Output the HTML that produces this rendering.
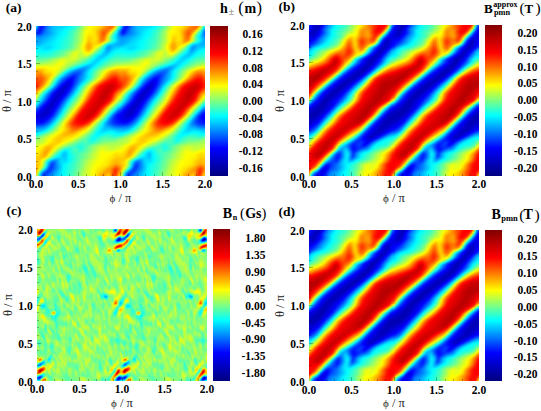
<!DOCTYPE html>
<html><head><meta charset="utf-8"><style>
html,body{margin:0;padding:0;background:#fff;}
body{width:541px;height:411px;position:relative;overflow:hidden;font-family:'Liberation Serif',serif;}
.t{position:absolute;white-space:nowrap;line-height:1;color:#000;}
.b{font-weight:bold;}
.tk{font-size:11.5px;font-weight:bold;}
.hm{position:absolute;display:flex;flex-direction:column;overflow:hidden;}
.hm i{display:block;height:1px;flex:none;background-size:50% 100%!important;background-repeat:repeat-x!important;}
.tm{position:absolute;background:rgba(0,0,0,0.28);}
.cb{position:absolute;background:linear-gradient(to top,#000080 0%,#0000ff 18.5%,#00ffff 40%,#ffff00 60%,#ff0000 81.5%,#800000 100%);}
.ax{position:absolute;font-size:12.5px;color:#222;white-space:nowrap;line-height:1;}
.a0{background:linear-gradient(90deg,#07fff8,#0077ff,#0026ff,#0009ff,#0028ff,#0056ff,#007dff,#0098ff,#00aeff,#00c0ff,#00caff,#00ceff,#00d2ff,#00d6ff,#00dbff,#00e1ff,#00eaff,#00f4ff,#01fffe,#12ffed,#26ffd9,#3bffc4,#54ffab,#75ff8a,#99ff66,#bbff44,#d8ff27,#f1ff0e,#fffc00,#fff400,#ffed00,#ffe500,#ffdb00,#ffca00,#ffb300,#ff9c00,#ff8700,#ff7500,#ff6600,#ff6900,#ffad00,#d9ff26,#4cffb3,#07fff8)}
.a1{background:linear-gradient(90deg,#00e6ff,#0062ff,#001dff,#000eff,#0031ff,#005dff,#0082ff,#009bff,#00b1ff,#00c2ff,#00cbff,#00cfff,#00d4ff,#00d9ff,#00dfff,#00e7ff,#00f0ff,#00fbff,#09fff6,#1affe5,#2effd1,#43ffbc,#5effa1,#7fff80,#a2ff5d,#c3ff3c,#e0ff1f,#f7ff08,#fffa00,#fff200,#ffea00,#ffe100,#ffd400,#ffc100,#ffa900,#ff9300,#ff8000,#ff7200,#ff6900,#ff7d00,#ffcc00,#b7ff48,#2effd1,#00e6ff)}
.a2{background:linear-gradient(90deg,#00c1ff,#0049ff,#0015ff,#0016ff,#003dff,#0067ff,#0088ff,#009fff,#00b3ff,#00c3ff,#00ccff,#00d2ff,#00d8ff,#00deff,#00e6ff,#00efff,#00f9ff,#06fff9,#14ffeb,#25ffda,#39ffc6,#4fffb0,#6bff94,#8bff74,#adff52,#cfff30,#eaff15,#fdff02,#fff600,#ffef00,#ffe700,#ffdb00,#ffc900,#ffb400,#ff9b00,#ff8600,#ff7800,#ff7000,#ff7400,#ff9d00,#fff900,#8dff72,#0bfff4,#00c1ff)}
.a3{background:linear-gradient(90deg,#009eff,#0032ff,#000fff,#0020ff,#0049ff,#0070ff,#008cff,#00a1ff,#00b4ff,#00c3ff,#00ccff,#00d5ff,#00ddff,#00e5ff,#00eeff,#00f9ff,#05fffa,#12ffed,#21ffde,#32ffcd,#45ffba,#5cffa3,#78ff87,#98ff67,#b9ff46,#daff25,#f4ff0b,#fffc00,#fff300,#ffec00,#ffe300,#ffd300,#ffbd00,#ffa400,#ff8a00,#ff7700,#ff7100,#ff7500,#ff8c00,#ffcb00,#d1ff2e,#60ff9f,#00e7ff,#009eff)}
.a4{background:linear-gradient(90deg,#0082ff,#001fff,#000eff,#002cff,#0055ff,#0078ff,#008fff,#00a1ff,#00b4ff,#00c2ff,#00cdff,#00d8ff,#00e2ff,#00ecff,#00f6ff,#02fffd,#0efff1,#1dffe2,#2dffd2,#3dffc2,#50ffaf,#68ff97,#83ff7c,#a1ff5e,#c3ff3c,#e5ff1a,#fbff04,#fff900,#fff200,#ffeb00,#ffe000,#ffcb00,#ffb100,#ff9600,#ff7900,#ff6900,#ff6e00,#ff8100,#ffae00,#fffe00,#9cff63,#39ffc6,#00c9ff,#0082ff)}
.a5{background:linear-gradient(90deg,#006dff,#0013ff,#0012ff,#0037ff,#005eff,#007cff,#008fff,#00a0ff,#00b2ff,#00c1ff,#00ceff,#00dcff,#00e8ff,#00f2ff,#00fcff,#08fff7,#14ffeb,#24ffdb,#34ffcb,#45ffba,#59ffa6,#70ff8f,#8bff74,#a8ff57,#caff35,#edff12,#fffe00,#fff700,#fff100,#ffeb00,#ffdf00,#ffc600,#ffa900,#ff8a00,#ff6b00,#ff5e00,#ff7000,#ff9600,#ffd600,#ceff31,#6eff91,#18ffe7,#00b2ff,#006dff)}
.a6{background:linear-gradient(90deg,#0060ff,#0011ff,#001cff,#0043ff,#0067ff,#007fff,#0090ff,#009fff,#00b0ff,#00c0ff,#00d0ff,#00dfff,#00ecff,#00f5ff,#00ffff,#09fff6,#16ffe9,#27ffd8,#38ffc7,#4affb5,#5effa1,#75ff8a,#8fff70,#abff54,#ceff31,#f2ff0d,#fffc00,#fff500,#fff000,#ffec00,#ffe000,#ffc400,#ffa400,#ff8300,#ff6100,#ff5a00,#ff7900,#ffaf00,#fffe00,#a0ff5f,#48ffb7,#00feff,#00a3ff,#0060ff)}
.a7{background:linear-gradient(90deg,#005dff,#001cff,#002eff,#0053ff,#0071ff,#0084ff,#0093ff,#00a2ff,#00b2ff,#00c2ff,#00d2ff,#00e2ff,#00efff,#00f7ff,#00ffff,#09fff6,#16ffe9,#27ffd8,#39ffc6,#4cffb3,#61ff9e,#78ff87,#91ff6e,#aeff51,#d2ff2d,#f4ff0b,#fffa00,#fff200,#ffee00,#ffec00,#ffe200,#ffc600,#ffa400,#ff8000,#ff5c00,#ff5a00,#ff8600,#ffcc00,#daff25,#79ff86,#2affd5,#00ebff,#009bff,#005dff)}
.a8{background:linear-gradient(90deg,#0064ff,#0034ff,#0048ff,#0067ff,#007eff,#008dff,#009aff,#00a8ff,#00b7ff,#00c7ff,#00d6ff,#00e5ff,#00f0ff,#00f9ff,#02fffd,#0bfff4,#18ffe7,#29ffd6,#3bffc4,#4effb1,#64ff9b,#7bff84,#93ff6c,#b1ff4e,#d5ff2a,#f6ff09,#fff600,#ffec00,#ffe900,#ffea00,#ffe300,#ffc900,#ffa500,#ff7f00,#ff5c00,#ff6000,#ff9900,#ffeb00,#b5ff4a,#5affa5,#14ffeb,#00deff,#0099ff,#0064ff)}
.a9{background:linear-gradient(90deg,#0073ff,#0054ff,#0065ff,#007bff,#008bff,#0098ff,#00a4ff,#00b1ff,#00bfff,#00cdff,#00dbff,#00e8ff,#00f2ff,#00fbff,#05fffa,#0ffff0,#1cffe3,#2cffd3,#3dffc2,#51ffae,#67ff98,#7eff81,#97ff68,#b4ff4b,#d7ff28,#f7ff08,#fff200,#ffe400,#ffe300,#ffe700,#ffe400,#ffcc00,#ffa600,#ff7f00,#ff5f00,#ff6a00,#ffae00,#f5ff0a,#95ff6a,#41ffbe,#05fffa,#00d6ff,#009cff,#0073ff)}
.a10{background:linear-gradient(90deg,#0085ff,#0072ff,#007eff,#008cff,#0098ff,#00a3ff,#00afff,#00bbff,#00c7ff,#00d3ff,#00dfff,#00ebff,#00f5ff,#00feff,#09fff6,#14ffeb,#21ffde,#30ffcf,#40ffbf,#54ffab,#6aff95,#81ff7e,#9aff65,#b8ff47,#d9ff26,#f8ff07,#ffee00,#ffdc00,#ffdc00,#ffe500,#ffe500,#ffcf00,#ffa800,#ff7f00,#ff6300,#ff7500,#ffc200,#ddff22,#7fff80,#33ffcc,#00fcff,#00d3ff,#00a2ff,#0085ff)}
.a11{background:linear-gradient(90deg,#0095ff,#0088ff,#008fff,#0098ff,#00a2ff,#00adff,#00b8ff,#00c3ff,#00ceff,#00d9ff,#00e4ff,#00efff,#00f8ff,#03fffc,#0efff1,#19ffe6,#26ffd9,#33ffcc,#42ffbd,#56ffa9,#6cff93,#83ff7c,#9cff63,#b9ff46,#daff25,#f9ff06,#ffe900,#ffd500,#ffd800,#ffe300,#ffe600,#ffd100,#ffaa00,#ff8000,#ff6800,#ff7f00,#ffd100,#cfff30,#74ff8b,#2fffd0,#00fcff,#00d5ff,#00aaff,#0095ff)}
.a12{background:linear-gradient(90deg,#009fff,#0096ff,#009aff,#00a1ff,#00abff,#00b5ff,#00c0ff,#00caff,#00d4ff,#00deff,#00e9ff,#00f3ff,#00fcff,#07fff8,#12ffed,#1dffe2,#29ffd6,#35ffca,#43ffbc,#57ffa8,#6dff92,#84ff7b,#9cff63,#b9ff46,#daff25,#faff05,#ffe600,#ffcf00,#ffd500,#ffe300,#ffe600,#ffd300,#ffac00,#ff8100,#ff6f00,#ff8a00,#ffd800,#ccff33,#75ff8a,#33ffcc,#02fffd,#00daff,#00b1ff,#009fff)}
.a13{background:linear-gradient(90deg,#00a5ff,#009cff,#00a0ff,#00a8ff,#00b2ff,#00bcff,#00c6ff,#00d0ff,#00daff,#00e4ff,#00edff,#00f7ff,#02fffd,#0cfff3,#16ffe9,#21ffde,#2cffd3,#37ffc8,#44ffbb,#58ffa7,#6eff91,#85ff7a,#9cff63,#b9ff46,#daff25,#fbff04,#ffe200,#ffcb00,#ffd300,#ffe200,#ffe400,#ffd400,#ffad00,#ff8300,#ff7900,#ff9700,#ffe000,#cbff34,#78ff87,#38ffc7,#07fff8,#00deff,#00b6ff,#00a5ff)}
.a14{background:linear-gradient(90deg,#00a7ff,#00a0ff,#00a5ff,#00aeff,#00b8ff,#00c3ff,#00cdff,#00d6ff,#00dfff,#00e9ff,#00f2ff,#00fbff,#06fff9,#0ffff0,#19ffe6,#24ffdb,#2effd1,#38ffc7,#46ffb9,#5affa5,#70ff8f,#86ff79,#9eff61,#baff45,#dbff24,#feff01,#ffde00,#ffc600,#ffd000,#ffe000,#ffe100,#ffd200,#ffae00,#ff8a00,#ff8a00,#ffae00,#fff200,#bdff42,#6eff91,#32ffcd,#04fffb,#00dcff,#00b7ff,#00a7ff)}
.a15{background:linear-gradient(90deg,#00a8ff,#00a4ff,#00aaff,#00b3ff,#00beff,#00c9ff,#00d3ff,#00dcff,#00e4ff,#00edff,#00f6ff,#00ffff,#09fff6,#12ffed,#1cffe3,#26ffd9,#2fffd0,#3affc5,#48ffb7,#5dffa2,#73ff8c,#8aff75,#a1ff5e,#beff41,#dfff20,#fffc00,#ffd700,#ffbf00,#ffcb00,#ffdc00,#ffdd00,#ffcf00,#ffb000,#ff9900,#ffa500,#ffd300,#e5ff1a,#98ff67,#51ffae,#1dffe2,#00f6ff,#00d4ff,#00b4ff,#00a8ff)}
.a16{background:linear-gradient(90deg,#00a9ff,#00a8ff,#00afff,#00baff,#00c6ff,#00d0ff,#00d9ff,#00e1ff,#00e9ff,#00f1ff,#00f9ff,#02fffd,#0bfff4,#15ffea,#1effe1,#27ffd8,#31ffce,#3cffc3,#4cffb3,#61ff9e,#78ff87,#8fff70,#a7ff58,#c4ff3b,#e5ff1a,#fff500,#ffce00,#ffb600,#ffc400,#ffd600,#ffd900,#ffce00,#ffb800,#ffb100,#ffce00,#f5ff0a,#a9ff56,#5effa1,#22ffdd,#00fcff,#00e1ff,#00c8ff,#00b1ff,#00a9ff)}
.a17{background:linear-gradient(90deg,#00abff,#00adff,#00b6ff,#00c2ff,#00ceff,#00d7ff,#00deff,#00e4ff,#00ecff,#00f3ff,#00fbff,#04fffb,#0dfff2,#16ffe9,#20ffdf,#29ffd6,#32ffcd,#3fffc0,#51ffae,#66ff99,#7dff82,#95ff6a,#aeff51,#ccff33,#ecff13,#ffed00,#ffc300,#ffad00,#ffbe00,#ffd100,#ffd900,#ffd300,#ffc700,#ffd300,#fbff04,#b1ff4e,#60ff9f,#1bffe4,#00f0ff,#00deff,#00ceff,#00bdff,#00afff,#00abff)}
.a18{background:linear-gradient(90deg,#00b0ff,#00b6ff,#00c0ff,#00ccff,#00d6ff,#00dcff,#00e0ff,#00e6ff,#00edff,#00f4ff,#00fbff,#05fffa,#0efff1,#17ffe8,#21ffde,#2affd5,#34ffcb,#41ffbe,#55ffaa,#6aff95,#81ff7e,#9aff65,#b4ff4b,#d3ff2c,#f3ff0c,#ffe500,#ffba00,#ffa600,#ffb800,#ffcf00,#ffdd00,#ffdd00,#ffde00,#fffd00,#c1ff3e,#6dff92,#1cffe3,#00e0ff,#00caff,#00c8ff,#00c2ff,#00b7ff,#00b1ff,#00b0ff)}
.a19{background:linear-gradient(90deg,#00bbff,#00c3ff,#00ceff,#00d7ff,#00dcff,#00deff,#00dfff,#00e4ff,#00ecff,#00f3ff,#00fbff,#04fffb,#0efff1,#18ffe7,#22ffdd,#2cffd3,#36ffc9,#44ffbb,#57ffa8,#6cff93,#84ff7b,#9dff62,#b8ff47,#d8ff27,#faff05,#ffde00,#ffb400,#ffa100,#ffb400,#ffcf00,#ffe400,#ffec00,#fffb00,#d3ff2c,#89ff76,#35ffca,#00e8ff,#00b9ff,#00b4ff,#00bdff,#00bdff,#00b9ff,#00b9ff,#00bbff)}
.a20{background:linear-gradient(90deg,#00caff,#00d3ff,#00dbff,#00e0ff,#00e0ff,#00deff,#00dcff,#00e1ff,#00e9ff,#00f2ff,#00faff,#04fffb,#0efff1,#18ffe7,#23ffdc,#2effd1,#39ffc6,#47ffb8,#59ffa6,#6dff92,#85ff7a,#9fff60,#baff45,#dcff23,#ffff00,#ffd900,#ffb100,#ffa000,#ffb300,#ffd200,#ffed00,#ffff00,#e0ff1f,#a6ff59,#5bffa4,#0efff1,#00c7ff,#00a3ff,#00aaff,#00baff,#00bfff,#00c1ff,#00c6ff,#00caff)}
.a21{background:linear-gradient(90deg,#00dbff,#00e3ff,#00e7ff,#00e6ff,#00e2ff,#00ddff,#00dbff,#00e0ff,#00e9ff,#00f2ff,#00fbff,#06fff9,#11ffee,#1bffe4,#27ffd8,#32ffcd,#3effc1,#4dffb2,#5dffa2,#71ff8e,#89ff76,#a3ff5c,#bdff42,#deff21,#fffc00,#ffd700,#ffb200,#ffa100,#ffb600,#ffd900,#fffa00,#e6ff19,#bbff44,#7dff82,#39ffc6,#00f4ff,#00b4ff,#0099ff,#00a8ff,#00bcff,#00c7ff,#00ceff,#00d6ff,#00dbff)}
.a22{background:linear-gradient(90deg,#00ebff,#00efff,#00efff,#00ebff,#00e4ff,#00deff,#00deff,#00e4ff,#00eeff,#00f7ff,#02fffd,#0dfff2,#17ffe8,#23ffdc,#2fffd0,#3bffc4,#48ffb7,#56ffa9,#67ff98,#7aff85,#93ff6c,#abff54,#c1ff3e,#dfff20,#fffc00,#ffd900,#ffb600,#ffa600,#ffbd00,#ffe500,#f1ff0e,#c9ff36,#96ff69,#5bffa4,#21ffde,#00e4ff,#00aaff,#0097ff,#00adff,#00c4ff,#00d3ff,#00ddff,#00e6ff,#00ebff)}
.a23{background:linear-gradient(90deg,#00f7ff,#00f9ff,#00f5ff,#00efff,#00e9ff,#00e5ff,#00e7ff,#00efff,#00f8ff,#03fffc,#0efff1,#18ffe7,#23ffdc,#2fffd0,#3bffc4,#48ffb7,#56ffa9,#66ff99,#77ff88,#8cff73,#a4ff5b,#baff45,#c8ff37,#dcff23,#fcff03,#ffdf00,#ffbd00,#ffb000,#ffcb00,#fff800,#d9ff26,#aaff55,#75ff8a,#41ffbe,#10ffef,#00d9ff,#00a6ff,#009dff,#00b7ff,#00d0ff,#00e0ff,#00ebff,#00f3ff,#00f7ff)}
.a24{background:linear-gradient(90deg,#01fffe,#01fffe,#00fbff,#00f6ff,#00f2ff,#00f1ff,#00f5ff,#00fdff,#08fff7,#12ffed,#1dffe2,#28ffd7,#33ffcc,#3effc1,#4bffb4,#59ffa6,#68ff97,#79ff86,#8bff74,#a2ff5d,#baff45,#cbff34,#cdff32,#d7ff28,#f4ff0b,#ffe800,#ffc800,#ffbf00,#ffdf00,#efff10,#beff41,#8cff73,#59ffa6,#2dffd2,#02fffd,#00d1ff,#00a7ff,#00a8ff,#00c5ff,#00deff,#00edff,#00f6ff,#00fdff,#01fffe)}
.a25{background:linear-gradient(90deg,#09fff6,#07fff8,#03fffc,#00feff,#00fdff,#00ffff,#05fffa,#0dfff2,#16ffe9,#20ffdf,#2bffd4,#36ffc9,#42ffbd,#4dffb2,#5affa5,#69ff96,#7aff85,#8cff73,#a0ff5f,#b8ff47,#cfff30,#d8ff27,#ceff31,#cfff30,#eaff15,#fff200,#ffd500,#ffd300,#fff900,#d3ff2c,#a0ff5f,#6eff91,#40ffbf,#1bffe4,#00f4ff,#00caff,#00acff,#00b6ff,#00d4ff,#00ebff,#00f8ff,#01fffe,#07fff8,#09fff6)}
.a26{background:linear-gradient(90deg,#10ffef,#0efff1,#0bfff4,#09fff6,#0afff5,#0dfff2,#12ffed,#19ffe6,#21ffde,#2bffd4,#36ffc9,#41ffbe,#4dffb2,#58ffa7,#65ff9a,#76ff89,#89ff76,#9cff63,#b1ff4e,#c9ff36,#deff21,#deff21,#ccff33,#c8ff37,#e1ff1e,#fffd00,#ffe600,#ffed00,#e8ff17,#b4ff4b,#81ff7e,#52ffad,#29ffd6,#09fff6,#00e6ff,#00c4ff,#00b4ff,#00c6ff,#00e2ff,#00f6ff,#02fffd,#0afff5,#0ffff0,#10ffef)}
.a27{background:linear-gradient(90deg,#18ffe7,#16ffe9,#14ffeb,#13ffec,#14ffeb,#17ffe8,#1bffe4,#20ffdf,#28ffd7,#32ffcd,#3dffc2,#48ffb7,#54ffab,#5fffa0,#6cff93,#7eff81,#93ff6c,#a7ff58,#bcff43,#d4ff2b,#e6ff19,#deff21,#c8ff37,#c2ff3d,#d9ff26,#f4ff0b,#fffb00,#f3ff0c,#c7ff38,#94ff6b,#62ff9d,#36ffc9,#13ffec,#00f5ff,#00d8ff,#00c1ff,#00bfff,#00d5ff,#00eeff,#00ffff,#0afff5,#12ffed,#17ffe8,#18ffe7)}
.a28{background:linear-gradient(90deg,#20ffdf,#1effe1,#1cffe3,#1cffe3,#1dffe2,#1fffe0,#22ffdd,#26ffd9,#2dffd2,#37ffc8,#43ffbc,#4effb1,#59ffa6,#65ff9a,#73ff8c,#86ff79,#9bff64,#afff50,#c4ff3b,#daff25,#e6ff19,#daff25,#c3ff3c,#bdff42,#d0ff2f,#e5ff1a,#eaff15,#d1ff2e,#a4ff5b,#73ff8c,#43ffbc,#1cffe3,#00fcff,#00e3ff,#00ccff,#00c3ff,#00ccff,#00e3ff,#00f8ff,#08fff7,#13ffec,#1cffe3,#20ffdf,#20ffdf)}
.a29{background:linear-gradient(90deg,#29ffd6,#28ffd7,#26ffd9,#25ffda,#26ffd9,#28ffd7,#2affd5,#2effd1,#35ffca,#40ffbf,#4cffb3,#57ffa8,#63ff9c,#70ff8f,#7eff81,#91ff6e,#a4ff5b,#b7ff48,#caff35,#dcff23,#e2ff1d,#d4ff2b,#c0ff3f,#baff45,#c6ff39,#d3ff2c,#ceff31,#afff50,#83ff7c,#54ffab,#28ffd7,#05fffa,#00eaff,#00d5ff,#00c8ff,#00caff,#00daff,#00efff,#04fffb,#12ffed,#1effe1,#26ffd9,#29ffd6,#29ffd6)}
.a30{background:linear-gradient(90deg,#33ffcc,#32ffcd,#31ffce,#30ffcf,#31ffce,#33ffcc,#36ffc9,#3bffc4,#43ffbc,#4fffb0,#5cffa3,#68ff97,#75ff8a,#83ff7c,#92ff6d,#a2ff5d,#b1ff4e,#bfff40,#ceff31,#dbff24,#ddff22,#cfff30,#bdff42,#b6ff49,#baff45,#bcff43,#aeff51,#8dff72,#64ff9b,#39ffc6,#12ffed,#00f3ff,#00dcff,#00ceff,#00cbff,#00d6ff,#00e8ff,#00fcff,#0ffff0,#1effe1,#29ffd6,#31ffce,#33ffcc,#33ffcc)}
.a31{background:linear-gradient(90deg,#3effc1,#3dffc2,#3dffc2,#3effc1,#3fffc0,#42ffbd,#47ffb8,#4effb1,#59ffa6,#66ff99,#74ff8b,#81ff7e,#8fff70,#9dff62,#acff53,#b7ff48,#bfff40,#c7ff38,#d1ff2e,#daff25,#d8ff27,#caff35,#b9ff46,#aeff51,#aaff55,#a2ff5d,#8eff71,#6eff91,#49ffb6,#23ffdc,#01fffe,#00e6ff,#00d4ff,#00cfff,#00d5ff,#00e5ff,#00f7ff,#0cfff3,#1dffe2,#2bffd4,#35ffca,#3bffc4,#3effc1,#3effc1)}
.a32{background:linear-gradient(90deg,#4affb5,#4affb5,#4bffb4,#4dffb2,#50ffaf,#54ffab,#5bffa4,#66ff99,#73ff8c,#81ff7e,#8fff70,#9dff62,#acff53,#bbff44,#c6ff39,#c9ff36,#c8ff37,#cbff34,#d3ff2c,#d8ff27,#d3ff2c,#c4ff3b,#b1ff4e,#a1ff5e,#96ff69,#87ff78,#71ff8e,#54ffab,#33ffcc,#11ffee,#00f3ff,#00ddff,#00d3ff,#00d6ff,#00e2ff,#00f4ff,#08fff7,#1bffe4,#2cffd3,#38ffc7,#41ffbe,#47ffb8,#4affb5,#4affb5)}
.a33{background:linear-gradient(90deg,#57ffa8,#58ffa7,#5bffa4,#5effa1,#62ff9d,#68ff97,#71ff8e,#7dff82,#8bff74,#99ff66,#a8ff57,#b7ff48,#c6ff39,#d5ff2a,#daff25,#d4ff2b,#cdff32,#cdff32,#d2ff2d,#d4ff2b,#ccff33,#b9ff46,#a3ff5c,#90ff6f,#80ff7f,#6eff91,#58ffa7,#3effc1,#21ffde,#03fffc,#00e7ff,#00d8ff,#00d6ff,#00e0ff,#00f0ff,#04fffb,#17ffe8,#2affd5,#3affc5,#45ffba,#4dffb2,#53ffac,#56ffa9,#57ffa8)}
.a34{background:linear-gradient(90deg,#65ff9a,#67ff98,#6bff94,#6eff91,#73ff8c,#7bff84,#85ff7a,#91ff6e,#9fff60,#acff53,#baff45,#caff35,#daff25,#e7ff18,#e7ff18,#daff25,#ceff31,#ccff33,#ceff31,#cbff34,#beff41,#a9ff56,#93ff6c,#7fff80,#6dff92,#5affa5,#45ffba,#2cffd3,#11ffee,#00f4ff,#00deff,#00d7ff,#00deff,#00ecff,#00feff,#12ffed,#26ffd9,#38ffc7,#46ffb9,#51ffae,#5affa5,#60ff9f,#64ff9b,#65ff9a)}
.a35{background:linear-gradient(90deg,#74ff8b,#78ff87,#7bff84,#7fff80,#84ff7b,#8cff73,#96ff69,#a1ff5e,#adff52,#b9ff46,#c6ff39,#d6ff29,#e5ff1a,#f1ff0e,#ecff13,#dbff24,#cdff32,#c8ff37,#c5ff3a,#bdff42,#adff52,#98ff67,#83ff7c,#6fff90,#5dffa2,#49ffb6,#34ffcb,#1bffe4,#01fffe,#00e7ff,#00d9ff,#00daff,#00e7ff,#00f8ff,#0cfff3,#20ffdf,#34ffcb,#45ffba,#52ffad,#5effa1,#67ff98,#6eff91,#72ff8d,#74ff8b)}
.a36{background:linear-gradient(90deg,#85ff7a,#89ff76,#8dff72,#90ff6f,#95ff6a,#9cff63,#a5ff5a,#afff50,#b8ff47,#c2ff3d,#cfff30,#deff21,#ecff13,#f5ff0a,#edff12,#d8ff27,#c8ff37,#c0ff3f,#b8ff47,#acff53,#9aff65,#87ff78,#73ff8c,#5fffa0,#4bffb4,#37ffc8,#21ffde,#08fff7,#00efff,#00ddff,#00d7ff,#00e1ff,#00f2ff,#05fffa,#19ffe6,#2effd1,#41ffbe,#52ffad,#60ff9f,#6cff93,#76ff89,#7dff82,#83ff7c,#85ff7a)}
.a37{background:linear-gradient(90deg,#99ff66,#9eff61,#a1ff5e,#a4ff5b,#a8ff57,#aeff51,#b6ff49,#bdff42,#c4ff3b,#ccff33,#d7ff28,#e5ff1a,#f1ff0e,#f5ff0a,#e9ff16,#d4ff2b,#c2ff3d,#b6ff49,#aaff55,#9aff65,#87ff78,#73ff8c,#5fffa0,#4affb5,#35ffca,#20ffdf,#09fff6,#00f1ff,#00dfff,#00d5ff,#00daff,#00eaff,#00fdff,#13ffec,#27ffd8,#3cffc3,#4fffb0,#60ff9f,#6fff90,#7cff83,#87ff78,#8fff70,#96ff69,#99ff66)}
.a38{background:linear-gradient(90deg,#b0ff4f,#b5ff4a,#b8ff47,#baff45,#beff41,#c3ff3c,#c9ff36,#cdff32,#d1ff2e,#d7ff28,#e1ff1e,#edff12,#f4ff0b,#f1ff0e,#e2ff1d,#cdff32,#baff45,#abff54,#9aff65,#86ff79,#71ff8e,#5bffa4,#45ffba,#2fffd0,#19ffe6,#03fffc,#00ecff,#00daff,#00d0ff,#00d3ff,#00e1ff,#00f5ff,#0bfff4,#21ffde,#36ffc9,#4bffb4,#5fffa0,#70ff8f,#81ff7e,#8fff70,#9bff64,#a5ff5a,#adff52,#b0ff4f)}
.a39{background:linear-gradient(90deg,#cbff34,#cfff30,#d1ff2e,#d3ff2c,#d7ff28,#dbff24,#deff21,#deff21,#deff21,#e3ff1c,#ebff14,#f3ff0c,#f5ff0a,#ebff14,#d9ff26,#c4ff3b,#b1ff4e,#9dff62,#87ff78,#6eff91,#54ffab,#3cffc3,#24ffdb,#0efff1,#00f6ff,#00e1ff,#00cfff,#00c6ff,#00c9ff,#00d7ff,#00ecff,#03fffc,#1affe5,#31ffce,#47ffb8,#5dffa2,#71ff8e,#84ff7b,#96ff69,#a5ff5a,#b3ff4c,#beff41,#c7ff38,#cbff34)}
.a40{background:linear-gradient(90deg,#e7ff18,#eaff15,#ecff13,#edff12,#f0ff0f,#f2ff0d,#f0ff0f,#ecff13,#eaff15,#eeff11,#f4ff0b,#f7ff08,#f1ff0e,#e3ff1c,#cfff30,#bbff44,#a4ff5b,#8aff75,#6dff92,#4fffb0,#32ffcd,#18ffe7,#00ffff,#00e8ff,#00d3ff,#00c1ff,#00b8ff,#00bbff,#00caff,#00e1ff,#00f9ff,#13ffec,#2bffd4,#43ffbc,#5affa5,#71ff8e,#86ff79,#9bff64,#aeff51,#bfff40,#ceff31,#dbff24,#e4ff1b,#e7ff18)}
.a41{background:linear-gradient(90deg,#fffa00,#fff900,#fff900,#fff700,#fff700,#fffa00,#fdff02,#f7ff08,#f4ff0b,#f6ff09,#f9ff06,#f7ff08,#ecff13,#daff25,#c5ff3a,#adff52,#90ff6f,#6eff91,#4bffb4,#2affd5,#0cfff3,#00f1ff,#00d9ff,#00c4ff,#00b2ff,#00a8ff,#00abff,#00bbff,#00d4ff,#00efff,#0afff5,#24ffdb,#3effc1,#57ffa8,#6fff90,#88ff77,#9fff60,#b6ff49,#caff35,#ddff22,#eeff11,#fbff04,#fffc00,#fffa00)}
.a42{background:linear-gradient(90deg,#ffe000,#ffe100,#ffe000,#ffe000,#ffe500,#ffef00,#fff900,#feff01,#fcff03,#fcff03,#fcff03,#f4ff0b,#e4ff1b,#cfff30,#b6ff49,#98ff67,#72ff8d,#49ffb6,#23ffdc,#01fffe,#00e4ff,#00cbff,#00b5ff,#00a2ff,#0097ff,#0099ff,#00aaff,#00c5ff,#00e3ff,#01fffe,#1cffe3,#37ffc8,#52ffad,#6dff92,#87ff78,#a2ff5d,#bbff44,#d3ff2c,#eaff15,#ffff00,#ffee00,#ffe400,#ffe000,#ffe000)}
.a43{background:linear-gradient(90deg,#ffca00,#ffca00,#ffc800,#ffcd00,#ffd900,#ffe900,#fff400,#fffa00,#fffc00,#fffe00,#fcff03,#efff10,#dbff24,#c2ff3d,#a2ff5d,#79ff86,#4bffb4,#1fffe0,#00f8ff,#00d8ff,#00bdff,#00a7ff,#0093ff,#0086ff,#0086ff,#0097ff,#00b3ff,#00d4ff,#00f4ff,#12ffed,#2effd1,#4bffb4,#67ff98,#84ff7b,#a1ff5e,#bdff42,#d9ff26,#f3ff0c,#fff100,#ffdc00,#ffcd00,#ffc600,#ffc700,#ffca00)}
.a44{background:linear-gradient(90deg,#ffb700,#ffb600,#ffb300,#ffbe00,#ffd200,#ffe400,#ffef00,#fff300,#fff700,#fffb00,#faff05,#e9ff16,#d0ff2f,#b0ff4f,#85ff7a,#52ffad,#20ffdf,#00f4ff,#00d0ff,#00b2ff,#0099ff,#0087ff,#0078ff,#0073ff,#0081ff,#009dff,#00bfff,#00e3ff,#03fffc,#21ffde,#3fffc0,#5dffa2,#7cff83,#9aff65,#b9ff46,#d7ff28,#f5ff0a,#ffeb00,#ffd000,#ffbb00,#ffaf00,#ffab00,#ffb300,#ffb700)}
.a45{background:linear-gradient(90deg,#ffa800,#ffa500,#ffa100,#ffb100,#ffca00,#ffdf00,#ffe700,#ffeb00,#fff000,#fff800,#f8ff07,#e1ff1e,#c1ff3e,#98ff67,#62ff9d,#29ffd6,#00f7ff,#00ceff,#00adff,#0090ff,#007bff,#006dff,#0065ff,#006bff,#0083ff,#00a6ff,#00cbff,#00eeff,#0efff1,#2dffd2,#4cffb3,#6dff92,#8dff72,#adff52,#ceff31,#eeff11,#ffef00,#ffcf00,#ffb200,#ff9f00,#ff9500,#ff9400,#ffa100,#ffa800)}
.a46{background:linear-gradient(90deg,#ff9b00,#ff9700,#ff9300,#ffa500,#ffc000,#ffd500,#ffdd00,#ffe200,#ffe900,#fff500,#f4ff0b,#d5ff2a,#acff53,#78ff87,#3bffc4,#03fffc,#00d3ff,#00aeff,#008eff,#0073ff,#0061ff,#005aff,#005aff,#006aff,#008aff,#00aeff,#00d3ff,#00f5ff,#15ffea,#35ffca,#56ffa9,#79ff86,#9aff65,#bcff43,#deff21,#fffd00,#ffda00,#ffb800,#ff9b00,#ff8700,#ff7e00,#ff8000,#ff9100,#ff9b00)}
.a47{background:linear-gradient(90deg,#ff8e00,#ff8d00,#ff8700,#ff9800,#ffb300,#ffc900,#ffd200,#ffd900,#ffe300,#fff600,#ebff14,#c3ff3c,#90ff6f,#53ffac,#15ffea,#00dfff,#00b4ff,#0091ff,#0073ff,#005aff,#004cff,#004dff,#0056ff,#006fff,#0091ff,#00b4ff,#00d8ff,#00f8ff,#19ffe6,#3bffc4,#5effa1,#82ff7d,#a5ff5a,#c8ff37,#ebff14,#ffee00,#ffc800,#ffa400,#ff8700,#ff7300,#ff6b00,#ff6d00,#ff8200,#ff8e00)}
.a48{background:linear-gradient(90deg,#ff8200,#ff8400,#ff7c00,#ff8a00,#ffa500,#ffbc00,#ffc700,#ffd100,#ffe100,#fffc00,#dbff24,#a9ff56,#6cff93,#2bffd4,#00efff,#00bfff,#0097ff,#0076ff,#0059ff,#0042ff,#003cff,#0045ff,#0058ff,#0076ff,#0097ff,#00b9ff,#00dbff,#00faff,#1cffe3,#40ffbf,#65ff9a,#8aff75,#aeff51,#d3ff2c,#f8ff07,#ffde00,#ffb600,#ff9100,#ff7500,#ff6000,#ff5800,#ff5b00,#ff7200,#ff8200)}
.a49{background:linear-gradient(90deg,#ff7700,#ff7b00,#ff7200,#ff7c00,#ff9600,#ffaf00,#ffbe00,#ffcd00,#ffe500,#f5ff0a,#c4ff3b,#87ff78,#45ffba,#04fffb,#00ccff,#00a0ff,#007bff,#005cff,#0040ff,#002dff,#0031ff,#0043ff,#005dff,#007dff,#009dff,#00bcff,#00ddff,#00fbff,#1fffe0,#45ffba,#6dff92,#93ff6c,#b8ff47,#deff21,#fff900,#ffce00,#ffa300,#ff7f00,#ff6200,#ff4d00,#ff4600,#ff4900,#ff6300,#ff7700)}
.a50{background:linear-gradient(90deg,#ff6b00,#ff7200,#ff6900,#ff6f00,#ff8800,#ffa300,#ffb700,#ffcd00,#ffee00,#e1ff1e,#a5ff5a,#61ff9e,#1cffe3,#00deff,#00acff,#0083ff,#0061ff,#0042ff,#0027ff,#001dff,#002bff,#0045ff,#0064ff,#0084ff,#00a2ff,#00c0ff,#00dfff,#00feff,#23ffdc,#4cffb3,#75ff8a,#9dff62,#c3ff3c,#eaff15,#ffe900,#ffbb00,#ff9000,#ff6c00,#ff4e00,#ff3900,#ff3400,#ff3700,#ff5400,#ff6b00)}
.a51{background:linear-gradient(90deg,#ff5f00,#ff6900,#ff6100,#ff6400,#ff7d00,#ff9a00,#ffb400,#ffd200,#fffd00,#c6ff39,#81ff7e,#39ffc6,#00f5ff,#00bcff,#008eff,#0068ff,#0047ff,#0029ff,#0012ff,#0013ff,#002aff,#0049ff,#006aff,#008aff,#00a7ff,#00c4ff,#00e2ff,#04fffb,#2bffd4,#56ffa9,#81ff7e,#a9ff56,#d1ff2e,#fbff04,#ffd500,#ffa500,#ff7a00,#ff5800,#ff3a00,#ff2700,#ff2400,#ff2700,#ff4600,#ff5f00)}
.a52{background:linear-gradient(90deg,#ff5400,#ff5f00,#ff5900,#ff5c00,#ff7600,#ff9500,#ffb500,#ffdc00,#edff12,#a9ff56,#5effa1,#15ffea,#00d4ff,#009eff,#0073ff,#004fff,#002fff,#0012ff,#0002ff,#000fff,#002dff,#004fff,#0071ff,#008fff,#00acff,#00caff,#00eaff,#0efff1,#38ffc7,#65ff9a,#90ff6f,#baff45,#e4ff1b,#ffed00,#ffbc00,#ff8c00,#ff6400,#ff4300,#ff2700,#ff1700,#ff1500,#ff1900,#ff3a00,#ff5400)}
.a53{background:linear-gradient(90deg,#ff4800,#ff5400,#ff5200,#ff5900,#ff7400,#ff9600,#ffbb00,#ffe900,#d7ff28,#8cff73,#3effc1,#00f5ff,#00b8ff,#0084ff,#005bff,#0039ff,#001aff,#0000fe,#0000f8,#0010ff,#0031ff,#0055ff,#0077ff,#0096ff,#00b4ff,#00d4ff,#00f6ff,#1fffe0,#4cffb3,#79ff86,#a6ff59,#d1ff2e,#feff01,#ffd000,#ff9e00,#ff7000,#ff4b00,#ff2e00,#ff1600,#ff0a00,#ff0900,#ff0e00,#ff3000,#ff4800)}
.a54{background:linear-gradient(90deg,#ff3d00,#ff4b00,#ff4d00,#ff5a00,#ff7800,#ff9c00,#ffc500,#fffa00,#bfff40,#70ff8f,#22ffdd,#00dbff,#009fff,#006dff,#0045ff,#0024ff,#0007ff,#0000f1,#0000f6,#0013ff,#0036ff,#005bff,#007eff,#009fff,#00c0ff,#00e2ff,#0afff5,#36ffc9,#64ff9b,#93ff6c,#c0ff3f,#eeff11,#ffe000,#ffae00,#ff7d00,#ff5200,#ff3300,#ff1b00,#ff0800,#fe0000,#ff0000,#ff0700,#ff2700,#ff3d00)}
.a55{background:linear-gradient(90deg,#ff3200,#ff4200,#ff4a00,#ff5d00,#ff7e00,#ffa500,#ffd300,#f0ff0f,#a6ff59,#56ffa9,#09fff6,#00c3ff,#0088ff,#0058ff,#0031ff,#0011ff,#0000f5,#0000e8,#0000f7,#0017ff,#003bff,#0062ff,#0087ff,#00abff,#00cfff,#00f6ff,#22ffdd,#51ffae,#81ff7e,#b0ff4f,#dfff20,#ffef00,#ffbd00,#ff8a00,#ff5b00,#ff3700,#ff1e00,#ff0a00,#fb0000,#f50000,#f70000,#ff0100,#ff1f00,#ff3200)}
.a56{background:linear-gradient(90deg,#ff2800,#ff3c00,#ff4a00,#ff6300,#ff8600,#ffb100,#ffe300,#daff25,#8dff72,#3dffc2,#00efff,#00abff,#0072ff,#0043ff,#001dff,#0000fe,#0000e7,#0000e4,#0000fa,#001bff,#0042ff,#006cff,#0093ff,#00baff,#00e2ff,#0ffff0,#3effc1,#6fff90,#a0ff5f,#d0ff2f,#fffd00,#ffcb00,#ff9700,#ff6600,#ff3c00,#ff1e00,#ff0b00,#fb0000,#f00000,#ec0000,#ef0000,#fa0000,#ff1800,#ff2800)}
.a57{background:linear-gradient(90deg,#ff2000,#ff3800,#ff4c00,#ff6a00,#ff9100,#ffbf00,#fff600,#c2ff3d,#73ff8c,#23ffdc,#00d6ff,#0093ff,#005bff,#002dff,#000aff,#0000ee,#0000dd,#0000e4,#0000fd,#0020ff,#004aff,#0077ff,#00a3ff,#00cdff,#00faff,#2affd5,#5cffa3,#8eff71,#c0ff3f,#f2ff0d,#ffda00,#ffa500,#ff7200,#ff4400,#ff2100,#ff0b00,#fb0000,#ef0000,#e70000,#e30000,#e90000,#f50000,#ff1100,#ff2000)}
.a58{background:linear-gradient(90deg,#ff1a00,#ff3700,#ff5200,#ff7400,#ff9e00,#ffd100,#f1ff0e,#a7ff58,#57ffa8,#07fff8,#00bbff,#007aff,#0044ff,#0019ff,#0000f8,#0000e0,#0000d7,#0000e6,#0002ff,#0026ff,#0055ff,#0086ff,#00b4ff,#00e3ff,#14ffeb,#46ffb9,#7aff85,#adff52,#e0ff1f,#ffea00,#ffb600,#ff8100,#ff4e00,#ff2600,#ff0c00,#fa0000,#ef0000,#e50000,#de0000,#dc0000,#e40000,#f10000,#ff0b00,#ff1a00)}
.a59{background:linear-gradient(90deg,#ff1800,#ff3b00,#ff5b00,#ff8100,#ffb000,#ffe800,#d4ff2b,#87ff78,#37ffc8,#00e8ff,#009fff,#0060ff,#002dff,#0005ff,#0000e8,#0000d5,#0000d5,#0000ea,#0008ff,#0030ff,#0062ff,#0096ff,#00c7ff,#00f9ff,#2dffd2,#61ff9e,#96ff69,#cbff34,#ffff00,#ffca00,#ff9500,#ff6000,#ff3000,#ff0f00,#fc0000,#ef0000,#e50000,#dc0000,#d60000,#d70000,#e10000,#ef0000,#ff0800,#ff1800)}
.a60{background:linear-gradient(90deg,#ff1e00,#ff4500,#ff6a00,#ff9400,#ffc900,#f7ff08,#b0ff4f,#62ff9d,#14ffeb,#00c7ff,#0081ff,#0047ff,#0018ff,#0000f4,#0000dc,#0000d0,#0000d8,#0000ef,#000fff,#003cff,#0071ff,#00a7ff,#00dbff,#10ffef,#44ffbb,#7aff85,#afff50,#e5ff1a,#ffe400,#ffaf00,#ff7900,#ff4400,#ff1800,#ff0000,#f20000,#e70000,#de0000,#d50000,#d10000,#d50000,#e10000,#f00000,#ff0c00,#ff1e00)}
.a61{background:linear-gradient(90deg,#ff2a00,#ff5400,#ff7e00,#ffae00,#ffe900,#d1ff2e,#86ff79,#38ffc7,#00ecff,#00a4ff,#0063ff,#002eff,#0004ff,#0000e6,#0000d3,#0000cf,#0000de,#0000f7,#001aff,#004bff,#0082ff,#00b8ff,#00edff,#24ffdb,#59ffa6,#8fff70,#c5ff3a,#fbff04,#ffce00,#ff9800,#ff6200,#ff2e00,#ff0900,#f60000,#eb0000,#e10000,#d80000,#d00000,#ce0000,#d60000,#e30000,#f60000,#ff1600,#ff2a00)}
.a62{background:linear-gradient(90deg,#ff3d00,#ff6a00,#ff9800,#ffce00,#eeff11,#a5ff5a,#58ffa7,#0dfff2,#00c4ff,#0082ff,#0047ff,#0017ff,#0000f3,#0000da,#0000ce,#0000d2,#0000e5,#0000ff,#0028ff,#005cff,#0093ff,#00c9ff,#00ffff,#36ffc9,#6cff93,#a2ff5d,#d8ff27,#fff000,#ffba00,#ff8400,#ff4e00,#ff1d00,#fe0000,#f00000,#e60000,#dd0000,#d30000,#cd0000,#ce0000,#d90000,#e90000,#ff0100,#ff2700,#ff3d00)}
.a63{background:linear-gradient(90deg,#ff5400,#ff8300,#ffb600,#fff400,#c2ff3d,#75ff8a,#2affd5,#00e2ff,#009fff,#0062ff,#002cff,#0003ff,#0000e5,#0000d2,#0000cd,#0000d8,#0000ed,#000bff,#0037ff,#006dff,#00a4ff,#00daff,#11ffee,#47ffb8,#7dff82,#b3ff4c,#e9ff16,#ffde00,#ffa800,#ff7200,#ff3d00,#ff1000,#f80000,#ec0000,#e20000,#d80000,#cf0000,#cb0000,#d10000,#de0000,#f10000,#ff1000,#ff3d00,#ff5400)}
.a64{background:linear-gradient(90deg,#ff6e00,#ff9f00,#ffd900,#dfff20,#92ff6d,#46ffb9,#00fdff,#00bbff,#007dff,#0044ff,#0015ff,#0000f2,#0000da,#0000cd,#0000d0,#0000df,#0000f5,#0018ff,#0048ff,#007fff,#00b5ff,#00ebff,#22ffdd,#58ffa7,#8eff71,#c4ff3b,#fbff04,#ffcd00,#ff9700,#ff6100,#ff2d00,#ff0600,#f30000,#e80000,#de0000,#d40000,#cb0000,#cb0000,#d40000,#e50000,#fd0000,#ff2500,#ff5600,#ff6e00)}
.a65{background:linear-gradient(90deg,#ff8800,#ffbe00,#fdff02,#b1ff4e,#63ff9c,#19ffe6,#00d6ff,#0098ff,#005eff,#002aff,#0002ff,#0000e5,#0000d1,#0000cb,#0000d5,#0000e7,#0000ff,#0026ff,#005aff,#0090ff,#00c6ff,#00fcff,#33ffcc,#69ff96,#9fff60,#d5ff2a,#fff300,#ffbc00,#ff8600,#ff5000,#ff1f00,#fe0000,#ef0000,#e40000,#da0000,#cf0000,#c90000,#cc0000,#da0000,#ed0000,#ff0d00,#ff3d00,#ff7000,#ff8800)}
.a66{background:linear-gradient(90deg,#ffa300,#ffe000,#d3ff2c,#84ff7b,#37ffc8,#00f2ff,#00b4ff,#007aff,#0043ff,#0014ff,#0000f2,#0000da,#0000cc,#0000cd,#0000db,#0000ee,#000bff,#0037ff,#006cff,#00a2ff,#00d8ff,#0ffff0,#44ffbb,#7aff85,#b0ff4f,#e5ff1a,#ffe200,#ffab00,#ff7500,#ff4000,#ff1200,#f80000,#eb0000,#e00000,#d60000,#cb0000,#c70000,#d00000,#e00000,#f60000,#ff2000,#ff5700,#ff8a00,#ffa300)}
.a67{background:linear-gradient(90deg,#ffbc00,#fcff03,#acff53,#5bffa4,#12ffed,#00d2ff,#0098ff,#0061ff,#002cff,#0003ff,#0000e6,#0000d2,#0000ca,#0000d2,#0000e2,#0000f7,#0019ff,#0049ff,#007fff,#00b5ff,#00eaff,#20ffdf,#55ffaa,#8aff75,#bfff40,#f5ff0a,#ffd200,#ff9b00,#ff6400,#ff3000,#ff0800,#f30000,#e80000,#dd0000,#d20000,#c80000,#c80000,#d40000,#e60000,#ff0100,#ff3400,#ff6f00,#ffa100,#ffbc00)}
.a68{background:linear-gradient(90deg,#ffd600,#dcff23,#89ff76,#39ffc6,#00f3ff,#00b9ff,#0081ff,#004bff,#0019ff,#0000f5,#0000dd,#0000cc,#0000ca,#0000d8,#0000ea,#0003ff,#002aff,#005eff,#0094ff,#00c9ff,#00feff,#32ffcd,#66ff99,#9aff65,#ceff31,#fffb00,#ffc200,#ff8a00,#ff5300,#ff2100,#ff0000,#f00000,#e50000,#da0000,#cf0000,#c70000,#ca0000,#d90000,#ec0000,#ff0b00,#ff4700,#ff8300,#ffb700,#ffd600)}
.a69{background:linear-gradient(90deg,#ffef00,#c0ff3f,#6cff93,#1effe1,#00dcff,#00a4ff,#006eff,#0038ff,#000bff,#0000ec,#0000d6,#0000c9,#0000ce,#0000de,#0000f2,#0011ff,#003eff,#0073ff,#00a9ff,#00deff,#12ffed,#44ffbb,#76ff89,#a8ff57,#dbff24,#ffed00,#ffb200,#ff7900,#ff4300,#ff1400,#f90000,#ed0000,#e20000,#d70000,#cd0000,#c70000,#ce0000,#de0000,#f10000,#ff1700,#ff5800,#ff9400,#ffcc00,#ffef00)}
.a70{background:linear-gradient(90deg,#f7ff08,#a6ff59,#51ffae,#07fff8,#00c9ff,#0092ff,#005cff,#0028ff,#0000fe,#0000e4,#0000d0,#0000c9,#0000d3,#0000e5,#0000fc,#0022ff,#0054ff,#008aff,#00bfff,#00f3ff,#25ffda,#55ffaa,#86ff79,#b6ff49,#e8ff17,#ffdf00,#ffa100,#ff6800,#ff3300,#ff0a00,#f50000,#ea0000,#e00000,#d50000,#cb0000,#c80000,#d20000,#e30000,#f70000,#ff2400,#ff6800,#ffa500,#ffe300,#f7ff08)}
.a71{background:linear-gradient(90deg,#deff21,#8cff73,#38ffc7,#00f1ff,#00b7ff,#0081ff,#004bff,#0019ff,#0000f5,#0000dd,#0000cc,#0000cb,#0000d9,#0000ed,#000bff,#0036ff,#006aff,#00a0ff,#00d5ff,#08fff7,#37ffc8,#66ff99,#94ff6b,#c3ff3c,#f4ff0b,#ffcf00,#ff9000,#ff5700,#ff2400,#ff0200,#f20000,#e70000,#dd0000,#d30000,#cb0000,#ca0000,#d70000,#e80000,#fe0000,#ff3100,#ff7800,#ffb700,#fffa00,#deff21)}
.a72{background:linear-gradient(90deg,#c6ff39,#71ff8e,#20ffdf,#00deff,#00a6ff,#0070ff,#003aff,#000cff,#0000ec,#0000d7,#0000c9,#0000cf,#0000e0,#0000f7,#001bff,#004bff,#0081ff,#00b7ff,#00eaff,#1bffe4,#48ffb7,#75ff8a,#a2ff5d,#cfff30,#fffd00,#ffbe00,#ff7e00,#ff4600,#ff1700,#fb0000,#ef0000,#e50000,#db0000,#d20000,#ca0000,#ce0000,#dc0000,#ed0000,#ff0700,#ff4100,#ff8900,#ffcc00,#ecff13,#c6ff39)}
.a73{background:linear-gradient(90deg,#abff54,#56ffa9,#09fff6,#00caff,#0093ff,#005dff,#002aff,#0000ff,#0000e5,#0000d1,#0000c9,#0000d4,#0000e8,#0004ff,#002dff,#0061ff,#0097ff,#00ccff,#00feff,#2dffd2,#58ffa7,#84ff7b,#afff50,#dbff24,#ffee00,#ffab00,#ff6b00,#ff3500,#ff0c00,#f60000,#ec0000,#e30000,#d90000,#d00000,#cb0000,#d20000,#e10000,#f30000,#ff1400,#ff5400,#ff9e00,#ffe400,#d3ff2c,#abff54)}
.a74{background:linear-gradient(90deg,#8eff71,#3affc5,#00f1ff,#00b6ff,#007fff,#004aff,#0019ff,#0000f5,#0000de,#0000cd,#0000cb,#0000db,#0000f0,#0012ff,#0041ff,#0076ff,#00acff,#00e1ff,#12ffed,#3dffc2,#68ff97,#92ff6d,#bcff43,#e9ff16,#ffdc00,#ff9700,#ff5900,#ff2500,#ff0300,#f30000,#e90000,#e00000,#d70000,#cf0000,#cd0000,#d70000,#e70000,#fc0000,#ff2600,#ff6c00,#ffb800,#feff01,#b6ff49,#8eff71)}
.a75{background:linear-gradient(90deg,#6dff92,#1dffe2,#00d9ff,#009fff,#0069ff,#0035ff,#000aff,#0000eb,#0000d6,#0000ca,#0000cf,#0000e2,#0000fa,#0021ff,#0054ff,#008aff,#00bfff,#00f3ff,#23ffdc,#4effb1,#78ff87,#a1ff5e,#cbff34,#faff05,#ffc600,#ff8100,#ff4500,#ff1700,#fb0000,#f00000,#e60000,#de0000,#d50000,#cf0000,#d10000,#dd0000,#f00000,#ff0c00,#ff4000,#ff8c00,#ffd800,#dfff20,#96ff69,#6dff92)}
.a76{background:linear-gradient(90deg,#4affb5,#00ffff,#00bfff,#0086ff,#0050ff,#0020ff,#0000fb,#0000e2,#0000d0,#0000ca,#0000d5,#0000e9,#0006ff,#0031ff,#0066ff,#009cff,#00d2ff,#05fffa,#33ffcc,#5effa1,#88ff77,#b1ff4e,#dcff23,#ffef00,#ffad00,#ff6a00,#ff3200,#ff0b00,#f60000,#ec0000,#e30000,#db0000,#d30000,#d00000,#d60000,#e60000,#fd0000,#ff2400,#ff6300,#ffb100,#fffc00,#bcff43,#71ff8e,#4affb5)}
.a77{background:linear-gradient(90deg,#27ffd8,#00e1ff,#00a3ff,#006bff,#0037ff,#000dff,#0000ee,#0000d9,#0000cb,#0000cd,#0000dc,#0000f1,#0012ff,#0042ff,#0078ff,#00aeff,#00e3ff,#16ffe9,#44ffbb,#6fff90,#99ff66,#c2ff3d,#eeff11,#ffd700,#ff9400,#ff5400,#ff2000,#ff0100,#f20000,#e90000,#e00000,#d80000,#d20000,#d20000,#dd0000,#f20000,#ff1200,#ff4400,#ff8c00,#ffda00,#dcff23,#96ff69,#4cffb3,#27ffd8)}
.a78{background:linear-gradient(90deg,#07fff8,#00c4ff,#0087ff,#0050ff,#0020ff,#0000fc,#0000e4,#0000d2,#0000ca,#0000d1,#0000e3,#0000fa,#0020ff,#0053ff,#0089ff,#00bfff,#00f4ff,#26ffd9,#55ffaa,#80ff7f,#aaff55,#d3ff2c,#fffb00,#ffbe00,#ff7a00,#ff3e00,#ff1100,#f90000,#ef0000,#e60000,#dd0000,#d60000,#d10000,#d60000,#e60000,#ff0300,#ff2c00,#ff6a00,#ffb700,#fbff04,#b6ff49,#70ff8f,#29ffd6,#07fff8)}
.a79{background:linear-gradient(90deg,#00e6ff,#00a5ff,#006aff,#0036ff,#000cff,#0000ef,#0000da,#0000cc,#0000cb,#0000d7,#0000ea,#0004ff,#002fff,#0064ff,#009aff,#00d0ff,#05fffa,#37ffc8,#66ff99,#92ff6d,#bbff44,#e6ff19,#ffe400,#ffa400,#ff6200,#ff2a00,#ff0500,#f40000,#eb0000,#e30000,#da0000,#d30000,#d20000,#dc0000,#f40000,#ff1800,#ff4d00,#ff9500,#ffe300,#d3ff2c,#90ff6f,#4dffb2,#09fff6,#00e6ff)}
.a80{background:linear-gradient(90deg,#00c6ff,#0086ff,#004eff,#001eff,#0000fb,#0000e4,#0000d3,#0000c9,#0000ce,#0000de,#0000f1,#0010ff,#003fff,#0075ff,#00abff,#00e1ff,#16ffe9,#49ffb6,#78ff87,#a3ff5c,#ccff33,#faff05,#ffcc00,#ff8a00,#ff4a00,#ff1800,#fc0000,#f00000,#e80000,#e00000,#d80000,#d20000,#d50000,#e70000,#ff0700,#ff3300,#ff7300,#ffc100,#f1ff0e,#adff52,#6dff92,#2cffd3,#00e8ff,#00c6ff)}
.a81{background:linear-gradient(90deg,#00a6ff,#0068ff,#0034ff,#000bff,#0000ef,#0000dc,#0000cc,#0000c9,#0000d3,#0000e4,#0000f9,#001dff,#0050ff,#0086ff,#00bcff,#00f2ff,#28ffd7,#5bffa4,#8aff75,#b4ff4b,#deff21,#ffef00,#ffb200,#ff7100,#ff3400,#ff0a00,#f60000,#ed0000,#e50000,#dd0000,#d50000,#d10000,#db0000,#f60000,#ff1d00,#ff5200,#ff9c00,#ffeb00,#cbff34,#8aff75,#4cffb3,#0cfff3,#00c7ff,#00a6ff)}
.a82{background:linear-gradient(90deg,#0085ff,#004cff,#001dff,#0000fb,#0000e5,#0000d4,#0000c8,#0000cb,#0000d9,#0000ea,#0003ff,#002cff,#0061ff,#0097ff,#00cdff,#04fffb,#39ffc6,#6cff93,#9aff65,#c5ff3a,#f1ff0e,#ffd800,#ff9900,#ff5800,#ff2000,#ff0000,#f20000,#ea0000,#e10000,#d90000,#d30000,#d30000,#e40000,#ff0700,#ff3400,#ff7400,#ffc300,#edff12,#a8ff57,#6aff95,#2cffd3,#00eaff,#00a6ff,#0085ff)}
.a83{background:linear-gradient(90deg,#0065ff,#0032ff,#000bff,#0000f0,#0000de,#0000ce,#0000c7,#0000cf,#0000df,#0000f1,#000eff,#003cff,#0072ff,#00a8ff,#00deff,#15ffea,#4affb5,#7dff82,#abff54,#d6ff29,#fff900,#ffc000,#ff8000,#ff4000,#ff1000,#f80000,#ee0000,#e60000,#de0000,#d60000,#d20000,#d80000,#f10000,#ff1900,#ff4e00,#ff9600,#ffe700,#ccff33,#89ff76,#4bffb4,#0cfff3,#00c7ff,#0084ff,#0065ff)}
.a84{background:linear-gradient(90deg,#0048ff,#001cff,#0000fc,#0000e7,#0000d7,#0000ca,#0000c7,#0000d4,#0000e4,#0000f8,#001bff,#004dff,#0083ff,#00b9ff,#00efff,#26ffd9,#5bffa4,#8dff72,#bbff44,#e8ff17,#ffe300,#ffa800,#ff6700,#ff2a00,#ff0400,#f30000,#ea0000,#e20000,#da0000,#d40000,#d30000,#e00000,#ff0000,#ff2b00,#ff6900,#ffb700,#f7ff08,#aeff51,#6bff94,#2cffd3,#00e9ff,#00a3ff,#0063ff,#0048ff)}
.a85{background:linear-gradient(90deg,#002fff,#000bff,#0000f2,#0000e1,#0000d2,#0000c7,#0000ca,#0000d9,#0000ea,#0002ff,#002aff,#005eff,#0094ff,#00caff,#01fffe,#37ffc8,#6cff93,#9dff62,#ccff33,#fcff03,#ffcd00,#ff8f00,#ff4e00,#ff1700,#fb0000,#ef0000,#e70000,#de0000,#d60000,#d20000,#d70000,#eb0000,#ff0e00,#ff4000,#ff8600,#ffd700,#d9ff26,#91ff6e,#4effb1,#0bfff4,#00c4ff,#0080ff,#0046ff,#002fff)}
.a86{background:linear-gradient(90deg,#001aff,#0000fd,#0000ea,#0000db,#0000cd,#0000c6,#0000ce,#0000de,#0000f0,#000cff,#0039ff,#006fff,#00a5ff,#00dbff,#12ffed,#48ffb7,#7dff82,#aeff51,#deff21,#ffee00,#ffb600,#ff7600,#ff3600,#ff0900,#f50000,#eb0000,#e30000,#da0000,#d30000,#d30000,#de0000,#f70000,#ff1e00,#ff5800,#ffa500,#fff600,#bbff44,#73ff8c,#2dffd2,#00e6ff,#009fff,#005fff,#002dff,#001aff)}
.a87{background:linear-gradient(90deg,#000bff,#0000f4,#0000e4,#0000d5,#0000c9,#0000c7,#0000d3,#0000e4,#0000f7,#0019ff,#004aff,#0080ff,#00b6ff,#00ecff,#23ffdc,#59ffa6,#8eff71,#c0ff3f,#f2ff0d,#ffd800,#ff9e00,#ff5d00,#ff2100,#fe0000,#f00000,#e70000,#df0000,#d70000,#d20000,#d70000,#e80000,#ff0500,#ff3200,#ff7400,#ffc400,#e9ff16,#9dff62,#53ffac,#0bfff4,#00c1ff,#007bff,#0042ff,#0019ff,#000bff)}
.a88{background:linear-gradient(90deg,#0000ff,#0000ee,#0000df,#0000d2,#0000c8,#0000cb,#0000d9,#0000ea,#0002ff,#0028ff,#005cff,#0091ff,#00c8ff,#00feff,#35ffca,#6bff94,#9fff60,#d3ff2c,#fff800,#ffc200,#ff8600,#ff4400,#ff1000,#f70000,#ed0000,#e40000,#db0000,#d40000,#d30000,#de0000,#f30000,#ff1500,#ff4a00,#ff9400,#ffe500,#caff35,#7dff82,#32ffcd,#00e6ff,#009dff,#005bff,#002bff,#000cff,#0000ff)}
.a89{background:linear-gradient(90deg,#0000f9,#0000ea,#0000dc,#0000d0,#0000ca,#0000d1,#0000e0,#0000f3,#000eff,#003aff,#006eff,#00a4ff,#00daff,#11ffee,#47ffb8,#7dff82,#b2ff4d,#e7ff18,#ffe200,#ffac00,#ff6d00,#ff2d00,#ff0500,#f30000,#ea0000,#e10000,#d90000,#d40000,#d80000,#e80000,#ff0200,#ff2a00,#ff6900,#ffb700,#f7ff08,#a9ff56,#5cffa3,#10ffef,#00c4ff,#007dff,#0042ff,#001bff,#0003ff,#0000f9)}
.a90{background:linear-gradient(90deg,#0000f6,#0000e9,#0000dc,#0000d1,#0000cf,#0000d9,#0000e9,#0000fe,#001fff,#004dff,#0082ff,#00b8ff,#00eeff,#25ffda,#5bffa4,#91ff6e,#c7ff38,#fcff03,#ffcc00,#ff9500,#ff5600,#ff1c00,#fd0000,#f10000,#e80000,#e00000,#d80000,#d70000,#e10000,#f60000,#ff1500,#ff4700,#ff8f00,#ffdd00,#d4ff2b,#87ff78,#3bffc4,#00eeff,#00a5ff,#0064ff,#0030ff,#0012ff,#0000fe,#0000f6)}
.a91{background:linear-gradient(90deg,#0000f7,#0000ea,#0000de,#0000d6,#0000d8,#0000e3,#0000f4,#000eff,#0033ff,#0063ff,#0097ff,#00cdff,#04fffb,#3affc5,#70ff8f,#a6ff59,#dcff23,#ffec00,#ffb600,#ff7e00,#ff4000,#ff1000,#fb0000,#f10000,#e80000,#e00000,#da0000,#de0000,#ee0000,#ff0800,#ff2f00,#ff6d00,#ffb900,#f9ff06,#aeff51,#64ff9b,#1affe5,#00d0ff,#008bff,#0051ff,#0026ff,#000fff,#0000fe,#0000f7)}
.a92{background:linear-gradient(90deg,#0000f9,#0000ed,#0000e2,#0000de,#0000e2,#0000ee,#0003ff,#0020ff,#0048ff,#0079ff,#00adff,#00e3ff,#1affe5,#50ffaf,#86ff79,#bcff43,#f2ff0d,#ffd600,#ffa000,#ff6700,#ff2e00,#ff0a00,#fa0000,#f10000,#e80000,#e10000,#e00000,#ea0000,#fe0000,#ff1d00,#ff5000,#ff9900,#ffe500,#d0ff2f,#89ff76,#43ffbc,#00fbff,#00b5ff,#0077ff,#0045ff,#0022ff,#000fff,#0001ff,#0000f9)}
.a93{background:linear-gradient(90deg,#0000fd,#0000f1,#0000e8,#0000e7,#0000ed,#0000fa,#0013ff,#0034ff,#005eff,#008fff,#00c3ff,#00f9ff,#31ffce,#67ff98,#9dff62,#d3ff2c,#fff500,#ffbf00,#ff8a00,#ff5200,#ff2100,#ff0700,#fa0000,#f20000,#e90000,#e40000,#e90000,#f80000,#ff1200,#ff3a00,#ff7a00,#ffc700,#eeff11,#aaff55,#66ff99,#23ffdc,#00dfff,#009fff,#0068ff,#003eff,#0021ff,#0011ff,#0004ff,#0000fd)}
.a94{background:linear-gradient(90deg,#0002ff,#0000f7,#0000f0,#0000f0,#0000f7,#0009ff,#0025ff,#0048ff,#0073ff,#00a5ff,#00daff,#11ffee,#47ffb8,#7dff82,#b3ff4c,#e9ff16,#ffdf00,#ffa900,#ff7500,#ff4100,#ff1800,#ff0600,#fb0000,#f30000,#eb0000,#eb0000,#f50000,#ff0a00,#ff2900,#ff5d00,#ffa800,#fff400,#c6ff39,#86ff79,#46ffb9,#07fff8,#00c6ff,#008cff,#005eff,#003aff,#0022ff,#0013ff,#0008ff,#0002ff)}
.a95{background:linear-gradient(90deg,#0008ff,#0000fe,#0000f8,#0000fa,#0004ff,#0019ff,#0038ff,#005dff,#0088ff,#00bbff,#00f1ff,#28ffd7,#5effa1,#93ff6c,#c9ff36,#ffff00,#ffca00,#ff9500,#ff6300,#ff3300,#ff1400,#ff0700,#fd0000,#f50000,#f00000,#f50000,#ff0500,#ff1d00,#ff4600,#ff8800,#ffd600,#e1ff1e,#a2ff5d,#66ff99,#2affd5,#00edff,#00b2ff,#007fff,#0058ff,#003aff,#0025ff,#0018ff,#000dff,#0008ff)}
.a96{background:linear-gradient(90deg,#0010ff,#0009ff,#0005ff,#0008ff,#0014ff,#002dff,#004dff,#0072ff,#009fff,#00d2ff,#09fff6,#3effc1,#73ff8c,#a8ff57,#ddff22,#ffec00,#ffb800,#ff8500,#ff5600,#ff2c00,#ff1500,#ff0a00,#ff0100,#f90000,#f90000,#ff0400,#ff1800,#ff3600,#ff6a00,#ffb500,#fdff02,#bdff42,#83ff7c,#4affb5,#11ffee,#00d8ff,#00a3ff,#0078ff,#0058ff,#003dff,#002bff,#001fff,#0015ff,#0010ff)}
.a97{background:linear-gradient(90deg,#001dff,#0017ff,#0015ff,#001bff,#002aff,#0044ff,#0063ff,#0088ff,#00b6ff,#00eaff,#20ffdf,#54ffab,#88ff77,#bcff43,#eeff11,#ffde00,#ffac00,#ff7c00,#ff4f00,#ff2b00,#ff1a00,#ff1100,#ff0900,#ff0400,#ff0800,#ff1900,#ff3100,#ff5600,#ff9300,#ffe100,#d9ff26,#9fff60,#68ff97,#32ffcd,#00fdff,#00caff,#009cff,#0079ff,#005eff,#0046ff,#0035ff,#002aff,#0021ff,#001dff)}
.a98{background:linear-gradient(90deg,#0030ff,#002cff,#002dff,#0035ff,#0045ff,#005dff,#007cff,#00a1ff,#00cfff,#03fffc,#36ffc9,#69ff96,#9bff64,#ccff33,#fbff04,#ffd500,#ffa600,#ff7a00,#ff5000,#ff3000,#ff2300,#ff1b00,#ff1500,#ff1400,#ff1e00,#ff3400,#ff5100,#ff7c00,#ffbe00,#f8ff07,#bbff44,#85ff7a,#51ffae,#1fffe0,#00efff,#00c3ff,#009cff,#0082ff,#006bff,#0055ff,#0046ff,#003cff,#0033ff,#0030ff)}
.a99{background:linear-gradient(90deg,#0048ff,#0047ff,#004aff,#0053ff,#0062ff,#0078ff,#0096ff,#00bcff,#00e9ff,#1bffe4,#4dffb2,#7dff82,#adff52,#daff25,#fffa00,#ffd000,#ffa600,#ff7e00,#ff5700,#ff3b00,#ff3000,#ff2900,#ff2600,#ff2a00,#ff3b00,#ff5500,#ff7600,#ffa400,#ffe500,#d8ff27,#a1ff5e,#6fff90,#3dffc2,#10ffef,#00e6ff,#00c0ff,#00a2ff,#008fff,#007dff,#0069ff,#005bff,#0051ff,#004aff,#0048ff)}
.a100{background:linear-gradient(90deg,#0062ff,#0064ff,#0069ff,#0070ff,#007dff,#0092ff,#00b0ff,#00d6ff,#03fffc,#33ffcc,#62ff9d,#90ff6f,#bcff43,#e6ff19,#fff300,#ffcf00,#ffaa00,#ff8500,#ff6100,#ff4700,#ff3e00,#ff3900,#ff3a00,#ff4600,#ff5c00,#ff7a00,#ff9c00,#ffcb00,#f8ff07,#beff41,#8bff74,#5bffa4,#2cffd3,#04fffb,#00dfff,#00c0ff,#00acff,#009fff,#0092ff,#0080ff,#0073ff,#006aff,#0064ff,#0062ff)}
.a101{background:linear-gradient(90deg,#007eff,#0081ff,#0084ff,#008aff,#0096ff,#00abff,#00c9ff,#00efff,#1bffe4,#49ffb6,#76ff89,#a1ff5e,#cbff34,#efff10,#ffee00,#ffcf00,#ffae00,#ff8d00,#ff6c00,#ff5500,#ff4d00,#ff4b00,#ff5300,#ff6500,#ff8100,#ff9f00,#ffbf00,#ffed00,#dbff24,#a7ff58,#77ff88,#49ffb6,#1dffe2,#00f8ff,#00daff,#00c2ff,#00b6ff,#00b0ff,#00a7ff,#0098ff,#008cff,#0084ff,#007fff,#007eff)}
.a102{background:linear-gradient(90deg,#0099ff,#009aff,#009aff,#00a0ff,#00adff,#00c3ff,#00e2ff,#08fff7,#33ffcc,#5effa1,#88ff77,#b1ff4e,#d8ff27,#f8ff07,#ffea00,#ffcf00,#ffb300,#ff9500,#ff7700,#ff6400,#ff5e00,#ff6000,#ff6f00,#ff8800,#ffa500,#ffbf00,#ffde00,#f4ff0b,#c3ff3c,#92ff6d,#64ff9b,#38ffc7,#10ffef,#00f0ff,#00d7ff,#00c5ff,#00c1ff,#00c0ff,#00bbff,#00afff,#00a5ff,#009eff,#0099ff,#0099ff)}
.a103{background:linear-gradient(90deg,#00afff,#00adff,#00acff,#00b4ff,#00c3ff,#00dbff,#00faff,#21ffde,#4affb5,#73ff8c,#9bff64,#c1ff3e,#e4ff1b,#ffff00,#ffe700,#ffcf00,#ffb600,#ff9b00,#ff8200,#ff7300,#ff7000,#ff7800,#ff8e00,#ffaa00,#ffc300,#ffd900,#fff800,#dbff24,#acff53,#7eff81,#52ffad,#29ffd6,#05fffa,#00eaff,#00d5ff,#00caff,#00ccff,#00d0ff,#00cfff,#00c5ff,#00bdff,#00b6ff,#00b1ff,#00afff)}
.a104{background:linear-gradient(90deg,#00c1ff,#00bdff,#00beff,#00c9ff,#00daff,#00f4ff,#16ffe9,#3bffc4,#62ff9d,#89ff76,#aeff51,#d1ff2e,#f0ff0f,#fff700,#ffe200,#ffcc00,#ffb600,#ffa000,#ff8c00,#ff8200,#ff8500,#ff9400,#ffae00,#ffc800,#ffdb00,#ffef00,#eeff11,#c4ff3b,#96ff69,#6bff94,#41ffbe,#1bffe4,#00fbff,#00e6ff,#00d7ff,#00d2ff,#00d9ff,#00e0ff,#00e1ff,#00daff,#00d3ff,#00ccff,#00c5ff,#00c1ff)}
.a105{background:linear-gradient(90deg,#00d1ff,#00ceff,#00d3ff,#00e0ff,#00f6ff,#13ffec,#35ffca,#58ffa7,#7dff82,#a1ff5e,#c3ff3c,#e2ff1d,#fcff03,#ffee00,#ffdb00,#ffc700,#ffb400,#ffa200,#ff9600,#ff9300,#ff9c00,#ffaf00,#ffc900,#ffdd00,#ffee00,#f8ff07,#d5ff2a,#acff53,#81ff7e,#58ffa7,#31ffce,#0ffff0,#00f5ff,#00e5ff,#00ddff,#00deff,#00e8ff,#00f1ff,#00f1ff,#00ecff,#00e5ff,#00ddff,#00d5ff,#00d1ff)}
.a106{background:linear-gradient(90deg,#00e1ff,#00e2ff,#00ebff,#00fdff,#17ffe8,#35ffca,#56ffa9,#77ff88,#99ff66,#b9ff46,#d8ff27,#f2ff0d,#fff600,#ffe300,#ffd200,#ffc000,#ffb000,#ffa600,#ffa100,#ffa600,#ffb300,#ffc700,#ffdd00,#ffee00,#fdff02,#e0ff1f,#bcff43,#94ff6b,#6cff93,#46ffb9,#23ffdc,#05fffa,#00f1ff,#00e8ff,#00e7ff,#00eeff,#00f9ff,#02fffd,#02fffd,#00fcff,#00f4ff,#00ebff,#00e3ff,#00e1ff)}
.a107{background:linear-gradient(90deg,#00f3ff,#00f9ff,#08fff7,#1effe1,#3bffc4,#59ffa6,#78ff87,#96ff69,#b4ff4b,#d1ff2e,#ecff13,#fffc00,#ffea00,#ffd900,#ffc800,#ffba00,#ffb000,#ffad00,#ffb000,#ffb900,#ffc800,#ffda00,#ffec00,#ffff00,#e7ff18,#c7ff38,#a2ff5d,#7dff82,#59ffa6,#36ffc9,#16ffe9,#00fdff,#00f1ff,#00f0ff,#00f6ff,#01fffe,#0cfff3,#12ffed,#10ffef,#0bfff4,#01fffe,#00f8ff,#00f3ff,#00f3ff)}
.a108{background:linear-gradient(90deg,#0afff5,#15ffea,#27ffd8,#42ffbd,#5fffa0,#7bff84,#96ff69,#b2ff4d,#cdff32,#e7ff18,#fdff02,#ffef00,#ffde00,#ffcf00,#ffc100,#ffb900,#ffb600,#ffb900,#ffc000,#ffcb00,#ffd800,#ffe900,#fffc00,#ebff14,#ceff31,#adff52,#8bff74,#69ff96,#48ffb7,#28ffd7,#0dfff2,#00fbff,#00f7ff,#00fdff,#09fff6,#15ffea,#1effe1,#20ffdf,#1dffe2,#17ffe8,#0efff1,#07fff8,#08fff7,#0afff5)}
.a109{background:linear-gradient(90deg,#23ffdc,#33ffcc,#49ffb6,#64ff9b,#7fff80,#98ff67,#b1ff4e,#caff35,#e3ff1c,#f8ff07,#fff400,#ffe300,#ffd400,#ffc800,#ffc000,#ffbe00,#ffc100,#ffc700,#ffcf00,#ffd900,#ffe600,#fff800,#efff10,#d4ff2b,#b5ff4a,#95ff6a,#76ff89,#58ffa7,#39ffc6,#1cffe3,#07fff8,#00feff,#04fffb,#0ffff0,#1cffe3,#28ffd7,#2fffd0,#2effd1,#2affd5,#24ffdb,#1cffe3,#19ffe6,#1effe1,#23ffdc)}
.a110{background:linear-gradient(90deg,#3fffc0,#53ffac,#6bff94,#83ff7c,#99ff66,#afff50,#c7ff38,#dfff20,#f4ff0b,#fff800,#ffe800,#ffda00,#ffcd00,#ffc600,#ffc500,#ffc900,#ffcf00,#ffd500,#ffdb00,#ffe500,#fff400,#f4ff0b,#d9ff26,#bcff43,#9eff61,#81ff7e,#65ff9a,#4affb5,#2dffd2,#13ffec,#06fff9,#08fff7,#14ffeb,#22ffdd,#2fffd0,#3affc5,#3effc1,#3cffc3,#37ffc8,#31ffce,#2cffd3,#2dffd2,#37ffc8,#3fffc0)}
.a111{background:linear-gradient(90deg,#5cffa3,#73ff8c,#88ff77,#9aff65,#adff52,#c2ff3d,#d9ff26,#efff10,#fffd00,#ffee00,#ffe000,#ffd200,#ffc900,#ffc900,#ffce00,#ffd500,#ffda00,#ffdf00,#ffe600,#fff200,#f7ff08,#ddff22,#c1ff3e,#a4ff5b,#89ff76,#70ff8f,#58ffa7,#3fffc0,#24ffdb,#0dfff2,#09fff6,#15ffea,#25ffda,#34ffcb,#41ffbe,#49ffb6,#4bffb4,#48ffb7,#44ffbb,#3fffc0,#3effc1,#43ffbc,#51ffae,#5cffa3)}
.a112{background:linear-gradient(90deg,#79ff86,#8dff72,#9cff63,#a9ff56,#baff45,#cfff30,#e6ff19,#f9ff06,#fff500,#ffe700,#ffd900,#ffcd00,#ffc800,#ffce00,#ffd800,#ffdf00,#ffe300,#ffe900,#fff300,#f9ff06,#e0ff1f,#c5ff3a,#a9ff56,#8eff71,#75ff8a,#62ff9d,#50ffaf,#39ffc6,#1dffe2,#0afff5,#10ffef,#22ffdd,#33ffcc,#42ffbd,#4effb1,#55ffaa,#56ffa9,#54ffab,#52ffad,#50ffaf,#51ffae,#58ffa7,#6cff93,#79ff86)}
.a113{background:linear-gradient(90deg,#8fff70,#9eff61,#a8ff57,#b1ff4e,#c2ff3d,#d7ff28,#edff12,#ffff00,#fff000,#ffe300,#ffd600,#ffca00,#ffc900,#ffd300,#ffde00,#ffe600,#ffec00,#fff600,#f8ff07,#e1ff1e,#c7ff38,#acff53,#92ff6d,#78ff87,#64ff9b,#58ffa7,#4bffb4,#35ffca,#19ffe6,#0cfff3,#18ffe7,#2dffd2,#3effc1,#4dffb2,#59ffa6,#5fffa0,#60ff9f,#60ff9f,#60ff9f,#61ff9e,#65ff9a,#6eff91,#83ff7c,#8fff70)}
.a114{background:linear-gradient(90deg,#9dff62,#a7ff58,#aeff51,#b6ff49,#c7ff38,#dcff23,#f1ff0e,#fffb00,#ffed00,#ffe000,#ffd300,#ffc900,#ffcb00,#ffd700,#ffe300,#ffee00,#fff900,#f5ff0a,#e0ff1f,#c7ff38,#aeff51,#95ff6a,#7bff84,#64ff9b,#56ffa9,#51ffae,#49ffb6,#34ffcb,#19ffe6,#11ffee,#21ffde,#36ffc9,#47ffb8,#56ffa9,#62ff9d,#68ff97,#6bff94,#6dff92,#6fff90,#73ff8c,#78ff87,#82ff7d,#95ff6a,#9dff62)}
.a115{background:linear-gradient(90deg,#a6ff59,#adff52,#b3ff4c,#bcff43,#cdff32,#e2ff1d,#f6ff09,#fff600,#ffe800,#ffdc00,#ffd200,#ffca00,#ffce00,#ffdd00,#ffec00,#fffb00,#f2ff0d,#ddff22,#c6ff39,#aeff51,#96ff69,#7eff81,#65ff9a,#52ffad,#4cffb3,#4cffb3,#48ffb7,#33ffcc,#1dffe2,#1bffe4,#2dffd2,#41ffbe,#52ffad,#61ff9e,#6dff92,#75ff8a,#79ff86,#7dff82,#80ff7f,#84ff7b,#8aff75,#93ff6c,#a0ff5f,#a6ff59)}
.a116{background:linear-gradient(90deg,#acff53,#b3ff4c,#baff45,#c6ff39,#d7ff28,#ebff14,#ffff00,#ffee00,#ffe100,#ffd700,#ffd100,#ffce00,#ffd600,#ffe800,#fffa00,#f0ff0f,#daff25,#c3ff3c,#adff52,#96ff69,#7fff80,#67ff98,#51ffae,#43ffbc,#43ffbc,#48ffb7,#44ffbb,#34ffcb,#27ffd8,#2dffd2,#3fffc0,#52ffad,#62ff9d,#70ff8f,#7cff83,#84ff7b,#8aff75,#8dff72,#90ff6f,#94ff6b,#98ff67,#a0ff5f,#a9ff56,#acff53)}
.a117{background:linear-gradient(90deg,#b4ff4b,#bcff43,#c6ff39,#d4ff2b,#e6ff19,#f9ff06,#fff100,#ffe200,#ffd800,#ffd300,#ffd200,#ffd700,#ffe400,#fff900,#efff10,#d8ff27,#c1ff3e,#aaff55,#95ff6a,#7fff80,#69ff96,#52ffad,#3fffc0,#37ffc8,#3cffc3,#42ffbd,#41ffbe,#3affc5,#39ffc6,#45ffba,#57ffa8,#68ff97,#78ff87,#85ff7a,#8fff70,#97ff68,#9bff64,#9dff62,#9fff60,#a1ff5e,#a4ff5b,#a9ff56,#b0ff4f,#b4ff4b)}
.a118{background:linear-gradient(90deg,#bdff42,#c9ff36,#d6ff29,#e5ff1a,#f7ff08,#fff300,#ffe100,#ffd400,#ffcf00,#ffd100,#ffd800,#ffe400,#fff700,#f0ff0f,#d7ff28,#beff41,#a7ff58,#91ff6e,#7dff82,#69ff96,#54ffab,#40ffbf,#30ffcf,#2dffd2,#35ffca,#3effc1,#42ffbd,#46ffb9,#4fffb0,#5fffa0,#71ff8e,#81ff7e,#90ff6f,#9bff64,#a4ff5b,#a9ff56,#aaff55,#abff54,#aaff55,#abff54,#adff52,#b1ff4e,#b8ff47,#bdff42)}
.a119{background:linear-gradient(90deg,#c8ff37,#d7ff28,#e6ff19,#f6ff09,#fff600,#ffe200,#ffd000,#ffc700,#ffca00,#ffd400,#ffe100,#fff400,#f2ff0d,#d7ff28,#bcff43,#a3ff5c,#8bff74,#76ff89,#65ff9a,#54ffab,#44ffbb,#34ffcb,#25ffda,#24ffdb,#31ffce,#3effc1,#49ffb6,#55ffaa,#65ff9a,#77ff88,#87ff78,#98ff67,#a5ff5a,#afff50,#b6ff49,#b9ff46,#b8ff47,#b5ff4a,#b3ff4c,#b2ff4d,#b4ff4b,#b9ff46,#c1ff3e,#c8ff37)}
.a120{background:linear-gradient(90deg,#d2ff2d,#e4ff1b,#f4ff0b,#fffb00,#ffe700,#ffd300,#ffc100,#ffbe00,#ffc900,#ffd900,#ffed00,#f9ff06,#dbff24,#bcff43,#9fff60,#83ff7c,#6cff93,#5affa5,#4dffb2,#44ffbb,#3bffc4,#30ffcf,#20ffdf,#1fffe0,#2fffd0,#40ffbf,#50ffaf,#62ff9d,#75ff8a,#86ff79,#97ff68,#a7ff58,#b5ff4a,#beff41,#c5ff3a,#c6ff39,#c2ff3d,#beff41,#baff45,#b8ff47,#bbff44,#c1ff3e,#cbff34,#d2ff2d)}
.a121{background:linear-gradient(90deg,#dcff23,#f0ff0f,#feff01,#fff000,#ffdc00,#ffc600,#ffb600,#ffb900,#ffcb00,#ffe000,#fffa00,#e5ff1a,#c2ff3d,#9eff61,#7dff82,#5fffa0,#49ffb6,#3fffc0,#3bffc4,#3affc5,#3bffc4,#33ffcc,#20ffdf,#1dffe2,#2effd1,#42ffbd,#55ffaa,#69ff96,#7dff82,#8eff71,#a0ff5f,#b0ff4f,#bfff40,#caff35,#d2ff2d,#d0ff2f,#caff35,#c4ff3b,#c0ff3f,#bfff40,#c3ff3c,#c9ff36,#d4ff2b,#dcff23)}
.a122{background:linear-gradient(90deg,#e6ff19,#f9ff06,#fff800,#ffe800,#ffd200,#ffbb00,#ffad00,#ffb800,#ffcf00,#ffea00,#f4ff0b,#cdff32,#a4ff5b,#7cff83,#56ffa9,#38ffc7,#2affd5,#2affd5,#30ffcf,#39ffc6,#40ffbf,#3affc5,#24ffdb,#1fffe0,#30ffcf,#45ffba,#59ffa6,#6dff92,#80ff7f,#92ff6d,#a4ff5b,#b6ff49,#c5ff3a,#d3ff2c,#dcff23,#d9ff26,#d1ff2e,#cbff34,#c6ff39,#c7ff38,#cbff34,#d2ff2d,#deff21,#e6ff19)}
.a123{background:linear-gradient(90deg,#f1ff0e,#fffd00,#fff100,#ffe000,#ffc900,#ffb100,#ffa900,#ffbb00,#ffd800,#fff800,#deff21,#b1ff4e,#83ff7c,#57ffa8,#2fffd0,#13ffec,#11ffee,#1dffe2,#2cffd3,#3bffc4,#47ffb8,#3fffc0,#29ffd6,#25ffda,#36ffc9,#4affb5,#5dffa2,#70ff8f,#83ff7c,#96ff69,#a8ff57,#baff45,#ccff33,#dcff23,#e4ff1b,#e0ff1f,#d8ff27,#d2ff2d,#cfff30,#d1ff2e,#d6ff29,#deff21,#ebff14,#f1ff0e)}
.a124{background:linear-gradient(90deg,#feff01,#fff600,#ffeb00,#ffd900,#ffc000,#ffaa00,#ffa900,#ffc200,#ffe400,#f2ff0d,#c3ff3c,#91ff6e,#60ff9f,#33ffcc,#0cfff3,#00f5ff,#00ffff,#15ffea,#29ffd6,#3bffc4,#49ffb6,#41ffbe,#2fffd0,#30ffcf,#40ffbf,#52ffad,#64ff9b,#76ff89,#88ff77,#9bff64,#aeff51,#c1ff3e,#d3ff2c,#e4ff1b,#ebff14,#e7ff18,#e0ff1f,#dbff24,#daff25,#deff21,#e4ff1b,#edff12,#f9ff06,#feff01)}
.a125{background:linear-gradient(90deg,#fff500,#fff000,#ffe500,#ffd200,#ffb800,#ffa500,#ffae00,#ffce00,#fff600,#d9ff26,#a5ff5a,#70ff8f,#3fffc0,#14ffeb,#00eeff,#00e0ff,#00f4ff,#10ffef,#25ffda,#38ffc7,#46ffb9,#40ffbf,#37ffc8,#3dffc2,#4dffb2,#5dffa2,#6cff93,#7eff81,#90ff6f,#a4ff5b,#b6ff49,#c9ff36,#dbff24,#ecff13,#f1ff0e,#edff12,#e8ff17,#e6ff19,#e7ff18,#edff12,#f6ff09,#ffff00,#fff700,#fff500)}
.a126{background:linear-gradient(90deg,#ffee00,#ffea00,#ffe000,#ffcc00,#ffb100,#ffa300,#ffb600,#ffdc00,#f2ff0d,#bdff42,#86ff79,#51ffae,#23ffdc,#00faff,#00d9ff,#00d2ff,#00edff,#0bfff4,#20ffdf,#33ffcc,#41ffbe,#41ffbe,#40ffbf,#4bffb4,#59ffa6,#67ff98,#75ff8a,#86ff79,#99ff66,#acff53,#bfff40,#d1ff2e,#e2ff1d,#f2ff0d,#f7ff08,#f5ff0a,#f2ff0d,#f1ff0e,#f4ff0b,#fdff02,#fff600,#ffef00,#ffed00,#ffee00)}
.a127{background:linear-gradient(90deg,#ffe800,#ffe600,#ffdb00,#ffc600,#ffac00,#ffa600,#ffc100,#ffed00,#daff25,#a0ff5f,#68ff97,#36ffc9,#0dfff2,#00eaff,#00ccff,#00c9ff,#00e9ff,#07fff8,#1bffe4,#2dffd2,#3cffc3,#42ffbd,#49ffb6,#54ffab,#61ff9e,#6eff91,#7cff83,#8dff72,#a1ff5e,#b4ff4b,#c5ff3a,#d6ff29,#e7ff18,#f6ff09,#fbff04,#fbff04,#faff05,#fbff04,#ffff00,#fff500,#ffe800,#ffe400,#ffe600,#ffe800)}
.a128{background:linear-gradient(90deg,#ffe300,#ffe000,#ffd500,#ffc100,#ffac00,#ffae00,#ffcf00,#ffff00,#c1ff3e,#84ff7b,#4dffb2,#1fffe0,#00fdff,#00e2ff,#00c6ff,#00c6ff,#00e7ff,#04fffb,#17ffe8,#28ffd7,#38ffc7,#43ffbc,#4effb1,#5affa5,#66ff99,#72ff8d,#80ff7f,#92ff6d,#a5ff5a,#b8ff47,#c9ff36,#d9ff26,#eaff15,#f8ff07,#feff01,#ffff00,#fffe00,#fffd00,#fff800,#ffed00,#ffe100,#ffdd00,#ffe100,#ffe300)}
.a129{background:linear-gradient(90deg,#ffde00,#ffdb00,#ffd000,#ffbf00,#ffb000,#ffba00,#ffdf00,#e8ff17,#a4ff5b,#67ff98,#33ffcc,#0cfff3,#00f4ff,#00dfff,#00c5ff,#00c7ff,#00e6ff,#03fffc,#14ffeb,#25ffda,#35ffca,#43ffbc,#4fffb0,#5cffa3,#68ff97,#75ff8a,#83ff7c,#95ff6a,#a8ff57,#bbff44,#cbff34,#dbff24,#eaff15,#f8ff07,#ffff00,#fffd00,#fffb00,#fff900,#fff400,#ffeb00,#ffde00,#ffd800,#ffdc00,#ffde00)}
.a130{background:linear-gradient(90deg,#ffd800,#ffd500,#ffcc00,#ffc000,#ffb900,#ffcc00,#fff700,#c8ff37,#82ff7d,#46ffb9,#17ffe8,#00f9ff,#00ebff,#00dcff,#00c7ff,#00caff,#00e7ff,#01fffe,#13ffec,#23ffdc,#33ffcc,#42ffbd,#50ffaf,#5dffa2,#6aff95,#77ff88,#86ff79,#98ff67,#acff53,#beff41,#cdff32,#dcff23,#ebff14,#f8ff07,#fffe00,#fffb00,#fff900,#fff700,#fff200,#ffe900,#ffdc00,#ffd500,#ffd600,#ffd800)}
.a131{background:linear-gradient(90deg,#ffd200,#ffcf00,#ffc900,#ffc400,#ffca00,#ffe800,#e1ff1e,#9bff64,#56ffa9,#1fffe0,#00f6ff,#00e4ff,#00dfff,#00d8ff,#00cbff,#00ceff,#00e7ff,#00ffff,#12ffed,#22ffdd,#33ffcc,#42ffbd,#51ffae,#5fffa0,#6dff92,#7bff84,#8bff74,#9eff61,#b1ff4e,#c2ff3d,#d1ff2e,#dfff20,#edff12,#faff05,#fffd00,#fffa00,#fff800,#fff400,#ffef00,#ffe600,#ffd800,#ffd000,#ffd000,#ffd200)}
.a132{background:linear-gradient(90deg,#ffcc00,#ffcb00,#ffc900,#ffcf00,#ffe300,#edff12,#acff53,#63ff9c,#21ffde,#00efff,#00d3ff,#00cdff,#00d3ff,#00d6ff,#00d1ff,#00d3ff,#00e7ff,#00feff,#11ffee,#22ffdd,#33ffcc,#44ffbb,#53ffac,#62ff9d,#72ff8d,#81ff7e,#93ff6c,#a6ff59,#b8ff47,#c8ff37,#d7ff28,#e5ff1a,#f2ff0d,#fcff03,#fffc00,#fff900,#fff600,#fff200,#ffea00,#ffdf00,#ffd200,#ffcb00,#ffcb00,#ffcc00)}
.a133{background:linear-gradient(90deg,#ffc800,#ffca00,#ffcd00,#ffdf00,#faff05,#bbff44,#6dff92,#25ffda,#00e9ff,#00bfff,#00b0ff,#00b9ff,#00caff,#00d8ff,#00d8ff,#00d7ff,#00e8ff,#00fdff,#11ffee,#23ffdc,#35ffca,#47ffb8,#57ffa8,#68ff97,#78ff87,#89ff76,#9cff63,#afff50,#c0ff3f,#cfff30,#ddff22,#ebff14,#f7ff08,#ffff00,#fffa00,#fff700,#fff400,#ffee00,#ffe400,#ffd700,#ffca00,#ffc400,#ffc600,#ffc800)}
.a134{background:linear-gradient(90deg,#ffc600,#ffcb00,#ffd300,#fff000,#d9ff26,#88ff77,#33ffcc,#00ecff,#00b4ff,#0093ff,#0095ff,#00acff,#00c9ff,#00ddff,#00ddff,#00dbff,#00eaff,#00ffff,#14ffeb,#26ffd9,#38ffc7,#4affb5,#5cffa3,#6dff92,#7fff80,#92ff6d,#a5ff5a,#b7ff48,#c7ff38,#d6ff29,#e4ff1b,#f2ff0d,#fcff03,#fffc00,#fff900,#fff500,#fff200,#ffe900,#ffdd00,#ffcf00,#ffc200,#ffbe00,#ffc200,#ffc600)}
.a135{background:linear-gradient(90deg,#ffc600,#ffce00,#ffd800,#fffe00,#bfff40,#61ff9e,#07fff8,#00c0ff,#0089ff,#0073ff,#0084ff,#00a6ff,#00caff,#00e0ff,#00e1ff,#00e1ff,#00f0ff,#05fffa,#18ffe7,#2affd5,#3cffc3,#4effb1,#60ff9f,#72ff8d,#84ff7b,#98ff67,#adff52,#bfff40,#ceff31,#dcff23,#eaff15,#f7ff08,#ffff00,#fffb00,#fff700,#fff400,#fff000,#ffe600,#ffd700,#ffc800,#ffbc00,#ffb900,#ffbf00,#ffc600)}
.a136{background:linear-gradient(90deg,#ffc500,#ffcf00,#ffd900,#f9ff06,#afff50,#49ffb6,#00eaff,#00a0ff,#0069ff,#005fff,#007cff,#00a3ff,#00c9ff,#00e1ff,#00e5ff,#00eaff,#00faff,#0dfff2,#1effe1,#2fffd0,#40ffbf,#51ffae,#63ff9c,#75ff8a,#88ff77,#9dff62,#b3ff4c,#c4ff3b,#d2ff2d,#e0ff1f,#eeff11,#faff05,#fffd00,#fff900,#fff600,#fff300,#ffee00,#ffe300,#ffd300,#ffc400,#ffb700,#ffb300,#ffbb00,#ffc500)}
.a137{background:linear-gradient(90deg,#ffc200,#ffcf00,#ffd900,#f6ff09,#a7ff58,#3bffc4,#00d9ff,#0088ff,#0052ff,#0055ff,#0079ff,#00a0ff,#00c5ff,#00dfff,#00eaff,#00f4ff,#04fffb,#15ffea,#24ffdb,#33ffcc,#43ffbc,#54ffab,#65ff9a,#77ff88,#8aff75,#a1ff5e,#b7ff48,#c8ff37,#d6ff29,#e4ff1b,#f2ff0d,#fdff02,#fffc00,#fff800,#fff500,#fff100,#ffec00,#ffdf00,#ffcf00,#ffbf00,#ffb200,#ffab00,#ffb400,#ffc200)}
.a138{background:linear-gradient(90deg,#ffbb00,#ffcd00,#ffd900,#f3ff0c,#9eff61,#31ffce,#00cbff,#0074ff,#0042ff,#0051ff,#0078ff,#009dff,#00c0ff,#00dcff,#00f0ff,#00feff,#0dfff2,#1bffe4,#29ffd6,#36ffc9,#45ffba,#56ffa9,#67ff98,#78ff87,#8dff72,#a5ff5a,#bbff44,#cbff34,#d9ff26,#e7ff18,#f5ff0a,#ffff00,#fffa00,#fff600,#fff200,#ffee00,#ffe700,#ffd900,#ffc900,#ffb700,#ffa800,#ff9d00,#ffa900,#ffbb00)}
.a139{background:linear-gradient(90deg,#ffb000,#ffcb00,#ffdd00,#e9ff16,#91ff6e,#22ffdd,#00bbff,#0062ff,#003aff,#0051ff,#0077ff,#009bff,#00bdff,#00dbff,#00f4ff,#05fffa,#12ffed,#1fffe0,#2bffd4,#38ffc7,#47ffb8,#58ffa7,#69ff96,#7bff84,#91ff6e,#a9ff56,#bfff40,#ceff31,#dcff23,#eaff15,#f8ff07,#fffd00,#fff800,#fff300,#ffee00,#ffe900,#ffe000,#ffd000,#ffbe00,#ffab00,#ff9700,#ff8900,#ff9900,#ffb000)}
.a140{background:linear-gradient(90deg,#ffa200,#ffc900,#ffe700,#d8ff27,#7bff84,#0dfff2,#00a7ff,#0052ff,#0037ff,#0054ff,#0078ff,#009aff,#00bbff,#00dbff,#00f6ff,#08fff7,#14ffeb,#20ffdf,#2cffd3,#39ffc6,#48ffb7,#59ffa6,#6bff94,#7eff81,#95ff6a,#aeff51,#c2ff3d,#d1ff2e,#dfff20,#edff12,#faff05,#fffb00,#fff400,#ffee00,#ffe800,#ffe000,#ffd500,#ffc400,#ffb100,#ff9a00,#ff8100,#ff7100,#ff8800,#ffa200)}
.a141{background:linear-gradient(90deg,#ff9700,#ffca00,#fff700,#beff41,#5dffa2,#00f0ff,#0090ff,#0046ff,#0039ff,#0058ff,#007bff,#009cff,#00bcff,#00dcff,#00f8ff,#0afff5,#16ffe9,#21ffde,#2dffd2,#39ffc6,#49ffb6,#5cffa3,#6eff91,#82ff7d,#9aff65,#b2ff4d,#c5ff3a,#d4ff2b,#e2ff1d,#f0ff0f,#fdff02,#fff700,#fff000,#ffe800,#ffe000,#ffd600,#ffc800,#ffb600,#ffa300,#ff8800,#ff6700,#ff5800,#ff7900,#ff9700)}
.a142{background:linear-gradient(90deg,#ff9000,#ffcf00,#efff10,#99ff66,#33ffcc,#00cbff,#0075ff,#003dff,#003fff,#005fff,#0080ff,#00a0ff,#00bfff,#00deff,#00f9ff,#0bfff4,#17ffe8,#23ffdc,#2effd1,#3bffc4,#4cffb3,#5fffa0,#72ff8d,#87ff78,#9fff60,#b6ff49,#c8ff37,#d7ff28,#e5ff1a,#f4ff0b,#fffe00,#fff400,#ffeb00,#ffe200,#ffd800,#ffcc00,#ffba00,#ffa900,#ff9800,#ff7700,#ff5000,#ff4500,#ff6f00,#ff9000)}
.a143{background:linear-gradient(90deg,#ff9000,#ffdd00,#cbff34,#65ff9a,#00fdff,#00a0ff,#005aff,#003aff,#0048ff,#0068ff,#0088ff,#00a6ff,#00c4ff,#00e2ff,#00fbff,#0cfff3,#19ffe6,#25ffda,#31ffce,#3fffc0,#51ffae,#64ff9b,#77ff88,#8cff73,#a4ff5b,#baff45,#cbff34,#daff25,#e9ff16,#f7ff08,#fffa00,#fff000,#ffe600,#ffdc00,#ffd100,#ffc100,#ffae00,#ffa000,#ff9200,#ff6b00,#ff3e00,#ff3900,#ff6b00,#ff9000)}
.a144{background:linear-gradient(90deg,#ff9700,#fff300,#9cff63,#29ffd6,#00c3ff,#0076ff,#0047ff,#003dff,#0053ff,#0073ff,#0091ff,#00aeff,#00caff,#00e6ff,#00feff,#0efff1,#1bffe4,#28ffd7,#36ffc9,#45ffba,#56ffa9,#69ff96,#7dff82,#92ff6d,#a8ff57,#bdff42,#ceff31,#ddff22,#ecff13,#faff05,#fff700,#ffec00,#ffe100,#ffd600,#ffc900,#ffb600,#ffa400,#ff9e00,#ff9100,#ff6200,#ff3300,#ff3400,#ff6e00,#ff9700)}
.a145{background:linear-gradient(90deg,#ffa500,#eeff11,#65ff9a,#00eaff,#008eff,#0056ff,#003eff,#0046ff,#0061ff,#007fff,#009bff,#00b6ff,#00d0ff,#00eaff,#00ffff,#0ffff0,#1dffe2,#2bffd4,#3affc5,#4affb5,#5bffa4,#6eff91,#81ff7e,#97ff68,#acff53,#c0ff3f,#d0ff2f,#dfff20,#eeff11,#fcff03,#fff500,#ffe900,#ffdc00,#ffcf00,#ffbf00,#ffac00,#ff9f00,#ffa200,#ff9300,#ff5c00,#ff2c00,#ff3400,#ff7700,#ffa500)}
.a146{background:linear-gradient(90deg,#ffb700,#cfff30,#32ffcd,#00b5ff,#0065ff,#0044ff,#0041ff,#0054ff,#006fff,#008bff,#00a4ff,#00bdff,#00d5ff,#00edff,#01fffe,#10ffef,#1fffe0,#2dffd2,#3cffc3,#4dffb2,#5fffa0,#72ff8d,#85ff7a,#9aff65,#afff50,#c2ff3d,#d1ff2e,#e0ff1f,#eeff11,#fcff03,#fff500,#ffe600,#ffd600,#ffc600,#ffb400,#ffa400,#ffa200,#ffac00,#ff9600,#ff5900,#ff2a00,#ff3a00,#ff8400,#ffb700)}
.a147{background:linear-gradient(90deg,#ffc900,#b5ff4a,#0bfff4,#008dff,#0049ff,#003fff,#004bff,#0063ff,#007dff,#0096ff,#00acff,#00c3ff,#00d9ff,#00eeff,#00ffff,#10ffef,#1fffe0,#2effd1,#3effc1,#4effb1,#60ff9f,#73ff8c,#88ff77,#9dff62,#b2ff4d,#c3ff3c,#d2ff2d,#dfff20,#edff12,#fbff04,#fff500,#ffe300,#ffcf00,#ffbb00,#ffa700,#ff9e00,#ffab00,#ffba00,#ff9900,#ff5800,#ff2b00,#ff4400,#ff9400,#ffc900)}
.a148{background:linear-gradient(90deg,#ffd800,#a0ff5f,#00efff,#0072ff,#003aff,#0041ff,#0057ff,#0071ff,#0089ff,#009eff,#00b3ff,#00c7ff,#00dbff,#00eeff,#00feff,#0ffff0,#1effe1,#2effd1,#3dffc2,#4effb1,#60ff9f,#74ff8b,#89ff76,#9eff61,#b3ff4c,#c4ff3b,#d1ff2e,#deff21,#ebff14,#f9ff06,#fff600,#ffe000,#ffc800,#ffb100,#ff9b00,#ff9d00,#ffb800,#ffc700,#ff9b00,#ff5800,#ff2e00,#ff5000,#ffa400,#ffd800)}
.a149{background:linear-gradient(90deg,#ffe200,#92ff6d,#00dfff,#0061ff,#0033ff,#0045ff,#0060ff,#007aff,#0090ff,#00a4ff,#00b7ff,#00caff,#00ddff,#00eeff,#00feff,#0efff1,#1effe1,#2dffd2,#3dffc2,#4dffb2,#5fffa0,#74ff8b,#8aff75,#9fff60,#b4ff4b,#c4ff3b,#d1ff2e,#deff21,#eaff15,#f7ff08,#fff500,#ffdd00,#ffc300,#ffa900,#ff9400,#ff9d00,#ffc200,#ffce00,#ff9b00,#ff5800,#ff3100,#ff5900,#ffaf00,#ffe200)}
.b0{background:linear-gradient(90deg,#003dff,#0000f7,#0000e2,#0000d0,#0000bf,#0000b7,#0000d0,#0000ff,#0032ff,#0062ff,#008cff,#00aeff,#00ceff,#00edff,#05fffa,#12ffed,#1fffe0,#2bffd4,#38ffc7,#49ffb6,#62ff9d,#7eff81,#9aff65,#b6ff49,#d1ff2e,#edff12,#fff500,#ffd800,#ffbb00,#ff9f00,#ff8400,#ff6900,#ff4f00,#ff3500,#ff1c00,#ff0700,#ff0000,#ff0000,#ff0200,#ff1800,#ff9700,#7fff80,#0091ff,#003dff)}
.b1{background:linear-gradient(90deg,#002dff,#0000f2,#0000de,#0000cc,#0000bd,#0000bc,#0000db,#000cff,#003dff,#006dff,#0094ff,#00b6ff,#00d6ff,#00f3ff,#08fff7,#15ffea,#22ffdd,#2effd1,#3bffc4,#4dffb2,#68ff97,#83ff7c,#9fff60,#bbff44,#d7ff28,#f3ff0c,#ffed00,#ffcf00,#ffb500,#ff9b00,#ff8200,#ff6800,#ff4d00,#ff3200,#ff1700,#ff0500,#ff0000,#ff0000,#ff0600,#ff2f00,#ffc300,#51ffae,#0074ff,#002dff)}
.b2{background:linear-gradient(90deg,#001cff,#0000ec,#0000d9,#0000c8,#0000bd,#0000c5,#0000e9,#001aff,#004cff,#007aff,#009fff,#00c0ff,#00e0ff,#00fbff,#0dfff2,#19ffe6,#26ffd9,#32ffcd,#40ffbf,#54ffab,#6eff91,#8aff75,#a6ff59,#c2ff3d,#deff21,#fcff03,#ffe100,#ffc200,#ffab00,#ff9700,#ff8300,#ff6900,#ff4b00,#ff2d00,#ff1200,#ff0300,#ff0000,#ff0200,#ff1200,#ff5600,#feff01,#19ffe6,#0056ff,#001cff)}
.b3{background:linear-gradient(90deg,#000dff,#0000e5,#0000d2,#0000c3,#0000bf,#0000d1,#0000f7,#0029ff,#005bff,#0087ff,#00aaff,#00ccff,#00ebff,#03fffc,#12ffed,#1effe1,#2bffd4,#38ffc7,#47ffb8,#5dffa2,#77ff88,#91ff6e,#adff52,#c9ff36,#e6ff19,#fff700,#ffd100,#ffb200,#ffa100,#ff9500,#ff8700,#ff6d00,#ff4b00,#ff2900,#ff0d00,#ff0100,#ff0000,#ff0500,#ff2800,#ff8c00,#b7ff48,#00dfff,#003bff,#000dff)}
.b4{background:linear-gradient(90deg,#0001ff,#0000df,#0000cd,#0000bf,#0000c4,#0000dc,#0003ff,#0033ff,#0065ff,#008fff,#00b3ff,#00d5ff,#00f4ff,#09fff6,#17ffe8,#24ffdb,#32ffcd,#3fffc0,#51ffae,#67ff98,#80ff7f,#99ff66,#b4ff4b,#d0ff2f,#edff12,#ffec00,#ffc000,#ffa100,#ff9800,#ff9500,#ff8d00,#ff7100,#ff4b00,#ff2500,#ff0900,#ff0100,#ff0100,#ff0f00,#ff4d00,#ffd000,#6cff93,#00abff,#0026ff,#0001ff)}
.b5{background:linear-gradient(90deg,#0000f6,#0000d9,#0000c8,#0000be,#0000ca,#0000e5,#0009ff,#0036ff,#0068ff,#0092ff,#00b7ff,#00dbff,#00faff,#0efff1,#1dffe2,#2bffd4,#3affc5,#49ffb6,#5cffa3,#73ff8c,#8bff74,#a4ff5b,#bdff42,#d8ff27,#f4ff0b,#ffe200,#ffb100,#ff9400,#ff9400,#ff9700,#ff9400,#ff7500,#ff4900,#ff2000,#ff0700,#ff0100,#ff0400,#ff2100,#ff7f00,#e3ff1c,#22ffdd,#007bff,#0014ff,#0000f6)}
.b6{background:linear-gradient(90deg,#0000ee,#0000d6,#0000c4,#0000be,#0000cf,#0000ea,#000bff,#0035ff,#0066ff,#0091ff,#00b8ff,#00dfff,#00feff,#12ffed,#22ffdd,#32ffcd,#42ffbd,#53ffac,#69ff96,#81ff7e,#99ff66,#b1ff4e,#c9ff36,#e0ff1f,#f9ff06,#ffda00,#ffa600,#ff8d00,#ff9200,#ff9b00,#ff9900,#ff7600,#ff4700,#ff1c00,#ff0700,#ff0300,#ff0e00,#ff4300,#ffc000,#92ff6d,#00d8ff,#004fff,#0005ff,#0000ee)}
.b7{background:linear-gradient(90deg,#0000e8,#0000d3,#0000c2,#0000c0,#0000d4,#0000ee,#000eff,#0036ff,#0066ff,#0091ff,#00b9ff,#00e0ff,#01fffe,#15ffea,#26ffd9,#37ffc8,#48ffb7,#5cffa3,#74ff8b,#8fff70,#a9ff56,#c2ff3d,#d7ff28,#e9ff16,#ffff00,#ffd300,#ff9e00,#ff8900,#ff9200,#ff9e00,#ff9c00,#ff7700,#ff4700,#ff1d00,#ff0a00,#ff0a00,#ff2500,#ff7900,#f0ff0f,#40ffbf,#0098ff,#002cff,#0000f8,#0000e8)}
.b8{background:linear-gradient(90deg,#0000e5,#0000d1,#0000c1,#0000c4,#0000da,#0000f4,#0014ff,#003dff,#006cff,#0096ff,#00bdff,#00e2ff,#02fffd,#16ffe9,#27ffd8,#39ffc6,#4affb5,#61ff9e,#7fff80,#9eff61,#bcff43,#d6ff29,#e8ff17,#f2ff0d,#fffa00,#ffcd00,#ff9a00,#ff8700,#ff9100,#ff9f00,#ff9c00,#ff7a00,#ff4a00,#ff2200,#ff1000,#ff1a00,#ff4e00,#ffc200,#98ff67,#00f0ff,#0064ff,#0014ff,#0000f0,#0000e5)}
.b9{background:linear-gradient(90deg,#0000e2,#0000cf,#0000c2,#0000ca,#0000e1,#0000fd,#0021ff,#004dff,#0079ff,#009fff,#00c3ff,#00e6ff,#03fffc,#16ffe9,#27ffd8,#38ffc7,#4affb5,#64ff9b,#8aff75,#afff50,#d1ff2e,#edff12,#f9ff06,#fcff03,#fff300,#ffc700,#ff9600,#ff8400,#ff8e00,#ff9c00,#ff9c00,#ff7f00,#ff5000,#ff2900,#ff1a00,#ff3600,#ff8a00,#e4ff1b,#40ffbf,#00adff,#003dff,#0004ff,#0000eb,#0000e2)}
.b10{background:linear-gradient(90deg,#0000e0,#0000cf,#0000c6,#0000d3,#0000eb,#000bff,#0033ff,#0060ff,#0088ff,#00aaff,#00cbff,#00eaff,#05fffa,#16ffe9,#27ffd8,#37ffc8,#4bffb4,#6bff94,#97ff68,#c2ff3d,#e8ff17,#fffa00,#fff500,#fff900,#ffeb00,#ffbf00,#ff9100,#ff7e00,#ff8900,#ff9800,#ff9b00,#ff8300,#ff5500,#ff2d00,#ff2800,#ff5e00,#ffd300,#89ff76,#00f0ff,#0076ff,#0021ff,#0000f7,#0000e7,#0000e0)}
.b11{background:linear-gradient(90deg,#0000de,#0000d1,#0000cf,#0000df,#0000f8,#001bff,#0047ff,#0073ff,#0096ff,#00b5ff,#00d3ff,#00f0ff,#08fff7,#19ffe6,#29ffd6,#3affc5,#50ffaf,#77ff88,#a9ff56,#d8ff27,#fffd00,#ffe300,#ffe500,#fff000,#ffe000,#ffb400,#ff8800,#ff7500,#ff8000,#ff9000,#ff9700,#ff8100,#ff5300,#ff2e00,#ff3c00,#ff8f00,#dfff20,#35ffca,#00acff,#004aff,#0009ff,#0000ed,#0000e3,#0000de)}
.b12{background:linear-gradient(90deg,#0000de,#0000d8,#0000dc,#0000ed,#0009ff,#002eff,#005aff,#0082ff,#00a2ff,#00c0ff,#00dcff,#00f7ff,#0dfff2,#1fffe0,#2fffd0,#41ffbe,#5dffa2,#8aff75,#beff41,#efff10,#ffe400,#ffcc00,#ffd700,#ffe700,#ffd400,#ffa700,#ff7a00,#ff6900,#ff7500,#ff8600,#ff8f00,#ff7900,#ff4d00,#ff3000,#ff5700,#ffc300,#95ff6a,#00ebff,#0072ff,#0023ff,#0000f2,#0000e3,#0000e0,#0000de)}
.b13{background:linear-gradient(90deg,#0000e2,#0000e4,#0000eb,#0000fc,#001bff,#0041ff,#006bff,#008fff,#00adff,#00caff,#00e6ff,#00ffff,#15ffea,#26ffd9,#38ffc7,#4dffb2,#6fff90,#9fff60,#d4ff2b,#fff800,#ffca00,#ffb600,#ffca00,#ffdf00,#ffc700,#ff9700,#ff6a00,#ff5a00,#ff6900,#ff7b00,#ff8400,#ff6e00,#ff4700,#ff3800,#ff7700,#fff900,#50ffaf,#00abff,#0040ff,#0001ff,#0000df,#0000dc,#0000e1,#0000e2)}
.b14{background:linear-gradient(90deg,#0000e9,#0000f1,#0000f9,#000dff,#002cff,#0052ff,#0079ff,#009aff,#00b8ff,#00d5ff,#00f0ff,#09fff6,#1dffe2,#2fffd0,#42ffbd,#5affa5,#82ff7d,#b5ff4a,#e9ff16,#ffe200,#ffb200,#ffa300,#ffc100,#ffd800,#ffbc00,#ff8a00,#ff5b00,#ff4c00,#ff5d00,#ff7100,#ff7a00,#ff6600,#ff4500,#ff4800,#ff9b00,#cdff32,#10ffef,#0074ff,#0018ff,#0000e6,#0000d1,#0000d8,#0000e4,#0000e9)}
.b15{background:linear-gradient(90deg,#0000f1,#0000fd,#0007ff,#001cff,#003dff,#0062ff,#0085ff,#00a5ff,#00c3ff,#00e0ff,#00faff,#11ffee,#24ffdb,#37ffc8,#4affb5,#67ff98,#93ff6c,#c7ff38,#fbff04,#ffcd00,#ff9c00,#ff9300,#ffb900,#ffd400,#ffb700,#ff8100,#ff4f00,#ff4000,#ff5400,#ff6b00,#ff7600,#ff6600,#ff4e00,#ff6000,#ffc300,#92ff6d,#00d4ff,#0047ff,#0000fb,#0000d4,#0000c9,#0000d7,#0000ea,#0000f1)}
.b16{background:linear-gradient(90deg,#0000f8,#0008ff,#0013ff,#002aff,#004cff,#006fff,#0091ff,#00b0ff,#00ceff,#00ebff,#04fffb,#18ffe7,#2bffd4,#3dffc2,#51ffae,#72ff8d,#a2ff5d,#d6ff29,#fff300,#ffbc00,#ff8900,#ff8700,#ffb200,#ffd100,#ffb800,#ff7f00,#ff4900,#ff3900,#ff5000,#ff6a00,#ff7900,#ff7000,#ff6000,#ff8100,#fff300,#54ffab,#00a0ff,#0025ff,#0000e9,#0000ca,#0000c5,#0000d9,#0000ef,#0000f8)}
.b17{background:linear-gradient(90deg,#0000fd,#0011ff,#001fff,#003aff,#005cff,#007fff,#009fff,#00beff,#00dbff,#00f6ff,#0cfff3,#1fffe0,#31ffce,#44ffbb,#59ffa6,#7dff82,#afff50,#e3ff1c,#ffe400,#ffac00,#ff7a00,#ff7e00,#ffac00,#ffd000,#ffbc00,#ff8100,#ff4800,#ff3700,#ff5000,#ff6d00,#ff8100,#ff8200,#ff7f00,#ffb000,#cdff32,#13ffec,#0072ff,#000dff,#0000de,#0000c5,#0000c5,#0000db,#0000f2,#0000fd)}
.b18{background:linear-gradient(90deg,#0003ff,#001aff,#002fff,#004eff,#0071ff,#0092ff,#00b1ff,#00ceff,#00e9ff,#01fffe,#14ffeb,#27ffd8,#3affc5,#4dffb2,#64ff9b,#8bff74,#bcff43,#f1ff0e,#ffd600,#ff9d00,#ff6e00,#ff7500,#ffa500,#ffce00,#ffc000,#ff8400,#ff4b00,#ff3c00,#ff5500,#ff7400,#ff8f00,#ff9d00,#ffae00,#fff500,#7dff82,#00cdff,#0049ff,#0000fa,#0000d6,#0000c3,#0000c8,#0000de,#0000f6,#0003ff)}
.b19{background:linear-gradient(90deg,#0008ff,#0027ff,#0045ff,#0069ff,#008bff,#00abff,#00c7ff,#00e1ff,#00f7ff,#0cfff3,#1dffe2,#31ffce,#45ffba,#5affa5,#75ff8a,#9cff63,#cdff32,#fffd00,#ffc600,#ff8f00,#ff6300,#ff6d00,#ff9e00,#ffcb00,#ffc300,#ff8800,#ff5300,#ff4700,#ff5d00,#ff7f00,#ffa500,#ffc700,#fff700,#a9ff56,#1dffe2,#008aff,#0026ff,#0000ec,#0000cf,#0000c2,#0000cc,#0000e1,#0000fa,#0008ff)}
.b20{background:linear-gradient(90deg,#0012ff,#003dff,#0064ff,#008aff,#00abff,#00c7ff,#00dfff,#00f4ff,#06fff9,#17ffe8,#29ffd6,#3fffc0,#56ffa9,#6eff91,#8aff75,#b1ff4e,#e0ff1f,#ffea00,#ffb500,#ff8200,#ff5900,#ff6500,#ff9700,#ffc700,#ffc400,#ff8c00,#ff5c00,#ff5200,#ff6900,#ff9200,#ffca00,#f5ff0a,#a7ff58,#3bffc4,#00bdff,#0050ff,#0009ff,#0000df,#0000c9,#0000c4,#0000d0,#0000e6,#0001ff,#0012ff)}
.b21{background:linear-gradient(90deg,#0024ff,#005dff,#0089ff,#00adff,#00cbff,#00e3ff,#00f6ff,#07fff8,#15ffea,#25ffda,#3affc5,#53ffac,#6dff92,#86ff79,#a4ff5b,#c9ff36,#f6ff09,#ffd600,#ffa400,#ff7500,#ff4f00,#ff5c00,#ff8f00,#ffc100,#ffc500,#ff9200,#ff6500,#ff5c00,#ff7900,#ffaf00,#fdff02,#9fff60,#3effc1,#00d4ff,#0071ff,#0024ff,#0000f2,#0000d3,#0000c4,#0000c6,#0000d5,#0000ec,#000eff,#0024ff)}
.b22{background:linear-gradient(90deg,#0043ff,#0082ff,#00adff,#00ceff,#00e8ff,#00fcff,#0dfff2,#1affe5,#27ffd8,#39ffc6,#52ffad,#6eff91,#89ff76,#a3ff5c,#c1ff3e,#e4ff1b,#ffef00,#ffc100,#ff9400,#ff6900,#ff4600,#ff5300,#ff8600,#ffbb00,#ffc600,#ff9b00,#ff6f00,#ff6700,#ff8f00,#ffd600,#bbff44,#49ffb6,#00e3ff,#0089ff,#003dff,#0007ff,#0000e2,#0000ca,#0000c3,#0000cb,#0000dd,#0000f8,#0028ff,#0043ff)}
.b23{background:linear-gradient(90deg,#006bff,#00a5ff,#00ccff,#00e9ff,#02fffd,#14ffeb,#22ffdd,#30ffcf,#40ffbf,#56ffa9,#71ff8e,#8eff71,#aaff55,#c4ff3b,#e2ff1d,#fffb00,#ffd400,#ffac00,#ff8500,#ff5e00,#ff3d00,#ff4900,#ff7c00,#ffb200,#ffc900,#ffa800,#ff7e00,#ff7a00,#ffac00,#fcff03,#7eff81,#06fff9,#00a6ff,#005aff,#001eff,#0000f3,#0000d6,#0000c4,#0000c5,#0000d3,#0000e9,#000fff,#004cff,#006bff)}
.b24{background:linear-gradient(90deg,#0092ff,#00c2ff,#00e4ff,#00ffff,#17ffe8,#2affd5,#3bffc4,#4bffb4,#5fffa0,#78ff87,#95ff6a,#b1ff4e,#cdff32,#e8ff17,#fff900,#ffda00,#ffb900,#ff9800,#ff7700,#ff5300,#ff3400,#ff4000,#ff7100,#ffa900,#ffcc00,#ffb800,#ff9300,#ff9400,#ffce00,#d0ff2f,#4effb1,#00d8ff,#0080ff,#003dff,#0009ff,#0000e6,#0000cd,#0000c2,#0000cb,#0000de,#0000fc,#002fff,#0074ff,#0092ff)}
.b25{background:linear-gradient(90deg,#00b1ff,#00d7ff,#00f6ff,#13ffec,#2cffd3,#41ffbe,#54ffab,#68ff97,#80ff7f,#9bff64,#b8ff47,#d4ff2b,#f0ff0f,#fff300,#ffd600,#ffb900,#ff9f00,#ff8700,#ff6b00,#ff4a00,#ff2d00,#ff3a00,#ff6800,#ffa100,#ffcf00,#ffc700,#ffab00,#ffb400,#fff500,#a5ff5a,#27ffd8,#00b9ff,#0066ff,#0028ff,#0000f9,#0000db,#0000c6,#0000c4,#0000d4,#0000ee,#0017ff,#0053ff,#0097ff,#00b1ff)}
.b26{background:linear-gradient(90deg,#00c7ff,#00e5ff,#04fffb,#22ffdd,#3effc1,#56ffa9,#6cff93,#82ff7d,#9cff63,#b8ff47,#d7ff28,#f5ff0a,#ffec00,#ffcf00,#ffb300,#ff9a00,#ff8700,#ff7800,#ff6200,#ff4200,#ff2800,#ff3800,#ff6500,#ff9e00,#ffd100,#ffd300,#ffc300,#ffd900,#deff21,#76ff89,#00ffff,#0099ff,#004cff,#0014ff,#0000eb,#0000d0,#0000c2,#0000ca,#0000e0,#0001ff,#0034ff,#0075ff,#00b1ff,#00c7ff)}
.b27{background:linear-gradient(90deg,#00d6ff,#00eeff,#0dfff2,#2dffd2,#4cffb3,#66ff99,#7eff81,#97ff68,#b2ff4d,#d1ff2e,#f2ff0d,#ffeb00,#ffcb00,#ffac00,#ff9000,#ff7b00,#ff7200,#ff6c00,#ff5b00,#ff3d00,#ff2700,#ff3c00,#ff6800,#ffa200,#ffd300,#ffdd00,#ffdd00,#fcff03,#abff54,#3fffc0,#00d1ff,#0075ff,#0031ff,#0000ff,#0000dd,#0000c7,#0000c2,#0000d2,#0000ed,#0016ff,#0051ff,#008fff,#00c4ff,#00d6ff)}
.b28{background:linear-gradient(90deg,#00dfff,#00f3ff,#14ffeb,#37ffc8,#57ffa8,#72ff8d,#8cff73,#a6ff59,#c4ff3b,#e6ff19,#fff300,#ffcd00,#ffaa00,#ff8800,#ff6c00,#ff5e00,#ff6000,#ff6200,#ff5600,#ff3a00,#ff2b00,#ff4500,#ff7200,#ffaa00,#ffda00,#ffec00,#fffe00,#caff35,#6dff92,#01fffe,#009eff,#004fff,#0014ff,#0000ec,#0000d0,#0000c0,#0000c6,#0000dc,#0000fb,#002cff,#006aff,#00a4ff,#00d2ff,#00dfff)}
.b29{background:linear-gradient(90deg,#00e8ff,#00fcff,#1effe1,#41ffbe,#61ff9e,#7eff81,#98ff67,#b4ff4b,#d4ff2b,#fbff04,#ffd800,#ffaf00,#ff8700,#ff6200,#ff4900,#ff4600,#ff5200,#ff5a00,#ff4f00,#ff3800,#ff3500,#ff5300,#ff8100,#ffb900,#ffea00,#f5ff0a,#d1ff2e,#8aff75,#26ffd9,#00c0ff,#006bff,#0029ff,#0000fa,#0000db,#0000c6,#0000bf,#0000cd,#0000e7,#000eff,#0045ff,#0081ff,#00b6ff,#00ddff,#00e8ff)}
.b30{background:linear-gradient(90deg,#00f3ff,#0bfff4,#2dffd2,#4fffb0,#6fff90,#8bff74,#a6ff59,#c3ff3c,#e7ff18,#ffec00,#ffbd00,#ff9000,#ff6500,#ff3f00,#ff2b00,#ff3200,#ff4500,#ff5000,#ff4800,#ff3c00,#ff4300,#ff6500,#ff9500,#ffd200,#f3ff0c,#c5ff3a,#8eff71,#3cffc3,#00d9ff,#0081ff,#003cff,#0008ff,#0000e4,#0000cc,#0000bf,#0000c3,#0000d7,#0000f5,#0023ff,#005eff,#0098ff,#00c8ff,#00eaff,#00f3ff)}
.b31{background:linear-gradient(90deg,#06fff9,#21ffde,#42ffbd,#61ff9e,#7fff80,#9bff64,#b6ff49,#d5ff2a,#fbff04,#ffd300,#ffa200,#ff7300,#ff4500,#ff2000,#ff1200,#ff2100,#ff3900,#ff4600,#ff4400,#ff4500,#ff5600,#ff7b00,#ffb300,#fffb00,#bdff42,#7fff80,#3bffc4,#00e5ff,#008fff,#0049ff,#0014ff,#0000ec,#0000d2,#0000c2,#0000bf,#0000cb,#0000e3,#0007ff,#003bff,#0078ff,#00b0ff,#00dbff,#00faff,#06fff9)}
.b32{background:linear-gradient(90deg,#1dffe2,#3affc5,#59ffa6,#77ff88,#92ff6d,#adff52,#c9ff36,#e9ff16,#ffec00,#ffbb00,#ff8900,#ff5800,#ff2a00,#ff0700,#fb0000,#ff1100,#ff2d00,#ff3d00,#ff4600,#ff5400,#ff6a00,#ff9600,#ffdc00,#c9ff36,#76ff89,#2effd1,#00e4ff,#0096ff,#0051ff,#001cff,#0000f4,#0000d8,#0000c3,#0000bd,#0000c4,#0000d6,#0000f0,#001aff,#0055ff,#0092ff,#00c8ff,#00f1ff,#10ffef,#1dffe2)}
.b33{background:linear-gradient(90deg,#35ffca,#54ffab,#73ff8c,#8fff70,#a9ff56,#c4ff3b,#e0ff1f,#fffe00,#ffd300,#ffa200,#ff7000,#ff3f00,#ff1300,#f10000,#ea0000,#ff0400,#ff2300,#ff3900,#ff4f00,#ff6500,#ff8000,#ffb800,#efff10,#86ff79,#2effd1,#00e2ff,#009cff,#005aff,#0024ff,#0000fc,#0000e0,#0000c8,#0000ba,#0000bd,#0000cd,#0000e2,#0000fd,#002fff,#006dff,#00aaff,#00dfff,#07fff8,#27ffd8,#35ffca)}
.b34{background:linear-gradient(90deg,#4effb1,#70ff8f,#8fff70,#abff54,#c3ff3c,#ddff22,#f9ff06,#ffe300,#ffb900,#ff8a00,#ff5a00,#ff2b00,#ff0100,#e20000,#de0000,#f90000,#ff1b00,#ff3a00,#ff5a00,#ff7700,#ff9b00,#ffe000,#baff45,#4affb5,#00f2ff,#00abff,#006cff,#0032ff,#0008ff,#0000ea,#0000d3,#0000bf,#0000b6,#0000c2,#0000d6,#0000ed,#000dff,#0042ff,#0082ff,#00beff,#00f3ff,#1bffe4,#3dffc2,#4effb1)}
.b35{background:linear-gradient(90deg,#67ff98,#90ff6f,#b0ff4f,#c9ff36,#e1ff1e,#faff05,#ffe800,#ffc600,#ff9f00,#ff7400,#ff4600,#ff1a00,#f20000,#d60000,#d60000,#f30000,#ff1700,#ff3c00,#ff6700,#ff8b00,#ffbc00,#f3ff0c,#8aff75,#1effe1,#00cbff,#0088ff,#004fff,#001cff,#0000f8,#0000e0,#0000cc,#0000b9,#0000b6,#0000c8,#0000df,#0000f8,#001cff,#0054ff,#0093ff,#00cfff,#05fffa,#2effd1,#54ffab,#67ff98)}
.b36{background:linear-gradient(90deg,#86ff79,#b3ff4c,#d1ff2e,#e9ff16,#fffe00,#ffe500,#ffc900,#ffa900,#ff8500,#ff5d00,#ff3400,#ff0b00,#e80000,#ce0000,#d30000,#f10000,#ff1500,#ff4100,#ff7500,#ffa500,#ffe300,#c7ff38,#62ff9d,#00fdff,#00b1ff,#0072ff,#003dff,#000fff,#0000f0,#0000da,#0000c7,#0000b6,#0000b9,#0000cf,#0000e8,#0005ff,#002cff,#0065ff,#00a3ff,#00e0ff,#16ffe9,#43ffbc,#70ff8f,#86ff79)}
.b37{background:linear-gradient(90deg,#abff54,#d7ff28,#f2ff0d,#fff500,#ffde00,#ffc500,#ffa900,#ff8b00,#ff6a00,#ff4700,#ff2100,#fd0000,#de0000,#ca0000,#d40000,#f30000,#ff1800,#ff4b00,#ff8800,#ffc400,#f2ff0d,#9cff63,#3bffc4,#00e0ff,#0099ff,#005eff,#002dff,#0004ff,#0000e9,#0000d5,#0000c2,#0000b6,#0000bf,#0000d7,#0000f3,#0013ff,#003fff,#0079ff,#00b7ff,#00f4ff,#2cffd3,#5effa1,#93ff6c,#abff54)}
.b38{background:linear-gradient(90deg,#d2ff2d,#f9ff06,#ffeb00,#ffd500,#ffbd00,#ffa300,#ff8800,#ff6c00,#ff4e00,#ff2e00,#ff0d00,#ee0000,#d60000,#ca0000,#da0000,#f90000,#ff2200,#ff5b00,#ffa000,#ffe700,#c7ff38,#6dff92,#11ffee,#00bfff,#007dff,#0047ff,#001bff,#0000f8,#0000e1,#0000ce,#0000bd,#0000b8,#0000c7,#0000e1,#0000ff,#0025ff,#0056ff,#0092ff,#00d1ff,#10ffef,#4affb5,#82ff7d,#bbff44,#d2ff2d)}
.b39{background:linear-gradient(90deg,#f8ff07,#ffe400,#ffcb00,#ffb300,#ff9b00,#ff8100,#ff6600,#ff4c00,#ff3100,#ff1500,#f80000,#e10000,#d00000,#cf0000,#e30000,#ff0400,#ff3200,#ff7200,#ffbd00,#f0ff0f,#96ff69,#3affc5,#00e2ff,#0099ff,#005dff,#002dff,#0008ff,#0000ec,#0000d7,#0000c5,#0000ba,#0000bd,#0000d2,#0000ed,#000fff,#003bff,#0072ff,#00b1ff,#00f2ff,#33ffcc,#71ff8e,#acff53,#e3ff1c,#f8ff07)}
.b40{background:linear-gradient(90deg,#ffe100,#ffc300,#ffaa00,#ff9100,#ff7800,#ff5e00,#ff4500,#ff2d00,#ff1500,#fc0000,#e70000,#d70000,#cf0000,#d70000,#ee0000,#ff1100,#ff4700,#ff8d00,#ffe000,#c2ff3d,#60ff9f,#03fffc,#00b3ff,#0071ff,#003dff,#0014ff,#0000f6,#0000df,#0000cd,#0000be,#0000b9,#0000c5,#0000dd,#0000fb,#0023ff,#0057ff,#0095ff,#00d8ff,#1cffe3,#60ff9f,#a0ff5f,#d9ff26,#fff400,#ffe100)}
.b41{background:linear-gradient(90deg,#ffbd00,#ffa100,#ff8800,#ff6f00,#ff5500,#ff3c00,#ff2500,#ff1000,#fb0000,#e80000,#d90000,#d10000,#d20000,#e10000,#fa0000,#ff2200,#ff6000,#ffae00,#f3ff0c,#8bff74,#25ffda,#00ccff,#0085ff,#004cff,#001fff,#0000fe,#0000e7,#0000d4,#0000c4,#0000b9,#0000bd,#0000d0,#0000ea,#000dff,#003cff,#0079ff,#00beff,#06fff9,#4dffb2,#92ff6d,#d1ff2e,#fff800,#ffce00,#ffbd00)}
.b42{background:linear-gradient(90deg,#ff9900,#ff7e00,#ff6600,#ff4c00,#ff3300,#ff1d00,#ff0a00,#f70000,#e60000,#d80000,#d10000,#d10000,#d90000,#eb0000,#ff0700,#ff3700,#ff7e00,#ffd700,#bcff43,#4cffb3,#00e9ff,#009aff,#005cff,#002bff,#0007ff,#0000ee,#0000da,#0000ca,#0000bc,#0000b8,#0000c5,#0000db,#0000f8,#0023ff,#005cff,#00a2ff,#00edff,#3affc5,#83ff7c,#c7ff38,#fffc00,#ffcc00,#ffa800,#ff9900)}
.b43{background:linear-gradient(90deg,#ff7600,#ff5d00,#ff4400,#ff2b00,#ff1600,#ff0300,#f20000,#e30000,#d60000,#cf0000,#d00000,#d50000,#e20000,#f50000,#ff1700,#ff5100,#ffa300,#f3ff0c,#7cff83,#0cfff3,#00b2ff,#006dff,#0038ff,#0010ff,#0000f4,#0000e0,#0000d0,#0000c1,#0000b8,#0000bc,#0000ce,#0000e8,#000bff,#0040ff,#0084ff,#00d1ff,#24ffdb,#72ff8d,#bbff44,#fbff04,#ffcc00,#ffa200,#ff8300,#ff7600)}
.b44{background:linear-gradient(90deg,#ff5500,#ff3c00,#ff2400,#ff0f00,#fd0000,#ee0000,#e00000,#d40000,#cc0000,#cc0000,#d20000,#dd0000,#ec0000,#ff0300,#ff2d00,#ff7300,#ffd300,#b3ff4c,#36ffc9,#00ceff,#0081ff,#0046ff,#001aff,#0000fb,#0000e6,#0000d5,#0000c6,#0000bb,#0000b8,#0000c4,#0000da,#0000f7,#0025ff,#0065ff,#00b2ff,#07fff8,#5effa1,#acff53,#f2ff0d,#ffcf00,#ff9e00,#ff7c00,#ff6100,#ff5500)}
.b45{background:linear-gradient(90deg,#ff3600,#ff1e00,#ff0800,#f80000,#eb0000,#df0000,#d30000,#ca0000,#c80000,#ce0000,#d80000,#e50000,#f80000,#ff1700,#ff4d00,#ffa100,#edff12,#6aff95,#00f2ff,#0099ff,#0057ff,#0026ff,#0003ff,#0000ec,#0000db,#0000cc,#0000bf,#0000b8,#0000bd,#0000cf,#0000e9,#000fff,#0047ff,#0091ff,#00e6ff,#42ffbd,#99ff66,#e5ff1a,#ffd700,#ff9f00,#ff7500,#ff5900,#ff4200,#ff3600)}
.b46{background:linear-gradient(90deg,#ff1900,#ff0400,#f30000,#e80000,#de0000,#d30000,#c90000,#c40000,#c80000,#d30000,#e00000,#f10000,#ff0a00,#ff3500,#ff7900,#ffdc00,#a3ff5c,#20ffdf,#00b6ff,#006cff,#0034ff,#000dff,#0000f2,#0000e0,#0000d1,#0000c3,#0000b9,#0000ba,#0000c7,#0000dd,#0000fc,#002eff,#0072ff,#00c5ff,#22ffdd,#7fff80,#d4ff2b,#ffe200,#ffa400,#ff7300,#ff5200,#ff3b00,#ff2500,#ff1900)}
.b47{background:linear-gradient(90deg,#ff0000,#ef0000,#e50000,#dd0000,#d40000,#ca0000,#c20000,#c30000,#cc0000,#da0000,#ea0000,#ff0100,#ff2400,#ff5c00,#ffb100,#d8ff27,#53ffac,#00dbff,#0084ff,#0045ff,#0018ff,#0000f9,#0000e5,#0000d6,#0000c8,#0000bc,#0000b8,#0000c1,#0000d3,#0000ee,#0018ff,#0056ff,#00a4ff,#00ffff,#61ff9e,#bdff42,#fff000,#ffac00,#ff7500,#ff4e00,#ff3300,#ff1e00,#ff0a00,#ff0000)}
.b48{background:linear-gradient(90deg,#ec0000,#e20000,#dc0000,#d40000,#cb0000,#c20000,#bf0000,#c50000,#d20000,#e30000,#f80000,#ff1700,#ff4600,#ff8e00,#fff500,#87ff78,#07fff8,#00a2ff,#005aff,#0026ff,#0002ff,#0000eb,#0000db,#0000cc,#0000c0,#0000b8,#0000bc,#0000cc,#0000e3,#0007ff,#003cff,#0085ff,#00ddff,#41ffbe,#a4ff5b,#fdff02,#ffb600,#ff7800,#ff4c00,#ff2e00,#ff1800,#ff0500,#f30000,#ec0000)}
.b49{background:linear-gradient(90deg,#df0000,#d90000,#d40000,#cd0000,#c40000,#bd0000,#bf0000,#ca0000,#db0000,#f00000,#ff0c00,#ff3500,#ff7200,#ffcb00,#bbff44,#35ffca,#00c4ff,#0071ff,#0036ff,#000dff,#0000f2,#0000e0,#0000d1,#0000c4,#0000ba,#0000b9,#0000c5,#0000d9,#0000f7,#0025ff,#0067ff,#00bbff,#1fffe0,#88ff77,#e9ff16,#ffc200,#ff7e00,#ff4b00,#ff2900,#ff1300,#ff0000,#ef0000,#e30000,#df0000)}
.b50{background:linear-gradient(90deg,#d70000,#d30000,#cd0000,#c50000,#bd0000,#bb0000,#c30000,#d30000,#e70000,#ff0200,#ff2600,#ff5b00,#ffa600,#ecff13,#67ff98,#00eaff,#008dff,#0049ff,#0019ff,#0000f9,#0000e5,#0000d6,#0000c9,#0000bd,#0000b8,#0000bf,#0000d1,#0000ea,#0011ff,#004cff,#0099ff,#00f9ff,#67ff98,#d1ff2e,#ffd200,#ff8600,#ff4c00,#ff2600,#ff0d00,#fa0000,#eb0000,#df0000,#d90000,#d70000)}
.b51{background:linear-gradient(90deg,#d10000,#ce0000,#c70000,#be0000,#b90000,#bc0000,#ca0000,#de0000,#f60000,#ff1900,#ff4700,#ff8800,#ffe500,#9bff64,#18ffe7,#00acff,#005fff,#0028ff,#0003ff,#0000eb,#0000db,#0000cd,#0000c1,#0000b8,#0000bb,#0000c9,#0000e0,#0001ff,#0033ff,#0078ff,#00d1ff,#3effc1,#b1ff4e,#ffe700,#ff9300,#ff5000,#ff2400,#ff0900,#f60000,#e70000,#dc0000,#d50000,#d20000,#d10000)}
.b52{background:linear-gradient(90deg,#cd0000,#c80000,#c00000,#b90000,#b80000,#c20000,#d50000,#ec0000,#ff0c00,#ff3600,#ff6f00,#ffbf00,#ceff31,#48ffb7,#00d1ff,#0079ff,#0039ff,#000eff,#0000f2,#0000e0,#0000d2,#0000c5,#0000bb,#0000b9,#0000c3,#0000d7,#0000f2,#001dff,#005aff,#00a9ff,#0efff1,#85ff7a,#f6ff09,#ffaa00,#ff5d00,#ff2600,#ff0700,#f30000,#e50000,#d90000,#d20000,#cf0000,#ce0000,#cd0000)}
.b53{background:linear-gradient(90deg,#c80000,#c20000,#bb0000,#b70000,#bc0000,#cc0000,#e20000,#fe0000,#ff2500,#ff5900,#ff9f00,#fcff03,#7bff84,#00faff,#0097ff,#004fff,#001bff,#0000f9,#0000e5,#0000d6,#0000c9,#0000be,#0000b9,#0000be,#0000cf,#0000e7,#000cff,#0040ff,#0086ff,#00dcff,#4cffb3,#c7ff38,#ffce00,#ff7800,#ff3300,#ff0a00,#f40000,#e50000,#d90000,#d00000,#cc0000,#cb0000,#ca0000,#c80000)}
.b54{background:linear-gradient(90deg,#c30000,#bd0000,#b80000,#b90000,#c50000,#d80000,#f20000,#ff1600,#ff4500,#ff8300,#ffd900,#adff52,#29ffd6,#00b9ff,#0067ff,#002cff,#0004ff,#0000eb,#0000db,#0000cd,#0000c1,#0000bb,#0000bc,#0000c8,#0000dd,#0000fc,#002bff,#0068ff,#00b4ff,#13ffec,#8aff75,#ffff00,#ffa000,#ff5000,#ff1600,#f80000,#e80000,#dc0000,#d10000,#cb0000,#c90000,#c80000,#c50000,#c30000)}
.b55{background:linear-gradient(90deg,#be0000,#ba0000,#b90000,#c00000,#d00000,#e70000,#ff0700,#ff3100,#ff6a00,#ffb500,#ddff22,#5affa5,#00dfff,#0083ff,#0040ff,#0010ff,#0000f2,#0000e0,#0000d1,#0000c4,#0000bc,#0000bb,#0000c4,#0000d5,#0000ef,#0018ff,#004fff,#0092ff,#00e3ff,#4bffb4,#c3ff3c,#ffd000,#ff7900,#ff3100,#ff0400,#ee0000,#e10000,#d50000,#cc0000,#c80000,#c60000,#c40000,#c10000,#be0000)}
.b56{background:linear-gradient(90deg,#bb0000,#b90000,#bd0000,#ca0000,#de0000,#f90000,#ff2000,#ff5300,#ff9600,#fff400,#8cff73,#0bfff4,#00a2ff,#0057ff,#0020ff,#0000fb,#0000e6,#0000d6,#0000c8,#0000bd,#0000ba,#0000c0,#0000cf,#0000e4,#0007ff,#0039ff,#0077ff,#00bdff,#15ffea,#83ff7c,#f5ff0a,#ffa900,#ff5800,#ff1900,#f70000,#e80000,#dc0000,#d00000,#c80000,#c40000,#c20000,#c00000,#bd0000,#bb0000)}
.b57{background:linear-gradient(90deg,#ba0000,#bb0000,#c50000,#d60000,#ee0000,#ff1000,#ff3e00,#ff7a00,#ffcd00,#beff41,#39ffc6,#00c5ff,#0070ff,#0032ff,#0007ff,#0000ec,#0000db,#0000cc,#0000c0,#0000ba,#0000bd,#0000c9,#0000dc,#0000f8,#0025ff,#005fff,#009fff,#00e9ff,#49ffb6,#b8ff47,#ffdd00,#ff8600,#ff3b00,#ff0800,#f00000,#e20000,#d60000,#cb0000,#c40000,#c00000,#be0000,#bd0000,#ba0000,#ba0000)}
.b58{background:linear-gradient(90deg,#bb0000,#c10000,#cf0000,#e40000,#ff0200,#ff2b00,#ff6100,#ffaa00,#edff12,#6bff94,#00edff,#008dff,#0047ff,#0015ff,#0000f4,#0000e0,#0000d1,#0000c3,#0000ba,#0000bb,#0000c5,#0000d5,#0000ec,#0011ff,#0047ff,#0085ff,#00c7ff,#18ffe7,#7dff82,#e9ff16,#ffb600,#ff6500,#ff2200,#fb0000,#ea0000,#dd0000,#d10000,#c70000,#c00000,#bd0000,#bb0000,#ba0000,#ba0000,#bb0000)}
.b59{background:linear-gradient(90deg,#be0000,#c90000,#db0000,#f30000,#ff1800,#ff4900,#ff8a00,#ffe400,#9eff61,#1bffe4,#00aeff,#005fff,#0026ff,#0000fe,#0000e7,#0000d6,#0000c7,#0000bc,#0000b9,#0000c0,#0000cf,#0000e2,#0000ff,#002fff,#006dff,#00abff,#00f0ff,#49ffb6,#b1ff4e,#ffe900,#ff9200,#ff4600,#ff0e00,#f30000,#e50000,#d90000,#cd0000,#c20000,#bc0000,#ba0000,#b90000,#ba0000,#bb0000,#be0000)}
.b60{background:linear-gradient(90deg,#c40000,#d20000,#e70000,#ff0500,#ff3200,#ff6c00,#ffbb00,#d4ff2b,#4dffb2,#00d4ff,#007aff,#0039ff,#000cff,#0000ee,#0000dc,#0000cc,#0000bf,#0000b8,#0000bc,#0000c9,#0000da,#0000f1,#0018ff,#0052ff,#0091ff,#00d1ff,#1dffe2,#7cff83,#e2ff1d,#ffc000,#ff6f00,#ff2b00,#ff0100,#ed0000,#e00000,#d40000,#c90000,#be0000,#b90000,#b80000,#b90000,#bb0000,#bf0000,#c40000)}
.b61{background:linear-gradient(90deg,#cb0000,#dc0000,#f30000,#ff1900,#ff4f00,#ff9500,#fff800,#85ff7a,#02fffd,#009bff,#0050ff,#001bff,#0000f7,#0000e2,#0000d2,#0000c3,#0000b9,#0000b9,#0000c3,#0000d3,#0000e6,#0004ff,#0035ff,#0075ff,#00b4ff,#00f7ff,#4dffb2,#b0ff4f,#ffee00,#ff9900,#ff4f00,#ff1500,#f60000,#e80000,#dc0000,#d10000,#c50000,#bc0000,#b80000,#b80000,#b90000,#bd0000,#c40000,#cb0000)}
.b62{background:linear-gradient(90deg,#d30000,#e60000,#ff0300,#ff3000,#ff7100,#ffc800,#bfff40,#36ffc9,#00c1ff,#006bff,#002dff,#0003ff,#0000e9,#0000d7,#0000c8,#0000bc,#0000b7,#0000be,#0000cc,#0000dd,#0000f4,#001bff,#0055ff,#0096ff,#00d6ff,#22ffdd,#80ff7f,#e2ff1d,#ffc200,#ff7400,#ff3200,#ff0600,#f00000,#e40000,#d90000,#cd0000,#c30000,#bb0000,#b80000,#b80000,#bb0000,#c00000,#cb0000,#d30000)}
.b63{background:linear-gradient(90deg,#db0000,#f00000,#ff1500,#ff4d00,#ff9c00,#f7ff08,#70ff8f,#00edff,#008bff,#0043ff,#0011ff,#0000f1,#0000de,#0000ce,#0000c0,#0000b8,#0000ba,#0000c5,#0000d6,#0000e9,#0006ff,#0037ff,#0077ff,#00b7ff,#00fbff,#51ffae,#b4ff4b,#ffec00,#ff9900,#ff5200,#ff1b00,#fa0000,#eb0000,#e00000,#d60000,#cb0000,#c10000,#ba0000,#b80000,#b90000,#bd0000,#c50000,#d20000,#db0000)}
.b64{background:linear-gradient(90deg,#e30000,#fd0000,#ff2d00,#ff7200,#ffd200,#acff53,#23ffdc,#00b1ff,#005eff,#0022ff,#0000fb,#0000e4,#0000d3,#0000c4,#0000ba,#0000b7,#0000c0,#0000ce,#0000e0,#0000f6,#001dff,#0057ff,#0097ff,#00d8ff,#26ffd9,#84ff7b,#e6ff19,#ffc000,#ff7500,#ff3600,#ff0a00,#f30000,#e80000,#dd0000,#d30000,#c90000,#c00000,#ba0000,#b80000,#bb0000,#c10000,#cb0000,#da0000,#e30000)}
.b65{background:linear-gradient(90deg,#eb0000,#ff0f00,#ff4b00,#ffa000,#e9ff16,#5dffa2,#00ddff,#007eff,#0038ff,#0009ff,#0000ec,#0000da,#0000ca,#0000bd,#0000b7,#0000bb,#0000c8,#0000d8,#0000ea,#0007ff,#0038ff,#0077ff,#00b7ff,#00fcff,#54ffab,#b6ff49,#ffe900,#ff9900,#ff5500,#ff1f00,#fe0000,#ef0000,#e40000,#db0000,#d10000,#c70000,#bf0000,#b90000,#b90000,#bd0000,#c60000,#d20000,#e10000,#eb0000)}
.b66{background:linear-gradient(90deg,#f50000,#ff2500,#ff7000,#ffd900,#9dff62,#12ffed,#00a4ff,#0053ff,#0019ff,#0000f5,#0000e0,#0000d0,#0000c1,#0000b8,#0000b8,#0000c2,#0000d1,#0000e2,#0000f6,#001cff,#0056ff,#0096ff,#00d6ff,#24ffdb,#83ff7c,#e6ff19,#ffc000,#ff7700,#ff3a00,#ff0e00,#f70000,#eb0000,#e20000,#d80000,#cf0000,#c50000,#bd0000,#b90000,#ba0000,#c10000,#cb0000,#d80000,#e80000,#f50000)}
.b67{background:linear-gradient(90deg,#ff0400,#ff4000,#ff9c00,#e4ff1b,#50ffaf,#00d2ff,#0076ff,#0030ff,#0003ff,#0000e8,#0000d6,#0000c7,#0000bb,#0000b6,#0000bd,#0000ca,#0000da,#0000ec,#0006ff,#0035ff,#0074ff,#00b2ff,#00f4ff,#4affb5,#aeff51,#fff100,#ff9f00,#ff5b00,#ff2500,#ff0200,#f20000,#e80000,#df0000,#d60000,#cc0000,#c30000,#bc0000,#b90000,#bd0000,#c60000,#d10000,#dd0000,#f00000,#ff0400)}
.b68{background:linear-gradient(90deg,#ff1400,#ff5e00,#ffce00,#9dff62,#0cfff3,#009fff,#0050ff,#0016ff,#0000f3,#0000de,#0000cd,#0000bf,#0000b7,#0000b9,#0000c4,#0000d3,#0000e4,#0000f7,#0018ff,#004fff,#008eff,#00cbff,#12ffed,#6dff92,#d0ff2f,#ffd200,#ff8500,#ff4600,#ff1500,#fa0000,#ef0000,#e50000,#dc0000,#d30000,#ca0000,#c10000,#ba0000,#b90000,#c10000,#cb0000,#d60000,#e30000,#fb0000,#ff1400)}
.b69{background:linear-gradient(90deg,#ff2700,#ff7f00,#f7ff08,#59ffa6,#00d2ff,#0076ff,#0032ff,#0004ff,#0000e8,#0000d5,#0000c5,#0000ba,#0000b7,#0000bf,#0000cc,#0000dc,#0000ee,#0006ff,#002cff,#0067ff,#00a5ff,#00e2ff,#2cffd3,#89ff76,#eaff15,#ffbd00,#ff7300,#ff3500,#ff0a00,#f60000,#ec0000,#e30000,#da0000,#d10000,#c70000,#bf0000,#b90000,#bb0000,#c50000,#d00000,#db0000,#e80000,#ff0900,#ff2700)}
.b70{background:linear-gradient(90deg,#ff3d00,#ffa700,#b9ff46,#1affe5,#00a3ff,#0055ff,#001cff,#0000f7,#0000df,#0000cc,#0000be,#0000b8,#0000bb,#0000c6,#0000d5,#0000e5,#0000f9,#0016ff,#0042ff,#007eff,#00baff,#00f6ff,#43ffbc,#a0ff5f,#feff01,#ffad00,#ff6400,#ff2800,#ff0200,#f30000,#e90000,#e00000,#d70000,#ce0000,#c50000,#bc0000,#b90000,#be0000,#c90000,#d40000,#df0000,#ef0000,#ff1900,#ff3d00)}
.b71{background:linear-gradient(90deg,#ff5800,#ffda00,#78ff87,#00e2ff,#007cff,#003aff,#000cff,#0000ed,#0000d6,#0000c4,#0000ba,#0000b9,#0000c1,#0000cf,#0000dd,#0000ee,#0006ff,#0028ff,#0058ff,#0092ff,#00cdff,#0cfff3,#59ffa6,#b3ff4c,#fff100,#ff9f00,#ff5700,#ff1c00,#fc0000,#f00000,#e60000,#dd0000,#d40000,#cb0000,#c20000,#ba0000,#ba0000,#c20000,#cd0000,#d80000,#e40000,#f80000,#ff2c00,#ff5800)}
.b72{background:linear-gradient(90deg,#ff7e00,#e6ff19,#39ffc6,#00b1ff,#005cff,#0026ff,#0000fe,#0000e3,#0000cd,#0000bd,#0000b8,#0000bd,#0000c9,#0000d7,#0000e6,#0000f9,#0015ff,#003bff,#006dff,#00a6ff,#00e0ff,#20ffdf,#6dff92,#c5ff3a,#ffe300,#ff9200,#ff4900,#ff1200,#f80000,#ed0000,#e40000,#da0000,#d10000,#c80000,#bf0000,#b90000,#bc0000,#c60000,#d10000,#dd0000,#e90000,#ff0300,#ff4500,#ff7e00)}
.b73{background:linear-gradient(90deg,#ffb400,#9eff61,#00fbff,#0086ff,#0041ff,#0015ff,#0000f4,#0000d9,#0000c3,#0000b9,#0000ba,#0000c4,#0000d1,#0000df,#0000ef,#0006ff,#0026ff,#004fff,#0082ff,#00baff,#00f3ff,#35ffca,#81ff7e,#d6ff29,#ffd400,#ff8400,#ff3b00,#ff0900,#f40000,#ea0000,#e10000,#d70000,#ce0000,#c40000,#bc0000,#b90000,#c00000,#cb0000,#d60000,#e20000,#f10000,#ff1300,#ff6c00,#ffb400)}
.b74{background:linear-gradient(90deg,#fffc00,#53ffac,#00c3ff,#0061ff,#002cff,#0008ff,#0000e9,#0000cf,#0000bc,#0000b7,#0000bf,#0000ca,#0000d8,#0000e7,#0000f8,#0013ff,#0038ff,#0064ff,#0098ff,#00cfff,#0bfff4,#4cffb3,#97ff68,#eaff15,#ffc200,#ff7300,#ff2c00,#ff0100,#f10000,#e70000,#de0000,#d40000,#cb0000,#c10000,#bb0000,#bb0000,#c40000,#cf0000,#db0000,#e90000,#fe0000,#ff3000,#ffa600,#fffc00)}
.b75{background:linear-gradient(90deg,#acff53,#0afff5,#0090ff,#0042ff,#0019ff,#0000f9,#0000de,#0000c5,#0000b7,#0000b9,#0000c3,#0000d1,#0000df,#0000ee,#0003ff,#0023ff,#004cff,#007bff,#00b0ff,#00e9ff,#26ffd9,#68ff97,#b2ff4d,#fffc00,#ffab00,#ff5d00,#ff1d00,#fa0000,#ed0000,#e40000,#da0000,#d00000,#c70000,#bf0000,#bb0000,#bf0000,#c90000,#d50000,#e30000,#f60000,#ff1900,#ff6300,#fff700,#acff53)}
.b76{background:linear-gradient(90deg,#50ffaf,#00c5ff,#0063ff,#0028ff,#0008ff,#0000ec,#0000d3,#0000bd,#0000b5,#0000bb,#0000c8,#0000d6,#0000e4,#0000f5,#000eff,#0033ff,#0061ff,#0094ff,#00ccff,#08fff7,#46ffb9,#88ff77,#d2ff2d,#ffdc00,#ff8d00,#ff4400,#ff0e00,#f50000,#ea0000,#e00000,#d60000,#cd0000,#c40000,#bd0000,#bc0000,#c40000,#d00000,#de0000,#f00000,#ff0f00,#ff4900,#ffb300,#a7ff58,#50ffaf)}
.b77{background:linear-gradient(90deg,#00faff,#0089ff,#003dff,#0012ff,#0000f7,#0000df,#0000c8,#0000b8,#0000b5,#0000bf,#0000cc,#0000da,#0000e9,#0000fc,#001bff,#0046ff,#007aff,#00b2ff,#00eeff,#2bffd4,#6bff94,#aeff51,#f8ff07,#ffb800,#ff6b00,#ff2a00,#ff0200,#f00000,#e50000,#dc0000,#d20000,#c90000,#c10000,#bd0000,#c00000,#ca0000,#d80000,#ea0000,#ff0700,#ff3900,#ff9300,#e6ff19,#44ffbb,#00faff)}
.b78{background:linear-gradient(90deg,#00b0ff,#0057ff,#0020ff,#0000ff,#0000e8,#0000d3,#0000c0,#0000b5,#0000b7,#0000c2,#0000d0,#0000df,#0000ef,#0007ff,#002bff,#005dff,#0097ff,#00d4ff,#13ffec,#52ffad,#91ff6e,#d5ff2a,#ffdf00,#ff9200,#ff4a00,#ff1500,#f80000,#eb0000,#e10000,#d70000,#ce0000,#c50000,#bf0000,#bf0000,#c60000,#d20000,#e40000,#ff0000,#ff2d00,#ff7900,#fff200,#7bff84,#00ebff,#00b0ff)}
.b79{background:linear-gradient(90deg,#0075ff,#0031ff,#0008ff,#0000ef,#0000dc,#0000ca,#0000bb,#0000b4,#0000b9,#0000c5,#0000d4,#0000e3,#0000f5,#0012ff,#003fff,#0079ff,#00b9ff,#00f9ff,#3affc5,#79ff86,#b8ff47,#fcff03,#ffb700,#ff6c00,#ff2d00,#ff0500,#f10000,#e60000,#dc0000,#d30000,#c90000,#c10000,#be0000,#c20000,#cd0000,#dd0000,#f70000,#ff2200,#ff6600,#ffcc00,#a6ff59,#1affe5,#00a4ff,#0075ff)}
.b80{background:linear-gradient(90deg,#0047ff,#0014ff,#0000f6,#0000e3,#0000d2,#0000c2,#0000b7,#0000b4,#0000bb,#0000c9,#0000d8,#0000e8,#0000fd,#0023ff,#005aff,#009bff,#00deff,#21ffde,#61ff9e,#9fff60,#deff21,#ffda00,#ff9000,#ff4a00,#ff1600,#f90000,#ec0000,#e20000,#d80000,#ce0000,#c50000,#bf0000,#bf0000,#c80000,#d60000,#ed0000,#ff1600,#ff5400,#ffb100,#d2ff2d,#45ffba,#00c9ff,#006bff,#0047ff)}
.b81{background:linear-gradient(90deg,#0023ff,#0000fd,#0000e8,#0000d9,#0000ca,#0000bd,#0000b4,#0000b4,#0000be,#0000cd,#0000dd,#0000ed,#0009ff,#0039ff,#0079ff,#00bfff,#06fff9,#49ffb6,#88ff77,#c4ff3b,#fffa00,#ffb200,#ff6a00,#ff2d00,#ff0500,#f20000,#e70000,#dd0000,#d30000,#ca0000,#c10000,#bd0000,#c30000,#d00000,#e30000,#ff0600,#ff4100,#ff9600,#f7ff08,#73ff8c,#00f2ff,#008bff,#003eff,#0023ff)}
.b82{background:linear-gradient(90deg,#0008ff,#0000ed,#0000dd,#0000d0,#0000c4,#0000b9,#0000b2,#0000b6,#0000c3,#0000d2,#0000e2,#0000f6,#001aff,#0055ff,#009dff,#00e6ff,#2dffd2,#70ff8f,#aeff51,#eaff15,#ffd100,#ff8a00,#ff4800,#ff1600,#f90000,#ec0000,#e20000,#d90000,#cf0000,#c50000,#be0000,#be0000,#c80000,#d90000,#f30000,#ff2700,#ff7700,#ffdf00,#9fff60,#1effe1,#00b0ff,#0059ff,#001cff,#0008ff)}
.b83{background:linear-gradient(90deg,#0000f4,#0000e1,#0000d4,#0000c9,#0000bf,#0000b6,#0000b2,#0000b9,#0000c8,#0000d8,#0000e9,#0004ff,#0033ff,#0077ff,#00c1ff,#0cfff3,#54ffab,#97ff68,#d5ff2a,#ffeb00,#ffa700,#ff6300,#ff2b00,#ff0500,#f20000,#e70000,#de0000,#d40000,#cb0000,#c20000,#bc0000,#c00000,#cf0000,#e40000,#ff0900,#ff5000,#ffb100,#d5ff2a,#4effb1,#00d8ff,#007bff,#0032ff,#0003ff,#0000f4)}
.b84{background:linear-gradient(90deg,#0000e5,#0000d7,#0000cc,#0000c3,#0000ba,#0000b3,#0000b4,#0000be,#0000ce,#0000df,#0000f3,#0017ff,#0052ff,#009bff,#00e5ff,#31ffce,#7aff85,#bfff40,#feff01,#ffc000,#ff7c00,#ff4000,#ff1300,#f90000,#ec0000,#e30000,#d90000,#d00000,#c70000,#be0000,#bb0000,#c50000,#d70000,#f00000,#ff2300,#ff7c00,#ffeb00,#8dff72,#09fff6,#00a1ff,#004fff,#0013ff,#0000f0,#0000e5)}
.b85{background:linear-gradient(90deg,#0000da,#0000cd,#0000c5,#0000bd,#0000b6,#0000b2,#0000b7,#0000c5,#0000d5,#0000e8,#0003ff,#0031ff,#0074ff,#00beff,#0afff5,#58ffa7,#a4ff5b,#e9ff16,#ffd400,#ff9300,#ff5400,#ff2200,#ff0300,#f10000,#e70000,#de0000,#d50000,#cc0000,#c30000,#bc0000,#bd0000,#cb0000,#e00000,#ff0100,#ff4500,#ffaa00,#d7ff28,#4affb5,#00cfff,#0073ff,#002cff,#0000fb,#0000e2,#0000da)}
.b86{background:linear-gradient(90deg,#0000cf,#0000c5,#0000be,#0000b8,#0000b3,#0000b3,#0000bc,#0000cc,#0000dd,#0000f3,#0017ff,#0051ff,#0097ff,#00e1ff,#30ffcf,#83ff7c,#d0ff2f,#ffe900,#ffa800,#ff6900,#ff3200,#ff0d00,#f70000,#eb0000,#e30000,#da0000,#d10000,#c90000,#c00000,#bb0000,#c00000,#d20000,#ea0000,#ff1700,#ff6b00,#ffdc00,#98ff67,#0bfff4,#009dff,#004bff,#000fff,#0000ea,#0000d6,#0000cf)}
.b87{background:linear-gradient(90deg,#0000c6,#0000bf,#0000ba,#0000b5,#0000b3,#0000b6,#0000c3,#0000d4,#0000e7,#0003ff,#0031ff,#0072ff,#00b9ff,#06fff9,#5bffa4,#b2ff4d,#feff01,#ffbc00,#ff7d00,#ff4400,#ff1800,#fd0000,#f00000,#e70000,#de0000,#d60000,#ce0000,#c50000,#bd0000,#bb0000,#c50000,#da0000,#f80000,#ff3400,#ff9700,#e9ff16,#55ffaa,#00d1ff,#0070ff,#0029ff,#0000f8,#0000dd,#0000cc,#0000c6)}
.b88{background:linear-gradient(90deg,#0000be,#0000ba,#0000b6,#0000b4,#0000b4,#0000bb,#0000ca,#0000dc,#0000f2,#0018ff,#0050ff,#0094ff,#00dbff,#2fffd0,#8cff73,#e4ff1b,#ffd200,#ff9100,#ff5600,#ff2500,#ff0600,#f40000,#eb0000,#e20000,#da0000,#d20000,#ca0000,#c20000,#bc0000,#bd0000,#cc0000,#e40000,#ff0d00,#ff5900,#ffc800,#a9ff56,#14ffeb,#009dff,#0049ff,#000dff,#0000e7,#0000d0,#0000c2,#0000be)}
.b89{background:linear-gradient(90deg,#0000b9,#0000b6,#0000b5,#0000b4,#0000b6,#0000c1,#0000d2,#0000e5,#0002ff,#0032ff,#0071ff,#00b4ff,#00ffff,#5dffa2,#bfff40,#ffeb00,#ffa700,#ff6a00,#ff3500,#ff1000,#fa0000,#ef0000,#e60000,#df0000,#d70000,#cf0000,#c70000,#c00000,#bb0000,#c10000,#d50000,#f30000,#ff2900,#ff8600,#fbff04,#63ff9c,#00d6ff,#006fff,#0027ff,#0000f6,#0000d9,#0000c6,#0000bb,#0000b9)}
.b90{background:linear-gradient(90deg,#0000b6,#0000b5,#0000b5,#0000b5,#0000bb,#0000c9,#0000db,#0000f0,#0016ff,#0050ff,#0092ff,#00d6ff,#29ffd6,#8eff71,#eeff11,#ffc300,#ff8200,#ff4900,#ff1c00,#ff0200,#f30000,#ea0000,#e30000,#db0000,#d40000,#cc0000,#c40000,#be0000,#bc0000,#c90000,#e20000,#ff0a00,#ff5000,#ffbd00,#b6ff49,#1dffe2,#009fff,#0047ff,#000bff,#0000e5,#0000cd,#0000bd,#0000b7,#0000b6)}
.b91{background:linear-gradient(90deg,#0000b5,#0000b5,#0000b6,#0000ba,#0000c3,#0000d2,#0000e4,#0000fe,#002eff,#006fff,#00b2ff,#00faff,#55ffaa,#bcff43,#ffe900,#ffa100,#ff6400,#ff2f00,#ff0b00,#f80000,#ef0000,#e70000,#e00000,#d80000,#d10000,#c90000,#c20000,#bd0000,#c10000,#d30000,#f30000,#ff2b00,#ff8400,#ffff00,#6aff95,#00d9ff,#006fff,#0025ff,#0000f6,#0000d9,#0000c4,#0000b8,#0000b5,#0000b5)}
.b92{background:linear-gradient(90deg,#0000b5,#0000b7,#0000ba,#0000c0,#0000cc,#0000db,#0000ef,#0010ff,#004aff,#008fff,#00d4ff,#23ffdc,#83ff7c,#e3ff1c,#ffca00,#ff8600,#ff4a00,#ff1b00,#ff0000,#f30000,#ec0000,#e40000,#dd0000,#d60000,#ce0000,#c70000,#c10000,#bf0000,#c90000,#e20000,#ff0f00,#ff5800,#ffc200,#b3ff4c,#1effe1,#009fff,#0045ff,#000bff,#0000e6,#0000cf,#0000be,#0000b6,#0000b5,#0000b5)}
.b93{background:linear-gradient(90deg,#0000b7,#0000ba,#0000bf,#0000c8,#0000d5,#0000e5,#0000fb,#0026ff,#0068ff,#00b0ff,#00f9ff,#4effb1,#adff52,#fffa00,#ffaf00,#ff6d00,#ff3500,#ff0c00,#f90000,#f00000,#e90000,#e20000,#da0000,#d30000,#cc0000,#c50000,#c00000,#c30000,#d40000,#f70000,#ff3400,#ff9000,#f4ff0b,#63ff9c,#00d7ff,#006dff,#0024ff,#0000f6,#0000db,#0000c7,#0000ba,#0000b5,#0000b6,#0000b7)}
.b94{background:linear-gradient(90deg,#0000ba,#0000be,#0000c6,#0000d1,#0000de,#0000ee,#000bff,#0041ff,#0088ff,#00d2ff,#22ffdd,#79ff86,#d1ff2e,#ffde00,#ff9600,#ff5600,#ff2200,#ff0300,#f50000,#ed0000,#e60000,#df0000,#d80000,#d10000,#ca0000,#c40000,#c10000,#ca0000,#e40000,#ff1600,#ff6400,#ffd100,#a6ff59,#16ffe9,#009bff,#0043ff,#000aff,#0000e8,#0000d2,#0000c1,#0000b8,#0000b6,#0000b8,#0000ba)}
.b95{background:linear-gradient(90deg,#0000bd,#0000c4,#0000ce,#0000da,#0000e7,#0000f9,#001fff,#005fff,#00aaff,#00f8ff,#4bffb4,#a1ff5e,#f0ff0f,#ffc400,#ff7e00,#ff4000,#ff1200,#fb0000,#f20000,#eb0000,#e40000,#dd0000,#d60000,#cf0000,#c90000,#c30000,#c50000,#d60000,#fc0000,#ff3e00,#ff9e00,#e5ff1a,#57ffa8,#00d0ff,#0069ff,#0022ff,#0000f7,#0000de,#0000cb,#0000bd,#0000b7,#0000b8,#0000bb,#0000bd)}
.b96{background:linear-gradient(90deg,#0000c2,#0000cc,#0000d6,#0000e2,#0000f0,#0007ff,#0038ff,#0080ff,#00ceff,#20ffdf,#75ff8a,#c4ff3b,#fff200,#ffaa00,#ff6500,#ff2b00,#ff0600,#f60000,#ef0000,#e80000,#e10000,#db0000,#d40000,#ce0000,#c80000,#c50000,#ce0000,#e90000,#ff1d00,#ff7000,#ffe000,#98ff67,#0dfff2,#0096ff,#0040ff,#0009ff,#0000ea,#0000d6,#0000c5,#0000ba,#0000b7,#0000ba,#0000bf,#0000c2)}
.b97{background:linear-gradient(90deg,#0000c9,#0000d4,#0000df,#0000eb,#0000fa,#001aff,#0056ff,#00a2ff,#00f4ff,#4affb5,#9cff63,#e4ff1b,#ffd500,#ff8d00,#ff4c00,#ff1900,#fd0000,#f30000,#ec0000,#e50000,#de0000,#d80000,#d20000,#cd0000,#ca0000,#cc0000,#dd0000,#ff0500,#ff4800,#ffaa00,#d7ff28,#4cffb3,#00caff,#0066ff,#0020ff,#0000f7,#0000e1,#0000cf,#0000c0,#0000b8,#0000b9,#0000bd,#0000c4,#0000c9)}
.b98{background:linear-gradient(90deg,#0000d0,#0000dc,#0000e8,#0000f4,#0009ff,#0032ff,#0076ff,#00c6ff,#1cffe3,#73ff8c,#c1ff3e,#fff900,#ffb500,#ff6f00,#ff3300,#ff0b00,#f80000,#ef0000,#e80000,#e20000,#db0000,#d60000,#d20000,#cf0000,#cf0000,#da0000,#f60000,#ff2900,#ff7a00,#ffea00,#8dff72,#05fffa,#0093ff,#003fff,#0009ff,#0000ec,#0000d9,#0000c9,#0000bd,#0000b8,#0000bb,#0000c2,#0000cb,#0000d0)}
.b99{background:linear-gradient(90deg,#0000d8,#0000e4,#0000f1,#0001ff,#001cff,#0050ff,#0098ff,#00ebff,#45ffba,#9cff63,#e6ff19,#ffd600,#ff9200,#ff5000,#ff1d00,#ff0000,#f30000,#eb0000,#e40000,#de0000,#d80000,#d40000,#d30000,#d40000,#dc0000,#f10000,#ff1800,#ff5600,#ffb200,#d0ff2f,#44ffbb,#00c5ff,#0064ff,#0020ff,#0000f8,#0000e3,#0000d3,#0000c4,#0000bb,#0000ba,#0000bf,#0000c7,#0000d2,#0000d8)}
.b100{background:linear-gradient(90deg,#0000e0,#0000ed,#0000fb,#0011ff,#0035ff,#006fff,#00bbff,#13ffec,#70ff8f,#c5ff3a,#fff300,#ffb000,#ff6e00,#ff3300,#ff0c00,#f80000,#ee0000,#e70000,#e00000,#d90000,#d50000,#d40000,#d70000,#df0000,#f10000,#ff1200,#ff4100,#ff8700,#ffee00,#89ff76,#00ffff,#0090ff,#003fff,#000aff,#0000ed,#0000dc,#0000cd,#0000c0,#0000ba,#0000bc,#0000c3,#0000ce,#0000da,#0000e0)}
.b101{background:linear-gradient(90deg,#0000e9,#0000f6,#0009ff,#0024ff,#0050ff,#008fff,#00dfff,#3dffc2,#9cff63,#edff12,#ffcc00,#ff8a00,#ff4c00,#ff1c00,#ff0000,#f20000,#ea0000,#e20000,#db0000,#d60000,#d40000,#d80000,#e00000,#f10000,#ff0f00,#ff3600,#ff6c00,#ffbb00,#cfff30,#42ffbd,#00c2ff,#0063ff,#0021ff,#0000fa,#0000e5,#0000d6,#0000c8,#0000bd,#0000ba,#0000c0,#0000c9,#0000d5,#0000e2,#0000e9)}
.b102{background:linear-gradient(90deg,#0000f2,#0003ff,#0019ff,#003aff,#006cff,#00b0ff,#07fff8,#6bff94,#c9ff36,#ffe900,#ffa600,#ff6700,#ff3000,#ff0a00,#f60000,#ed0000,#e50000,#dd0000,#d70000,#d40000,#d70000,#e00000,#f00000,#ff0c00,#ff3100,#ff5d00,#ff9800,#fff300,#89ff76,#00fdff,#008eff,#003fff,#000cff,#0000ef,#0000df,#0000d1,#0000c4,#0000bc,#0000bd,#0000c4,#0000d0,#0000dd,#0000eb,#0000f2)}
.b103{background:linear-gradient(90deg,#0000fd,#0012ff,#002dff,#0052ff,#0089ff,#00d4ff,#33ffcc,#9bff64,#f5ff0a,#ffc100,#ff8100,#ff4700,#ff1900,#fd0000,#f00000,#e70000,#df0000,#d80000,#d40000,#d50000,#de0000,#ee0000,#ff0800,#ff2d00,#ff5600,#ff8500,#ffc600,#cdff32,#41ffbe,#00c0ff,#0063ff,#0022ff,#0000fc,#0000e8,#0000d9,#0000cc,#0000c0,#0000bc,#0000c1,#0000cb,#0000d8,#0000e7,#0000f5,#0000fd)}
.b104{background:linear-gradient(90deg,#000eff,#0026ff,#0044ff,#006dff,#00a8ff,#00fcff,#64ff9b,#cbff34,#ffe000,#ff9d00,#ff6000,#ff2c00,#ff0800,#f50000,#eb0000,#e20000,#da0000,#d40000,#d40000,#db0000,#ea0000,#ff0300,#ff2700,#ff5200,#ff7c00,#ffad00,#fffb00,#88ff77,#00fbff,#008cff,#0040ff,#000dff,#0000f1,#0000e1,#0000d4,#0000c7,#0000be,#0000be,#0000c7,#0000d3,#0000e2,#0000f2,#0004ff,#000eff)}
.b105{background:linear-gradient(90deg,#0024ff,#0040ff,#005fff,#008bff,#00ceff,#2bffd4,#95ff6a,#f7ff08,#ffbb00,#ff7b00,#ff4300,#ff1600,#fc0000,#ee0000,#e50000,#dc0000,#d50000,#d20000,#d70000,#e50000,#fc0000,#ff1f00,#ff4a00,#ff7700,#ffa200,#ffdb00,#c4ff3b,#3effc1,#00beff,#0062ff,#0024ff,#0000fe,#0000e9,#0000db,#0000ce,#0000c3,#0000be,#0000c3,#0000cf,#0000de,#0000ef,#0003ff,#0018ff,#0024ff)}
.b106{background:linear-gradient(90deg,#0042ff,#005fff,#007eff,#00afff,#00faff,#5dffa2,#c5ff3a,#ffe100,#ff9a00,#ff5e00,#ff2a00,#ff0700,#f40000,#e90000,#df0000,#d70000,#d10000,#d40000,#df0000,#f30000,#ff1400,#ff3f00,#ff6f00,#ff9c00,#ffcd00,#eaff15,#7aff85,#00f6ff,#008bff,#0041ff,#0010ff,#0000f3,#0000e2,#0000d5,#0000c8,#0000c1,#0000c1,#0000cb,#0000da,#0000ec,#0002ff,#0019ff,#0034ff,#0042ff)}
.b107{background:linear-gradient(90deg,#0065ff,#0080ff,#00a1ff,#00d9ff,#2dffd2,#8fff70,#eeff11,#ffc000,#ff7d00,#ff4400,#ff1600,#fb0000,#ed0000,#e30000,#da0000,#d20000,#d10000,#d90000,#eb0000,#ff0800,#ff3100,#ff6200,#ff9300,#ffc400,#feff01,#a5ff5a,#2effd1,#00b9ff,#0062ff,#0026ff,#0000ff,#0000ea,#0000db,#0000ce,#0000c4,#0000c2,#0000c9,#0000d7,#0000e8,#0000fe,#001aff,#0038ff,#0057ff,#0065ff)}
.b108{background:linear-gradient(90deg,#008aff,#00a2ff,#00c8ff,#09fff6,#60ff9f,#bdff42,#ffec00,#ffa300,#ff6300,#ff2d00,#ff0700,#f30000,#e70000,#dd0000,#d40000,#cf0000,#d40000,#e20000,#fb0000,#ff2200,#ff5300,#ff8700,#ffba00,#fff200,#c1ff3e,#5bffa4,#00e8ff,#0088ff,#0041ff,#0011ff,#0000f3,#0000e1,#0000d3,#0000c8,#0000c3,#0000c7,#0000d4,#0000e5,#0000fc,#0019ff,#003aff,#005dff,#007dff,#008aff)}
.b109{background:linear-gradient(90deg,#00acff,#00c4ff,#00f0ff,#3affc5,#90ff6f,#e4ff1b,#ffcd00,#ff8700,#ff4900,#ff1900,#fb0000,#ec0000,#e10000,#d70000,#cf0000,#d00000,#db0000,#f00000,#ff1300,#ff4200,#ff7800,#ffae00,#ffe600,#d5ff2a,#7dff82,#15ffea,#00b0ff,#0061ff,#0027ff,#0000ff,#0000e8,#0000d8,#0000cb,#0000c4,#0000c6,#0000d1,#0000e2,#0000f9,#0017ff,#003aff,#0061ff,#0085ff,#00a1ff,#00acff)}
.b110{background:linear-gradient(90deg,#00cbff,#00e6ff,#1cffe3,#69ff96,#baff45,#fff900,#ffb000,#ff6c00,#ff3200,#ff0900,#f20000,#e50000,#da0000,#d10000,#ce0000,#d50000,#e70000,#ff0500,#ff3100,#ff6800,#ffa100,#ffda00,#e5ff1a,#98ff67,#3affc5,#00d8ff,#0084ff,#0042ff,#0012ff,#0000f2,#0000df,#0000d0,#0000c6,#0000c6,#0000cf,#0000e0,#0000f6,#0014ff,#0039ff,#0062ff,#008bff,#00acff,#00c1ff,#00cbff)}
.b111{background:linear-gradient(90deg,#00e6ff,#09fff6,#48ffb7,#94ff6b,#ddff22,#ffda00,#ff9200,#ff5100,#ff1c00,#fb0000,#ea0000,#de0000,#d30000,#cd0000,#d00000,#de0000,#f70000,#ff2000,#ff5600,#ff9100,#ffcd00,#f3ff0c,#acff53,#58ffa7,#00fbff,#00a7ff,#0060ff,#0029ff,#0002ff,#0000e9,#0000d7,#0000ca,#0000c6,#0000cd,#0000dd,#0000f4,#0012ff,#0037ff,#0062ff,#008eff,#00b4ff,#00ceff,#00ddff,#00e6ff)}
.b112{background:linear-gradient(90deg,#01fffe,#2effd1,#73ff8c,#baff45,#feff01,#ffb900,#ff7300,#ff3600,#ff0a00,#f10000,#e30000,#d70000,#ce0000,#cc0000,#d60000,#eb0000,#ff0f00,#ff4200,#ff8000,#ffbe00,#fffe00,#bbff44,#6eff91,#1affe5,#00c6ff,#007eff,#0043ff,#0017ff,#0000f9,#0000e4,#0000d3,#0000c9,#0000cc,#0000db,#0000f2,#0010ff,#0036ff,#0062ff,#008fff,#00b9ff,#00d7ff,#00e8ff,#00f5ff,#01fffe)}
.b113{background:linear-gradient(90deg,#1bffe4,#54ffab,#9bff64,#deff21,#ffdd00,#ff9600,#ff5300,#ff1e00,#fb0000,#e90000,#dc0000,#d10000,#cb0000,#d00000,#e00000,#fd0000,#ff2d00,#ff6c00,#ffae00,#fff000,#caff35,#7fff80,#30ffcf,#00e0ff,#0097ff,#005bff,#002eff,#000fff,#0000f8,#0000e4,#0000d4,#0000cf,#0000d9,#0000f0,#000fff,#0035ff,#0062ff,#0090ff,#00baff,#00dcff,#00f1ff,#00fcff,#0cfff3,#1bffe4)}
.b114{background:linear-gradient(90deg,#37ffc8,#7bff84,#c2ff3d,#fffb00,#ffb600,#ff7000,#ff3400,#ff0a00,#f00000,#e10000,#d40000,#cc0000,#cc0000,#d70000,#ee0000,#ff1600,#ff5300,#ff9a00,#ffe100,#d8ff27,#8fff70,#41ffbe,#00f3ff,#00aaff,#006cff,#0040ff,#0023ff,#0010ff,#0000fd,#0000e9,#0000da,#0000db,#0000ee,#000eff,#0035ff,#0062ff,#0091ff,#00bbff,#00ddff,#00f5ff,#03fffc,#0dfff2,#22ffdd,#37ffc8)}
.b115{background:linear-gradient(90deg,#55ffaa,#a2ff5d,#e7ff18,#ffd400,#ff8d00,#ff4b00,#ff1900,#f90000,#e70000,#d90000,#ce0000,#ca0000,#d10000,#e20000,#ff0100,#ff3600,#ff8000,#ffce00,#e5ff1a,#9cff63,#51ffae,#04fffb,#00baff,#007aff,#004aff,#002fff,#0023ff,#0019ff,#0006ff,#0000ee,#0000e3,#0000ed,#000bff,#0033ff,#0061ff,#0091ff,#00bcff,#00deff,#00f6ff,#06fff9,#10ffef,#1cffe3,#39ffc6,#55ffaa)}
.b116{background:linear-gradient(90deg,#75ff8a,#c7ff38,#fff100,#ffab00,#ff6500,#ff2b00,#ff0500,#ee0000,#df0000,#d20000,#ca0000,#cc0000,#d80000,#ee0000,#ff1700,#ff5d00,#ffb300,#f5ff0a,#a7ff58,#5effa1,#14ffeb,#00caff,#0088ff,#0053ff,#0033ff,#002aff,#002aff,#0022ff,#000bff,#0000f2,#0000ee,#0006ff,#002eff,#005dff,#008fff,#00bcff,#00dfff,#00f6ff,#06fff9,#10ffef,#1affe5,#2affd5,#52ffad,#75ff8a)}
.b117{background:linear-gradient(90deg,#95ff6a,#e9ff16,#ffcd00,#ff8500,#ff4200,#ff1200,#f50000,#e50000,#d80000,#cc0000,#c80000,#d00000,#e00000,#fb0000,#ff3300,#ff8a00,#ffed00,#b4ff4b,#65ff9a,#1fffe0,#00d9ff,#0098ff,#005fff,#0036ff,#0027ff,#002cff,#0032ff,#0027ff,#000bff,#0000f5,#0000fe,#0023ff,#0053ff,#0086ff,#00b7ff,#00deff,#00f6ff,#05fffa,#0efff1,#16ffe9,#22ffdd,#39ffc6,#6cff93,#95ff6a)}
.b118{background:linear-gradient(90deg,#b4ff4b,#fff400,#ffa900,#ff6100,#ff2500,#ff0100,#ec0000,#de0000,#d20000,#c80000,#c90000,#d60000,#e90000,#ff0d00,#ff5600,#ffbf00,#ceff31,#6eff91,#25ffda,#00e6ff,#00a9ff,#0070ff,#0040ff,#0024ff,#0024ff,#0032ff,#0037ff,#0024ff,#0007ff,#0000fc,#0015ff,#0043ff,#0078ff,#00abff,#00d7ff,#00f4ff,#04fffb,#0cfff3,#13ffec,#1bffe4,#2cffd3,#4affb5,#88ff77,#b4ff4b)}
.b119{background:linear-gradient(90deg,#d2ff2d,#ffd200,#ff8700,#ff4200,#ff1000,#f40000,#e50000,#d80000,#cd0000,#c60000,#cd0000,#dc0000,#f10000,#ff2300,#ff7f00,#fffd00,#84ff7b,#2bffd4,#00edff,#00bbff,#0086ff,#0053ff,#002aff,#001bff,#0025ff,#0036ff,#0035ff,#001fff,#0007ff,#000bff,#0030ff,#0063ff,#0099ff,#00cbff,#00eeff,#02fffd,#0cfff3,#13ffec,#19ffe6,#22ffdd,#38ffc7,#5effa1,#a4ff5b,#d2ff2d)}
.b120{background:linear-gradient(90deg,#f3ff0c,#ffae00,#ff6600,#ff2700,#ff0000,#ec0000,#e00000,#d40000,#c80000,#c60000,#d10000,#e20000,#fc0000,#ff3d00,#ffae00,#beff41,#3fffc0,#00f2ff,#00c7ff,#00a2ff,#0072ff,#0041ff,#001cff,#0016ff,#0025ff,#0036ff,#0032ff,#001dff,#000fff,#0022ff,#004eff,#0081ff,#00b6ff,#00e3ff,#00feff,#0cfff3,#14ffeb,#1cffe3,#24ffdb,#30ffcf,#4cffb3,#79ff86,#c3ff3c,#f3ff0c)}
.b121{background:linear-gradient(90deg,#ffe700,#ff8900,#ff4700,#ff1200,#f50000,#e70000,#db0000,#cf0000,#c60000,#c80000,#d60000,#e90000,#ff0b00,#ff5e00,#ffe100,#7cff83,#07fff8,#00cdff,#00b4ff,#009cff,#006eff,#003aff,#0016ff,#0013ff,#0023ff,#0033ff,#002fff,#0024ff,#0023ff,#003fff,#0069ff,#009bff,#00ceff,#00f6ff,#0bfff4,#17ffe8,#21ffde,#2bffd4,#36ffc9,#46ffb9,#68ff97,#99ff66,#e5ff1a,#ffe700)}
.b122{background:linear-gradient(90deg,#ffc200,#ff6300,#ff2b00,#ff0300,#ef0000,#e20000,#d70000,#cc0000,#c50000,#cb0000,#dd0000,#f20000,#ff2000,#ff8600,#e6ff19,#42ffbd,#00dfff,#00b7ff,#00b1ff,#00a5ff,#0075ff,#003bff,#0015ff,#000fff,#001eff,#002fff,#0033ff,#0036ff,#0041ff,#005eff,#0083ff,#00b2ff,#00e2ff,#05fffa,#17ffe8,#24ffdb,#32ffcd,#41ffbe,#50ffaf,#65ff9a,#8aff75,#bdff42,#fff500,#ffc200)}
.b123{background:linear-gradient(90deg,#ff9c00,#ff4100,#ff1500,#f80000,#e90000,#de0000,#d30000,#c90000,#c50000,#d10000,#e60000,#ff0200,#ff4100,#ffb800,#aaff55,#11ffee,#00c2ff,#00abff,#00b6ff,#00b5ff,#0082ff,#0043ff,#0019ff,#000dff,#001cff,#0031ff,#003fff,#0051ff,#0063ff,#007cff,#009cff,#00c8ff,#00f5ff,#13ffec,#26ffd9,#36ffc9,#48ffb7,#5bffa4,#70ff8f,#89ff76,#b0ff4f,#e3ff1c,#ffcf00,#ff9c00)}
.b124{background:linear-gradient(90deg,#ff7700,#ff2500,#ff0500,#f00000,#e40000,#d80000,#ce0000,#c80000,#c90000,#d90000,#f50000,#ff1d00,#ff7300,#fff800,#67ff98,#00e1ff,#00a7ff,#00a3ff,#00beff,#00c4ff,#0093ff,#0051ff,#0020ff,#000eff,#0020ff,#003cff,#0056ff,#0073ff,#0087ff,#009cff,#00b8ff,#00e1ff,#0afff5,#24ffdb,#39ffc6,#4cffb3,#62ff9d,#79ff86,#91ff6e,#aeff51,#d6ff29,#fff400,#ffaa00,#ff7700)}
.b125{background:linear-gradient(90deg,#ff5600,#ff1100,#f80000,#e90000,#dd0000,#d20000,#ca0000,#c90000,#d00000,#e70000,#ff0e00,#ff4900,#ffb700,#b7ff48,#1fffe0,#00b2ff,#008cff,#009bff,#00c2ff,#00d0ff,#00a5ff,#0063ff,#002bff,#0015ff,#0030ff,#0054ff,#0076ff,#0097ff,#00acff,#00beff,#00d7ff,#00fdff,#20ffdf,#3affc5,#50ffaf,#66ff99,#7eff81,#98ff67,#b2ff4d,#d1ff2e,#fbff04,#ffcf00,#ff8600,#ff5600)}
.b126{background:linear-gradient(90deg,#ff3a00,#ff0400,#f00000,#e30000,#d70000,#cb0000,#c60000,#cc0000,#db0000,#fb0000,#ff3100,#ff8400,#f4ff0b,#5fffa0,#00d6ff,#0084ff,#0072ff,#0093ff,#00c3ff,#00daff,#00b8ff,#0077ff,#0037ff,#0023ff,#0049ff,#0073ff,#0099ff,#00baff,#00ceff,#00e0ff,#00f9ff,#1bffe4,#39ffc6,#51ffae,#69ff96,#81ff7e,#9aff65,#b5ff4a,#d0ff2f,#f2ff0d,#ffe000,#ffab00,#ff6600,#ff3a00)}
.b127{background:linear-gradient(90deg,#ff2600,#fa0000,#ea0000,#dd0000,#d00000,#c50000,#c60000,#d30000,#eb0000,#ff1800,#ff6100,#ffce00,#9aff65,#0bfff4,#0097ff,#005bff,#005dff,#008cff,#00c3ff,#00e2ff,#00c9ff,#0088ff,#003fff,#0033ff,#0064ff,#0093ff,#00b9ff,#00d8ff,#00edff,#00ffff,#18ffe7,#34ffcb,#4fffb0,#68ff97,#81ff7e,#9aff65,#b4ff4b,#ceff31,#eaff15,#fff000,#ffc100,#ff8c00,#ff4b00,#ff2600)}
.b128{background:linear-gradient(90deg,#ff1700,#f30000,#e50000,#d80000,#cb0000,#c20000,#c90000,#de0000,#ff0200,#ff3d00,#ff9d00,#dfff20,#46ffb9,#00c4ff,#0067ff,#003dff,#0050ff,#0087ff,#00c2ff,#00e7ff,#00d5ff,#0092ff,#0044ff,#0041ff,#007aff,#00abff,#00d0ff,#00eeff,#05fffa,#18ffe7,#2fffd0,#47ffb8,#60ff9f,#7aff85,#94ff6b,#aeff51,#c7ff38,#e2ff1d,#feff01,#ffd900,#ffa800,#ff7400,#ff3700,#ff1700)}
.b129{background:linear-gradient(90deg,#ff0d00,#ef0000,#e10000,#d40000,#c80000,#c30000,#d00000,#ee0000,#ff2000,#ff6d00,#ffe300,#8dff72,#00fdff,#0091ff,#0047ff,#002aff,#004aff,#0083ff,#00c1ff,#00eaff,#00d9ff,#0093ff,#0044ff,#004cff,#0088ff,#00b9ff,#00deff,#00fcff,#13ffec,#27ffd8,#3cffc3,#52ffad,#6bff94,#86ff79,#a0ff5f,#baff45,#d4ff2b,#eeff11,#fff200,#ffc800,#ff9700,#ff6300,#ff2900,#ff0d00)}
.b130{background:linear-gradient(90deg,#ff0600,#eb0000,#de0000,#d20000,#c70000,#c80000,#dc0000,#ff0400,#ff4800,#ffa800,#ceff31,#40ffbf,#00c5ff,#006eff,#0034ff,#0022ff,#0049ff,#0081ff,#00c0ff,#00ebff,#00d8ff,#008eff,#0045ff,#0055ff,#0090ff,#00c0ff,#00e5ff,#04fffb,#1affe5,#2effd1,#43ffbc,#59ffa6,#71ff8e,#8cff73,#a8ff57,#c2ff3d,#dbff24,#f4ff0b,#ffe900,#ffbd00,#ff8c00,#ff5700,#ff1f00,#ff0600)}
.b131{background:linear-gradient(90deg,#ff0100,#ea0000,#de0000,#d30000,#ca0000,#d20000,#ed0000,#ff2100,#ff7800,#ffea00,#81ff7e,#00feff,#009bff,#0058ff,#0028ff,#0022ff,#004cff,#0083ff,#00c1ff,#00eaff,#00d3ff,#0088ff,#004aff,#0062ff,#009aff,#00c6ff,#00ebff,#0afff5,#1fffe0,#34ffcb,#48ffb7,#5effa1,#77ff88,#92ff6d,#aeff51,#c7ff38,#dfff20,#f9ff06,#ffe200,#ffb500,#ff8300,#ff4e00,#ff1700,#ff0100)}
.b132{background:linear-gradient(90deg,#fc0000,#eb0000,#e10000,#d80000,#d20000,#e20000,#ff0500,#ff4700,#ffb100,#ccff33,#3affc5,#00caff,#007eff,#0049ff,#0023ff,#0026ff,#0054ff,#008bff,#00c7ff,#00eaff,#00ceff,#0086ff,#0058ff,#0076ff,#00a9ff,#00d2ff,#00f4ff,#12ffed,#27ffd8,#3bffc4,#4fffb0,#65ff9a,#7eff81,#99ff66,#b5ff4a,#cdff32,#e3ff1c,#fcff03,#ffdc00,#ffad00,#ff7a00,#ff4400,#ff1000,#fc0000)}
.b133{background:linear-gradient(90deg,#fa0000,#ee0000,#e70000,#e00000,#df0000,#f70000,#ff2300,#ff7500,#fff200,#82ff7d,#00fdff,#00a3ff,#0069ff,#003fff,#0022ff,#002fff,#0061ff,#0098ff,#00cfff,#00eaff,#00caff,#008aff,#0070ff,#0093ff,#00c0ff,#00e3ff,#03fffc,#1dffe2,#31ffce,#45ffba,#5affa5,#70ff8f,#89ff76,#a3ff5c,#bdff42,#d3ff2c,#e8ff17,#fffd00,#ffd400,#ffa400,#ff7100,#ff3b00,#ff0a00,#fa0000)}
.b134{background:linear-gradient(90deg,#fa0000,#f30000,#ee0000,#ea0000,#ef0000,#ff1200,#ff4700,#ffad00,#c5ff3a,#3affc5,#00ccff,#0086ff,#005aff,#003aff,#0025ff,#003dff,#0071ff,#00a7ff,#00d8ff,#00ebff,#00c9ff,#0096ff,#0090ff,#00b4ff,#00dbff,#00f9ff,#15ffea,#2cffd3,#40ffbf,#53ffac,#68ff97,#7eff81,#96ff69,#aeff51,#c6ff39,#dbff24,#eeff11,#fff600,#ffcb00,#ff9800,#ff6400,#ff3000,#ff0600,#fa0000)}
.b135{background:linear-gradient(90deg,#fc0000,#f80000,#f60000,#f50000,#ff0300,#ff2f00,#ff7200,#ffec00,#7aff85,#00f7ff,#00a1ff,#006dff,#004fff,#0039ff,#002eff,#004dff,#0083ff,#00b6ff,#00deff,#00ebff,#00ccff,#00aaff,#00b3ff,#00d6ff,#00f6ff,#11ffee,#2affd5,#40ffbf,#53ffac,#67ff98,#7cff83,#91ff6e,#a5ff5a,#baff45,#cfff30,#e2ff1d,#f7ff08,#ffea00,#ffbc00,#ff8900,#ff5500,#ff2500,#ff0300,#fc0000)}
.b136{background:linear-gradient(90deg,#fd0000,#fc0000,#fc0000,#ff0000,#ff1600,#ff4f00,#ffa400,#ccff33,#2fffd0,#00bbff,#007aff,#0058ff,#0048ff,#003cff,#003cff,#0060ff,#0093ff,#00c1ff,#00e3ff,#00ecff,#00d4ff,#00c3ff,#00d5ff,#00f4ff,#11ffee,#29ffd6,#42ffbd,#58ffa7,#6cff93,#80ff7f,#95ff6a,#a6ff59,#b6ff49,#c6ff39,#d8ff27,#ecff13,#fffb00,#ffd800,#ffa800,#ff7500,#ff4300,#ff1900,#ff0100,#fd0000)}
.b137{background:linear-gradient(90deg,#fd0000,#ff0000,#ff0200,#ff0900,#ff2d00,#ff7400,#ffde00,#81ff7e,#00e7ff,#0084ff,#0055ff,#0046ff,#0044ff,#0042ff,#004cff,#0072ff,#009fff,#00c7ff,#00e4ff,#00eeff,#00e0ff,#00deff,#00f4ff,#0ffff0,#28ffd7,#41ffbe,#5bffa4,#74ff8b,#89ff76,#9dff62,#b1ff4e,#bdff42,#c6ff39,#d0ff2f,#e1ff1e,#f6ff09,#ffea00,#ffc200,#ff9000,#ff5e00,#ff3000,#ff0f00,#ff0000,#fd0000)}
.b138{background:linear-gradient(90deg,#fd0000,#ff0200,#ff0700,#ff1400,#ff4700,#ffa000,#ddff22,#34ffcb,#00a5ff,#0054ff,#0035ff,#0039ff,#0043ff,#004cff,#005dff,#0080ff,#00a7ff,#00c9ff,#00e5ff,#00f2ff,#00f0ff,#00f7ff,#0efff1,#24ffdb,#3bffc4,#57ffa8,#74ff8b,#8fff70,#a5ff5a,#bbff44,#cbff34,#d1ff2e,#d3ff2c,#d9ff26,#e9ff16,#fffc00,#ffd700,#ffa900,#ff7800,#ff4700,#ff1f00,#ff0700,#fd0000,#fd0000)}
.b139{background:linear-gradient(90deg,#fd0000,#ff0400,#ff0c00,#ff2400,#ff6800,#ffd500,#91ff6e,#00e7ff,#006bff,#002cff,#001fff,#0031ff,#0045ff,#0055ff,#006bff,#0089ff,#00abff,#00c9ff,#00e4ff,#00f5ff,#00fdff,#0cfff3,#1fffe0,#33ffcc,#4affb5,#68ff97,#87ff78,#a4ff5b,#bdff42,#d3ff2c,#e0ff1f,#dfff20,#dcff23,#e0ff1f,#f2ff0d,#fff000,#ffc600,#ff9500,#ff6400,#ff3600,#ff1200,#ff0200,#fc0000,#fd0000)}
.b140{background:linear-gradient(90deg,#fd0000,#ff0700,#ff1600,#ff3c00,#ff9100,#eaff15,#40ffbf,#009fff,#003bff,#000fff,#0014ff,#002fff,#0047ff,#005cff,#0072ff,#008dff,#00aaff,#00c7ff,#00e1ff,#00f7ff,#07fff8,#17ffe8,#2affd5,#3cffc3,#53ffac,#71ff8e,#92ff6d,#b0ff4f,#cbff34,#e3ff1c,#ecff13,#e5ff1a,#e0ff1f,#e6ff19,#faff05,#ffe600,#ffb800,#ff8700,#ff5800,#ff2c00,#ff0c00,#fe0000,#fb0000,#fd0000)}
.b141{background:linear-gradient(90deg,#fd0000,#ff0d00,#ff2700,#ff5f00,#ffc500,#9fff60,#00ebff,#0060ff,#0017ff,#0000fd,#0011ff,#0031ff,#004bff,#005fff,#0075ff,#008dff,#00a8ff,#00c4ff,#00deff,#00f7ff,#0bfff4,#1cffe3,#2effd1,#40ffbf,#57ffa8,#74ff8b,#95ff6a,#b5ff4a,#d2ff2d,#ecff13,#f0ff0f,#e6ff19,#e2ff1d,#ecff13,#fffd00,#ffdd00,#ffaf00,#ff7f00,#ff5200,#ff2800,#ff0a00,#fd0000,#fa0000,#fd0000)}
.b142{background:linear-gradient(90deg,#ff0000,#ff1a00,#ff4600,#ff9200,#f7ff08,#4bffb4,#009eff,#002dff,#0000fc,#0000f6,#0013ff,#0036ff,#004fff,#0063ff,#0077ff,#008dff,#00a7ff,#00c3ff,#00ddff,#00f6ff,#0cfff3,#1effe1,#30ffcf,#43ffbc,#59ffa6,#75ff8a,#96ff69,#b6ff49,#d6ff29,#f1ff0e,#f1ff0e,#e5ff1a,#e5ff1a,#f3ff0c,#fff400,#ffd300,#ffa700,#ff7a00,#ff4f00,#ff2600,#ff0900,#fc0000,#fa0000,#ff0000)}
.b143{background:linear-gradient(90deg,#ff0600,#ff3300,#ff7c00,#ffdc00,#a3ff5c,#00f5ff,#005cff,#0009ff,#0000ee,#0000f7,#001bff,#003fff,#0056ff,#0068ff,#007bff,#0090ff,#00abff,#00c6ff,#00e0ff,#00f8ff,#0efff1,#20ffdf,#32ffcd,#46ffb9,#5dffa2,#79ff86,#99ff66,#b9ff46,#daff25,#f4ff0b,#f1ff0e,#e7ff18,#ebff14,#feff01,#ffe800,#ffc700,#ff9e00,#ff7300,#ff4a00,#ff2300,#ff0800,#fc0000,#fc0000,#ff0600)}
.b144{background:linear-gradient(90deg,#ff1300,#ff6000,#ffcb00,#c2ff3d,#41ffbe,#00a5ff,#002bff,#0000f2,#0000e9,#0000fe,#0026ff,#004cff,#0061ff,#0072ff,#0082ff,#0098ff,#00b3ff,#00ceff,#00e7ff,#00feff,#12ffed,#24ffdb,#35ffca,#4bffb4,#64ff9b,#81ff7e,#a1ff5e,#c0ff3f,#e0ff1f,#f7ff08,#f4ff0b,#ecff13,#f5ff0a,#fff300,#ffd900,#ffb900,#ff9200,#ff6a00,#ff4200,#ff1e00,#ff0700,#fd0000,#ff0100,#ff1300)}
.b145{background:linear-gradient(90deg,#ff2800,#ffa000,#d0ff2f,#56ffa9,#00deff,#0062ff,#000aff,#0000e7,#0000ec,#0009ff,#0035ff,#005cff,#006fff,#007dff,#008dff,#00a4ff,#00beff,#00d9ff,#00f1ff,#06fff9,#18ffe7,#28ffd7,#3affc5,#51ffae,#6dff92,#8cff73,#acff53,#c9ff36,#e8ff17,#faff05,#f9ff06,#f6ff09,#fffc00,#ffe300,#ffc800,#ffa900,#ff8500,#ff5f00,#ff3900,#ff1900,#ff0700,#fe0000,#ff0800,#ff2800)}
.b146{background:linear-gradient(90deg,#ff4700,#ffee00,#67ff98,#00edff,#0089ff,#0030ff,#0000f6,#0000e4,#0000f3,#0016ff,#0046ff,#006cff,#007dff,#0089ff,#0099ff,#00b0ff,#00c9ff,#00e3ff,#00f9ff,#0cfff3,#1cffe3,#2cffd3,#3dffc2,#56ffa9,#76ff89,#97ff68,#b5ff4a,#d2ff2d,#eeff11,#feff01,#ffff00,#fffd00,#ffee00,#ffd500,#ffba00,#ff9b00,#ff7900,#ff5400,#ff3000,#ff1500,#ff0800,#ff0200,#ff1500,#ff4700)}
.b147{background:linear-gradient(90deg,#ff7100,#bcff43,#09fff6,#009aff,#004cff,#0011ff,#0000ed,#0000e5,#0000fc,#0024ff,#0056ff,#0079ff,#0088ff,#0094ff,#00a3ff,#00b9ff,#00d2ff,#00eaff,#00feff,#10ffef,#1fffe0,#2effd1,#3effc1,#58ffa7,#7aff85,#9dff62,#bbff44,#d7ff28,#f2ff0d,#fffd00,#fff800,#fff200,#ffe300,#ffcb00,#ffaf00,#ff9200,#ff7100,#ff4d00,#ff2b00,#ff1300,#ff0a00,#ff0400,#ff2600,#ff7100)}
.b148{background:linear-gradient(90deg,#ffa100,#6dff92,#00bfff,#0061ff,#0025ff,#0000ff,#0000eb,#0000e9,#0008ff,#0033ff,#0063ff,#0082ff,#008fff,#009bff,#00aaff,#00bfff,#00d6ff,#00edff,#01fffe,#10ffef,#1fffe0,#2dffd2,#3dffc2,#57ffa8,#7aff85,#9eff61,#bcff43,#d9ff26,#f4ff0b,#fffa00,#fff200,#ffea00,#ffdb00,#ffc500,#ffaa00,#ff8c00,#ff6c00,#ff4900,#ff2800,#ff1400,#ff0c00,#ff0600,#ff3a00,#ffa100)}
.b149{background:linear-gradient(90deg,#ffd100,#2cffd3,#008eff,#003fff,#0011ff,#0000f8,#0000eb,#0000ee,#0011ff,#003fff,#006dff,#0087ff,#0094ff,#00a1ff,#00afff,#00c2ff,#00d7ff,#00ecff,#00ffff,#0ffff0,#1dffe2,#2cffd3,#3bffc4,#53ffac,#77ff88,#9cff63,#bbff44,#d9ff26,#f5ff0a,#fff800,#ffee00,#ffe400,#ffd600,#ffc300,#ffa800,#ff8a00,#ff6900,#ff4800,#ff2800,#ff1500,#ff0d00,#ff0800,#ff4f00,#ffd100)}
.b150{background:linear-gradient(90deg,#fff700,#00ffff,#0072ff,#002eff,#0007ff,#0000f6,#0000ec,#0000f2,#0019ff,#0048ff,#0074ff,#008aff,#0097ff,#00a4ff,#00b2ff,#00c4ff,#00d8ff,#00ebff,#00feff,#0efff1,#1cffe3,#2affd5,#39ffc6,#50ffaf,#74ff8b,#99ff66,#baff45,#d8ff27,#f5ff0a,#fff700,#ffec00,#ffe000,#ffd400,#ffc200,#ffa700,#ff8900,#ff6800,#ff4700,#ff2700,#ff1500,#ff0e00,#ff0900,#ff6100,#fff700)}
.c0{background:linear-gradient(90deg,#ff8e00,#ffd400,#ffdf00,#ffa600,#ff2100,#e80000,#ff3600,#ffa700,#ecff13,#b1ff4e,#81ff7e,#77ff88,#8eff71,#8bff74,#83ff7c,#91ff6e,#93ff6c,#93ff6c,#98ff67,#95ff6a,#96ff69,#acff53,#b4ff4b,#baff45,#c4ff3b,#baff45,#a5ff5a,#99ff66,#97ff68,#82ff7d,#6bff94,#6bff94,#6eff91,#68ff97,#6bff94,#7aff85,#7cff83,#92ff6d,#8dff72,#70ff8f,#75ff8a,#88ff77,#93ff6c,#8eff71,#88ff77,#7eff81,#92ff6d,#aaff55,#beff41,#b7ff48,#9dff62,#9fff60,#95ff6a,#7bff84,#7dff82,#8dff72,#8aff75,#69ff96,#5cffa3,#55ffaa,#5cffa3,#81ff7e,#8cff73,#81ff7e,#72ff8d,#5effa1,#43ffbc,#3fffc0,#6fff90,#95ff6a,#94ff6b,#7dff82,#6fff90,#7eff81,#92ff6d,#7fff80,#50ffaf,#00e8ff,#0075ff,#0073ff,#00e7ff,#96ff69,#ffc000,#ff5600,#ff5200,#ff9200)}
.c1{background:linear-gradient(90deg,#ff8a00,#ffb600,#ff8100,#ff2c00,#c90000,#be0000,#ff4600,#ffe300,#9eff61,#6bff94,#67ff98,#7bff84,#a1ff5e,#aaff55,#9dff62,#9cff63,#9cff63,#9cff63,#9aff65,#91ff6e,#85ff7a,#98ff67,#a7ff58,#a9ff56,#b9ff46,#c4ff3b,#b1ff4e,#a1ff5e,#a8ff57,#97ff68,#74ff8b,#6fff90,#78ff87,#76ff89,#6dff92,#7eff81,#8fff70,#aaff55,#a4ff5b,#74ff8b,#71ff8e,#89ff76,#97ff68,#87ff78,#79ff86,#67ff98,#6dff92,#82ff7d,#9eff61,#a9ff56,#99ff66,#a0ff5f,#9bff64,#78ff87,#6bff94,#7aff85,#8dff72,#7fff80,#67ff98,#5affa5,#64ff9b,#8bff74,#95ff6a,#85ff7a,#7dff82,#71ff8e,#59ffa6,#50ffaf,#83ff7c,#baff45,#c0ff3f,#9bff64,#79ff86,#83ff7c,#96ff69,#75ff8a,#2cffd3,#00bdff,#003eff,#003fff,#00deff,#cfff30,#ff6100,#ff1100,#ff3900,#ff8900)}
.c2{background:linear-gradient(90deg,#ff9200,#ff8b00,#ff1c00,#bf0000,#a80000,#e90000,#ffa600,#a1ff5e,#3bffc4,#3affc5,#6bff94,#93ff6c,#b4ff4b,#bfff40,#adff52,#9fff60,#9aff65,#9fff60,#9cff63,#92ff6d,#7cff83,#86ff79,#98ff67,#95ff6a,#a0ff5f,#bfff40,#bcff43,#a6ff59,#b1ff4e,#acff53,#85ff7a,#77ff88,#7fff80,#85ff7a,#77ff88,#7eff81,#9bff64,#beff41,#bcff43,#80ff7f,#6bff94,#84ff7b,#9aff65,#88ff77,#70ff8f,#56ffa9,#4effb1,#61ff9e,#80ff7f,#98ff67,#93ff6c,#9aff65,#9bff64,#7cff83,#65ff9a,#68ff97,#83ff7c,#90ff6f,#7cff83,#67ff98,#73ff8c,#9eff61,#a7ff58,#8fff70,#8aff75,#88ff77,#77ff88,#6eff91,#a2ff5d,#ddff22,#e6ff19,#bfff40,#8cff73,#90ff6f,#a6ff59,#8cff73,#46ffb9,#00f3ff,#0093ff,#00a8ff,#6bff94,#ff9400,#e60000,#ec0000,#ff5000,#ff9300)}
.c3{background:linear-gradient(90deg,#ff9c00,#ff5c00,#d60000,#950000,#dc0000,#ff7400,#afff50,#01fffe,#00e6ff,#3affc5,#96ff69,#bfff40,#c4ff3b,#c1ff3e,#aeff51,#9bff64,#90ff6f,#99ff66,#9aff65,#91ff6e,#79ff86,#7aff85,#8cff73,#87ff78,#8bff74,#adff52,#c0ff3f,#a9ff56,#afff50,#bbff44,#9aff65,#85ff7a,#88ff77,#91ff6e,#84ff7b,#7dff82,#9bff64,#c7ff38,#ceff31,#8fff70,#6aff95,#7bff84,#99ff66,#8fff70,#71ff8e,#4effb1,#36ffc9,#46ffb9,#6aff95,#89ff76,#8dff72,#91ff6e,#93ff6c,#82ff7d,#70ff8f,#64ff9b,#76ff89,#93ff6c,#8eff71,#78ff87,#81ff7e,#afff50,#baff45,#9bff64,#96ff69,#a0ff5f,#9bff64,#9aff65,#c9ff36,#f9ff06,#faff05,#daff25,#a5ff5a,#a2ff5d,#bdff42,#b3ff4c,#83ff7c,#5fffa0,#39ffc6,#6dff92,#ffc500,#f00000,#9b0000,#fa0000,#ff8600,#ffa000)}
.c4{background:linear-gradient(90deg,#ffa800,#ff4400,#d70000,#cf0000,#ff6800,#b7ff48,#00e3ff,#007fff,#00cfff,#6eff91,#d6ff29,#edff12,#caff35,#afff50,#a3ff5c,#96ff69,#85ff7a,#8fff70,#96ff69,#8eff71,#77ff88,#71ff8e,#82ff7d,#81ff7e,#81ff7e,#9bff64,#bbff44,#aaff55,#a6ff59,#c2ff3d,#adff52,#94ff6b,#96ff69,#9bff64,#8eff71,#7eff81,#92ff6d,#c1ff3e,#d6ff29,#9dff62,#6bff94,#73ff8c,#92ff6d,#97ff68,#7fff80,#55ffaa,#28ffd7,#30ffcf,#5dffa2,#81ff7e,#88ff77,#88ff77,#86ff79,#81ff7e,#82ff7d,#74ff8b,#74ff8b,#8fff70,#94ff6b,#82ff7d,#86ff79,#b0ff4f,#bfff40,#a1ff5e,#9bff64,#b2ff4d,#c0ff3f,#ceff31,#f3ff0c,#fff700,#f9ff06,#e4ff1b,#b9ff46,#b6ff49,#d3ff2c,#d3ff2c,#b6ff49,#b8ff47,#ccff33,#ffe700,#ff3700,#b20000,#b90000,#ff3c00,#ffbd00,#ffaf00)}
.c5{background:linear-gradient(90deg,#ffcb00,#ff6100,#ff2c00,#ff6800,#ccff33,#00d4ff,#0049ff,#0064ff,#08fff7,#beff41,#ffef00,#fffc00,#bfff40,#91ff6e,#95ff6a,#9bff64,#84ff7b,#84ff7b,#91ff6e,#88ff77,#70ff8f,#61ff9e,#75ff8a,#7eff81,#80ff7f,#90ff6f,#adff52,#a5ff5a,#98ff67,#c0ff3f,#bbff44,#a1ff5e,#a4ff5b,#a4ff5b,#96ff69,#82ff7d,#89ff76,#aeff51,#ceff31,#a3ff5c,#6cff93,#6dff92,#89ff76,#99ff66,#91ff6e,#6bff94,#2cffd3,#22ffdd,#54ffab,#82ff7d,#87ff78,#81ff7e,#7dff82,#7bff84,#8dff72,#8bff74,#7fff80,#8eff71,#90ff6f,#82ff7d,#7fff80,#9bff64,#abff54,#96ff69,#94ff6b,#b9ff46,#dbff24,#fdff02,#ffe700,#fff700,#e9ff16,#dbff24,#c1ff3e,#c3ff3c,#e1ff1e,#e7ff18,#d3ff2c,#edff12,#ffd100,#ff8400,#ff1900,#f60000,#ff3c00,#ffa000,#ffee00,#ffcc00)}
.c6{background:linear-gradient(90deg,#e4ff1b,#ffc500,#ffc700,#c0ff3f,#00f4ff,#0037ff,#002aff,#00b9ff,#74ff8b,#fff400,#ffd700,#ebff14,#9dff62,#74ff8b,#8dff72,#aeff51,#94ff6b,#7fff80,#8cff73,#84ff7b,#67ff98,#4bffb4,#5fffa0,#79ff86,#84ff7b,#8cff73,#9dff62,#99ff66,#88ff77,#b5ff4a,#c2ff3d,#a9ff56,#afff50,#adff52,#9eff61,#8aff75,#89ff76,#9dff62,#baff45,#a1ff5e,#6bff94,#68ff97,#7eff81,#92ff6d,#9aff65,#89ff76,#47ffb8,#26ffd9,#52ffad,#89ff76,#8eff71,#7cff83,#79ff86,#76ff89,#8aff75,#9aff65,#8dff72,#91ff6e,#8dff72,#7dff82,#74ff8b,#79ff86,#7fff80,#77ff88,#80ff7f,#b1ff4e,#e9ff16,#ffe400,#ffd500,#fcff03,#d2ff2d,#c8ff37,#bbff44,#c4ff3b,#e3ff1c,#f1ff0e,#e5ff1a,#fff300,#ffa100,#ff6d00,#ff5d00,#ff9200,#fff300,#daff25,#cfff30,#f0ff0f)}
.c7{background:linear-gradient(90deg,#6aff95,#9fff60,#74ff8b,#00e5ff,#005fff,#002aff,#008fff,#50ffaf,#e5ff1a,#ffcf00,#ffed00,#b1ff4e,#6bff94,#5dffa2,#8dff72,#c4ff3b,#afff50,#82ff7d,#86ff79,#83ff7c,#65ff9a,#38ffc7,#43ffbc,#6fff90,#88ff77,#8dff72,#91ff6e,#8cff73,#78ff87,#a2ff5d,#beff41,#abff54,#b6ff49,#b5ff4a,#a5ff5a,#93ff6c,#92ff6d,#9aff65,#a8ff57,#9cff63,#6bff94,#62ff9d,#75ff8a,#85ff7a,#93ff6c,#9cff63,#6fff90,#40ffbf,#5affa5,#96ff69,#a0ff5f,#7eff81,#75ff8a,#79ff86,#83ff7c,#98ff67,#93ff6c,#94ff6b,#8eff71,#7bff84,#6eff91,#5dffa2,#4dffb2,#4cffb3,#63ff9c,#9eff61,#e8ff17,#ffde00,#ffdc00,#e8ff17,#bdff42,#b2ff4d,#aaff55,#b8ff47,#d8ff27,#eeff11,#f0ff0f,#ffea00,#ffa600,#ffa200,#ffe300,#aaff55,#41ffbe,#32ffcd,#61ff9e,#85ff7a)}
.c8{background:linear-gradient(90deg,#00e6ff,#00fdff,#00bcff,#0050ff,#004cff,#00acff,#41ffbe,#e2ff1d,#ffd300,#ffe700,#ceff31,#70ff8f,#41ffbe,#54ffab,#92ff6d,#d2ff2d,#c9ff36,#8cff73,#84ff7b,#85ff7a,#6dff92,#38ffc7,#2dffd2,#62ff9d,#8dff72,#94ff6b,#8fff70,#84ff7b,#6fff90,#8eff71,#afff50,#a3ff5c,#b8ff47,#bdff42,#a8ff57,#99ff66,#9cff63,#a5ff5a,#a3ff5c,#9bff64,#70ff8f,#60ff9f,#6fff90,#79ff86,#80ff7f,#9bff64,#92ff6d,#67ff98,#6cff93,#a4ff5b,#baff45,#8bff74,#72ff8d,#7cff83,#7eff81,#8bff74,#90ff6f,#91ff6e,#8fff70,#80ff7f,#72ff8d,#54ffab,#2dffd2,#26ffd9,#46ffb9,#89ff76,#dfff20,#ffea00,#fff900,#ccff33,#abff54,#9eff61,#93ff6c,#a2ff5d,#c3ff3c,#dfff20,#eeff11,#fffb00,#ffe500,#e6ff19,#6fff90,#00e2ff,#007bff,#007aff,#00d0ff,#07fff8)}
.c9{background:linear-gradient(90deg,#0088ff,#008aff,#0053ff,#003aff,#00baff,#79ff86,#f9ff06,#ffbf00,#ffd900,#c7ff38,#76ff89,#45ffba,#3affc5,#5dffa2,#97ff68,#cdff32,#cfff30,#97ff68,#88ff77,#89ff76,#79ff86,#4cffb3,#2dffd2,#58ffa7,#92ff6d,#a2ff5d,#98ff67,#86ff79,#6fff90,#81ff7e,#99ff66,#92ff6d,#afff50,#c4ff3b,#a8ff57,#96ff69,#a1ff5e,#b6ff49,#aeff51,#a1ff5e,#7aff85,#63ff9c,#6eff91,#74ff8b,#6dff92,#86ff79,#a1ff5e,#89ff76,#7fff80,#aeff51,#d2ff2d,#a4ff5b,#75ff8a,#7dff82,#7fff80,#7fff80,#89ff76,#8bff74,#8cff73,#88ff77,#7bff84,#5dffa2,#2bffd4,#16ffe9,#34ffcb,#75ff8a,#d0ff2f,#ffff00,#e0ff1f,#afff50,#9cff63,#8dff72,#7bff84,#87ff78,#a7ff58,#c2ff3d,#d7ff28,#d5ff2a,#b2ff4d,#4effb1,#00c3ff,#0038ff,#0000e1,#0000ef,#005aff,#00a3ff)}
.c10{background:linear-gradient(90deg,#006bff,#006bff,#005fff,#009fff,#6aff95,#ffc000,#ff7f00,#ffb300,#d7ff28,#62ff9d,#2fffd0,#3fffc0,#5effa1,#7cff83,#9aff65,#b4ff4b,#bbff44,#9aff65,#91ff6e,#91ff6e,#83ff7c,#68ff97,#42ffbd,#55ffaa,#94ff6b,#b3ff4c,#aaff55,#92ff6d,#74ff8b,#7cff83,#87ff78,#7eff81,#9cff63,#c4ff3b,#a9ff56,#89ff76,#99ff66,#bfff40,#beff41,#aaff55,#85ff7a,#6aff95,#74ff8b,#79ff86,#67ff98,#6fff90,#9aff65,#9aff65,#8bff74,#afff50,#deff21,#bfff40,#85ff7a,#7fff80,#83ff7c,#78ff87,#84ff7b,#8aff75,#87ff78,#8dff72,#84ff7b,#6bff94,#3fffc0,#20ffdf,#31ffce,#67ff98,#bcff43,#e7ff18,#c2ff3d,#97ff68,#91ff6e,#80ff7f,#65ff9a,#6cff93,#8aff75,#9eff61,#acff53,#94ff6b,#46ffb9,#00c7ff,#0048ff,#0000dc,#0000aa,#0000cf,#0038ff,#007dff)}
.c11{background:linear-gradient(90deg,#008eff,#00a1ff,#00d1ff,#48ffb7,#ffe800,#ff3e00,#ff5200,#fff100,#68ff97,#10ffef,#18ffe7,#5effa1,#9bff64,#a9ff56,#9dff62,#92ff6d,#99ff66,#91ff6e,#96ff69,#9aff65,#8bff74,#7fff80,#5fffa0,#5bffa4,#8fff70,#bdff42,#c0ff3f,#a7ff58,#7dff82,#79ff86,#7eff81,#71ff8e,#86ff79,#baff45,#acff53,#7eff81,#87ff78,#baff45,#c8ff37,#b0ff4f,#8cff73,#72ff8d,#82ff7d,#8aff75,#6fff90,#61ff9e,#89ff76,#9aff65,#8eff71,#a9ff56,#dcff23,#d2ff2d,#9cff63,#89ff76,#87ff78,#75ff8a,#81ff7e,#90ff6f,#86ff79,#8eff71,#8aff75,#74ff8b,#59ffa6,#39ffc6,#3bffc4,#5dffa2,#a0ff5f,#cbff34,#afff50,#8cff73,#89ff76,#79ff86,#59ffa6,#58ffa7,#6fff90,#7aff85,#7cff83,#57ffa8,#00fdff,#0087ff,#002aff,#0000f3,#0000ea,#001fff,#0071ff,#009cff)}
.c12{background:linear-gradient(90deg,#00e5ff,#15ffea,#73ff8c,#f0ff0f,#ff7200,#ff2100,#ff8700,#a9ff56,#0efff1,#00f1ff,#36ffc9,#94ff6b,#d6ff29,#d5ff2a,#a4ff5b,#7cff83,#7dff82,#80ff7f,#90ff6f,#9eff61,#8fff70,#8cff73,#7aff85,#66ff99,#85ff7a,#baff45,#ccff33,#bbff44,#88ff77,#76ff89,#7aff85,#6cff93,#75ff8a,#a9ff56,#b1ff4e,#7eff81,#76ff89,#a6ff59,#c7ff38,#b2ff4d,#8dff72,#77ff88,#8fff70,#a1ff5e,#81ff7e,#63ff9c,#7bff84,#91ff6e,#8bff74,#9fff60,#d0ff2f,#d7ff28,#afff50,#96ff69,#8dff72,#76ff89,#7eff81,#99ff66,#8eff71,#90ff6f,#8dff72,#76ff89,#69ff96,#50ffaf,#47ffb8,#57ffa8,#7fff80,#aaff55,#a4ff5b,#8eff71,#87ff78,#78ff87,#5bffa4,#53ffac,#60ff9f,#61ff9e,#5affa5,#37ffc8,#00f2ff,#00a2ff,#006dff,#0065ff,#007aff,#00a9ff,#00e0ff,#00f7ff)}
.c13{background:linear-gradient(90deg,#65ff9a,#a3ff5c,#ffef00,#ff9400,#ff5100,#ff6500,#fff800,#4effb1,#00ebff,#0bfff4,#75ff8a,#cbff34,#f5ff0a,#ebff14,#b2ff4d,#7cff83,#75ff8a,#76ff89,#84ff7b,#9cff63,#92ff6d,#93ff6c,#8eff71,#75ff8a,#7bff84,#a7ff58,#c8ff37,#c5ff3a,#94ff6b,#73ff8c,#7aff85,#6fff90,#6eff91,#9aff65,#b4ff4b,#89ff76,#70ff8f,#8eff71,#b8ff47,#b1ff4e,#8cff73,#77ff88,#96ff69,#b4ff4b,#95ff6a,#6eff91,#79ff86,#8aff75,#88ff77,#98ff67,#beff41,#cfff30,#b7ff48,#a1ff5e,#95ff6a,#7bff84,#7cff83,#9fff60,#9cff63,#96ff69,#91ff6e,#75ff8a,#6fff90,#5dffa2,#4cffb3,#51ffae,#60ff9f,#83ff7c,#99ff66,#97ff68,#8cff73,#7dff82,#68ff97,#60ff9f,#62ff9d,#5affa5,#53ffac,#3cffc3,#19ffe6,#00f8ff,#00e4ff,#00f2ff,#18ffe7,#41ffbe,#69ff96,#7eff81)}
.c14{background:linear-gradient(90deg,#f7ff08,#ffd800,#ff8300,#ff6c00,#ff8900,#ffdf00,#92ff6d,#1effe1,#07fff8,#4bffb4,#b5ff4a,#edff12,#eeff11,#e4ff1b,#c4ff3b,#91ff6e,#80ff7f,#7aff85,#7cff83,#96ff69,#93ff6c,#96ff69,#a0ff5f,#86ff79,#76ff89,#91ff6e,#b3ff4c,#c1ff3e,#a0ff5f,#79ff86,#7cff83,#77ff88,#6fff90,#8fff70,#b2ff4d,#97ff68,#79ff86,#7cff83,#9eff61,#aaff55,#8cff73,#77ff88,#95ff6a,#bbff44,#a1ff5e,#78ff87,#7eff81,#8cff73,#88ff77,#93ff6c,#adff52,#bdff42,#b5ff4a,#a5ff5a,#9bff64,#84ff7b,#7cff83,#9fff60,#a9ff56,#a0ff5f,#99ff66,#77ff88,#71ff8e,#64ff9b,#4affb5,#4cffb3,#4cffb3,#5effa1,#86ff79,#9eff61,#99ff66,#87ff78,#7aff85,#77ff88,#74ff8b,#65ff9a,#63ff9c,#5dffa2,#53ffac,#58ffa7,#64ff9b,#7bff84,#afff50,#e0ff1f,#fff800,#ffe900)}
.c15{background:linear-gradient(90deg,#ff9200,#ff8d00,#ff6900,#ff9900,#fff600,#aaff55,#4cffb3,#24ffdb,#4affb5,#94ff6b,#deff21,#edff12,#caff35,#c5ff3a,#cdff32,#adff52,#93ff6c,#8aff75,#82ff7d,#95ff6a,#96ff69,#99ff66,#adff52,#98ff67,#77ff88,#7fff80,#97ff68,#acff53,#a8ff57,#8cff73,#87ff78,#81ff7e,#75ff8a,#87ff78,#acff53,#9fff60,#86ff79,#77ff88,#82ff7d,#98ff67,#8aff75,#78ff87,#91ff6e,#b6ff49,#a2ff5d,#7aff85,#85ff7a,#97ff68,#90ff6f,#90ff6f,#9cff63,#a4ff5b,#aaff55,#a5ff5a,#9fff60,#8eff71,#80ff7f,#9aff65,#b1ff4e,#adff52,#a7ff58,#7fff80,#72ff8d,#6aff95,#49ffb6,#47ffb8,#49ffb6,#49ffb6,#70ff8f,#9eff61,#a7ff58,#96ff69,#8aff75,#8bff74,#8aff75,#78ff87,#7cff83,#89ff76,#92ff6d,#b2ff4d,#e4ff1b,#ffee00,#ffb200,#ff7b00,#ff6600,#ff7100)}
.c16{background:linear-gradient(90deg,#ff6900,#ff9300,#ff9e00,#fff800,#9cff63,#65ff9a,#43ffbc,#51ffae,#92ff6d,#cbff34,#e8ff17,#d7ff28,#a4ff5b,#9eff61,#c2ff3d,#c0ff3f,#a5ff5a,#9cff63,#94ff6b,#9bff64,#9dff62,#9cff63,#b4ff4b,#a7ff58,#7aff85,#73ff8c,#7fff80,#8eff71,#a4ff5b,#a4ff5b,#9eff61,#90ff6f,#7fff80,#84ff7b,#a4ff5b,#a0ff5f,#8dff72,#7cff83,#6dff92,#7bff84,#7dff82,#77ff88,#8fff70,#afff50,#9cff63,#76ff89,#87ff78,#a5ff5a,#a0ff5f,#8fff70,#89ff76,#89ff76,#99ff66,#a4ff5b,#a3ff5c,#96ff69,#85ff7a,#95ff6a,#b5ff4a,#bbff44,#b6ff49,#8cff73,#75ff8a,#73ff8c,#4effb1,#46ffb9,#54ffab,#4dffb2,#61ff9e,#96ff69,#afff50,#a6ff59,#98ff67,#96ff69,#98ff67,#87ff78,#92ff6d,#bbff44,#e0ff1f,#ffe400,#ff8e00,#ff5000,#ff2a00,#ff1000,#ff1e00,#ff4900)}
.c17{background:linear-gradient(90deg,#ff8e00,#ffd400,#fffc00,#a8ff57,#5affa5,#58ffa7,#68ff97,#88ff77,#c5ff3a,#e0ff1f,#dcff23,#c4ff3b,#90ff6f,#80ff7f,#a9ff56,#c0ff3f,#b1ff4e,#abff54,#a9ff56,#a4ff5b,#a4ff5b,#a0ff5f,#b1ff4e,#acff53,#7bff84,#69ff96,#70ff8f,#70ff8f,#90ff6f,#b4ff4b,#b9ff46,#a4ff5b,#8dff72,#87ff78,#9dff62,#9dff62,#8cff73,#80ff7f,#64ff9b,#5dffa2,#62ff9d,#6dff92,#90ff6f,#abff54,#97ff68,#72ff8d,#84ff7b,#aeff51,#b3ff4c,#93ff6c,#77ff88,#6fff90,#84ff7b,#9fff60,#a6ff59,#9aff65,#88ff77,#92ff6d,#b7ff48,#cbff34,#c6ff39,#99ff66,#76ff89,#7aff85,#5affa5,#49ffb6,#64ff9b,#65ff9a,#62ff9d,#8cff73,#adff52,#afff50,#a8ff57,#a0ff5f,#9dff62,#90ff6f,#a4ff5b,#f2ff0d,#ffbc00,#ff7200,#ff2000,#f20000,#ff0500,#ff1e00,#ff4100,#ff7500)}
.c18{background:linear-gradient(90deg,#ffde00,#d8ff27,#a9ff56,#68ff97,#46ffb9,#71ff8e,#9dff62,#b3ff4c,#d4ff2b,#d4ff2b,#c7ff38,#c2ff3d,#97ff68,#76ff89,#91ff6e,#b3ff4c,#b3ff4c,#b3ff4c,#baff45,#acff53,#a5ff5a,#a2ff5d,#a8ff57,#a5ff5a,#78ff87,#5fffa0,#69ff96,#5effa1,#72ff8d,#aeff51,#cbff34,#b8ff47,#9fff60,#8fff70,#9aff65,#9dff62,#8aff75,#80ff7f,#63ff9c,#4affb5,#45ffba,#5bffa4,#8cff73,#abff54,#96ff69,#71ff8e,#80ff7f,#aeff51,#c0ff3f,#9cff63,#6aff95,#5bffa4,#73ff8c,#94ff6b,#a1ff5e,#9bff64,#8cff73,#92ff6d,#b9ff46,#dcff23,#d9ff26,#a3ff5c,#74ff8b,#7aff85,#67ff98,#51ffae,#71ff8e,#84ff7b,#74ff8b,#86ff79,#a5ff5a,#b6ff49,#c4ff3b,#c1ff3e,#acff53,#9aff65,#b5ff4a,#ffde00,#ff6d00,#ff3100,#ff1b00,#ff2700,#ff6600,#ff9500,#ffa900,#ffcf00)}
.c19{background:linear-gradient(90deg,#c6ff39,#95ff6a,#6cff93,#4bffb4,#53ffac,#95ff6a,#c6ff39,#c6ff39,#c8ff37,#baff45,#afff50,#c9ff36,#afff50,#7fff80,#85ff7a,#a4ff5b,#adff52,#b2ff4d,#c0ff3f,#b0ff4f,#9dff62,#9cff63,#9cff63,#95ff6a,#71ff8e,#56ffa9,#64ff9b,#5cffa3,#57ffa8,#94ff6b,#caff35,#c4ff3b,#aeff51,#9bff64,#9aff65,#9dff62,#8aff75,#7cff83,#63ff9c,#41ffbe,#32ffcd,#46ffb9,#80ff7f,#a7ff58,#97ff68,#73ff8c,#7dff82,#a5ff5a,#c1ff3e,#a7ff58,#69ff96,#52ffad,#6bff94,#89ff76,#97ff68,#98ff67,#93ff6c,#97ff68,#bcff43,#e9ff16,#eeff11,#b0ff4f,#71ff8e,#73ff8c,#71ff8e,#5cffa3,#77ff88,#9bff64,#8cff73,#88ff77,#a2ff5d,#ccff33,#ffff00,#fffb00,#d0ff2f,#a9ff56,#bcff43,#ffdb00,#ff6b00,#ff5800,#ff9700,#ffe300,#daff25,#c4ff3b,#dbff24,#ceff31)}
.c20{background:linear-gradient(90deg,#7aff85,#6cff93,#54ffab,#4affb5,#6bff94,#b3ff4c,#d7ff28,#c2ff3d,#b3ff4c,#a6ff59,#9bff64,#c9ff36,#c9ff36,#93ff6c,#87ff78,#9aff65,#a3ff5c,#a6ff59,#b7ff48,#acff53,#90ff6f,#8fff70,#92ff6d,#88ff77,#6bff94,#51ffae,#61ff9e,#65ff9a,#4effb1,#74ff8b,#b5ff4a,#c1ff3e,#b4ff4b,#a3ff5c,#9aff65,#9aff65,#8aff75,#78ff87,#64ff9b,#41ffbe,#2dffd2,#39ffc6,#6fff90,#9bff64,#94ff6b,#76ff89,#7aff85,#99ff66,#b4ff4b,#acff53,#75ff8a,#56ffa9,#6cff93,#84ff7b,#8cff73,#93ff6c,#9bff64,#9eff61,#bcff43,#efff10,#fffc00,#c3ff3c,#74ff8b,#6cff93,#78ff87,#6aff95,#79ff86,#a5ff5a,#9fff60,#91ff6e,#aeff51,#fbff04,#ffb400,#ffb700,#faff05,#b9ff46,#b1ff4e,#efff10,#ffc200,#ffda00,#a2ff5d,#2bffd4,#0afff5,#2effd1,#77ff88,#85ff7a)}
.c21{background:linear-gradient(90deg,#53ffac,#5bffa4,#5bffa4,#5effa1,#84ff7b,#c4ff3b,#d3ff2c,#b4ff4b,#a5ff5a,#a2ff5d,#8eff71,#baff45,#d5ff2a,#a7ff58,#8eff71,#94ff6b,#98ff67,#94ff6b,#a0ff5f,#9fff60,#83ff7c,#7fff80,#8aff75,#86ff79,#6fff90,#54ffab,#5fffa0,#74ff8b,#58ffa7,#5dffa2,#99ff66,#b0ff4f,#adff52,#a2ff5d,#98ff67,#93ff6c,#86ff79,#75ff8a,#68ff97,#49ffb6,#31ffce,#37ffc8,#60ff9f,#8bff74,#8dff72,#77ff88,#78ff87,#8fff70,#a3ff5c,#a7ff58,#87ff78,#66ff99,#75ff8a,#85ff7a,#88ff77,#90ff6f,#a1ff5e,#a5ff5a,#baff45,#ebff14,#fff300,#dbff24,#83ff7c,#6aff95,#7cff83,#7aff85,#7bff84,#a2ff5d,#aaff55,#9dff62,#c4ff3b,#ffd500,#ff8f00,#ffa900,#fff000,#c5ff3a,#9bff64,#a6ff59,#c8ff37,#9fff60,#14ffeb,#00a1ff,#00b0ff,#01fffe,#56ffa9,#67ff98)}
.c22{background:linear-gradient(90deg,#4cffb3,#59ffa6,#70ff8f,#7eff81,#9bff64,#c8ff37,#c9ff36,#a8ff57,#a3ff5c,#a7ff58,#8cff73,#a5ff5a,#d0ff2f,#b3ff4c,#95ff6a,#8fff70,#8eff71,#81ff7e,#83ff7c,#8aff75,#7aff85,#74ff8b,#86ff79,#8fff70,#80ff7f,#5fffa0,#60ff9f,#80ff7f,#6cff93,#56ffa9,#7fff80,#9aff65,#99ff66,#93ff6c,#90ff6f,#89ff76,#7fff80,#73ff8c,#6eff91,#5affa5,#40ffbf,#3effc1,#5affa5,#81ff7e,#87ff78,#78ff87,#78ff87,#89ff76,#93ff6c,#99ff66,#94ff6b,#7bff84,#7eff81,#8bff74,#8dff72,#94ff6b,#a2ff5d,#a6ff59,#b2ff4d,#deff21,#fffa00,#edff12,#98ff67,#6cff93,#7cff83,#88ff77,#7fff80,#97ff68,#acff53,#a8ff57,#cfff30,#ffd600,#ffb600,#ffda00,#fff700,#d0ff2f,#8dff72,#77ff88,#86ff79,#71ff8e,#24ffdb,#00e3ff,#00feff,#3bffc4,#68ff97,#68ff97)}
.c23{background:linear-gradient(90deg,#4fffb0,#5bffa4,#82ff7d,#9cff63,#aeff51,#c8ff37,#c2ff3d,#a5ff5a,#a7ff58,#afff50,#8fff70,#93ff6c,#bdff42,#b4ff4b,#99ff66,#89ff76,#83ff7c,#75ff8a,#6dff92,#73ff8c,#73ff8c,#6fff90,#85ff7a,#9cff63,#99ff66,#72ff8d,#5fffa0,#82ff7d,#7eff81,#58ffa7,#6cff93,#87ff78,#82ff7d,#7cff83,#84ff7b,#83ff7c,#79ff86,#74ff8b,#76ff89,#72ff8d,#5affa5,#4effb1,#5dffa2,#81ff7e,#87ff78,#79ff86,#7bff84,#88ff77,#8bff74,#86ff79,#92ff6d,#8aff75,#86ff79,#92ff6d,#97ff68,#9eff61,#a2ff5d,#9fff60,#a5ff5a,#c8ff37,#edff12,#eeff11,#abff54,#70ff8f,#78ff87,#8fff70,#81ff7e,#86ff79,#a5ff5a,#acff53,#c1ff3e,#f5ff0a,#faff05,#dfff20,#f2ff0d,#dcff23,#91ff6e,#6eff91,#80ff7f,#8bff74,#83ff7c,#6bff94,#69ff96,#75ff8a,#7cff83,#70ff8f)}
.c24{background:linear-gradient(90deg,#55ffaa,#61ff9e,#8dff72,#adff52,#bdff42,#c9ff36,#c0ff3f,#a6ff59,#abff54,#b2ff4d,#90ff6f,#89ff76,#a8ff57,#aaff55,#97ff68,#81ff7e,#78ff87,#73ff8c,#68ff97,#66ff99,#6eff91,#6fff90,#83ff7c,#a6ff59,#afff50,#85ff7a,#58ffa7,#75ff8a,#82ff7d,#5affa5,#5dffa2,#7dff82,#75ff8a,#64ff9b,#75ff8a,#85ff7a,#79ff86,#78ff87,#7fff80,#8bff74,#7eff81,#68ff97,#68ff97,#86ff79,#90ff6f,#7dff82,#7eff81,#89ff76,#8bff74,#76ff89,#81ff7e,#8dff72,#8aff75,#99ff66,#a3ff5c,#aaff55,#a3ff5c,#92ff6d,#95ff6a,#afff50,#ccff33,#dfff20,#b6ff49,#74ff8b,#6eff91,#8eff71,#82ff7d,#73ff8c,#92ff6d,#a6ff59,#a8ff57,#bcff43,#bdff42,#abff54,#d4ff2b,#e1ff1e,#9dff62,#74ff8b,#89ff76,#9fff60,#b2ff4d,#b1ff4e,#99ff66,#8aff75,#87ff78,#77ff88)}
.c25{background:linear-gradient(90deg,#58ffa7,#66ff99,#90ff6f,#aeff51,#c2ff3d,#ccff33,#bcff43,#a2ff5d,#a8ff57,#aeff51,#89ff76,#80ff7f,#94ff6b,#96ff69,#8dff72,#75ff8a,#69ff96,#74ff8b,#73ff8c,#66ff99,#6dff92,#72ff8d,#7eff81,#a6ff59,#b9ff46,#95ff6a,#50ffaf,#5affa5,#78ff87,#58ffa7,#4fffb0,#7aff85,#78ff87,#59ffa6,#67ff98,#8aff75,#80ff7f,#7fff80,#8cff73,#9fff60,#a1ff5e,#85ff7a,#75ff8a,#89ff76,#99ff66,#83ff7c,#81ff7e,#8bff74,#8fff70,#6fff90,#6aff95,#82ff7d,#87ff78,#9fff60,#b0ff4f,#b5ff4a,#a8ff57,#88ff77,#87ff78,#9aff65,#a9ff56,#c3ff3c,#b8ff47,#7bff84,#66ff99,#8aff75,#85ff7a,#64ff9b,#77ff88,#95ff6a,#95ff6a,#9bff64,#9eff61,#8bff74,#afff50,#d8ff27,#a6ff59,#77ff88,#89ff76,#9dff62,#aeff51,#bdff42,#a8ff57,#90ff6f,#8dff72,#7cff83)}
.c26{background:linear-gradient(90deg,#59ffa6,#66ff99,#91ff6e,#a7ff58,#bfff40,#cfff30,#b6ff49,#95ff6a,#9bff64,#a2ff5d,#7cff83,#74ff8b,#82ff7d,#7eff81,#7bff84,#65ff9a,#55ffaa,#71ff8e,#86ff79,#74ff8b,#71ff8e,#75ff8a,#76ff89,#9cff63,#b7ff48,#9fff60,#4dffb2,#3dffc2,#65ff9a,#57ffa8,#45ffba,#78ff87,#86ff79,#5effa1,#5fffa0,#8dff72,#8cff73,#85ff7a,#98ff67,#adff52,#bbff44,#9fff60,#80ff7f,#87ff78,#9cff63,#89ff76,#82ff7d,#8bff74,#95ff6a,#75ff8a,#5affa5,#72ff8d,#81ff7e,#a0ff5f,#bdff42,#bdff42,#b0ff4f,#8aff75,#82ff7d,#90ff6f,#8cff73,#a2ff5d,#b2ff4d,#89ff76,#69ff96,#88ff77,#8eff71,#61ff9e,#5effa1,#7bff84,#88ff77,#90ff6f,#92ff6d,#78ff87,#89ff76,#c0ff3f,#a9ff56,#77ff88,#84ff7b,#97ff68,#9dff62,#afff50,#a8ff57,#93ff6c,#91ff6e,#80ff7f)}
.c27{background:linear-gradient(90deg,#57ffa8,#60ff9f,#8dff72,#a0ff5f,#b6ff49,#d1ff2e,#b5ff4a,#87ff78,#87ff78,#92ff6d,#6fff90,#68ff97,#73ff8c,#67ff98,#65ff9a,#53ffac,#41ffbe,#66ff99,#95ff6a,#85ff7a,#76ff89,#77ff88,#6eff91,#8dff72,#adff52,#a3ff5c,#56ffa9,#2dffd2,#56ffa9,#5bffa4,#45ffba,#73ff8c,#92ff6d,#6bff94,#60ff9f,#87ff78,#91ff6e,#86ff79,#9fff60,#b4ff4b,#c9ff36,#b0ff4f,#87ff78,#7fff80,#96ff69,#8aff75,#7fff80,#87ff78,#98ff67,#83ff7c,#5bffa4,#67ff98,#7dff82,#9dff62,#c4ff3b,#c3ff3c,#b7ff48,#99ff66,#88ff77,#94ff6b,#7fff80,#82ff7d,#a4ff5b,#98ff67,#77ff88,#8cff73,#9bff64,#6aff95,#4fffb0,#60ff9f,#78ff87,#8fff70,#8dff72,#6fff90,#6dff92,#a3ff5c,#a4ff5b,#79ff86,#81ff7e,#97ff68,#94ff6b,#9aff65,#9eff61,#92ff6d,#91ff6e,#80ff7f)}
.c28{background:linear-gradient(90deg,#54ffab,#52ffad,#83ff7c,#97ff68,#aaff55,#d0ff2f,#bdff42,#84ff7b,#75ff8a,#82ff7d,#6aff95,#63ff9c,#6cff93,#57ffa8,#52ffad,#44ffbb,#32ffcd,#59ffa6,#9cff63,#96ff69,#7bff84,#7bff84,#6bff94,#84ff7b,#a6ff59,#a7ff58,#68ff97,#32ffcd,#53ffac,#67ff98,#51ffae,#6eff91,#90ff6f,#72ff8d,#66ff99,#7eff81,#8bff74,#81ff7e,#9dff62,#b3ff4c,#c6ff39,#b9ff46,#8dff72,#77ff88,#8cff73,#87ff78,#77ff88,#7fff80,#94ff6b,#91ff6e,#6bff94,#66ff99,#7cff83,#9aff65,#c1ff3e,#c4ff3b,#baff45,#adff52,#98ff67,#a0ff5f,#81ff7e,#6cff93,#90ff6f,#a1ff5e,#89ff76,#91ff6e,#a3ff5c,#77ff88,#4bffb4,#4effb1,#64ff9b,#8bff74,#8cff73,#6eff91,#61ff9e,#89ff76,#9cff63,#7dff82,#86ff79,#9fff60,#98ff67,#8cff73,#8fff70,#8fff70,#8fff70,#7dff82)}
.c29{background:linear-gradient(90deg,#50ffaf,#43ffbc,#71ff8e,#8bff74,#9cff63,#ccff33,#ccff33,#92ff6d,#6fff90,#74ff8b,#6cff93,#69ff96,#71ff8e,#55ffaa,#43ffbc,#38ffc7,#2bffd4,#50ffaf,#9cff63,#a4ff5b,#82ff7d,#80ff7f,#71ff8e,#83ff7c,#a8ff57,#acff53,#7fff80,#47ffb8,#5affa5,#78ff87,#69ff96,#6eff91,#84ff7b,#6cff93,#69ff96,#77ff88,#7dff82,#75ff8a,#91ff6e,#abff54,#b7ff48,#b6ff49,#93ff6c,#76ff89,#84ff7b,#85ff7a,#6eff91,#73ff8c,#8aff75,#98ff67,#7fff80,#6dff92,#7dff82,#99ff66,#b7ff48,#bfff40,#b6ff49,#baff45,#a9ff56,#aaff55,#8fff70,#67ff98,#7eff81,#9fff60,#95ff6a,#93ff6c,#a2ff5d,#7fff80,#4dffb2,#48ffb7,#55ffaa,#80ff7f,#8dff72,#74ff8b,#65ff9a,#79ff86,#93ff6c,#83ff7c,#90ff6f,#aeff51,#a6ff59,#8cff73,#86ff79,#8cff73,#8eff71,#78ff87)}
.c30{background:linear-gradient(90deg,#4effb1,#35ffca,#59ffa6,#7bff84,#8dff72,#c1ff3e,#d7ff28,#aaff55,#76ff89,#69ff96,#6dff92,#75ff8a,#80ff7f,#63ff9c,#3fffc0,#2fffd0,#2cffd3,#50ffaf,#98ff67,#afff50,#8eff71,#87ff78,#7cff83,#8cff73,#b3ff4c,#b8ff47,#94ff6b,#5effa1,#61ff9e,#82ff7d,#83ff7c,#76ff89,#77ff88,#62ff9d,#67ff98,#76ff89,#71ff8e,#69ff96,#7fff80,#a0ff5f,#a5ff5a,#aaff55,#9aff65,#7dff82,#82ff7d,#88ff77,#6aff95,#68ff97,#81ff7e,#96ff69,#8cff73,#74ff8b,#79ff86,#99ff66,#afff50,#b4ff4b,#aeff51,#bcff43,#b5ff4a,#aeff51,#9fff60,#75ff8a,#79ff86,#97ff68,#96ff69,#8eff71,#97ff68,#7eff81,#4fffb0,#4bffb4,#52ffad,#71ff8e,#8aff75,#7fff80,#74ff8b,#74ff8b,#8cff73,#8dff72,#9bff64,#bbff44,#b6ff49,#97ff68,#89ff76,#8cff73,#8dff72,#75ff8a)}
.c31{background:linear-gradient(90deg,#4cffb3,#2fffd0,#44ffbb,#6cff93,#82ff7d,#b3ff4c,#d4ff2b,#bbff44,#85ff7a,#62ff9d,#68ff97,#7fff80,#92ff6d,#7dff82,#49ffb6,#2cffd3,#33ffcc,#57ffa8,#91ff6e,#b4ff4b,#a0ff5f,#91ff6e,#85ff7a,#96ff69,#c4ff3b,#c7ff38,#a4ff5b,#70ff8f,#62ff9d,#7bff84,#91ff6e,#83ff7c,#6eff91,#5affa5,#66ff99,#7dff82,#72ff8d,#64ff9b,#6eff91,#95ff6a,#9dff62,#9bff64,#9dff62,#8aff75,#86ff79,#91ff6e,#70ff8f,#60ff9f,#7cff83,#94ff6b,#8fff70,#76ff89,#6dff92,#91ff6e,#abff54,#abff54,#a7ff58,#b7ff48,#baff45,#adff52,#a9ff56,#8fff70,#86ff79,#93ff6c,#91ff6e,#87ff78,#8bff74,#77ff88,#4effb1,#50ffaf,#59ffa6,#66ff99,#7fff80,#89ff76,#8aff75,#79ff86,#87ff78,#9aff65,#aaff55,#c2ff3d,#bfff40,#a4ff5b,#93ff6c,#8fff70,#8eff71,#74ff8b)}
.c32{background:linear-gradient(90deg,#4bffb4,#31ffce,#39ffc6,#62ff9d,#81ff7e,#a9ff56,#c4ff3b,#b9ff46,#8fff70,#61ff9e,#60ff9f,#82ff7d,#9fff60,#97ff68,#5dffa2,#31ffce,#3dffc2,#63ff9c,#86ff79,#adff52,#b3ff4c,#9dff62,#87ff78,#99ff66,#d0ff2f,#d7ff28,#b0ff4f,#7dff82,#60ff9f,#66ff99,#88ff77,#8aff75,#6bff94,#56ffa9,#67ff98,#88ff77,#80ff7f,#6cff93,#66ff99,#8aff75,#a0ff5f,#94ff6b,#9cff63,#97ff68,#8bff74,#98ff67,#7bff84,#5cffa3,#7bff84,#97ff68,#8eff71,#74ff8b,#5dffa2,#7bff84,#a6ff59,#a8ff57,#a5ff5a,#b2ff4d,#bbff44,#acff53,#adff52,#a8ff57,#9fff60,#99ff66,#8dff72,#85ff7a,#84ff7b,#74ff8b,#4dffb2,#51ffae,#65ff9a,#64ff9b,#71ff8e,#8aff75,#9fff60,#86ff79,#85ff7a,#a7ff58,#bbff44,#c7ff38,#c1ff3e,#aeff51,#a0ff5f,#95ff6a,#8dff72,#72ff8d)}
.c33{background:linear-gradient(90deg,#4dffb2,#3bffc4,#3effc1,#5effa1,#88ff77,#a8ff57,#b2ff4d,#a6ff59,#8dff72,#67ff98,#5cffa3,#81ff7e,#a4ff5b,#a7ff58,#72ff8d,#3bffc4,#48ffb7,#72ff8d,#7cff83,#99ff66,#beff41,#aaff55,#82ff7d,#8dff72,#cdff32,#dfff20,#b6ff49,#85ff7a,#63ff9c,#54ffab,#6fff90,#85ff7a,#6aff95,#54ffab,#66ff99,#8fff70,#95ff6a,#7eff81,#69ff96,#81ff7e,#a8ff57,#9aff65,#9aff65,#9dff62,#8cff73,#96ff69,#82ff7d,#59ffa6,#76ff89,#9eff61,#90ff6f,#71ff8e,#53ffac,#5fffa0,#98ff67,#a9ff56,#a7ff58,#b1ff4e,#baff45,#afff50,#aeff51,#b5ff4a,#b3ff4c,#a6ff59,#91ff6e,#8aff75,#88ff77,#77ff88,#4fffb0,#4cffb3,#6dff92,#6bff94,#65ff9a,#7fff80,#aaff55,#97ff68,#86ff79,#aeff51,#cdff32,#cfff30,#c1ff3e,#b4ff4b,#abff54,#9cff63,#8eff71,#73ff8c)}
.c34{background:linear-gradient(90deg,#55ffaa,#4bffb4,#52ffad,#65ff9a,#91ff6e,#afff50,#a5ff5a,#8fff70,#80ff7f,#6fff90,#61ff9e,#80ff7f,#a3ff5c,#abff54,#82ff7d,#47ffb8,#54ffab,#82ff7d,#79ff86,#80ff7f,#bbff44,#b8ff47,#7fff80,#78ff87,#b8ff47,#d9ff26,#b6ff49,#8aff75,#6eff91,#54ffab,#59ffa6,#74ff8b,#69ff96,#51ffae,#5fffa0,#8bff74,#a3ff5c,#92ff6d,#75ff8a,#7dff82,#acff53,#a7ff58,#9aff65,#9eff61,#88ff77,#86ff79,#7eff81,#53ffac,#68ff97,#9cff63,#96ff69,#73ff8c,#54ffab,#49ffb6,#7cff83,#a1ff5e,#a7ff58,#b3ff4c,#b8ff47,#b2ff4d,#b1ff4e,#b8ff47,#bbff44,#b0ff4f,#9aff65,#95ff6a,#92ff6d,#7aff85,#53ffac,#45ffba,#6eff91,#78ff87,#63ff9c,#6eff91,#a5ff5a,#a4ff5b,#88ff77,#acff53,#d7ff28,#dbff24,#c5ff3a,#b9ff46,#b5ff4a,#a3ff5c,#91ff6e,#7bff84)}
.c35{background:linear-gradient(90deg,#67ff98,#5dffa2,#6cff93,#75ff8a,#9aff65,#baff45,#a1ff5e,#80ff7f,#74ff8b,#76ff89,#6eff91,#7eff81,#9eff61,#a8ff57,#8bff74,#52ffad,#5dffa2,#91ff6e,#80ff7f,#6dff92,#acff53,#c3ff3c,#88ff77,#69ff96,#99ff66,#c4ff3b,#b2ff4d,#8cff73,#7bff84,#68ff97,#59ffa6,#66ff99,#64ff9b,#4effb1,#52ffad,#7bff84,#a3ff5c,#9fff60,#7fff80,#7aff85,#a9ff56,#b0ff4f,#9aff65,#9aff65,#84ff7b,#71ff8e,#6cff93,#49ffb6,#52ffad,#8bff74,#98ff67,#7cff83,#60ff9f,#42ffbd,#5cffa3,#8aff75,#9cff63,#b0ff4f,#b3ff4c,#b0ff4f,#b4ff4b,#b8ff47,#baff45,#b4ff4b,#a2ff5d,#9fff60,#9cff63,#79ff86,#50ffaf,#40ffbf,#6cff93,#87ff78,#6aff95,#5fffa0,#91ff6e,#a3ff5c,#87ff78,#a3ff5c,#d6ff29,#e4ff1b,#ceff31,#bdff42,#bbff44,#a9ff56,#94ff6b,#88ff77)}
.c36{background:linear-gradient(90deg,#80ff7f,#6dff92,#81ff7e,#88ff77,#a2ff5d,#c3ff3c,#a7ff58,#7dff82,#70ff8f,#7aff85,#7cff83,#7dff82,#94ff6b,#a0ff5f,#92ff6d,#62ff9d,#66ff99,#9aff65,#8bff74,#66ff99,#98ff67,#c7ff38,#9bff64,#68ff97,#7fff80,#a7ff58,#acff53,#91ff6e,#85ff7a,#81ff7e,#71ff8e,#68ff97,#61ff9e,#4effb1,#47ffb8,#67ff98,#98ff67,#a1ff5e,#84ff7b,#75ff8a,#a0ff5f,#b1ff4e,#97ff68,#90ff6f,#83ff7c,#64ff9b,#54ffab,#3bffc4,#39ffc6,#69ff96,#8fff70,#8aff75,#72ff8d,#4affb5,#43ffbc,#6aff95,#87ff78,#a6ff59,#acff53,#a6ff59,#b0ff4f,#b7ff48,#b9ff46,#b6ff49,#a8ff57,#a2ff5d,#a1ff5e,#76ff89,#47ffb8,#3dffc2,#6aff95,#95ff6a,#79ff86,#58ffa7,#79ff86,#98ff67,#81ff7e,#95ff6a,#cbff34,#e4ff1b,#d4ff2b,#bcff43,#b9ff46,#abff54,#94ff6b,#96ff69)}
.c37{background:linear-gradient(90deg,#99ff66,#7dff82,#8aff75,#95ff6a,#a7ff58,#c6ff39,#b2ff4d,#85ff7a,#76ff89,#7eff81,#84ff7b,#7dff82,#87ff78,#92ff6d,#95ff6a,#77ff88,#74ff8b,#9eff61,#8eff71,#64ff9b,#85ff7a,#c1ff3e,#b1ff4e,#75ff8a,#70ff8f,#8cff73,#a4ff5b,#9bff64,#8dff72,#93ff6c,#92ff6d,#7dff82,#65ff9a,#53ffac,#44ffbb,#57ffa8,#8dff72,#9eff61,#84ff7b,#6cff93,#8fff70,#abff54,#8fff70,#80ff7f,#82ff7d,#66ff99,#46ffb9,#2dffd2,#25ffda,#42ffbd,#76ff89,#92ff6d,#86ff79,#5bffa4,#38ffc7,#4dffb2,#6fff90,#97ff68,#a3ff5c,#99ff66,#a6ff59,#b4ff4b,#bbff44,#bcff43,#aeff51,#a1ff5e,#a0ff5f,#75ff8a,#3dffc2,#3bffc4,#6eff91,#a1ff5e,#8dff72,#5affa5,#64ff9b,#8aff75,#7bff84,#85ff7a,#b9ff46,#d7ff28,#cfff30,#b3ff4c,#abff54,#a7ff58,#8fff70,#9aff65)}
.c38{background:linear-gradient(90deg,#a7ff58,#8eff71,#8cff73,#98ff67,#a4ff5b,#c0ff3f,#bbff44,#93ff6c,#82ff7d,#85ff7a,#85ff7a,#7eff81,#7fff80,#84ff7b,#92ff6d,#8dff72,#89ff76,#a0ff5f,#8aff75,#60ff9f,#75ff8a,#b2ff4d,#c1ff3e,#85ff7a,#6aff95,#77ff88,#99ff66,#a5ff5a,#96ff69,#9aff65,#a9ff56,#9dff62,#75ff8a,#60ff9f,#50ffaf,#50ffaf,#85ff7a,#a0ff5f,#86ff79,#66ff99,#7bff84,#9fff60,#85ff7a,#6dff92,#7cff83,#74ff8b,#4bffb4,#28ffd7,#1cffe3,#26ffd9,#53ffac,#8eff71,#95ff6a,#6cff93,#3affc5,#3dffc2,#5bffa4,#83ff7c,#9bff64,#91ff6e,#9aff65,#acff53,#bbff44,#c4ff3b,#b7ff48,#a0ff5f,#9bff64,#79ff86,#3dffc2,#3dffc2,#75ff8a,#aaff55,#a1ff5e,#68ff97,#5affa5,#80ff7f,#7dff82,#7dff82,#a8ff57,#c5ff3a,#beff41,#a3ff5c,#94ff6b,#99ff66,#88ff77,#92ff6d)}
.c39{background:linear-gradient(90deg,#a6ff59,#9fff60,#8dff72,#95ff6a,#9bff64,#adff52,#baff45,#a1ff5e,#8eff71,#8cff73,#84ff7b,#7cff83,#7fff80,#7dff82,#8bff74,#9cff63,#9fff60,#a5ff5a,#86ff79,#5affa5,#68ff97,#9eff61,#c4ff3b,#92ff6d,#65ff9a,#68ff97,#88ff77,#a6ff59,#9eff61,#99ff66,#aeff51,#b7ff48,#8eff71,#75ff8a,#6aff95,#56ffa9,#7dff82,#a6ff59,#90ff6f,#67ff98,#6dff92,#90ff6f,#7dff82,#5cffa3,#70ff8f,#7fff80,#5dffa2,#31ffce,#1fffe0,#1dffe2,#36ffc9,#7cff83,#9bff64,#78ff87,#41ffbe,#39ffc6,#50ffaf,#6dff92,#91ff6e,#90ff6f,#95ff6a,#a4ff5b,#b5ff4a,#c8ff37,#c0ff3f,#a3ff5c,#98ff67,#80ff7f,#48ffb7,#42ffbd,#7bff84,#adff52,#aeff51,#7eff81,#5effa1,#7dff82,#87ff78,#80ff7f,#9eff61,#b5ff4a,#aaff55,#92ff6d,#80ff7f,#88ff77,#81ff7e,#85ff7a)}
.c40{background:linear-gradient(90deg,#99ff66,#aaff55,#95ff6a,#94ff6b,#95ff6a,#97ff68,#aaff55,#a4ff5b,#97ff68,#92ff6d,#83ff7c,#79ff86,#82ff7d,#7dff82,#84ff7b,#9fff60,#aeff51,#aaff55,#89ff76,#5cffa3,#5fffa0,#89ff76,#b9ff46,#99ff66,#60ff9f,#5bffa4,#75ff8a,#9aff65,#9eff61,#95ff6a,#a3ff5c,#bcff43,#a5ff5a,#8dff72,#8eff71,#6dff92,#75ff8a,#a5ff5a,#9eff61,#72ff8d,#69ff96,#84ff7b,#79ff86,#54ffab,#63ff9c,#83ff7c,#6fff90,#40ffbf,#27ffd8,#23ffdc,#28ffd7,#63ff9c,#93ff6c,#7eff81,#47ffb8,#3bffc4,#4cffb3,#56ffa9,#80ff7f,#94ff6b,#97ff68,#a0ff5f,#acff53,#c4ff3b,#c6ff39,#a8ff57,#9cff63,#88ff77,#58ffa7,#4cffb3,#7eff81,#a9ff56,#afff50,#91ff6e,#6eff91,#81ff7e,#94ff6b,#8aff75,#9bff64,#adff52,#9dff62,#87ff78,#76ff89,#7dff82,#7fff80,#7cff83)}
.c41{background:linear-gradient(90deg,#8bff74,#aaff55,#9fff60,#97ff68,#95ff6a,#8aff75,#94ff6b,#97ff68,#95ff6a,#96ff69,#86ff79,#79ff86,#82ff7d,#80ff7f,#7fff80,#98ff67,#aeff51,#abff54,#90ff6f,#6cff93,#62ff9d,#7aff85,#a9ff56,#9cff63,#5effa1,#53ffac,#68ff97,#87ff78,#94ff6b,#90ff6f,#93ff6c,#acff53,#acff53,#a0ff5f,#aeff51,#91ff6e,#74ff8b,#99ff66,#a7ff58,#82ff7d,#70ff8f,#81ff7e,#7bff84,#58ffa7,#5cffa3,#80ff7f,#7bff84,#50ffaf,#30ffcf,#2dffd2,#29ffd6,#4dffb2,#80ff7f,#7eff81,#4fffb0,#3bffc4,#4bffb4,#43ffbc,#66ff99,#93ff6c,#9eff61,#9eff61,#a2ff5d,#baff45,#c7ff38,#aeff51,#a3ff5c,#93ff6c,#65ff9a,#53ffac,#7cff83,#a1ff5e,#a5ff5a,#99ff66,#80ff7f,#89ff76,#9eff61,#95ff6a,#9dff62,#adff52,#9aff65,#85ff7a,#7bff84,#7eff81,#82ff7d,#7bff84)}
.c42{background:linear-gradient(90deg,#84ff7b,#a0ff5f,#a5ff5a,#9dff62,#9eff61,#8dff72,#87ff78,#84ff7b,#85ff7a,#95ff6a,#8eff71,#81ff7e,#85ff7a,#82ff7d,#7dff82,#8eff71,#a2ff5d,#a4ff5b,#97ff68,#85ff7a,#71ff8e,#74ff8b,#9cff63,#a0ff5f,#66ff99,#51ffae,#65ff9a,#76ff89,#83ff7c,#8bff74,#88ff77,#93ff6c,#9eff61,#a4ff5b,#bfff40,#b4ff4b,#84ff7b,#8cff73,#a5ff5a,#8fff70,#7bff84,#85ff7a,#82ff7d,#66ff99,#61ff9e,#7fff80,#84ff7b,#61ff9e,#3affc5,#34ffcb,#32ffcd,#43ffbc,#6dff92,#79ff86,#5affa5,#3dffc2,#48ffb7,#38ffc7,#49ffb6,#86ff79,#a1ff5e,#9bff64,#98ff67,#acff53,#c1ff3e,#b2ff4d,#aaff55,#a1ff5e,#73ff8c,#57ffa8,#75ff8a,#96ff69,#99ff66,#98ff67,#8cff73,#8fff70,#a1ff5e,#9bff64,#9dff62,#b0ff4f,#9dff62,#8aff75,#89ff76,#87ff78,#87ff78,#7fff80)}
.c43{background:linear-gradient(90deg,#85ff7a,#92ff6d,#9fff60,#a2ff5d,#aaff55,#9fff60,#8eff71,#7bff84,#6fff90,#8cff73,#99ff66,#94ff6b,#90ff6f,#85ff7a,#7cff83,#86ff79,#90ff6f,#96ff69,#97ff68,#9aff65,#87ff78,#77ff88,#96ff69,#abff54,#7bff84,#58ffa7,#6bff94,#70ff8f,#70ff8f,#82ff7d,#81ff7e,#7cff83,#82ff7d,#96ff69,#beff41,#c7ff38,#9eff61,#8aff75,#9eff61,#96ff69,#83ff7c,#8bff74,#8dff72,#77ff88,#6fff90,#84ff7b,#8eff71,#75ff8a,#4bffb4,#3affc5,#39ffc6,#41ffbe,#60ff9f,#73ff8c,#67ff98,#47ffb8,#46ffb9,#37ffc8,#34ffcb,#6cff93,#9bff64,#95ff6a,#8dff72,#9cff63,#b6ff49,#b2ff4d,#aaff55,#abff54,#84ff7b,#5cffa3,#6bff94,#8bff74,#92ff6d,#96ff69,#94ff6b,#94ff6b,#a0ff5f,#9bff64,#9aff65,#b1ff4e,#a1ff5e,#8dff72,#97ff68,#94ff6b,#8bff74,#83ff7c)}
.c44{background:linear-gradient(90deg,#89ff76,#8aff75,#8fff70,#a0ff5f,#b3ff4c,#b6ff49,#a6ff59,#88ff77,#62ff9d,#7aff85,#9fff60,#a8ff57,#a1ff5e,#8dff72,#7dff82,#80ff7f,#80ff7f,#85ff7a,#93ff6c,#a3ff5c,#9bff64,#80ff7f,#97ff68,#b9ff46,#99ff66,#68ff97,#75ff8a,#79ff86,#64ff9b,#72ff8d,#7aff85,#6aff95,#64ff9b,#7cff83,#aeff51,#c6ff39,#b3ff4c,#94ff6b,#9aff65,#98ff67,#89ff76,#8eff71,#96ff69,#85ff7a,#7cff83,#8dff72,#9bff64,#8bff74,#63ff9c,#46ffb9,#3dffc2,#42ffbd,#5affa5,#6cff93,#71ff8e,#58ffa7,#48ffb7,#3bffc4,#2cffd3,#4fffb0,#89ff76,#8dff72,#80ff7f,#8cff73,#a6ff59,#abff54,#a3ff5c,#abff54,#96ff69,#69ff96,#63ff9c,#81ff7e,#91ff6e,#9bff64,#9bff64,#99ff66,#9eff61,#9bff64,#95ff6a,#b0ff4f,#a7ff58,#8dff72,#9eff61,#a0ff5f,#8cff73,#82ff7d)}
.c45{background:linear-gradient(90deg,#8fff70,#8dff72,#7fff80,#95ff6a,#b4ff4b,#c5ff3a,#c1ff3e,#a4ff5b,#69ff96,#68ff97,#97ff68,#b2ff4d,#afff50,#94ff6b,#7eff81,#7aff85,#75ff8a,#74ff8b,#8cff73,#a2ff5d,#a6ff59,#8bff74,#98ff67,#c2ff3d,#b6ff49,#7fff80,#7fff80,#8cff73,#67ff98,#60ff9f,#6bff94,#5affa5,#48ffb7,#5dffa2,#98ff67,#b6ff49,#b7ff48,#a0ff5f,#99ff66,#98ff67,#8eff71,#90ff6f,#9cff63,#8fff70,#85ff7a,#96ff69,#a9ff56,#9fff60,#7bff84,#58ffa7,#45ffba,#43ffbc,#58ffa7,#64ff9b,#72ff8d,#6dff92,#51ffae,#3fffc0,#30ffcf,#3cffc3,#73ff8c,#85ff7a,#76ff89,#80ff7f,#96ff69,#a1ff5e,#99ff66,#a3ff5c,#a4ff5b,#7eff81,#64ff9b,#78ff87,#90ff6f,#a3ff5c,#a6ff59,#9fff60,#9eff61,#9eff61,#93ff6c,#acff53,#b0ff4f,#8eff71,#9fff60,#a9ff56,#8eff71,#81ff7e)}
.c46{background:linear-gradient(90deg,#95ff6a,#95ff6a,#74ff8b,#83ff7c,#abff54,#c4ff3b,#d0ff2f,#bfff40,#7eff81,#5fffa0,#85ff7a,#acff53,#b1ff4e,#95ff6a,#7eff81,#75ff8a,#6eff91,#65ff9a,#81ff7e,#9dff62,#a7ff58,#94ff6b,#96ff69,#beff41,#c8ff37,#98ff67,#86ff79,#9fff60,#7bff84,#55ffaa,#58ffa7,#4affb5,#33ffcc,#41ffbe,#7fff80,#a2ff5d,#adff52,#a2ff5d,#98ff67,#95ff6a,#8fff70,#91ff6e,#a0ff5f,#99ff66,#8aff75,#9bff64,#b4ff4b,#afff50,#8bff74,#6aff95,#52ffad,#46ffb9,#57ffa8,#5dffa2,#6aff95,#7cff83,#5fffa0,#42ffbd,#3affc5,#3effc1,#64ff9b,#80ff7f,#72ff8d,#77ff88,#8bff74,#96ff69,#90ff6f,#9cff63,#abff54,#98ff67,#70ff8f,#72ff8d,#8cff73,#a7ff58,#b1ff4e,#a6ff59,#9dff62,#a0ff5f,#95ff6a,#a7ff58,#b9ff46,#97ff68,#a0ff5f,#b4ff4b,#98ff67,#83ff7c)}
.c47{background:linear-gradient(90deg,#97ff68,#9bff64,#6fff90,#71ff8e,#9dff62,#b6ff49,#cbff34,#cbff34,#94ff6b,#62ff9d,#73ff8c,#9aff65,#a6ff59,#8fff70,#7aff85,#6fff90,#6aff95,#5bffa4,#72ff8d,#95ff6a,#a4ff5b,#97ff68,#8eff71,#aaff55,#c7ff38,#aeff51,#8bff74,#a7ff58,#96ff69,#5affa5,#46ffb9,#3dffc2,#28ffd7,#2fffd0,#6aff95,#8dff72,#9bff64,#99ff66,#90ff6f,#91ff6e,#8bff74,#8eff71,#a0ff5f,#a3ff5c,#91ff6e,#9cff63,#bbff44,#baff45,#92ff6d,#73ff8c,#60ff9f,#4effb1,#58ffa7,#5bffa4,#5effa1,#83ff7c,#71ff8e,#46ffb9,#46ffb9,#52ffad,#69ff96,#81ff7e,#75ff8a,#74ff8b,#83ff7c,#8bff74,#88ff77,#9aff65,#b2ff4d,#b0ff4f,#85ff7a,#6fff90,#82ff7d,#a2ff5d,#b6ff49,#adff52,#9bff64,#9cff63,#97ff68,#a1ff5e,#bfff40,#a9ff56,#a8ff57,#c2ff3d,#adff52,#8bff74)}
.c48{background:linear-gradient(90deg,#93ff6c,#96ff69,#6bff94,#60ff9f,#8dff72,#a7ff58,#b8ff47,#c5ff3a,#9dff62,#69ff96,#68ff97,#8aff75,#96ff69,#85ff7a,#75ff8a,#69ff96,#69ff96,#58ffa7,#62ff9d,#8aff75,#a3ff5c,#98ff67,#82ff7d,#8eff71,#b7ff48,#bdff42,#92ff6d,#a2ff5d,#abff54,#6cff93,#3dffc2,#33ffcc,#29ffd6,#2cffd3,#5dffa2,#7fff80,#8bff74,#8dff72,#84ff7b,#8cff73,#84ff7b,#83ff7c,#9aff65,#a9ff56,#9bff64,#9fff60,#bcff43,#c2ff3d,#96ff69,#73ff8c,#69ff96,#58ffa7,#5affa5,#5dffa2,#56ffa9,#81ff7e,#83ff7c,#50ffaf,#50ffaf,#6fff90,#80ff7f,#8aff75,#80ff7f,#75ff8a,#7fff80,#83ff7c,#7fff80,#97ff68,#b8ff47,#c5ff3a,#a1ff5e,#73ff8c,#76ff89,#95ff6a,#b3ff4c,#b1ff4e,#98ff67,#90ff6f,#93ff6c,#9bff64,#bbff44,#b9ff46,#b9ff46,#d3ff2c,#c9ff36,#9bff64)}
.c49{background:linear-gradient(90deg,#8eff71,#88ff77,#67ff98,#55ffaa,#7cff83,#9dff62,#a6ff59,#b3ff4c,#9bff64,#6fff90,#65ff9a,#82ff7d,#8aff75,#7cff83,#73ff8c,#65ff9a,#68ff97,#5cffa3,#58ffa7,#7bff84,#a2ff5d,#9dff62,#78ff87,#73ff8c,#a1ff5e,#c5ff3a,#9aff65,#97ff68,#b2ff4d,#83ff7c,#40ffbf,#2dffd2,#31ffce,#3affc5,#5fffa0,#7bff84,#83ff7c,#85ff7a,#79ff86,#86ff79,#80ff7f,#74ff8b,#8bff74,#a6ff59,#a2ff5d,#a4ff5b,#bcff43,#c4ff3b,#99ff66,#6fff90,#6bff94,#63ff9c,#5fffa0,#62ff9d,#56ffa9,#79ff86,#90ff6f,#5fffa0,#59ffa6,#88ff77,#9dff62,#99ff66,#8dff72,#7bff84,#7dff82,#7eff81,#74ff8b,#8aff75,#b4ff4b,#d0ff2f,#bfff40,#83ff7c,#6fff90,#87ff78,#a9ff56,#b1ff4e,#97ff68,#82ff7d,#87ff78,#93ff6c,#afff50,#beff41,#c8ff37,#e2ff1d,#e2ff1d,#afff50)}
.c50{background:linear-gradient(90deg,#8dff72,#78ff87,#63ff9c,#53ffac,#6dff92,#96ff69,#9dff62,#a0ff5f,#93ff6c,#74ff8b,#66ff99,#80ff7f,#86ff79,#75ff8a,#78ff87,#66ff99,#68ff97,#65ff9a,#59ffa6,#6eff91,#9fff60,#a8ff57,#78ff87,#61ff9e,#8dff72,#c8ff37,#a4ff5b,#8bff74,#aeff51,#97ff68,#4fffb0,#2affd5,#39ffc6,#4fffb0,#6cff93,#80ff7f,#83ff7c,#85ff7a,#75ff8a,#7eff81,#7eff81,#67ff98,#78ff87,#9aff65,#a0ff5f,#a7ff58,#bdff42,#c3ff3c,#9bff64,#6cff93,#69ff96,#6cff93,#67ff98,#68ff97,#5dffa2,#71ff8e,#93ff6c,#6fff90,#63ff9c,#94ff6b,#b4ff4b,#a8ff57,#99ff66,#83ff7c,#7cff83,#7dff82,#6bff94,#73ff8c,#9fff60,#ccff33,#d6ff29,#9eff61,#72ff8d,#7cff83,#9eff61,#acff53,#96ff69,#79ff86,#78ff87,#88ff77,#a0ff5f,#b4ff4b,#ccff33,#e8ff17,#ecff13,#bdff42)}
.c51{background:linear-gradient(90deg,#8eff71,#71ff8e,#63ff9c,#5affa5,#65ff9a,#8eff71,#9bff64,#90ff6f,#8bff74,#7aff85,#6bff94,#7dff82,#83ff7c,#72ff8d,#84ff7b,#73ff8c,#6bff94,#72ff8d,#63ff9c,#6bff94,#98ff67,#b1ff4e,#80ff7f,#5fffa0,#84ff7b,#c9ff36,#b2ff4d,#86ff79,#a7ff58,#a9ff56,#67ff98,#2fffd0,#3dffc2,#65ff9a,#7eff81,#89ff76,#86ff79,#87ff78,#7bff84,#79ff86,#7bff84,#5dffa2,#65ff9a,#8aff75,#95ff6a,#a1ff5e,#bcff43,#c2ff3d,#9bff64,#6aff95,#65ff9a,#72ff8d,#74ff8b,#70ff8f,#67ff98,#6eff91,#8cff73,#7aff85,#6cff93,#94ff6b,#bbff44,#b1ff4e,#a0ff5f,#89ff76,#7bff84,#81ff7e,#6bff94,#5cffa3,#7bff84,#b4ff4b,#ddff22,#baff45,#7eff81,#78ff87,#96ff69,#a5ff5a,#90ff6f,#77ff88,#6cff93,#7cff83,#93ff6c,#a4ff5b,#c0ff3f,#e1ff1e,#e6ff19,#beff41)}
.c52{background:linear-gradient(90deg,#8cff73,#73ff8c,#68ff97,#65ff9a,#67ff98,#87ff78,#9bff64,#86ff79,#84ff7b,#84ff7b,#76ff89,#7aff85,#7cff83,#6eff91,#8fff70,#8bff74,#77ff88,#81ff7e,#73ff8c,#73ff8c,#92ff6d,#b1ff4e,#8aff75,#66ff99,#85ff7a,#c9ff36,#c3ff3c,#8bff74,#a3ff5c,#bbff44,#86ff79,#40ffbf,#42ffbd,#76ff89,#8eff71,#8dff72,#82ff7d,#82ff7d,#81ff7e,#7aff85,#76ff89,#58ffa7,#54ffab,#7aff85,#88ff77,#93ff6c,#b4ff4b,#c2ff3d,#9cff63,#65ff9a,#5dffa2,#71ff8e,#7fff80,#7bff84,#72ff8d,#72ff8d,#84ff7b,#80ff7f,#78ff87,#91ff6e,#b4ff4b,#b3ff4c,#a0ff5f,#8aff75,#77ff88,#83ff7c,#75ff8a,#51ffae,#57ffa8,#91ff6e,#d2ff2d,#ccff33,#8eff71,#77ff88,#8eff71,#9cff63,#85ff7a,#76ff89,#66ff99,#71ff8e,#8cff73,#97ff68,#aeff51,#d0ff2f,#d6ff29,#b2ff4d)}
.c53{background:linear-gradient(90deg,#87ff78,#79ff86,#71ff8e,#72ff8d,#72ff8d,#84ff7b,#9aff65,#80ff7f,#7dff82,#8eff71,#8aff75,#80ff7f,#76ff89,#6aff95,#92ff6d,#a7ff58,#8fff70,#93ff6c,#82ff7d,#7fff80,#91ff6e,#aaff55,#8cff73,#6cff93,#8dff72,#c9ff36,#d3ff2c,#9aff65,#a2ff5d,#ccff33,#a9ff56,#5dffa2,#4cffb3,#82ff7d,#98ff67,#89ff76,#78ff87,#75ff8a,#7cff83,#7cff83,#72ff8d,#55ffaa,#45ffba,#69ff96,#7cff83,#86ff79,#a7ff58,#c0ff3f,#a5ff5a,#66ff99,#52ffad,#69ff96,#85ff7a,#89ff76,#7dff82,#7aff85,#80ff7f,#82ff7d,#85ff7a,#93ff6c,#a8ff57,#acff53,#9bff64,#86ff79,#71ff8e,#80ff7f,#81ff7e,#59ffa6,#42ffbd,#6fff90,#baff45,#cfff30,#9aff65,#79ff86,#85ff7a,#92ff6d,#76ff89,#70ff8f,#67ff98,#68ff97,#87ff78,#92ff6d,#9fff60,#beff41,#c8ff37,#a5ff5a)}
.c54{background:linear-gradient(90deg,#83ff7c,#80ff7f,#7bff84,#81ff7e,#81ff7e,#84ff7b,#96ff69,#7eff81,#77ff88,#96ff69,#9eff61,#92ff6d,#78ff87,#68ff97,#8cff73,#b8ff47,#acff53,#a8ff57,#8fff70,#85ff7a,#95ff6a,#a2ff5d,#8bff74,#6eff91,#93ff6c,#c9ff36,#dbff24,#adff52,#a2ff5d,#d3ff2c,#c6ff39,#7eff81,#5bffa4,#87ff78,#9cff63,#82ff7d,#6dff92,#66ff99,#6eff91,#78ff87,#72ff8d,#56ffa9,#3cffc3,#55ffaa,#73ff8c,#81ff7e,#9dff62,#bdff42,#b4ff4b,#74ff8b,#4dffb2,#60ff9f,#86ff79,#96ff69,#89ff76,#83ff7c,#83ff7c,#84ff7b,#92ff6d,#9cff63,#a0ff5f,#a2ff5d,#92ff6d,#7eff81,#6bff94,#78ff87,#87ff78,#6bff94,#44ffbb,#59ffa6,#9fff60,#c3ff3c,#9dff62,#7bff84,#7cff83,#87ff78,#6cff93,#67ff98,#68ff97,#60ff9f,#81ff7e,#93ff6c,#99ff66,#b3ff4c,#c3ff3c,#9fff60)}
.c55{background:linear-gradient(90deg,#87ff78,#87ff78,#84ff7b,#90ff6f,#91ff6e,#86ff79,#8eff71,#7dff82,#77ff88,#9cff63,#acff53,#a9ff56,#87ff78,#6fff90,#82ff7d,#b6ff49,#c3ff3c,#bdff42,#99ff66,#84ff7b,#96ff69,#9dff62,#8aff75,#6eff91,#93ff6c,#c6ff39,#dbff24,#bdff42,#a3ff5c,#ceff31,#d5ff2a,#99ff66,#6aff95,#85ff7a,#9aff65,#7bff84,#65ff9a,#5fffa0,#60ff9f,#6cff93,#71ff8e,#5bffa4,#3bffc4,#42ffbd,#68ff97,#85ff7a,#9aff65,#b6ff49,#c3ff3c,#8fff70,#55ffaa,#5cffa3,#87ff78,#a1ff5e,#97ff68,#8dff72,#8aff75,#87ff78,#9bff64,#a8ff57,#9fff60,#9aff65,#8aff75,#77ff88,#66ff99,#70ff8f,#82ff7d,#7bff84,#59ffa6,#55ffaa,#89ff76,#aeff51,#97ff68,#7cff83,#79ff86,#7fff80,#6cff93,#62ff9d,#68ff97,#59ffa6,#76ff89,#93ff6c,#9aff65,#b1ff4e,#c8ff37,#a6ff59)}
.c56{background:linear-gradient(90deg,#94ff6b,#91ff6e,#8bff74,#9eff61,#a2ff5d,#88ff77,#7fff80,#77ff88,#7bff84,#a4ff5b,#b3ff4c,#b8ff47,#9eff61,#81ff7e,#7dff82,#a2ff5d,#c5ff3a,#c8ff37,#a3ff5c,#80ff7f,#8fff70,#97ff68,#8bff74,#70ff8f,#8eff71,#beff41,#d3ff2c,#c4ff3b,#a5ff5a,#c3ff3c,#d6ff29,#a6ff59,#74ff8b,#7eff81,#92ff6d,#78ff87,#64ff9b,#5fffa0,#59ffa6,#61ff9e,#6eff91,#62ff9d,#41ffbe,#36ffc9,#59ffa6,#88ff77,#9eff61,#adff52,#c7ff38,#abff54,#6aff95,#60ff9f,#8bff74,#acff53,#a7ff58,#98ff67,#92ff6d,#8cff73,#9dff62,#aeff51,#9eff61,#93ff6c,#88ff77,#76ff89,#64ff9b,#69ff96,#79ff86,#7fff80,#75ff8a,#63ff9c,#7cff83,#96ff69,#89ff76,#7cff83,#7fff80,#81ff7e,#75ff8a,#6aff95,#69ff96,#54ffab,#67ff98,#8eff71,#9eff61,#b2ff4d,#cfff30,#b6ff49)}
.c57{background:linear-gradient(90deg,#a7ff58,#a2ff5d,#92ff6d,#a4ff5b,#afff50,#8fff70,#6dff92,#68ff97,#7fff80,#b2ff4d,#b9ff46,#baff45,#b1ff4e,#95ff6a,#82ff7d,#89ff76,#aeff51,#c3ff3c,#a9ff56,#81ff7e,#84ff7b,#8eff71,#8bff74,#75ff8a,#8aff75,#b5ff4a,#c8ff37,#c2ff3d,#a4ff5b,#b5ff4a,#d0ff2f,#a7ff58,#75ff8a,#75ff8a,#87ff78,#78ff87,#66ff99,#62ff9d,#5affa5,#5cffa3,#6bff94,#68ff97,#4dffb2,#34ffcb,#4affb5,#83ff7c,#a0ff5f,#a3ff5c,#beff41,#bcff43,#83ff7c,#6bff94,#91ff6e,#b9ff46,#b9ff46,#a6ff59,#9bff64,#92ff6d,#9aff65,#a8ff57,#96ff69,#8aff75,#8aff75,#7fff80,#6aff95,#67ff98,#73ff8c,#7aff85,#8bff74,#7eff81,#7cff83,#83ff7c,#75ff8a,#77ff88,#87ff78,#8cff73,#86ff79,#7dff82,#73ff8c,#55ffaa,#59ffa6,#85ff7a,#a1ff5e,#b5ff4a,#d2ff2d,#c7ff38)}
.c58{background:linear-gradient(90deg,#baff45,#b6ff49,#9bff64,#a2ff5d,#b4ff4b,#9aff65,#64ff9b,#54ffab,#7eff81,#c3ff3c,#c7ff38,#b4ff4b,#b7ff48,#a6ff59,#8cff73,#75ff8a,#87ff78,#abff54,#a8ff57,#88ff77,#7eff81,#80ff7f,#87ff78,#78ff87,#85ff7a,#abff54,#bcff43,#beff41,#9dff62,#a4ff5b,#c4ff3b,#a4ff5b,#6fff90,#6aff95,#7cff83,#7aff85,#6aff95,#61ff9e,#5bffa4,#5fffa0,#6bff94,#69ff96,#57ffa8,#3cffc3,#43ffbc,#77ff88,#9aff65,#9cff63,#aeff51,#bbff44,#95ff6a,#77ff88,#93ff6c,#c2ff3d,#cbff34,#b8ff47,#a5ff5a,#9bff64,#97ff68,#9cff63,#86ff79,#79ff86,#89ff76,#8fff70,#79ff86,#6aff95,#74ff8b,#78ff87,#97ff68,#9bff64,#89ff76,#7cff83,#64ff9b,#6fff90,#8fff70,#9dff62,#9aff65,#97ff68,#87ff78,#60ff9f,#54ffab,#79ff86,#9eff61,#b5ff4a,#d0ff2f,#d3ff2c)}
.c59{background:linear-gradient(90deg,#ccff33,#c9ff36,#a4ff5b,#99ff66,#acff53,#a4ff5b,#6cff93,#48ffb7,#7aff85,#ceff31,#daff25,#b1ff4e,#afff50,#adff52,#93ff6c,#6cff93,#60ff9f,#86ff79,#9fff60,#92ff6d,#81ff7e,#72ff8d,#7bff84,#77ff88,#7cff83,#a0ff5f,#b1ff4e,#baff45,#94ff6b,#8dff72,#b1ff4e,#9eff61,#67ff98,#5fffa0,#72ff8d,#79ff86,#6eff91,#5fffa0,#5cffa3,#63ff9c,#6bff94,#64ff9b,#59ffa6,#48ffb7,#47ffb8,#6eff91,#90ff6f,#9aff65,#a4ff5b,#afff50,#9aff65,#82ff7d,#8fff70,#c2ff3d,#d9ff26,#c9ff36,#b2ff4d,#a6ff59,#99ff66,#91ff6e,#75ff8a,#62ff9d,#81ff7e,#9dff62,#8dff72,#70ff8f,#78ff87,#7fff80,#9dff62,#b2ff4d,#9dff62,#85ff7a,#65ff9a,#6eff91,#99ff66,#b0ff4f,#aeff51,#afff50,#a0ff5f,#73ff8c,#5cffa3,#72ff8d,#96ff69,#b1ff4e,#ceff31,#deff21)}
.c60{background:linear-gradient(90deg,#e0ff1f,#d9ff26,#abff54,#90ff6f,#9dff62,#a3ff5c,#80ff7f,#52ffad,#79ff86,#cdff32,#e6ff19,#b6ff49,#a2ff5d,#aaff55,#94ff6b,#6cff93,#49ffb6,#62ff9d,#8dff72,#98ff67,#8bff74,#6cff93,#69ff96,#70ff8f,#70ff8f,#92ff6d,#a4ff5b,#b6ff49,#94ff6b,#79ff86,#97ff68,#93ff6c,#65ff9a,#56ffa9,#6aff95,#74ff8b,#71ff8e,#5cffa3,#5affa5,#67ff98,#6bff94,#5effa1,#55ffaa,#53ffac,#55ffaa,#71ff8e,#8cff73,#a1ff5e,#a7ff58,#a5ff5a,#96ff69,#87ff78,#8bff74,#b7ff48,#dbff24,#d2ff2d,#bfff40,#b3ff4c,#a0ff5f,#8dff72,#6cff93,#4dffb2,#70ff8f,#a0ff5f,#9dff62,#77ff88,#79ff86,#8bff74,#a4ff5b,#c0ff3f,#b1ff4e,#9cff63,#7fff80,#86ff79,#b2ff4d,#cdff32,#c8ff37,#c5ff3a,#b8ff47,#89ff76,#6cff93,#76ff89,#8dff72,#a8ff57,#ceff31,#ebff14)}
.c61{background:linear-gradient(90deg,#f6ff09,#e5ff1a,#b0ff4f,#88ff77,#8dff72,#97ff68,#93ff6c,#70ff8f,#83ff7c,#c3ff3c,#dfff20,#bdff42,#98ff67,#a2ff5d,#93ff6c,#71ff8e,#48ffb7,#4fffb0,#7bff84,#95ff6a,#95ff6a,#73ff8c,#5affa5,#62ff9d,#60ff9f,#7cff83,#94ff6b,#afff50,#9fff60,#75ff8a,#81ff7e,#86ff79,#6dff92,#5affa5,#67ff98,#6dff92,#6fff90,#5dffa2,#59ffa6,#69ff96,#6aff95,#5affa5,#50ffaf,#59ffa6,#67ff98,#7dff82,#92ff6d,#aeff51,#b6ff49,#a5ff5a,#90ff6f,#8aff75,#8bff74,#a7ff58,#cdff32,#cdff32,#c3ff3c,#bcff43,#a7ff58,#8eff71,#6fff90,#45ffba,#59ffa6,#95ff6a,#a2ff5d,#7bff84,#72ff8d,#90ff6f,#aaff55,#c5ff3a,#c0ff3f,#b8ff47,#acff53,#b7ff48,#e0ff1f,#f4ff0b,#e8ff17,#dbff24,#ccff33,#9bff64,#7aff85,#82ff7d,#8cff73,#9fff60,#cfff30,#f9ff06)}
.c62{background:linear-gradient(90deg,#fff800,#e8ff17,#b0ff4f,#80ff7f,#7fff80,#86ff79,#9aff65,#94ff6b,#97ff68,#bbff44,#cbff34,#bcff43,#94ff6b,#99ff66,#93ff6c,#79ff86,#58ffa7,#52ffad,#73ff8c,#8cff73,#99ff66,#83ff7c,#59ffa6,#52ffad,#4fffb0,#61ff9e,#7cff83,#9fff60,#abff54,#84ff7b,#7bff84,#7bff84,#7dff82,#72ff8d,#72ff8d,#6dff92,#6aff95,#60ff9f,#5bffa4,#6cff93,#69ff96,#59ffa6,#51ffae,#60ff9f,#76ff89,#8dff72,#9dff62,#bcff43,#c8ff37,#acff53,#8dff72,#8aff75,#8fff70,#9cff63,#b5ff4a,#b8ff47,#baff45,#beff41,#a9ff56,#90ff6f,#7aff85,#4effb1,#46ffb9,#7aff85,#97ff68,#78ff87,#63ff9c,#83ff7c,#a5ff5a,#bdff42,#c4ff3b,#caff35,#d1ff2e,#e2ff1d,#fff900,#fff100,#fffe00,#efff10,#ddff22,#a8ff57,#82ff7d,#8dff72,#95ff6a,#9fff60,#d0ff2f,#feff01)}
.c63{background:linear-gradient(90deg,#fff900,#deff21,#abff54,#77ff88,#6eff91,#7aff85,#98ff67,#adff52,#aaff55,#b9ff46,#bbff44,#b5ff4a,#95ff6a,#92ff6d,#94ff6b,#81ff7e,#6eff91,#64ff9b,#76ff89,#83ff7c,#93ff6c,#95ff6a,#6cff93,#4bffb4,#42ffbd,#46ffb9,#60ff9f,#87ff78,#acff53,#98ff67,#84ff7b,#78ff87,#8cff73,#99ff66,#8fff70,#7eff81,#6eff91,#66ff99,#62ff9d,#72ff8d,#6eff91,#60ff9f,#5affa5,#6aff95,#7fff80,#96ff69,#a7ff58,#c4ff3b,#d1ff2e,#b1ff4e,#8cff73,#89ff76,#95ff6a,#98ff67,#9eff61,#9aff65,#a6ff59,#b6ff49,#a6ff59,#91ff6e,#87ff78,#67ff98,#44ffbb,#5affa5,#7eff81,#6dff92,#4dffb2,#63ff9c,#8bff74,#a3ff5c,#b4ff4b,#c5ff3a,#d5ff2a,#e4ff1b,#ffff00,#ffff00,#f7ff08,#f5ff0a,#e8ff17,#b3ff4c,#86ff79,#96ff69,#a7ff58,#adff52,#cfff30,#f1ff0e)}
.c64{background:linear-gradient(90deg,#efff10,#caff35,#9bff64,#6aff95,#59ffa6,#72ff8d,#92ff6d,#b1ff4e,#b3ff4c,#b9ff46,#b8ff47,#b1ff4e,#97ff68,#8fff70,#94ff6b,#85ff7a,#7cff83,#75ff8a,#7eff81,#7dff82,#85ff7a,#9eff61,#8bff74,#57ffa8,#3dffc2,#33ffcc,#44ffbb,#6cff93,#9cff63,#a0ff5f,#8fff70,#7bff84,#93ff6c,#beff41,#b8ff47,#a0ff5f,#82ff7d,#6fff90,#6aff95,#7cff83,#7aff85,#6dff92,#6aff95,#78ff87,#84ff7b,#95ff6a,#adff52,#c5ff3a,#cdff32,#aeff51,#8aff75,#85ff7a,#95ff6a,#96ff69,#8dff72,#80ff7f,#90ff6f,#aaff55,#9fff60,#8fff70,#93ff6c,#86ff79,#59ffa6,#44ffbb,#5dffa2,#5bffa4,#37ffc8,#36ffc9,#59ffa6,#70ff8f,#8aff75,#a9ff56,#bdff42,#c2ff3d,#d2ff2d,#d3ff2c,#d3ff2c,#e5ff1a,#e8ff17,#bcff43,#8bff74,#9eff61,#bfff40,#c4ff3b,#ccff33,#d5ff2a)}
.c65{background:linear-gradient(90deg,#cbff34,#adff52,#84ff7b,#5affa5,#47ffb8,#6aff95,#8eff71,#a6ff59,#afff50,#b4ff4b,#bdff42,#b6ff49,#9bff64,#8fff70,#93ff6c,#85ff7a,#80ff7f,#79ff86,#81ff7e,#7bff84,#75ff8a,#99ff66,#a6ff59,#74ff8b,#48ffb7,#30ffcf,#33ffcc,#53ffac,#80ff7f,#91ff6e,#8cff73,#7aff85,#8cff73,#cdff32,#dcff23,#cbff34,#a8ff57,#80ff7f,#70ff8f,#86ff79,#8bff74,#7cff83,#7aff85,#87ff78,#88ff77,#8dff72,#aeff51,#c8ff37,#c4ff3b,#a2ff5d,#85ff7a,#7fff80,#8bff74,#8dff72,#81ff7e,#72ff8d,#81ff7e,#a1ff5e,#98ff67,#8cff73,#9aff65,#a1ff5e,#7cff83,#42ffbd,#3cffc3,#46ffb9,#25ffda,#08fff7,#14ffeb,#26ffd9,#48ffb7,#7cff83,#9dff62,#9dff62,#a1ff5e,#a7ff58,#adff52,#caff35,#daff25,#c0ff3f,#97ff68,#abff54,#dcff23,#dbff24,#c4ff3b,#b3ff4c)}
.c66{background:linear-gradient(90deg,#a5ff5a,#8cff73,#68ff97,#4bffb4,#42ffbd,#64ff9b,#8aff75,#93ff6c,#9fff60,#acff53,#bfff40,#beff41,#9fff60,#91ff6e,#94ff6b,#84ff7b,#7bff84,#70ff8f,#79ff86,#7cff83,#69ff96,#87ff78,#b3ff4c,#96ff69,#60ff9f,#3effc1,#34ffcb,#46ffb9,#62ff9d,#72ff8d,#7bff84,#72ff8d,#7aff85,#c3ff3c,#ebff14,#f0ff0f,#d5ff2a,#98ff67,#75ff8a,#8aff75,#9eff61,#8dff72,#84ff7b,#90ff6f,#8aff75,#87ff78,#aeff51,#d1ff2e,#c0ff3f,#97ff68,#81ff7e,#79ff86,#7eff81,#7dff82,#73ff8c,#6dff92,#7eff81,#a0ff5f,#93ff6c,#83ff7c,#9bff64,#b0ff4f,#9dff62,#54ffab,#25ffda,#2effd1,#1affe5,#00e7ff,#00d1ff,#00d7ff,#02fffd,#4affb5,#82ff7d,#8aff75,#85ff7a,#8cff73,#96ff69,#b1ff4e,#c6ff39,#bfff40,#acff53,#c0ff3f,#f2ff0d,#e9ff16,#b5ff4a,#91ff6e)}
.c67{background:linear-gradient(90deg,#81ff7e,#69ff96,#4cffb3,#45ffba,#52ffad,#6cff93,#86ff79,#7fff80,#88ff77,#9eff61,#b8ff47,#bfff40,#9fff60,#92ff6d,#97ff68,#84ff7b,#75ff8a,#64ff9b,#67ff98,#79ff86,#65ff9a,#6fff90,#adff52,#b3ff4c,#7eff81,#57ffa8,#46ffb9,#49ffb6,#4effb1,#52ffad,#62ff9d,#69ff96,#69ff96,#aaff55,#e3ff1c,#fffe00,#fcff03,#b4ff4b,#79ff86,#89ff76,#acff53,#9fff60,#89ff76,#91ff6e,#88ff77,#84ff7b,#b1ff4e,#dcff23,#c6ff39,#92ff6d,#7dff82,#77ff88,#75ff8a,#70ff8f,#66ff99,#6dff92,#82ff7d,#a2ff5d,#91ff6e,#75ff8a,#90ff6f,#b1ff4e,#aeff51,#6dff92,#22ffdd,#1effe1,#1cffe3,#00e8ff,#00b5ff,#00a8ff,#00d6ff,#2affd5,#73ff8c,#87ff78,#7bff84,#7dff82,#8aff75,#a4ff5b,#b9ff46,#bfff40,#c7ff38,#daff25,#f9ff06,#e5ff1a,#a2ff5d,#71ff8e)}
.c68{background:linear-gradient(90deg,#5effa1,#47ffb8,#38ffc7,#4dffb2,#78ff87,#8eff71,#8dff72,#72ff8d,#6dff92,#8bff74,#a9ff56,#b6ff49,#9aff65,#8fff70,#98ff67,#87ff78,#73ff8c,#5dffa2,#53ffac,#6fff90,#68ff97,#5bffa4,#99ff66,#c3ff3c,#9dff62,#73ff8c,#61ff9e,#5bffa4,#4affb5,#3bffc4,#4cffb3,#62ff9d,#5fffa0,#90ff6f,#cdff32,#f8ff07,#ffec00,#ceff31,#7dff82,#84ff7b,#b2ff4d,#b0ff4f,#8eff71,#8eff71,#83ff7c,#80ff7f,#b4ff4b,#e4ff1b,#cfff30,#96ff69,#7dff82,#79ff86,#77ff88,#6fff90,#61ff9e,#6dff92,#87ff78,#a4ff5b,#94ff6b,#69ff96,#7dff82,#a6ff59,#aeff51,#83ff7c,#34ffcb,#20ffdf,#2fffd0,#10ffef,#00d8ff,#00b7ff,#00ddff,#2bffd4,#72ff8d,#8dff72,#7cff83,#72ff8d,#81ff7e,#a2ff5d,#c0ff3f,#caff35,#e3ff1c,#efff10,#eaff15,#cfff30,#8eff71,#53ffac)}
.c69{background:linear-gradient(90deg,#3affc5,#28ffd7,#34ffcb,#67ff98,#aeff51,#caff35,#acff53,#74ff8b,#57ffa8,#73ff8c,#95ff6a,#a4ff5b,#90ff6f,#88ff77,#94ff6b,#89ff76,#73ff8c,#5effa1,#48ffb7,#5fffa0,#6bff94,#50ffaf,#7dff82,#c3ff3c,#b6ff49,#8eff71,#7aff85,#72ff8d,#55ffaa,#33ffcc,#3cffc3,#5dffa2,#60ff9f,#7fff80,#b6ff49,#e0ff1f,#ffef00,#e2ff1d,#86ff79,#7cff83,#adff52,#bdff42,#99ff66,#8eff71,#81ff7e,#77ff88,#afff50,#e1ff1e,#d0ff2f,#9eff61,#80ff7f,#7aff85,#81ff7e,#7eff81,#6aff95,#70ff8f,#89ff76,#9fff60,#9aff65,#6bff94,#6dff92,#96ff69,#a6ff59,#91ff6e,#54ffab,#37ffc8,#50ffaf,#4effb1,#28ffd7,#00faff,#0cfff3,#45ffba,#7bff84,#94ff6b,#82ff7d,#6bff94,#77ff88,#a5ff5a,#d8ff27,#ebff14,#fdff02,#f7ff08,#cbff34,#abff54,#77ff88,#38ffc7)}
.c70{background:linear-gradient(90deg,#1affe5,#15ffea,#45ffba,#90ff6f,#e4ff1b,#fff500,#daff25,#87ff78,#4dffb2,#5cffa3,#82ff7d,#8eff71,#83ff7c,#82ff7d,#8dff72,#85ff7a,#74ff8b,#62ff9d,#49ffb6,#50ffaf,#6aff95,#51ffae,#68ff97,#b7ff48,#c6ff39,#a5ff5a,#8dff72,#85ff7a,#69ff96,#3affc5,#34ffcb,#59ffa6,#66ff99,#77ff88,#a4ff5b,#c6ff39,#f6ff09,#e7ff18,#93ff6c,#78ff87,#a1ff5e,#c0ff3f,#a7ff58,#93ff6c,#84ff7b,#6fff90,#9fff60,#d2ff2d,#c7ff38,#a3ff5c,#87ff78,#7bff84,#8cff73,#92ff6d,#7dff82,#77ff88,#88ff77,#94ff6b,#9cff63,#7dff82,#69ff96,#89ff76,#9fff60,#99ff66,#76ff89,#58ffa7,#70ff8f,#85ff7a,#75ff8a,#4affb5,#43ffbc,#62ff9d,#83ff7c,#96ff69,#8aff75,#6aff95,#6eff91,#a9ff56,#f9ff06,#ffe300,#ffee00,#ecff13,#a6ff59,#80ff7f,#59ffa6,#1fffe0)}
.c71{background:linear-gradient(90deg,#02fffd,#12ffed,#62ff9d,#b9ff46,#fffc00,#ffd800,#faff05,#9cff63,#50ffaf,#4bffb4,#73ff8c,#7cff83,#71ff8e,#7bff84,#87ff78,#7dff82,#71ff8e,#64ff9b,#4fffb0,#4bffb4,#68ff97,#5affa5,#5fffa0,#a8ff57,#c9ff36,#b4ff4b,#9aff65,#90ff6f,#7dff82,#4effb1,#37ffc8,#56ffa9,#6dff92,#75ff8a,#99ff66,#b4ff4b,#d6ff29,#daff25,#a2ff5d,#7fff80,#96ff69,#b9ff46,#b0ff4f,#97ff68,#89ff76,#6fff90,#8bff74,#b9ff46,#b4ff4b,#a3ff5c,#90ff6f,#7bff84,#91ff6e,#a2ff5d,#8cff73,#7dff82,#83ff7c,#86ff79,#97ff68,#94ff6b,#76ff89,#82ff7d,#9cff63,#9fff60,#8fff70,#74ff8b,#7eff81,#9fff60,#a2ff5d,#80ff7f,#69ff96,#70ff8f,#82ff7d,#94ff6b,#92ff6d,#71ff8e,#6dff92,#b5ff4a,#ffe200,#ffb000,#ffdd00,#d7ff28,#84ff7b,#52ffad,#2fffd0,#08fff7)}
.c72{background:linear-gradient(90deg,#00f4ff,#21ffde,#81ff7e,#d2ff2d,#faff05,#fff400,#ecff13,#9dff62,#55ffaa,#41ffbe,#68ff97,#74ff8b,#61ff9e,#71ff8e,#86ff79,#78ff87,#6cff93,#61ff9e,#54ffab,#50ffaf,#6aff95,#67ff98,#64ff9b,#9eff61,#c5ff3a,#b8ff47,#9bff64,#90ff6f,#8bff74,#6aff95,#4bffb4,#59ffa6,#72ff8d,#77ff88,#91ff6e,#aeff51,#bfff40,#c2ff3d,#a9ff56,#8fff70,#94ff6b,#b1ff4e,#afff50,#93ff6c,#85ff7a,#76ff89,#81ff7e,#a0ff5f,#9dff62,#9bff64,#99ff66,#80ff7f,#90ff6f,#a6ff59,#8fff70,#7aff85,#7aff85,#76ff89,#89ff76,#a2ff5d,#8aff75,#81ff7e,#99ff66,#a2ff5d,#9dff62,#82ff7d,#7aff85,#99ff66,#adff52,#97ff68,#7aff85,#70ff8f,#79ff86,#90ff6f,#9bff64,#83ff7c,#80ff7f,#d6ff29,#ffb000,#ff7f00,#ffcb00,#c7ff38,#6aff95,#24ffdb,#00fcff,#00f4ff)}
.c73{background:linear-gradient(90deg,#00f5ff,#41ffbe,#9bff64,#d4ff2b,#d3ff2c,#c3ff3c,#b2ff4d,#80ff7f,#50ffaf,#40ffbf,#5fffa0,#75ff8a,#5bffa4,#65ff9a,#85ff7a,#7bff84,#69ff96,#5affa5,#50ffaf,#56ffa9,#70ff8f,#75ff8a,#6fff90,#99ff66,#beff41,#b2ff4d,#92ff6d,#86ff79,#8eff71,#87ff78,#6eff91,#6bff94,#7aff85,#79ff86,#8cff73,#aeff51,#b6ff49,#aaff55,#a2ff5d,#a1ff5e,#9dff62,#adff52,#a9ff56,#86ff79,#76ff89,#7aff85,#85ff7a,#94ff6b,#8cff73,#8dff72,#9aff65,#8aff75,#90ff6f,#a2ff5d,#87ff78,#6eff91,#6bff94,#67ff98,#79ff86,#a0ff5f,#99ff66,#85ff7a,#93ff6c,#a0ff5f,#a0ff5f,#86ff79,#6dff92,#81ff7e,#a5ff5a,#9cff63,#80ff7f,#6dff92,#6eff91,#89ff76,#a3ff5c,#9eff61,#a8ff57,#fff000,#ff7300,#ff5600,#ffba00,#bfff40,#58ffa7,#00fcff,#00d2ff,#00eaff)}
.c74{background:linear-gradient(90deg,#06fff9,#6eff91,#b0ff4f,#c1ff3e,#9aff65,#6fff90,#61ff9e,#4cffb3,#3bffc4,#40ffbf,#59ffa6,#76ff89,#63ff9c,#5fffa0,#83ff7c,#83ff7c,#6dff92,#53ffac,#44ffbb,#52ffad,#72ff8d,#80ff7f,#79ff86,#96ff69,#b5ff4a,#a9ff56,#81ff7e,#74ff8b,#86ff79,#9bff64,#94ff6b,#89ff76,#88ff77,#7dff82,#87ff78,#aeff51,#b5ff4a,#9aff65,#92ff6d,#a8ff57,#a9ff56,#afff50,#a8ff57,#7dff82,#64ff9b,#78ff87,#90ff6f,#93ff6c,#84ff7b,#7fff80,#90ff6f,#92ff6d,#99ff66,#9eff61,#7dff82,#5effa1,#5affa5,#57ffa8,#6aff95,#94ff6b,#9cff63,#89ff76,#8dff72,#97ff68,#9aff65,#83ff7c,#63ff9c,#69ff96,#96ff69,#9eff61,#85ff7a,#6fff90,#66ff99,#7eff81,#a2ff5d,#b5ff4a,#d1ff2e,#ffcc00,#ff6200,#ff6000,#ffc800,#b0ff4f,#43ffbc,#00e5ff,#00c5ff,#00f6ff)}
.c75{background:linear-gradient(90deg,#2affd5,#9fff60,#c0ff3f,#a2ff5d,#5fffa0,#25ffda,#14ffeb,#14ffeb,#1dffe2,#3cffc3,#56ffa9,#74ff8b,#74ff8b,#66ff99,#80ff7f,#8cff73,#78ff87,#54ffab,#35ffca,#41ffbe,#67ff98,#83ff7c,#7eff81,#8fff70,#abff54,#a1ff5e,#73ff8c,#61ff9e,#77ff88,#9fff60,#adff52,#a3ff5c,#99ff66,#83ff7c,#83ff7c,#a9ff56,#b1ff4e,#90ff6f,#7eff81,#a2ff5d,#b0ff4f,#b0ff4f,#acff53,#80ff7f,#60ff9f,#76ff89,#99ff66,#97ff68,#82ff7d,#73ff8c,#80ff7f,#91ff6e,#a9ff56,#a5ff5a,#7aff85,#55ffaa,#4effb1,#4bffb4,#5dffa2,#87ff78,#99ff66,#8eff71,#89ff76,#8bff74,#8cff73,#7bff84,#60ff9f,#5fffa0,#8bff74,#a1ff5e,#8dff72,#79ff86,#66ff99,#73ff8c,#98ff67,#bcff43,#e5ff1a,#ffd900,#ffa100,#ffb100,#fcff03,#8eff71,#2affd5,#00e5ff,#00e3ff,#24ffdb)}
.c76{background:linear-gradient(90deg,#66ff99,#cbff34,#ccff33,#84ff7b,#34ffcb,#00f6ff,#00e1ff,#00edff,#08fff7,#34ffcb,#54ffab,#6dff92,#82ff7d,#77ff88,#7fff80,#8dff72,#83ff7c,#5effa1,#2dffd2,#2effd1,#52ffad,#78ff87,#7cff83,#86ff79,#a0ff5f,#9cff63,#6eff91,#55ffaa,#69ff96,#94ff6b,#b0ff4f,#acff53,#a5ff5a,#8bff74,#83ff7c,#a3ff5c,#a8ff57,#86ff79,#6eff91,#8eff71,#aaff55,#aeff51,#b3ff4c,#93ff6c,#72ff8d,#7dff82,#a0ff5f,#98ff67,#7dff82,#6cff93,#6fff90,#87ff78,#b5ff4a,#b7ff48,#82ff7d,#55ffaa,#49ffb6,#45ffba,#53ffac,#7eff81,#95ff6a,#92ff6d,#89ff76,#83ff7c,#7fff80,#71ff8e,#62ff9d,#64ff9b,#88ff77,#a6ff59,#97ff68,#85ff7a,#6eff91,#6eff91,#8eff71,#b9ff46,#e9ff16,#fffa00,#fff800,#ecff13,#b7ff48,#67ff98,#1bffe4,#05fffa,#28ffd7,#6dff92)}
.c77{background:linear-gradient(90deg,#b1ff4e,#eaff15,#cfff30,#76ff89,#27ffd8,#00edff,#00d9ff,#00eaff,#0afff5,#2fffd0,#4fffb0,#63ff9c,#85ff7a,#88ff77,#81ff7e,#87ff78,#86ff79,#6cff93,#31ffce,#25ffda,#41ffbe,#65ff9a,#72ff8d,#79ff86,#95ff6a,#9dff62,#76ff89,#57ffa8,#63ff9c,#85ff7a,#a0ff5f,#a1ff5e,#a4ff5b,#92ff6d,#88ff77,#a5ff5a,#a3ff5c,#7cff83,#63ff9c,#78ff87,#98ff67,#a6ff59,#b9ff46,#abff54,#92ff6d,#8eff71,#a2ff5d,#96ff69,#76ff89,#67ff98,#67ff98,#7aff85,#b6ff49,#cbff34,#93ff6c,#5dffa2,#49ffb6,#45ffba,#4effb1,#77ff88,#90ff6f,#91ff6e,#8bff74,#83ff7c,#79ff86,#69ff96,#63ff9c,#6eff91,#8aff75,#aaff55,#9fff60,#8fff70,#7aff85,#72ff8d,#8dff72,#b6ff49,#e4ff1b,#e9ff16,#c9ff36,#a4ff5b,#7dff82,#4affb5,#24ffdb,#40ffbf,#83ff7c,#c1ff3e)}
.c78{background:linear-gradient(90deg,#f3ff0c,#f6ff09,#c7ff38,#77ff88,#38ffc7,#0bfff4,#00fbff,#0dfff2,#24ffdb,#34ffcb,#46ffb9,#55ffaa,#7eff81,#90ff6f,#82ff7d,#7bff84,#7bff84,#74ff8b,#3dffc2,#27ffd8,#3fffc0,#55ffaa,#62ff9d,#6dff92,#8cff73,#9fff60,#86ff79,#66ff99,#68ff97,#7aff85,#8bff74,#8aff75,#96ff69,#94ff6b,#8cff73,#acff53,#a9ff56,#75ff8a,#5cffa3,#69ff96,#82ff7d,#99ff66,#baff45,#bfff40,#afff50,#a0ff5f,#9dff62,#91ff6e,#73ff8c,#68ff97,#6aff95,#73ff8c,#acff53,#d5ff2a,#a5ff5a,#69ff96,#4dffb2,#4bffb4,#50ffaf,#71ff8e,#87ff78,#89ff76,#88ff77,#86ff79,#80ff7f,#6cff93,#65ff9a,#75ff8a,#8cff73,#a7ff58,#a4ff5b,#94ff6b,#88ff77,#80ff7f,#99ff66,#b8ff47,#d6ff29,#ceff31,#a2ff5d,#71ff8e,#4cffb3,#38ffc7,#47ffb8,#8fff70,#e0ff1f,#fff800)}
.c79{background:linear-gradient(90deg,#ffe800,#eeff11,#b7ff48,#80ff7f,#57ffa8,#3affc5,#34ffcb,#42ffbd,#48ffb7,#40ffbf,#3bffc4,#40ffbf,#6bff94,#8aff75,#7dff82,#6eff91,#68ff97,#6eff91,#47ffb8,#2dffd2,#46ffb9,#4effb1,#50ffaf,#61ff9e,#85ff7a,#9fff60,#95ff6a,#7cff83,#75ff8a,#79ff86,#7cff83,#76ff89,#82ff7d,#8cff73,#88ff77,#adff52,#b6ff49,#77ff88,#56ffa9,#66ff99,#72ff8d,#8bff74,#b7ff48,#c6ff39,#beff41,#a9ff56,#91ff6e,#86ff79,#74ff8b,#6eff91,#77ff88,#79ff86,#a2ff5d,#d4ff2b,#b0ff4f,#74ff8b,#52ffad,#54ffab,#5affa5,#6fff90,#7cff83,#78ff87,#7dff82,#87ff78,#8cff73,#7aff85,#6eff91,#76ff89,#87ff78,#9dff62,#a2ff5d,#98ff67,#97ff68,#95ff6a,#abff54,#bcff43,#c3ff3c,#afff50,#82ff7d,#4affb5,#25ffda,#32ffcd,#76ff89,#dcff23,#ffd500,#ffd300)}
.c80{background:linear-gradient(90deg,#ffea00,#d8ff27,#a9ff56,#89ff76,#71ff8e,#61ff9e,#64ff9b,#6cff93,#62ff9d,#49ffb6,#32ffcd,#2bffd4,#4fffb0,#76ff89,#70ff8f,#61ff9e,#56ffa9,#61ff9e,#4cffb3,#30ffcf,#46ffb9,#4cffb3,#42ffbd,#57ffa8,#7fff80,#99ff66,#98ff67,#8cff73,#84ff7b,#7fff80,#7bff84,#6eff91,#71ff8e,#7dff82,#79ff86,#9dff62,#bdff42,#80ff7f,#51ffae,#6aff95,#70ff8f,#7dff82,#afff50,#c1ff3e,#b9ff46,#a5ff5a,#80ff7f,#77ff88,#79ff86,#7aff85,#86ff79,#88ff77,#9eff61,#cbff34,#b5ff4a,#7cff83,#58ffa7,#5bffa4,#68ff97,#71ff8e,#75ff8a,#66ff99,#6dff92,#80ff7f,#94ff6b,#90ff6f,#81ff7e,#79ff86,#7cff83,#8bff74,#97ff68,#9aff65,#a5ff5a,#abff54,#b9ff46,#baff45,#afff50,#8eff71,#5fffa0,#2cffd3,#10ffef,#3cffc3,#a3ff5c,#ffec00,#ffb400,#ffd100)}
.c81{background:linear-gradient(90deg,#faff05,#bdff42,#a2ff5d,#92ff6d,#81ff7e,#73ff8c,#79ff86,#7fff80,#67ff98,#4bffb4,#31ffce,#1fffe0,#34ffcb,#5dffa2,#64ff9b,#64ff9b,#66ff99,#6fff90,#5bffa4,#32ffcd,#3affc5,#43ffbc,#38ffc7,#50ffaf,#79ff86,#8dff72,#8dff72,#8cff73,#8aff75,#85ff7a,#82ff7d,#75ff8a,#69ff96,#6dff92,#65ff9a,#7dff82,#b0ff4f,#89ff76,#51ffae,#6fff90,#7aff85,#73ff8c,#a2ff5d,#b7ff48,#abff54,#98ff67,#72ff8d,#6aff95,#7eff81,#89ff76,#94ff6b,#97ff68,#a2ff5d,#c4ff3b,#b6ff49,#83ff7c,#5fffa0,#61ff9e,#76ff89,#77ff88,#74ff8b,#5effa1,#60ff9f,#74ff8b,#8fff70,#a1ff5e,#9aff65,#85ff7a,#73ff8c,#76ff89,#85ff7a,#98ff67,#b1ff4e,#beff41,#c0ff3f,#afff50,#99ff66,#70ff8f,#37ffc8,#14ffeb,#12ffed,#56ffa9,#c7ff38,#ffd900,#ffbf00,#ffed00)}
.c82{background:linear-gradient(90deg,#d5ff2a,#a7ff58,#a1ff5e,#9cff63,#8eff71,#7bff84,#7bff84,#80ff7f,#60ff9f,#45ffba,#36ffc9,#24ffdb,#28ffd7,#4affb5,#6eff91,#95ff6a,#bfff40,#c4ff3b,#8fff70,#42ffbd,#29ffd6,#31ffce,#2dffd2,#4bffb4,#76ff89,#81ff7e,#7aff85,#7eff81,#84ff7b,#85ff7a,#8cff73,#87ff78,#6eff91,#62ff9d,#58ffa7,#5effa1,#95ff6a,#8cff73,#54ffab,#75ff8a,#8bff74,#72ff8d,#90ff6f,#abff54,#9fff60,#8dff72,#6cff93,#68ff97,#86ff79,#99ff66,#a0ff5f,#9eff61,#a7ff58,#c1ff3e,#b6ff49,#8aff75,#67ff98,#64ff9b,#7eff81,#80ff7f,#78ff87,#65ff9a,#5fffa0,#6cff93,#7fff80,#a4ff5b,#b1ff4e,#97ff68,#72ff8d,#65ff9a,#73ff8c,#93ff6c,#b9ff46,#caff35,#bfff40,#9dff62,#81ff7e,#56ffa9,#13ffec,#03fffc,#25ffda,#79ff86,#e0ff1f,#ffe300,#ffeb00,#e3ff1c)}
.c83{background:linear-gradient(90deg,#afff50,#98ff67,#a4ff5b,#a4ff5b,#99ff66,#85ff7a,#7aff85,#7bff84,#59ffa6,#3dffc2,#3cffc3,#34ffcb,#32ffcd,#45ffba,#85ff7a,#e1ff1e,#ffc400,#ffbe00,#d8ff27,#59ffa6,#1dffe2,#1dffe2,#23ffdc,#45ffba,#72ff8d,#78ff87,#6aff95,#6eff91,#78ff87,#7fff80,#92ff6d,#9eff61,#7fff80,#5effa1,#56ffa9,#4fffb0,#79ff86,#89ff76,#5cffa3,#79ff86,#9bff64,#78ff87,#7fff80,#9cff63,#99ff66,#8aff75,#72ff8d,#72ff8d,#94ff6b,#a8ff57,#aaff55,#9fff60,#a5ff5a,#c0ff3f,#b6ff49,#91ff6e,#6fff90,#65ff9a,#80ff7f,#8aff75,#7dff82,#74ff8b,#70ff8f,#70ff8f,#6dff92,#98ff67,#baff45,#a4ff5b,#77ff88,#5cffa3,#67ff98,#8fff70,#bcff43,#ccff33,#baff45,#8cff73,#68ff97,#3fffc0,#00fdff,#00feff,#41ffbe,#9dff62,#edff12,#fffe00,#dcff23,#b3ff4c)}
.c84{background:linear-gradient(90deg,#8fff70,#8eff71,#a9ff56,#a9ff56,#a3ff5c,#9cff63,#89ff76,#7eff81,#5cffa3,#3bffc4,#3fffc0,#45ffba,#47ffb8,#49ffb6,#84ff7b,#f0ff0f,#ffae00,#ffa700,#dfff20,#55ffaa,#15ffea,#16ffe9,#20ffdf,#41ffbe,#6dff92,#73ff8c,#64ff9b,#66ff99,#71ff8e,#7aff85,#95ff6a,#b2ff4d,#9bff64,#63ff9c,#59ffa6,#53ffac,#6bff94,#8aff75,#69ff96,#7bff84,#a5ff5a,#84ff7b,#75ff8a,#8cff73,#95ff6a,#90ff6f,#80ff7f,#83ff7c,#a5ff5a,#b6ff49,#b2ff4d,#9eff61,#9cff63,#bcff43,#b6ff49,#94ff6b,#75ff8a,#67ff98,#7dff82,#91ff6e,#85ff7a,#81ff7e,#88ff77,#80ff7f,#64ff9b,#84ff7b,#b6ff49,#a5ff5a,#7aff85,#5bffa4,#62ff9d,#8dff72,#bbff44,#c3ff3c,#b1ff4e,#84ff7b,#57ffa8,#2fffd0,#00fcff,#0bfff4,#60ff9f,#baff45,#edff12,#e3ff1c,#b5ff4a,#90ff6f)}
.c85{background:linear-gradient(90deg,#7cff83,#86ff79,#b0ff4f,#b4ff4b,#b1ff4e,#c2ff3d,#b4ff4b,#97ff68,#6fff90,#47ffb8,#43ffbc,#4effb1,#58ffa7,#4effb1,#5fffa0,#a5ff5a,#deff21,#e2ff1d,#90ff6f,#2dffd2,#0dfff2,#21ffde,#30ffcf,#47ffb8,#6cff93,#72ff8d,#66ff99,#6bff94,#77ff88,#7dff82,#9aff65,#c2ff3d,#b9ff46,#76ff89,#5effa1,#60ff9f,#6cff93,#90ff6f,#7bff84,#7dff82,#a6ff59,#92ff6d,#76ff89,#80ff7f,#90ff6f,#98ff67,#92ff6d,#93ff6c,#b2ff4d,#c1ff3e,#b5ff4a,#9cff63,#93ff6c,#b6ff49,#b6ff49,#93ff6c,#79ff86,#6cff93,#7cff83,#97ff68,#91ff6e,#89ff76,#9bff64,#95ff6a,#68ff97,#75ff8a,#acff53,#9fff60,#78ff87,#5dffa2,#62ff9d,#8cff73,#b9ff46,#b4ff4b,#9fff60,#81ff7e,#56ffa9,#2effd1,#0efff1,#27ffd8,#7cff83,#cbff34,#e4ff1b,#ccff33,#a5ff5a,#84ff7b)}
.c86{background:linear-gradient(90deg,#77ff88,#80ff7f,#b7ff48,#c8ff37,#c5ff3a,#ecff13,#f2ff0d,#c4ff3b,#8fff70,#63ff9c,#4fffb0,#52ffad,#60ff9f,#55ffaa,#3dffc2,#52ffad,#64ff9b,#5fffa0,#3cffc3,#0afff5,#0bfff4,#36ffc9,#4fffb0,#5bffa4,#72ff8d,#75ff8a,#6fff90,#7bff84,#89ff76,#88ff77,#a1ff5e,#ceff31,#d3ff2c,#91ff6e,#68ff97,#6dff92,#75ff8a,#98ff67,#90ff6f,#80ff7f,#a0ff5f,#9dff62,#80ff7f,#7cff83,#8aff75,#9cff63,#a0ff5f,#9dff62,#b6ff49,#c6ff39,#b3ff4c,#98ff67,#8dff72,#b0ff4f,#b6ff49,#8fff70,#79ff86,#74ff8b,#81ff7e,#9dff62,#a1ff5e,#92ff6d,#a3ff5c,#a5ff5a,#73ff8c,#6fff90,#a4ff5b,#9bff64,#76ff89,#60ff9f,#64ff9b,#8aff75,#b6ff49,#a6ff59,#84ff7b,#7aff85,#62ff9d,#40ffbf,#2cffd3,#49ffb6,#8fff70,#cbff34,#d6ff29,#bcff43,#a5ff5a,#8bff74)}
.c87{background:linear-gradient(90deg,#7aff85,#7bff84,#b8ff47,#d9ff26,#d1ff2e,#feff01,#ffe000,#f0ff0f,#b0ff4f,#86ff79,#65ff9a,#58ffa7,#66ff99,#60ff9f,#38ffc7,#2cffd3,#31ffce,#22ffdd,#18ffe7,#05fffa,#12ffed,#4affb5,#70ff8f,#75ff8a,#7fff80,#7fff80,#7bff84,#8dff72,#9fff60,#97ff68,#a6ff59,#d4ff2b,#e0ff1f,#aaff55,#79ff86,#78ff87,#7cff83,#9aff65,#9dff62,#84ff7b,#98ff67,#a8ff57,#91ff6e,#81ff7e,#87ff78,#9bff64,#a9ff56,#a0ff5f,#afff50,#c2ff3d,#adff52,#91ff6e,#89ff76,#a9ff56,#b1ff4e,#86ff79,#74ff8b,#7eff81,#8bff74,#a1ff5e,#aeff51,#9cff63,#a2ff5d,#a8ff57,#7eff81,#72ff8d,#a3ff5c,#9fff60,#7cff83,#68ff97,#69ff96,#85ff7a,#b1ff4e,#a2ff5d,#6eff91,#6dff92,#70ff8f,#5dffa2,#4effb1,#67ff98,#97ff68,#bcff43,#c4ff3b,#b2ff4d,#a7ff58,#95ff6a)}
.c88{background:linear-gradient(90deg,#7eff81,#77ff88,#afff50,#d9ff26,#c6ff39,#e4ff1b,#ffe300,#fffc00,#c6ff39,#a3ff5c,#82ff7d,#64ff9b,#6eff91,#6eff91,#46ffb9,#2bffd4,#2cffd3,#18ffe7,#14ffeb,#16ffe9,#22ffdd,#56ffa9,#82ff7d,#88ff77,#89ff76,#89ff76,#87ff78,#9cff63,#afff50,#a3ff5c,#a8ff57,#d0ff2f,#dfff20,#b4ff4b,#89ff76,#85ff7a,#80ff7f,#94ff6b,#9eff61,#86ff79,#91ff6e,#b0ff4f,#a6ff59,#8cff73,#89ff76,#9aff65,#acff53,#a0ff5f,#9eff61,#b1ff4e,#a4ff5b,#89ff76,#84ff7b,#9eff61,#a6ff59,#79ff86,#6aff95,#84ff7b,#95ff6a,#a2ff5d,#b2ff4d,#a4ff5b,#9eff61,#a3ff5c,#82ff7d,#74ff8b,#a3ff5c,#a7ff58,#89ff76,#74ff8b,#70ff8f,#83ff7c,#a9ff56,#a6ff59,#68ff97,#61ff9e,#79ff86,#76ff89,#69ff96,#79ff86,#95ff6a,#a5ff5a,#afff50,#aaff55,#a3ff5c,#97ff68)}
.c89{background:linear-gradient(90deg,#7dff82,#75ff8a,#a2ff5d,#ccff33,#b2ff4d,#b5ff4a,#f6ff09,#fbff04,#d2ff2d,#b7ff48,#9eff61,#77ff88,#79ff86,#7eff81,#59ffa6,#3affc5,#38ffc7,#20ffdf,#1affe5,#2dffd2,#37ffc8,#5affa5,#81ff7e,#8bff74,#89ff76,#8dff72,#90ff6f,#a4ff5b,#b5ff4a,#a7ff58,#a6ff59,#c4ff3b,#d0ff2f,#aeff51,#92ff6d,#96ff69,#87ff78,#89ff76,#96ff69,#83ff7c,#87ff78,#b3ff4c,#b9ff46,#99ff66,#8eff71,#9bff64,#adff52,#9fff60,#89ff76,#94ff6b,#97ff68,#83ff7c,#7eff81,#90ff6f,#95ff6a,#68ff97,#59ffa6,#81ff7e,#9cff63,#9fff60,#abff54,#a5ff5a,#9eff61,#9dff62,#83ff7c,#74ff8b,#9dff62,#aaff55,#93ff6c,#7fff80,#77ff88,#86ff79,#9fff60,#a7ff58,#72ff8d,#5fffa0,#7aff85,#83ff7c,#75ff8a,#7cff83,#8eff71,#92ff6d,#9aff65,#a1ff5e,#9aff65,#8fff70)}
.c90{background:linear-gradient(90deg,#79ff86,#74ff8b,#97ff68,#baff45,#a3ff5c,#94ff6b,#d2ff2d,#ecff13,#d9ff26,#c6ff39,#b6ff49,#91ff6e,#89ff76,#90ff6f,#6dff92,#4dffb2,#4dffb2,#33ffcc,#20ffdf,#3dffc2,#4dffb2,#5cffa3,#74ff8b,#80ff7f,#7cff83,#85ff7a,#91ff6e,#a3ff5c,#aeff51,#a1ff5e,#a2ff5d,#b7ff48,#bcff43,#9cff63,#8dff72,#a8ff57,#99ff66,#84ff7b,#8eff71,#80ff7f,#7aff85,#abff54,#c4ff3b,#a5ff5a,#93ff6c,#9dff62,#adff52,#9fff60,#7aff85,#71ff8e,#82ff7d,#7fff80,#7cff83,#84ff7b,#84ff7b,#5bffa4,#49ffb6,#74ff8b,#98ff67,#99ff66,#9bff64,#9cff63,#9eff61,#9dff62,#86ff79,#75ff8a,#91ff6e,#a4ff5b,#93ff6c,#82ff7d,#7bff84,#8dff72,#9bff64,#a3ff5c,#81ff7e,#68ff97,#79ff86,#84ff7b,#77ff88,#74ff8b,#84ff7b,#88ff77,#8fff70,#9aff65,#94ff6b,#84ff7b)}
.c91{background:linear-gradient(90deg,#75ff8a,#73ff8c,#8eff71,#a9ff56,#99ff66,#84ff7b,#bbff44,#ddff22,#d7ff28,#cfff30,#c6ff39,#adff52,#9bff64,#a1ff5e,#81ff7e,#60ff9f,#66ff99,#4fffb0,#27ffd8,#3fffc0,#59ffa6,#60ff9f,#65ff9a,#71ff8e,#6cff93,#72ff8d,#88ff77,#99ff66,#9cff63,#8fff70,#9aff65,#adff52,#acff53,#89ff76,#80ff7f,#b5ff4a,#b8ff47,#92ff6d,#92ff6d,#83ff7c,#6eff91,#97ff68,#c0ff3f,#acff53,#9aff65,#a1ff5e,#abff54,#9fff60,#76ff89,#56ffa9,#69ff96,#7bff84,#7eff81,#7fff80,#7bff84,#5affa5,#43ffbc,#67ff98,#8bff74,#91ff6e,#8cff73,#8cff73,#9aff65,#a4ff5b,#8dff72,#77ff88,#84ff7b,#97ff68,#88ff77,#78ff87,#77ff88,#93ff6c,#9dff62,#9cff63,#8aff75,#74ff8b,#7aff85,#80ff7f,#73ff8c,#6aff95,#7dff82,#88ff77,#8eff71,#97ff68,#92ff6d,#80ff7f)}
.c92{background:linear-gradient(90deg,#76ff89,#73ff8c,#87ff78,#9aff65,#90ff6f,#7eff81,#adff52,#cdff32,#c8ff37,#ceff31,#ccff33,#c1ff3e,#aaff55,#abff54,#95ff6a,#71ff8e,#7bff84,#70ff8f,#33ffcc,#34ffcb,#55ffaa,#63ff9c,#5dffa2,#63ff9c,#62ff9d,#5cffa3,#77ff88,#8aff75,#83ff7c,#75ff8a,#8cff73,#a7ff58,#a1ff5e,#7eff81,#6fff90,#b6ff49,#d8ff27,#b0ff4f,#a4ff5b,#91ff6e,#67ff98,#7cff83,#aeff51,#acff53,#a3ff5c,#a7ff58,#a9ff56,#9cff63,#7bff84,#4effb1,#55ffaa,#76ff89,#80ff7f,#7eff81,#7bff84,#67ff98,#4fffb0,#63ff9c,#7dff82,#88ff77,#84ff7b,#7eff81,#92ff6d,#abff54,#99ff66,#79ff86,#79ff86,#8cff73,#7eff81,#69ff96,#6eff91,#93ff6c,#a5ff5a,#99ff66,#8eff71,#7dff82,#7dff82,#7fff80,#72ff8d,#63ff9c,#7aff85,#8eff71,#93ff6c,#9aff65,#94ff6b,#82ff7d)}
.c93{background:linear-gradient(90deg,#78ff87,#76ff89,#82ff7d,#90ff6f,#89ff76,#7aff85,#a1ff5e,#bdff42,#abff54,#baff45,#c7ff38,#c7ff38,#b1ff4e,#a7ff58,#9eff61,#82ff7d,#86ff79,#8cff73,#46ffb9,#27ffd8,#45ffba,#62ff9d,#5fffa0,#58ffa7,#60ff9f,#4fffb0,#62ff9d,#7aff85,#6aff95,#58ffa7,#79ff86,#a0ff5f,#9bff64,#79ff86,#64ff9b,#a9ff56,#e8ff17,#d1ff2e,#bfff40,#a5ff5a,#69ff96,#65ff9a,#95ff6a,#a3ff5c,#aaff55,#b1ff4e,#a8ff57,#98ff67,#85ff7a,#5dffa2,#51ffae,#71ff8e,#80ff7f,#7bff84,#7dff82,#7eff81,#6bff94,#6fff90,#78ff87,#81ff7e,#84ff7b,#7dff82,#8dff72,#adff52,#a4ff5b,#7dff82,#72ff8d,#87ff78,#7cff83,#60ff9f,#65ff9a,#8fff70,#abff54,#9dff62,#8fff70,#81ff7e,#81ff7e,#85ff7a,#7aff85,#64ff9b,#78ff87,#95ff6a,#9aff65,#9cff63,#94ff6b,#82ff7d)}
.c94{background:linear-gradient(90deg,#73ff8c,#79ff86,#83ff7c,#8cff73,#8aff75,#7fff80,#98ff67,#abff54,#89ff76,#97ff68,#b5ff4a,#beff41,#acff53,#9bff64,#99ff66,#8fff70,#8dff72,#99ff66,#5dffa2,#22ffdd,#36ffc9,#5dffa2,#69ff96,#56ffa9,#61ff9e,#52ffad,#53ffac,#6fff90,#5effa1,#43ffbc,#66ff99,#97ff68,#92ff6d,#77ff88,#65ff9a,#97ff68,#e0ff1f,#e3ff1c,#d7ff28,#baff45,#72ff8d,#56ffa9,#7cff83,#91ff6e,#abff54,#bdff42,#acff53,#97ff68,#90ff6f,#7aff85,#62ff9d,#73ff8c,#7eff81,#73ff8c,#79ff86,#91ff6e,#8cff73,#85ff7a,#80ff7f,#81ff7e,#8bff74,#89ff76,#91ff6e,#abff54,#aaff55,#81ff7e,#6fff90,#87ff78,#85ff7a,#62ff9d,#5effa1,#88ff77,#aaff55,#a2ff5d,#93ff6c,#81ff7e,#83ff7c,#8fff70,#8cff73,#71ff8e,#7aff85,#9dff62,#a3ff5c,#9cff63,#8fff70,#7cff83)}
.c95{background:linear-gradient(90deg,#66ff99,#77ff88,#88ff77,#8dff72,#90ff6f,#8fff70,#96ff69,#97ff68,#6aff95,#6eff91,#9bff64,#aaff55,#9cff63,#8bff74,#8dff72,#92ff6d,#91ff6e,#99ff66,#70ff8f,#28ffd7,#2effd1,#58ffa7,#75ff8a,#63ff9c,#66ff99,#60ff9f,#52ffad,#6cff93,#63ff9c,#40ffbf,#5affa5,#8fff70,#89ff76,#72ff8d,#6eff91,#8dff72,#c6ff39,#ddff22,#e0ff1f,#c9ff36,#7eff81,#54ffab,#6dff92,#7fff80,#a1ff5e,#c6ff39,#b6ff49,#9eff61,#9fff60,#99ff66,#81ff7e,#7fff80,#7fff80,#6bff94,#6dff92,#97ff68,#a6ff59,#9bff64,#91ff6e,#8aff75,#94ff6b,#9aff65,#9fff60,#abff54,#a9ff56,#86ff79,#73ff8c,#8dff72,#94ff6b,#70ff8f,#5bffa4,#7bff84,#a3ff5c,#a2ff5d,#96ff69,#80ff7f,#82ff7d,#97ff68,#a4ff5b,#8eff71,#85ff7a,#a5ff5a,#afff50,#9eff61,#89ff76,#72ff8d)}
.c96{background:linear-gradient(90deg,#5bffa4,#6dff92,#8bff74,#8eff71,#93ff6c,#9fff60,#9fff60,#88ff77,#53ffac,#50ffaf,#84ff7b,#97ff68,#86ff79,#7bff84,#84ff7b,#8fff70,#92ff6d,#91ff6e,#7aff85,#37ffc8,#2fffd0,#56ffa9,#7fff80,#7aff85,#71ff8e,#72ff8d,#61ff9e,#75ff8a,#77ff88,#53ffac,#5cffa3,#8cff73,#85ff7a,#6bff94,#7aff85,#8fff70,#a7ff58,#c1ff3e,#d6ff29,#cfff30,#8cff73,#5dffa2,#71ff8e,#79ff86,#93ff6c,#c8ff37,#c2ff3d,#abff54,#b2ff4d,#b3ff4c,#a3ff5c,#95ff6a,#84ff7b,#68ff97,#61ff9e,#8eff71,#b1ff4e,#a9ff56,#a0ff5f,#98ff67,#9dff62,#a7ff58,#aeff51,#afff50,#a5ff5a,#8aff75,#7bff84,#95ff6a,#a4ff5b,#84ff7b,#5fffa0,#6bff94,#94ff6b,#9dff62,#97ff68,#7fff80,#7dff82,#98ff67,#b5ff4a,#b3ff4c,#9eff61,#afff50,#baff45,#a3ff5c,#85ff7a,#6dff92)}
.c97{background:linear-gradient(90deg,#5cffa3,#62ff9d,#88ff77,#8dff72,#8dff72,#a2ff5d,#aaff55,#82ff7d,#44ffbb,#42ffbd,#7cff83,#90ff6f,#74ff8b,#69ff96,#7dff82,#89ff76,#8eff71,#87ff78,#7bff84,#49ffb6,#35ffca,#58ffa7,#81ff7e,#91ff6e,#84ff7b,#84ff7b,#79ff86,#89ff76,#91ff6e,#72ff8d,#6aff95,#8fff70,#8bff74,#6cff93,#82ff7d,#98ff67,#91ff6e,#9bff64,#baff45,#c7ff38,#99ff66,#6dff92,#84ff7b,#88ff77,#8bff74,#c0ff3f,#c9ff36,#b5ff4a,#c2ff3d,#c4ff3b,#bbff44,#adff52,#8eff71,#6cff93,#5dffa2,#7eff81,#acff53,#aeff51,#a5ff5a,#a2ff5d,#a4ff5b,#b1ff4e,#baff45,#b8ff47,#a4ff5b,#8aff75,#82ff7d,#99ff66,#adff52,#95ff6a,#6bff94,#60ff9f,#82ff7d,#92ff6d,#93ff6c,#7eff81,#77ff88,#91ff6e,#b9ff46,#d3ff2c,#c0ff3f,#bcff43,#c1ff3e,#a9ff56,#86ff79,#6fff90)}
.c98{background:linear-gradient(90deg,#69ff96,#5fffa0,#80ff7f,#89ff76,#81ff7e,#93ff6c,#a8ff57,#83ff7c,#3dffc2,#3effc1,#80ff7f,#9bff64,#72ff8d,#5affa5,#72ff8d,#80ff7f,#85ff7a,#7fff80,#76ff89,#5bffa4,#40ffbf,#5bffa4,#7eff81,#9bff64,#96ff69,#94ff6b,#92ff6d,#a2ff5d,#aaff55,#8dff72,#7fff80,#93ff6c,#93ff6c,#75ff8a,#88ff77,#9eff61,#83ff7c,#7aff85,#93ff6c,#b1ff4e,#9fff60,#7eff81,#9cff63,#a8ff57,#93ff6c,#b4ff4b,#c5ff3a,#b3ff4c,#c5ff3a,#c8ff37,#c3ff3c,#c0ff3f,#9cff63,#73ff8c,#63ff9c,#70ff8f,#99ff66,#a9ff56,#a0ff5f,#a0ff5f,#a4ff5b,#b7ff48,#c7ff38,#c5ff3a,#a8ff57,#85ff7a,#81ff7e,#94ff6b,#aaff55,#9bff64,#7aff85,#64ff9b,#73ff8c,#85ff7a,#8dff72,#7bff84,#70ff8f,#87ff78,#acff53,#ddff22,#dbff24,#c9ff36,#c2ff3d,#a7ff58,#86ff79,#77ff88)}
.c99{background:linear-gradient(90deg,#7aff85,#68ff97,#75ff8a,#81ff7e,#75ff8a,#7aff85,#94ff6b,#81ff7e,#3dffc2,#3dffc2,#85ff7a,#aeff51,#87ff78,#57ffa8,#63ff9c,#70ff8f,#77ff88,#7bff84,#71ff8e,#66ff99,#4fffb0,#62ff9d,#79ff86,#95ff6a,#9dff62,#9eff61,#a6ff59,#b5ff4a,#baff45,#9aff65,#8fff70,#97ff68,#95ff6a,#80ff7f,#8cff73,#9eff61,#7cff83,#68ff97,#74ff8b,#92ff6d,#9aff65,#89ff76,#abff54,#c7ff38,#aaff55,#aeff51,#b9ff46,#a3ff5c,#b6ff49,#beff41,#b9ff46,#c4ff3b,#a9ff56,#7cff83,#6dff92,#6cff93,#81ff7e,#9aff65,#96ff69,#93ff6c,#9aff65,#b5ff4a,#d3ff2c,#d3ff2c,#afff50,#80ff7f,#78ff87,#88ff77,#9cff63,#95ff6a,#82ff7d,#75ff8a,#71ff8e,#7aff85,#86ff79,#77ff88,#68ff97,#7bff84,#98ff67,#cdff32,#deff21,#cdff32,#bcff43,#9dff62,#7fff80,#7aff85)}
.c100{background:linear-gradient(90deg,#85ff7a,#79ff86,#6dff92,#75ff8a,#6dff92,#65ff9a,#78ff87,#77ff88,#3fffc0,#3affc5,#83ff7c,#bbff44,#a8ff57,#6bff94,#59ffa6,#5effa1,#66ff99,#78ff87,#6fff90,#68ff97,#5cffa3,#6cff93,#7aff85,#86ff79,#97ff68,#a0ff5f,#b4ff4b,#bfff40,#bbff44,#96ff69,#90ff6f,#98ff67,#8eff71,#83ff7c,#8bff74,#98ff67,#77ff88,#62ff9d,#68ff97,#76ff89,#8bff74,#88ff77,#a9ff56,#d3ff2c,#c4ff3b,#b2ff4d,#afff50,#8fff70,#99ff66,#a8ff57,#a4ff5b,#b9ff46,#b0ff4f,#84ff7b,#77ff88,#73ff8c,#70ff8f,#84ff7b,#89ff76,#83ff7c,#8aff75,#a9ff56,#d6ff29,#dbff24,#b6ff49,#7cff83,#6fff90,#7cff83,#8bff74,#88ff77,#7dff82,#86ff79,#7fff80,#77ff88,#81ff7e,#74ff8b,#62ff9d,#74ff8b,#84ff7b,#adff52,#c7ff38,#c1ff3e,#b3ff4c,#90ff6f,#72ff8d,#78ff87)}
.c101{background:linear-gradient(90deg,#87ff78,#88ff77,#6dff92,#65ff9a,#67ff98,#5affa5,#64ff9b,#6cff93,#45ffba,#38ffc7,#78ff87,#b5ff4a,#c0ff3f,#93ff6c,#63ff9c,#52ffad,#56ffa9,#71ff8e,#72ff8d,#64ff9b,#61ff9e,#73ff8c,#81ff7e,#7dff82,#89ff76,#99ff66,#baff45,#c4ff3b,#b4ff4b,#87ff78,#83ff7c,#96ff69,#87ff78,#7dff82,#86ff79,#90ff6f,#75ff8a,#65ff9a,#6eff91,#6dff92,#79ff86,#7eff81,#98ff67,#c7ff38,#d2ff2d,#bdff42,#b0ff4f,#84ff7b,#7bff84,#8dff72,#8eff71,#a6ff59,#acff53,#89ff76,#7fff80,#80ff7f,#6cff93,#70ff8f,#7aff85,#76ff89,#7cff83,#99ff66,#ccff33,#d9ff26,#b5ff4a,#7bff84,#6aff95,#76ff89,#80ff7f,#7eff81,#72ff8d,#8eff71,#96ff69,#80ff7f,#82ff7d,#75ff8a,#62ff9d,#75ff8a,#7bff84,#8dff72,#a3ff5c,#a7ff58,#a9ff56,#8aff75,#68ff97,#71ff8e)}
.c102{background:linear-gradient(90deg,#85ff7a,#91ff6e,#74ff8b,#58ffa7,#60ff9f,#58ffa7,#5bffa4,#68ff97,#53ffac,#40ffbf,#6cff93,#a2ff5d,#c0ff3f,#b9ff46,#81ff7e,#56ffa9,#4dffb2,#67ff98,#75ff8a,#60ff9f,#5cffa3,#74ff8b,#89ff76,#82ff7d,#82ff7d,#8eff71,#b7ff48,#c6ff39,#abff54,#7bff84,#73ff8c,#90ff6f,#86ff79,#77ff88,#7fff80,#8aff75,#76ff89,#6bff94,#7eff81,#76ff89,#70ff8f,#6fff90,#7fff80,#acff53,#d0ff2f,#caff35,#bcff43,#8aff75,#66ff99,#75ff8a,#7fff80,#94ff6b,#a0ff5f,#88ff77,#84ff7b,#8cff73,#74ff8b,#69ff96,#70ff8f,#6dff92,#76ff89,#91ff6e,#bdff42,#ceff31,#aeff51,#7dff82,#6dff92,#7aff85,#80ff7f,#7dff82,#6aff95,#89ff76,#aaff55,#94ff6b,#89ff76,#7eff81,#6aff95,#7fff80,#7eff81,#76ff89,#80ff7f,#88ff77,#9eff61,#90ff6f,#67ff98,#6cff93)}
.c103{background:linear-gradient(90deg,#85ff7a,#96ff69,#81ff7e,#53ffac,#57ffa8,#59ffa6,#59ffa6,#6bff94,#67ff98,#56ffa9,#6bff94,#8eff71,#aaff55,#c9ff36,#a4ff5b,#65ff9a,#51ffae,#5effa1,#72ff8d,#5fffa0,#52ffad,#6cff93,#8aff75,#90ff6f,#8aff75,#8aff75,#acff53,#c2ff3d,#a7ff58,#7aff85,#6bff94,#89ff76,#88ff77,#76ff89,#7aff85,#86ff79,#7bff84,#74ff8b,#8eff71,#8aff75,#75ff8a,#65ff9a,#69ff96,#8eff71,#c1ff3e,#d1ff2e,#cbff34,#9eff61,#63ff9c,#67ff98,#79ff86,#8aff75,#91ff6e,#81ff7e,#84ff7b,#94ff6b,#7fff80,#70ff8f,#6fff90,#68ff97,#73ff8c,#94ff6b,#b4ff4b,#c2ff3d,#a7ff58,#83ff7c,#79ff86,#85ff7a,#8aff75,#87ff78,#6cff93,#7fff80,#b1ff4e,#a9ff56,#95ff6a,#89ff76,#7bff84,#8fff70,#8bff74,#6cff93,#68ff97,#6cff93,#8eff71,#9cff63,#75ff8a,#6dff92)}
.c104{background:linear-gradient(90deg,#8aff75,#9cff63,#91ff6e,#5dffa2,#4effb1,#57ffa8,#56ffa9,#6dff92,#7aff85,#74ff8b,#79ff86,#85ff7a,#8fff70,#baff45,#b6ff49,#74ff8b,#5affa5,#5cffa3,#6cff93,#61ff9e,#4affb5,#5effa1,#81ff7e,#99ff66,#9bff64,#93ff6c,#a2ff5d,#b6ff49,#a1ff5e,#80ff7f,#70ff8f,#83ff7c,#89ff76,#7aff85,#79ff86,#83ff7c,#80ff7f,#7dff82,#9aff65,#a0ff5f,#86ff79,#66ff99,#5bffa4,#75ff8a,#a9ff56,#cdff32,#d3ff2c,#b6ff49,#73ff8c,#66ff99,#7cff83,#88ff77,#87ff78,#78ff87,#7eff81,#94ff6b,#87ff78,#7eff81,#7bff84,#69ff96,#6fff90,#98ff67,#b4ff4b,#bcff43,#a5ff5a,#8cff73,#8cff73,#95ff6a,#97ff68,#96ff69,#77ff88,#78ff87,#abff54,#b4ff4b,#a0ff5f,#92ff6d,#8dff72,#a1ff5e,#9aff65,#6dff92,#5dffa2,#5affa5,#79ff86,#a2ff5d,#8eff71,#79ff86)}
.c105{background:linear-gradient(90deg,#95ff6a,#a3ff5c,#9eff61,#71ff8e,#4dffb2,#4effb1,#4cffb3,#65ff9a,#82ff7d,#8dff72,#90ff6f,#8bff74,#7eff81,#9cff63,#adff52,#7aff85,#5fffa0,#5fffa0,#65ff9a,#62ff9d,#47ffb8,#4effb1,#6fff90,#95ff6a,#a7ff58,#a2ff5d,#9eff61,#a7ff58,#97ff68,#82ff7d,#7bff84,#82ff7d,#86ff79,#7dff82,#78ff87,#80ff7f,#84ff7b,#83ff7c,#a1ff5e,#b2ff4d,#9dff62,#72ff8d,#58ffa7,#65ff9a,#8cff73,#baff45,#cdff32,#c4ff3b,#90ff6f,#75ff8a,#85ff7a,#8eff71,#86ff79,#72ff8d,#72ff8d,#8bff74,#89ff76,#8cff73,#8fff70,#73ff8c,#6bff94,#97ff68,#b8ff47,#bfff40,#acff53,#98ff67,#a1ff5e,#aaff55,#a5ff5a,#a5ff5a,#89ff76,#77ff88,#9dff62,#adff52,#a2ff5d,#94ff6b,#97ff68,#adff52,#a6ff59,#74ff8b,#5bffa4,#56ffa9,#66ff99,#9bff64,#a4ff5b,#8eff71)}
.c106{background:linear-gradient(90deg,#a5ff5a,#abff54,#a5ff5a,#86ff79,#59ffa6,#47ffb8,#3dffc2,#53ffac,#7cff83,#99ff66,#a2ff5d,#96ff69,#7dff82,#83ff7c,#95ff6a,#75ff8a,#5effa1,#60ff9f,#62ff9d,#63ff9c,#48ffb7,#41ffbe,#5bffa4,#85ff7a,#a1ff5e,#a8ff57,#9bff64,#99ff66,#8bff74,#7aff85,#7fff80,#82ff7d,#7cff83,#76ff89,#76ff89,#7fff80,#89ff76,#8aff75,#a1ff5e,#bcff43,#b3ff4c,#87ff78,#5fffa0,#62ff9d,#72ff8d,#99ff66,#b7ff48,#c1ff3e,#acff53,#8eff71,#90ff6f,#95ff6a,#8dff72,#75ff8a,#66ff99,#7bff84,#87ff78,#96ff69,#a5ff5a,#86ff79,#6dff92,#90ff6f,#b6ff49,#c4ff3b,#b9ff46,#a5ff5a,#b0ff4f,#bfff40,#b7ff48,#b0ff4f,#9aff65,#7cff83,#8eff71,#9aff65,#96ff69,#8bff74,#92ff6d,#acff53,#a7ff58,#7aff85,#5effa1,#5bffa4,#5dffa2,#8aff75,#abff54,#a3ff5c)}
.c107{background:linear-gradient(90deg,#b0ff4f,#b2ff4d,#a6ff59,#93ff6c,#6fff90,#4effb1,#32ffcd,#3effc1,#6fff90,#9bff64,#abff54,#9eff61,#85ff7a,#7dff82,#80ff7f,#6cff93,#5dffa2,#5fffa0,#63ff9c,#67ff98,#4dffb2,#38ffc7,#49ffb6,#71ff8e,#8eff71,#9fff60,#95ff6a,#8eff71,#85ff7a,#6dff92,#79ff86,#81ff7e,#6fff90,#66ff99,#6fff90,#80ff7f,#93ff6c,#94ff6b,#9eff61,#bdff42,#c3ff3c,#9cff63,#6bff94,#68ff97,#67ff98,#78ff87,#97ff68,#b0ff4f,#bbff44,#a8ff57,#9bff64,#9aff65,#97ff68,#7eff81,#5fffa0,#68ff97,#80ff7f,#9dff62,#b9ff46,#a0ff5f,#7bff84,#8bff74,#b1ff4e,#c6ff39,#c6ff39,#afff50,#b4ff4b,#cdff32,#cdff32,#bdff42,#a8ff57,#87ff78,#83ff7c,#82ff7d,#7fff80,#7dff82,#80ff7f,#9cff63,#9bff64,#78ff87,#5cffa3,#5effa1,#5cffa3,#79ff86,#9fff60,#a8ff57)}
.c108{background:linear-gradient(90deg,#acff53,#b1ff4e,#a2ff5d,#94ff6b,#81ff7e,#67ff98,#39ffc6,#31ffce,#63ff9c,#99ff66,#b0ff4f,#a2ff5d,#8eff71,#85ff7a,#7bff84,#66ff99,#60ff9f,#64ff9b,#69ff96,#70ff8f,#55ffaa,#34ffcb,#3bffc4,#64ff9b,#7bff84,#90ff6f,#8eff71,#85ff7a,#86ff79,#68ff97,#6fff90,#7eff81,#61ff9e,#50ffaf,#62ff9d,#81ff7e,#a3ff5c,#a4ff5b,#9aff65,#b5ff4a,#c9ff36,#aeff51,#79ff86,#72ff8d,#6dff92,#67ff98,#7bff84,#9bff64,#beff41,#baff45,#a3ff5c,#9cff63,#a1ff5e,#8bff74,#5effa1,#58ffa7,#77ff88,#a0ff5f,#c8ff37,#bdff42,#95ff6a,#90ff6f,#abff54,#c3ff3c,#cbff34,#b4ff4b,#afff50,#ceff31,#dfff20,#ceff31,#b6ff49,#95ff6a,#7fff80,#70ff8f,#66ff99,#6cff93,#6aff95,#7fff80,#84ff7b,#6aff95,#52ffad,#55ffaa,#5bffa4,#6cff93,#88ff77,#98ff67)}
.c109{background:linear-gradient(90deg,#95ff6a,#a3ff5c,#97ff68,#8bff74,#82ff7d,#81ff7e,#57ffa8,#34ffcb,#5affa5,#97ff68,#b5ff4a,#a8ff57,#96ff69,#92ff6d,#83ff7c,#69ff96,#67ff98,#6fff90,#74ff8b,#80ff7f,#65ff9a,#3bffc4,#36ffc9,#5effa1,#72ff8d,#87ff78,#91ff6e,#82ff7d,#8aff75,#6fff90,#6cff93,#7eff81,#58ffa7,#3cffc3,#54ffab,#80ff7f,#b0ff4f,#b3ff4c,#97ff68,#a7ff58,#c5ff3a,#b8ff47,#87ff78,#7bff84,#7bff84,#6bff94,#6fff90,#8bff74,#bcff43,#c4ff3b,#a8ff57,#9dff62,#a8ff57,#98ff67,#64ff9b,#50ffaf,#6eff91,#a0ff5f,#d1ff2e,#d6ff29,#b8ff47,#a3ff5c,#aaff55,#bcff43,#c6ff39,#b2ff4d,#a4ff5b,#c4ff3b,#e5ff1a,#dcff23,#c1ff3e,#a3ff5c,#82ff7d,#65ff9a,#53ffac,#5fffa0,#5cffa3,#62ff9d,#6aff95,#57ffa8,#41ffbe,#42ffbd,#51ffae,#60ff9f,#71ff8e,#7bff84)}
.c110{background:linear-gradient(90deg,#74ff8b,#87ff78,#82ff7d,#7eff81,#76ff89,#89ff76,#7dff82,#49ffb6,#54ffab,#92ff6d,#baff45,#b5ff4a,#9fff60,#99ff66,#8dff72,#73ff8c,#71ff8e,#7eff81,#80ff7f,#91ff6e,#7dff82,#4effb1,#3bffc4,#5dffa2,#71ff8e,#85ff7a,#9eff61,#8cff73,#8dff72,#7eff81,#72ff8d,#81ff7e,#57ffa8,#32ffcd,#4cffb3,#7fff80,#b4ff4b,#baff45,#94ff6b,#96ff69,#b6ff49,#b8ff47,#90ff6f,#84ff7b,#87ff78,#7aff85,#73ff8c,#85ff7a,#baff45,#c9ff36,#abff54,#9dff62,#adff52,#a7ff58,#72ff8d,#52ffad,#6bff94,#9eff61,#d1ff2e,#e4ff1b,#d8ff27,#bfff40,#b0ff4f,#b4ff4b,#b8ff47,#aaff55,#9aff65,#b5ff4a,#dbff24,#ddff22,#c5ff3a,#adff52,#8aff75,#64ff9b,#4affb5,#58ffa7,#5bffa4,#50ffaf,#55ffaa,#48ffb7,#30ffcf,#2dffd2,#41ffbe,#55ffaa,#60ff9f,#61ff9e)}
.c111{background:linear-gradient(90deg,#5cffa3,#66ff99,#64ff9b,#6eff91,#67ff98,#7cff83,#93ff6c,#67ff98,#4fffb0,#83ff7c,#b8ff47,#c2ff3d,#acff53,#9aff65,#8cff73,#7cff83,#7cff83,#8bff74,#8bff74,#9eff61,#9aff65,#6eff91,#4effb1,#61ff9e,#72ff8d,#83ff7c,#acff53,#9eff61,#8eff71,#88ff77,#7dff82,#84ff7b,#5dffa2,#33ffcc,#51ffae,#82ff7d,#aeff51,#b3ff4c,#8eff71,#88ff77,#a0ff5f,#adff52,#92ff6d,#88ff77,#8fff70,#87ff78,#7fff80,#85ff7a,#b9ff46,#ccff33,#abff54,#99ff66,#afff50,#b7ff48,#89ff76,#60ff9f,#6fff90,#9eff61,#ccff33,#e2ff1d,#e7ff18,#daff25,#bdff42,#afff50,#a6ff59,#9bff64,#91ff6e,#a7ff58,#c8ff37,#d0ff2f,#bdff42,#adff52,#94ff6b,#6aff95,#48ffb7,#55ffaa,#64ff9b,#51ffae,#4effb1,#45ffba,#28ffd7,#20ffdf,#35ffca,#4effb1,#59ffa6,#54ffab)}
.c112{background:linear-gradient(90deg,#56ffa9,#4cffb3,#44ffbb,#5cffa3,#60ff9f,#68ff97,#8eff71,#7cff83,#4fffb0,#6cff93,#abff54,#c6ff39,#b8ff47,#9bff64,#7eff81,#7aff85,#85ff7a,#95ff6a,#93ff6c,#a6ff59,#b4ff4b,#92ff6d,#6aff95,#6cff93,#74ff8b,#7dff82,#aeff51,#afff50,#8fff70,#8aff75,#85ff7a,#86ff79,#65ff9a,#3cffc3,#5effa1,#8cff73,#a5ff5a,#a1ff5e,#85ff7a,#81ff7e,#87ff78,#96ff69,#8cff73,#87ff78,#92ff6d,#92ff6d,#8dff72,#8aff75,#b6ff49,#cdff32,#a9ff56,#90ff6f,#a9ff56,#c5ff3a,#a5ff5a,#77ff88,#79ff86,#a1ff5e,#c6ff39,#d2ff2d,#dfff20,#e7ff18,#caff35,#b1ff4e,#98ff67,#8aff75,#89ff76,#9bff64,#b4ff4b,#bcff43,#afff50,#a6ff59,#9bff64,#75ff8a,#49ffb6,#51ffae,#6fff90,#60ff9f,#57ffa8,#50ffaf,#2effd1,#1fffe0,#34ffcb,#50ffaf,#5fffa0,#59ffa6)}
.c113{background:linear-gradient(90deg,#63ff9c,#44ffbb,#2effd1,#4dffb2,#61ff9e,#60ff9f,#79ff86,#7dff82,#53ffac,#58ffa7,#95ff6a,#bdff42,#b6ff49,#98ff67,#68ff97,#64ff9b,#83ff7c,#9bff64,#9bff64,#a8ff57,#c5ff3a,#b2ff4d,#86ff79,#7aff85,#78ff87,#75ff8a,#a2ff5d,#b4ff4b,#8fff70,#83ff7c,#87ff78,#85ff7a,#6cff93,#47ffb8,#6cff93,#9cff63,#a1ff5e,#90ff6f,#7cff83,#84ff7b,#77ff88,#78ff87,#7fff80,#80ff7f,#8fff70,#99ff66,#9eff61,#95ff6a,#b2ff4d,#caff35,#a7ff58,#86ff79,#9cff63,#c9ff36,#c0ff3f,#92ff6d,#85ff7a,#a5ff5a,#c4ff3b,#bfff40,#c4ff3b,#ddff22,#d0ff2f,#b7ff48,#95ff6a,#7fff80,#82ff7d,#8fff70,#a1ff5e,#abff54,#a4ff5b,#9eff61,#9eff61,#82ff7d,#4dffb2,#49ffb6,#73ff8c,#76ff89,#6dff92,#65ff9a,#40ffbf,#2cffd3,#3dffc2,#5cffa3,#6eff91,#6cff93)}
.c114{background:linear-gradient(90deg,#7cff83,#50ffaf,#28ffd7,#48ffb7,#69ff96,#69ff96,#6bff94,#6cff93,#53ffac,#4effb1,#7eff81,#a9ff56,#a5ff5a,#8bff74,#55ffaa,#43ffbc,#6eff91,#98ff67,#a0ff5f,#a6ff59,#caff35,#c5ff3a,#9aff65,#8aff75,#82ff7d,#74ff8b,#92ff6d,#afff50,#8fff70,#7aff85,#85ff7a,#81ff7e,#71ff8e,#53ffac,#73ff8c,#a9ff56,#a3ff5c,#85ff7a,#74ff8b,#8cff73,#76ff89,#5cffa3,#6bff94,#77ff88,#86ff79,#99ff66,#b0ff4f,#abff54,#b5ff4a,#c6ff39,#a7ff58,#81ff7e,#8eff71,#c2ff3d,#d0ff2f,#a8ff57,#90ff6f,#a6ff59,#c3ff3c,#b1ff4e,#a2ff5d,#c2ff3d,#cbff34,#bcff43,#9aff65,#7dff82,#80ff7f,#86ff79,#8eff71,#9cff63,#9fff60,#9cff63,#a0ff5f,#91ff6e,#59ffa6,#44ffbb,#71ff8e,#87ff78,#88ff77,#7fff80,#58ffa7,#40ffbf,#4dffb2,#6aff95,#82ff7d,#86ff79)}
.c115{background:linear-gradient(90deg,#99ff66,#69ff96,#36ffc9,#4dffb2,#75ff8a,#7cff83,#74ff8b,#5dffa2,#4bffb4,#4cffb3,#6dff92,#94ff6b,#8bff74,#74ff8b,#48ffb7,#29ffd6,#50ffaf,#8aff75,#a2ff5d,#a1ff5e,#c1ff3e,#c8ff37,#a3ff5c,#96ff69,#91ff6e,#7fff80,#89ff76,#a4ff5b,#8fff70,#73ff8c,#81ff7e,#7dff82,#70ff8f,#5dffa2,#72ff8d,#abff54,#aaff55,#83ff7c,#6fff90,#92ff6d,#85ff7a,#50ffaf,#57ffa8,#6fff90,#7cff83,#90ff6f,#baff45,#c7ff38,#c1ff3e,#c6ff39,#abff54,#85ff7a,#88ff77,#b2ff4d,#cbff34,#b0ff4f,#96ff69,#a5ff5a,#c1ff3e,#aaff55,#85ff7a,#9eff61,#baff45,#baff45,#9fff60,#84ff7b,#84ff7b,#81ff7e,#7dff82,#8dff72,#9dff62,#a0ff5f,#a2ff5d,#9fff60,#6eff91,#4bffb4,#6dff92,#90ff6f,#9fff60,#97ff68,#6dff92,#53ffac,#5dffa2,#78ff87,#93ff6c,#a0ff5f)}
.c116{background:linear-gradient(90deg,#b2ff4d,#86ff79,#50ffaf,#5affa5,#82ff7d,#8dff72,#8cff73,#61ff9e,#41ffbe,#4affb5,#66ff99,#87ff78,#75ff8a,#59ffa6,#42ffbd,#24ffdb,#3dffc2,#79ff86,#a0ff5f,#9bff64,#afff50,#bcff43,#a0ff5f,#9aff65,#a0ff5f,#94ff6b,#8eff71,#9dff62,#91ff6e,#71ff8e,#7dff82,#78ff87,#67ff98,#61ff9e,#6eff91,#a0ff5f,#aeff51,#8bff74,#72ff8d,#95ff6a,#99ff66,#5affa5,#4cffb3,#68ff97,#76ff89,#85ff7a,#b7ff48,#dbff24,#d3ff2c,#caff35,#b4ff4b,#91ff6e,#8bff74,#a2ff5d,#b5ff4a,#a5ff5a,#94ff6b,#a5ff5a,#beff41,#a7ff58,#71ff8e,#7eff81,#a4ff5b,#b0ff4f,#9bff64,#89ff76,#8fff70,#86ff79,#75ff8a,#7fff80,#97ff68,#a6ff59,#a5ff5a,#a8ff57,#85ff7a,#5cffa3,#71ff8e,#91ff6e,#acff53,#abff54,#7dff82,#60ff9f,#69ff96,#81ff7e,#9bff64,#b2ff4d)}
.c117{background:linear-gradient(90deg,#c2ff3d,#a1ff5e,#6eff91,#69ff96,#8cff73,#97ff68,#9fff60,#74ff8b,#40ffbf,#46ffb9,#64ff9b,#86ff79,#6dff92,#44ffbb,#3fffc0,#30ffcf,#3dffc2,#6fff90,#9bff64,#98ff67,#99ff66,#a6ff59,#94ff6b,#93ff6c,#a6ff59,#aaff55,#a0ff5f,#9eff61,#96ff69,#71ff8e,#76ff89,#73ff8c,#59ffa6,#5bffa4,#6aff95,#8fff70,#abff54,#99ff66,#81ff7e,#99ff66,#a7ff58,#72ff8d,#4effb1,#63ff9c,#74ff8b,#7cff83,#aaff55,#e1ff1e,#e3ff1c,#ccff33,#bcff43,#a3ff5c,#97ff68,#99ff66,#9aff65,#8fff70,#8cff73,#a5ff5a,#bbff44,#a5ff5a,#67ff98,#66ff99,#90ff6f,#a2ff5d,#8fff70,#86ff79,#9bff64,#95ff6a,#79ff86,#76ff89,#8cff73,#a8ff57,#abff54,#aeff51,#97ff68,#70ff8f,#7aff85,#8fff70,#abff54,#b5ff4a,#89ff76,#65ff9a,#6cff93,#84ff7b,#9aff65,#b6ff49)}
.c118{background:linear-gradient(90deg,#c0ff3f,#b3ff4c,#88ff77,#74ff8b,#8eff71,#99ff66,#a0ff5f,#85ff7a,#4cffb3,#44ffbb,#63ff9c,#8dff72,#78ff87,#3dffc2,#3bffc4,#3fffc0,#4affb5,#71ff8e,#96ff69,#9aff65,#8bff74,#8cff73,#85ff7a,#85ff7a,#9dff62,#b4ff4b,#b4ff4b,#aaff55,#a0ff5f,#74ff8b,#6bff94,#6aff95,#4dffb2,#4fffb0,#65ff9a,#83ff7c,#a4ff5b,#a7ff58,#98ff67,#a6ff59,#b0ff4f,#8eff71,#5effa1,#61ff9e,#76ff89,#78ff87,#9dff62,#d9ff26,#e9ff16,#ccff33,#bdff42,#b5ff4a,#a8ff57,#9dff62,#8cff73,#7cff83,#83ff7c,#a6ff59,#b7ff48,#9fff60,#66ff99,#59ffa6,#81ff7e,#95ff6a,#81ff7e,#79ff86,#9eff61,#a8ff57,#89ff76,#76ff89,#80ff7f,#a1ff5e,#b0ff4f,#b3ff4c,#a2ff5d,#7cff83,#83ff7c,#90ff6f,#a2ff5d,#b1ff4e,#90ff6f,#67ff98,#69ff96,#80ff7f,#91ff6e,#aaff55)}
.c119{background:linear-gradient(90deg,#aaff55,#b7ff48,#9aff65,#76ff89,#86ff79,#96ff69,#93ff6c,#82ff7d,#5affa5,#4affb5,#64ff9b,#96ff69,#90ff6f,#47ffb8,#3affc5,#46ffb9,#53ffac,#77ff88,#93ff6c,#9bff64,#89ff76,#76ff89,#76ff89,#79ff86,#8bff74,#adff52,#c0ff3f,#bbff44,#afff50,#7aff85,#5effa1,#5bffa4,#43ffbc,#46ffb9,#61ff9e,#7eff81,#9fff60,#aeff51,#adff52,#bbff44,#bcff43,#a7ff58,#75ff8a,#63ff9c,#7bff84,#7aff85,#92ff6d,#caff35,#e4ff1b,#c7ff38,#b5ff4a,#beff41,#bbff44,#aaff55,#94ff6b,#7cff83,#80ff7f,#a5ff5a,#b3ff4c,#98ff67,#67ff98,#55ffaa,#78ff87,#8dff72,#78ff87,#69ff96,#92ff6d,#b1ff4e,#9bff64,#7eff81,#77ff88,#94ff6b,#b0ff4f,#b8ff47,#adff52,#84ff7b,#86ff79,#92ff6d,#9aff65,#a4ff5b,#91ff6e,#6cff93,#67ff98,#7bff84,#84ff7b,#92ff6d)}
.c120{background:linear-gradient(90deg,#86ff79,#a7ff58,#a0ff5f,#72ff8d,#74ff8b,#8eff71,#86ff79,#70ff8f,#5dffa2,#55ffaa,#66ff99,#99ff66,#a7ff58,#60ff9f,#3fffc0,#48ffb7,#50ffaf,#76ff89,#8fff70,#98ff67,#8eff71,#6dff92,#6aff95,#76ff89,#7fff80,#9eff61,#beff41,#c4ff3b,#beff41,#86ff79,#56ffa9,#4affb5,#3cffc3,#47ffb8,#63ff9c,#7dff82,#9cff63,#aeff51,#b7ff48,#ceff31,#cdff32,#bbff44,#8dff72,#68ff97,#83ff7c,#82ff7d,#8aff75,#baff45,#d7ff28,#bfff40,#a7ff58,#b8ff47,#c7ff38,#bcff43,#aaff55,#92ff6d,#87ff78,#a3ff5c,#b0ff4f,#93ff6c,#68ff97,#56ffa9,#73ff8c,#89ff76,#76ff89,#5effa1,#7aff85,#a6ff59,#a5ff5a,#88ff77,#76ff89,#85ff7a,#abff54,#bdff42,#b7ff48,#8eff71,#84ff7b,#92ff6d,#99ff66,#9aff65,#8eff71,#73ff8c,#69ff96,#7bff84,#7bff84,#78ff87)}
.c121{background:linear-gradient(90deg,#63ff9c,#8aff75,#9dff62,#6aff95,#5bffa4,#80ff7f,#80ff7f,#5dffa2,#53ffac,#5dffa2,#6cff93,#94ff6b,#b3ff4c,#7cff83,#50ffaf,#4effb1,#4affb5,#69ff96,#88ff77,#90ff6f,#91ff6e,#72ff8d,#67ff98,#7dff82,#83ff7c,#96ff69,#b4ff4b,#c1ff3e,#c4ff3b,#93ff6c,#58ffa7,#3effc1,#35ffca,#4fffb0,#6eff91,#7fff80,#97ff68,#a8ff57,#b1ff4e,#d1ff2e,#ddff22,#cdff32,#a4ff5b,#71ff8e,#89ff76,#8cff73,#84ff7b,#a8ff57,#c3ff3c,#b3ff4c,#9aff65,#a8ff57,#c4ff3b,#c8ff37,#bfff40,#b0ff4f,#98ff67,#9dff62,#a9ff56,#92ff6d,#6dff92,#5affa5,#71ff8e,#87ff78,#79ff86,#5cffa3,#63ff9c,#8bff74,#9eff61,#8eff71,#7cff83,#7cff83,#a2ff5d,#c2ff3d,#bfff40,#9aff65,#84ff7b,#8eff71,#9cff63,#99ff66,#8cff73,#7cff83,#6fff90,#82ff7d,#7eff81,#68ff97)}
.c122{background:linear-gradient(90deg,#54ffab,#6bff94,#95ff6a,#69ff96,#45ffba,#6dff92,#80ff7f,#5affa5,#48ffb7,#5fffa0,#72ff8d,#8bff74,#afff50,#8fff70,#64ff9b,#5effa1,#4dffb2,#5affa5,#7cff83,#84ff7b,#8aff75,#7dff82,#6fff90,#86ff79,#95ff6a,#9dff62,#adff52,#b6ff49,#beff41,#9cff63,#64ff9b,#40ffbf,#30ffcf,#57ffa8,#82ff7d,#85ff7a,#8eff71,#9eff61,#a1ff5e,#bfff40,#e3ff1c,#ddff22,#b9ff46,#80ff7f,#8dff72,#95ff6a,#80ff7f,#98ff67,#adff52,#a5ff5a,#92ff6d,#97ff68,#b3ff4c,#c8ff37,#c7ff38,#c2ff3d,#abff54,#97ff68,#9bff64,#91ff6e,#77ff88,#61ff9e,#6eff91,#83ff7c,#7cff83,#61ff9e,#56ffa9,#70ff8f,#8cff73,#8cff73,#83ff7c,#7bff84,#98ff67,#c8ff37,#c8ff37,#a3ff5c,#86ff79,#89ff76,#9dff62,#9eff61,#8fff70,#84ff7b,#76ff89,#8cff73,#8eff71,#6bff94)}
.c123{background:linear-gradient(90deg,#5dffa2,#5affa5,#8bff74,#73ff8c,#3cffc3,#5bffa4,#7fff80,#63ff9c,#49ffb6,#61ff9e,#78ff87,#83ff7c,#a2ff5d,#94ff6b,#6eff91,#6fff90,#5effa1,#56ffa9,#72ff8d,#7bff84,#7cff83,#85ff7a,#7fff80,#8fff70,#a7ff58,#aeff51,#aeff51,#abff54,#b1ff4e,#9dff62,#76ff89,#52ffad,#34ffcb,#59ffa6,#95ff6a,#91ff6e,#83ff7c,#90ff6f,#90ff6f,#9fff60,#d7ff28,#e8ff17,#c9ff36,#93ff6c,#92ff6d,#99ff66,#7eff81,#8cff73,#9aff65,#97ff68,#8dff72,#8dff72,#a0ff5f,#bbff44,#c0ff3f,#bfff40,#b6ff49,#97ff68,#8aff75,#8bff74,#83ff7c,#6fff90,#6eff91,#7dff82,#7eff81,#6bff94,#56ffa9,#5fffa0,#7cff83,#87ff78,#8aff75,#81ff7e,#91ff6e,#c9ff36,#d0ff2f,#a6ff59,#89ff76,#86ff79,#9aff65,#a1ff5e,#94ff6b,#8aff75,#7bff84,#95ff6a,#a7ff58,#80ff7f)}
.c124{background:linear-gradient(90deg,#77ff88,#5bffa4,#7fff80,#83ff7c,#48ffb7,#53ffac,#7cff83,#70ff8f,#55ffaa,#67ff98,#81ff7e,#80ff7f,#93ff6c,#8cff73,#65ff9a,#72ff8d,#77ff88,#63ff9c,#71ff8e,#78ff87,#70ff8f,#87ff78,#95ff6a,#95ff6a,#aeff51,#bcff43,#b3ff4c,#a4ff5b,#a4ff5b,#98ff67,#84ff7b,#6fff90,#46ffb9,#55ffaa,#99ff66,#9bff64,#79ff86,#7fff80,#84ff7b,#81ff7e,#bcff43,#e6ff19,#d2ff2d,#a6ff59,#9aff65,#9dff62,#7fff80,#86ff79,#90ff6f,#8bff74,#88ff77,#88ff77,#95ff6a,#adff52,#b0ff4f,#a9ff56,#b2ff4d,#9eff61,#82ff7d,#84ff7b,#8eff71,#85ff7a,#77ff88,#76ff89,#7fff80,#77ff88,#62ff9d,#5affa5,#71ff8e,#87ff78,#94ff6b,#8dff72,#8dff72,#c0ff3f,#d4ff2b,#a6ff59,#8bff74,#88ff77,#93ff6c,#9eff61,#98ff67,#8dff72,#7aff85,#97ff68,#c1ff3e,#a2ff5d)}
.c125{background:linear-gradient(90deg,#97ff68,#6bff94,#74ff8b,#8eff71,#63ff9c,#5affa5,#7bff84,#78ff87,#61ff9e,#71ff8e,#8cff73,#83ff7c,#86ff79,#7dff82,#4dffb2,#5effa1,#87ff78,#7cff83,#7eff81,#7fff80,#6dff92,#86ff79,#acff53,#9eff61,#a7ff58,#beff41,#b6ff49,#a0ff5f,#9dff62,#93ff6c,#88ff77,#89ff76,#63ff9c,#54ffab,#8bff74,#9bff64,#73ff8c,#6fff90,#7dff82,#70ff8f,#9fff60,#d9ff26,#cfff30,#b3ff4c,#a7ff58,#a3ff5c,#85ff7a,#86ff79,#8fff70,#85ff7a,#81ff7e,#85ff7a,#93ff6c,#a4ff5b,#9eff61,#8eff71,#a2ff5d,#a6ff59,#86ff79,#81ff7e,#96ff69,#9dff62,#8bff74,#76ff89,#7dff82,#85ff7a,#76ff89,#5fffa0,#69ff96,#89ff76,#a4ff5b,#9eff61,#8bff74,#adff52,#cbff34,#a6ff59,#8eff71,#8fff70,#8cff73,#92ff6d,#9aff65,#91ff6e,#76ff89,#90ff6f,#cfff30,#c3ff3c)}
.c126{background:linear-gradient(90deg,#b3ff4c,#82ff7d,#70ff8f,#8eff71,#7eff81,#6fff90,#82ff7d,#7fff80,#6aff95,#77ff88,#96ff69,#87ff78,#75ff8a,#63ff9c,#35ffca,#41ffbe,#85ff7a,#8fff70,#92ff6d,#8fff70,#73ff8c,#86ff79,#bdff42,#afff50,#9dff62,#b5ff4a,#b2ff4d,#9dff62,#9cff63,#96ff69,#86ff79,#96ff69,#85ff7a,#60ff9f,#75ff8a,#8aff75,#6eff91,#65ff9a,#78ff87,#6dff92,#8cff73,#c8ff37,#c4ff3b,#b4ff4b,#b0ff4f,#aaff55,#92ff6d,#8cff73,#93ff6c,#87ff78,#7dff82,#82ff7d,#96ff69,#a1ff5e,#8fff70,#79ff86,#8dff72,#a7ff58,#90ff6f,#82ff7d,#99ff66,#adff52,#a1ff5e,#7dff82,#7bff84,#8fff70,#8eff71,#6dff92,#63ff9c,#86ff79,#b3ff4c,#b1ff4e,#8aff75,#93ff6c,#b7ff48,#a4ff5b,#93ff6c,#9bff64,#8bff74,#80ff7f,#96ff69,#98ff67,#76ff89,#86ff79,#d0ff2f,#daff25)}
.c127{background:linear-gradient(90deg,#c5ff3a,#9bff64,#7bff84,#90ff6f,#9aff65,#8fff70,#94ff6b,#89ff76,#72ff8d,#79ff86,#9bff64,#83ff7c,#54ffab,#3bffc4,#2cffd3,#36ffc9,#70ff8f,#8eff71,#9fff60,#a3ff5c,#7dff82,#85ff7a,#c0ff3f,#c2ff3d,#a0ff5f,#abff54,#aaff55,#9aff65,#a0ff5f,#a2ff5d,#86ff79,#96ff69,#a2ff5d,#7aff85,#69ff96,#72ff8d,#6aff95,#63ff9c,#76ff89,#72ff8d,#85ff7a,#bcff43,#bbff44,#adff52,#afff50,#a9ff56,#9dff62,#97ff68,#97ff68,#8fff70,#83ff7c,#86ff79,#9dff62,#a3ff5c,#86ff79,#6cff93,#7cff83,#9fff60,#94ff6b,#81ff7e,#95ff6a,#aeff51,#adff52,#87ff78,#79ff86,#90ff6f,#9fff60,#82ff7d,#64ff9b,#7cff83,#b6ff49,#bdff42,#8aff75,#79ff86,#9aff65,#9dff62,#95ff6a,#a6ff59,#90ff6f,#71ff8e,#8aff75,#a0ff5f,#7fff80,#83ff7c,#caff35,#e2ff1d)}
.c128{background:linear-gradient(90deg,#ccff33,#b7ff48,#a4ff5b,#baff45,#d5ff2a,#c4ff3b,#b1ff4e,#96ff69,#7bff84,#78ff87,#95ff6a,#6eff91,#1fffe0,#0cfff3,#36ffc9,#49ffb6,#5bffa4,#79ff86,#9bff64,#b0ff4f,#8aff75,#83ff7c,#b2ff4d,#c8ff37,#b0ff4f,#acff53,#a5ff5a,#97ff68,#a5ff5a,#b1ff4e,#8fff70,#8eff71,#b2ff4d,#9bff64,#71ff8e,#65ff9a,#6dff92,#6cff93,#78ff87,#7aff85,#86ff79,#b6ff49,#b9ff46,#aaff55,#a6ff59,#9dff62,#9dff62,#a4ff5b,#9dff62,#9bff64,#98ff67,#94ff6b,#a7ff58,#abff54,#83ff7c,#67ff98,#73ff8c,#91ff6e,#8dff72,#7bff84,#89ff76,#9eff61,#a7ff58,#8cff73,#79ff86,#89ff76,#a1ff5e,#94ff6b,#72ff8d,#76ff89,#aaff55,#bcff43,#87ff78,#63ff9c,#7cff83,#92ff6d,#91ff6e,#a6ff59,#98ff67,#6bff94,#7cff83,#a4ff5b,#90ff6f,#88ff77,#c5ff3a,#e3ff1c)}
.c129{background:linear-gradient(90deg,#d0ff2f,#ddff22,#fffe00,#ffd000,#ffbe00,#fffa00,#c5ff3a,#98ff67,#7fff80,#77ff88,#81ff7e,#4bffb4,#00ebff,#00ecff,#49ffb6,#6eff91,#58ffa7,#61ff9e,#88ff77,#b0ff4f,#95ff6a,#84ff7b,#9dff62,#b9ff46,#bfff40,#baff45,#a8ff57,#96ff69,#a8ff57,#bbff44,#9bff64,#86ff79,#b4ff4b,#b6ff49,#87ff78,#6bff94,#79ff86,#81ff7e,#81ff7e,#83ff7c,#8aff75,#b0ff4f,#b9ff46,#afff50,#a2ff5d,#8dff72,#8eff71,#acff53,#a7ff58,#a3ff5c,#b2ff4d,#adff52,#b2ff4d,#b4ff4b,#87ff78,#65ff9a,#70ff8f,#80ff7f,#7bff84,#70ff8f,#7dff82,#84ff7b,#8fff70,#89ff76,#7bff84,#80ff7f,#92ff6d,#98ff67,#88ff77,#7cff83,#99ff66,#acff53,#7cff83,#4fffb0,#62ff9d,#85ff7a,#87ff78,#98ff67,#98ff67,#70ff8f,#78ff87,#a5ff5a,#a0ff5f,#92ff6d,#c2ff3d,#e5ff1a)}
.c130{background:linear-gradient(90deg,#d8ff27,#fff600,#ff9b00,#ff6500,#ff8200,#fff500,#aaff55,#7aff85,#6fff90,#73ff8c,#67ff98,#2affd5,#00daff,#00edff,#55ffaa,#8eff71,#6dff92,#5affa5,#73ff8c,#a1ff5e,#9cff63,#8cff73,#8fff70,#9eff61,#bfff40,#cbff34,#b4ff4b,#9bff64,#acff53,#bcff43,#a1ff5e,#81ff7e,#aaff55,#c2ff3d,#9aff65,#78ff87,#8aff75,#9bff64,#91ff6e,#8fff70,#90ff6f,#a8ff57,#b1ff4e,#b3ff4c,#a9ff56,#84ff7b,#79ff86,#a8ff57,#b7ff48,#a9ff56,#c4ff3b,#c6ff39,#bbff44,#baff45,#92ff6d,#67ff98,#70ff8f,#74ff8b,#66ff99,#65ff9a,#76ff89,#6dff92,#6fff90,#7eff81,#7fff80,#7bff84,#7cff83,#89ff76,#98ff67,#90ff6f,#92ff6d,#9bff64,#6fff90,#3cffc3,#4affb5,#79ff86,#80ff7f,#81ff7e,#8bff74,#7cff83,#87ff78,#adff52,#a9ff56,#96ff69,#beff41,#edff12)}
.c131{background:linear-gradient(90deg,#ddff22,#fff100,#ff9d00,#ff8a00,#ffcb00,#b9ff46,#5affa5,#37ffc8,#49ffb6,#6bff94,#57ffa8,#22ffdd,#00fdff,#0dfff2,#58ffa7,#9eff61,#94ff6b,#6eff91,#69ff96,#8dff72,#9eff61,#9aff65,#91ff6e,#89ff76,#aeff51,#ceff31,#c2ff3d,#a5ff5a,#b1ff4e,#b9ff46,#9fff60,#7dff82,#98ff67,#baff45,#9eff61,#80ff7f,#93ff6c,#aeff51,#9fff60,#9bff64,#99ff66,#a0ff5f,#a2ff5d,#acff53,#b4ff4b,#8bff74,#6bff94,#9aff65,#c4ff3b,#b1ff4e,#c6ff39,#d3ff2c,#bcff43,#b4ff4b,#9dff62,#70ff8f,#71ff8e,#72ff8d,#59ffa6,#5dffa2,#77ff88,#64ff9b,#52ffad,#6aff95,#7fff80,#7cff83,#69ff96,#73ff8c,#9bff64,#a9ff56,#99ff66,#94ff6b,#6bff94,#2fffd0,#35ffca,#6dff92,#80ff7f,#73ff8c,#77ff88,#89ff76,#a9ff56,#c0ff3f,#a9ff56,#92ff6d,#b4ff4b,#edff12)}
.c132{background:linear-gradient(90deg,#d4ff2b,#e1ff1e,#f8ff07,#e5ff1a,#a2ff5d,#43ffbc,#00f5ff,#00e9ff,#21ffde,#67ff98,#5effa1,#3bffc4,#3fffc0,#3affc5,#5bffa4,#a7ff58,#beff41,#93ff6c,#6cff93,#7cff83,#9dff62,#a9ff56,#a2ff5d,#86ff79,#9cff63,#c4ff3b,#c7ff38,#b2ff4d,#b9ff46,#b7ff48,#98ff67,#77ff88,#83ff7c,#a6ff59,#93ff6c,#7bff84,#8dff72,#acff53,#a1ff5e,#9eff61,#a1ff5e,#9bff64,#95ff6a,#9dff62,#b9ff46,#9fff60,#6dff92,#89ff76,#c7ff38,#bcff43,#bdff42,#ceff31,#b4ff4b,#a4ff5b,#a0ff5f,#81ff7e,#78ff87,#7bff84,#5effa1,#5bffa4,#7bff84,#69ff96,#44ffbb,#55ffaa,#78ff87,#80ff7f,#62ff9d,#60ff9f,#95ff6a,#bcff43,#a9ff56,#98ff67,#75ff8a,#31ffce,#25ffda,#60ff9f,#84ff7b,#78ff87,#72ff8d,#99ff66,#d0ff2f,#d7ff28,#a6ff59,#8aff75,#a5ff5a,#d7ff28)}
.c133{background:linear-gradient(90deg,#c0ff3f,#a9ff56,#81ff7e,#48ffb7,#0cfff3,#00cfff,#00b1ff,#00c3ff,#12ffed,#6dff92,#7cff83,#68ff97,#7dff82,#67ff98,#6bff94,#b8ff47,#dfff20,#b0ff4f,#76ff89,#73ff8c,#9aff65,#b3ff4c,#b6ff49,#97ff68,#95ff6a,#b5ff4a,#c3ff3c,#bbff44,#bfff40,#b7ff48,#91ff6e,#70ff8f,#6eff91,#8dff72,#84ff7b,#6eff91,#7eff81,#99ff66,#92ff6d,#8fff70,#9eff61,#96ff69,#8bff74,#91ff6e,#b4ff4b,#b2ff4d,#7dff82,#80ff7f,#bdff42,#c6ff39,#b6ff49,#beff41,#a8ff57,#90ff6f,#97ff68,#92ff6d,#85ff7a,#88ff77,#71ff8e,#64ff9b,#7eff81,#75ff8a,#44ffbb,#43ffbc,#6bff94,#83ff7c,#68ff97,#5bffa4,#8fff70,#c6ff39,#b9ff46,#9fff60,#8aff75,#48ffb7,#21ffde,#52ffad,#85ff7a,#90ff6f,#90ff6f,#b3ff4c,#e7ff18,#e1ff1e,#a4ff5b,#82ff7d,#96ff69,#b8ff47)}
.c134{background:linear-gradient(90deg,#a3ff5c,#68ff97,#0cfff3,#00b3ff,#0091ff,#0095ff,#00bfff,#00e7ff,#23ffdc,#77ff88,#9eff61,#93ff6c,#a4ff5b,#92ff6d,#8eff71,#d2ff2d,#ebff14,#b7ff48,#80ff7f,#73ff8c,#97ff68,#b6ff49,#c0ff3f,#aeff51,#9dff62,#abff54,#b9ff46,#bdff42,#c2ff3d,#b3ff4c,#8bff74,#6bff94,#5cffa3,#74ff8b,#77ff88,#62ff9d,#6dff92,#84ff7b,#7dff82,#73ff8c,#8aff75,#8dff72,#82ff7d,#8eff71,#aeff51,#bbff44,#91ff6e,#80ff7f,#adff52,#c8ff37,#b8ff47,#afff50,#9bff64,#80ff7f,#87ff78,#9bff64,#97ff68,#93ff6c,#89ff76,#76ff89,#80ff7f,#7cff83,#4dffb2,#38ffc7,#5dffa2,#83ff7c,#77ff88,#66ff99,#8dff72,#c4ff3b,#c0ff3f,#9fff60,#9aff65,#6dff92,#2fffd0,#49ffb6,#87ff78,#b5ff4a,#c9ff36,#cfff30,#e2ff1d,#d7ff28,#a1ff5e,#7dff82,#88ff77,#94ff6b)}
.c135{background:linear-gradient(90deg,#71ff8e,#0ffff0,#00a3ff,#005fff,#0078ff,#00bfff,#1cffe3,#45ffba,#4cffb3,#84ff7b,#b9ff46,#b1ff4e,#baff45,#bdff42,#bdff42,#e4ff1b,#dfff20,#aaff55,#83ff7c,#77ff88,#95ff6a,#b4ff4b,#b8ff47,#baff45,#acff53,#aaff55,#aeff51,#baff45,#bfff40,#abff54,#86ff79,#6bff94,#55ffaa,#60ff9f,#70ff8f,#5fffa0,#61ff9e,#74ff8b,#6dff92,#59ffa6,#6cff93,#82ff7d,#7aff85,#8fff70,#adff52,#baff45,#a0ff5f,#87ff78,#9eff61,#c0ff3f,#bdff42,#a9ff56,#92ff6d,#79ff86,#7bff84,#9aff65,#a7ff58,#99ff66,#94ff6b,#8aff75,#85ff7a,#7bff84,#55ffaa,#33ffcc,#50ffaf,#81ff7e,#86ff79,#7dff82,#94ff6b,#bcff43,#bcff43,#99ff66,#9cff63,#92ff6d,#4fffb0,#4effb1,#95ff6a,#dfff20,#fffe00,#dcff23,#c8ff37,#bfff40,#98ff67,#78ff87,#72ff8d,#60ff9f)}
.c136{background:linear-gradient(90deg,#3effc1,#00cbff,#008bff,#008bff,#00d5ff,#31ffce,#8fff70,#b9ff46,#91ff6e,#9aff65,#c8ff37,#c4ff3b,#c8ff37,#e3ff1c,#e5ff1a,#e2ff1d,#c5ff3a,#97ff68,#7fff80,#7bff84,#96ff69,#b2ff4d,#a7ff58,#b2ff4d,#b6ff49,#adff52,#a5ff5a,#b1ff4e,#b9ff46,#9eff61,#81ff7e,#70ff8f,#5effa1,#5affa5,#6dff92,#65ff9a,#5cffa3,#6dff92,#69ff96,#4cffb3,#51ffae,#75ff8a,#76ff89,#8cff73,#b1ff4e,#b8ff47,#a7ff58,#90ff6f,#92ff6d,#b0ff4f,#bbff44,#a9ff56,#93ff6c,#7cff83,#79ff86,#97ff68,#b1ff4e,#9bff64,#8dff72,#92ff6d,#8bff74,#76ff89,#57ffa8,#32ffcd,#44ffbb,#7cff83,#8fff70,#94ff6b,#a1ff5e,#b2ff4d,#aeff51,#8eff71,#93ff6c,#abff54,#7bff84,#69ff96,#b8ff47,#fff700,#ffed00,#ceff31,#a9ff56,#a8ff57,#8fff70,#74ff8b,#59ffa6,#29ffd6)}
.c137{background:linear-gradient(90deg,#36ffc9,#00dcff,#00ddff,#1affe5,#6bff94,#b4ff4b,#fbff04,#ffd400,#ecff13,#bbff44,#ceff31,#cfff30,#d5ff2a,#f7ff08,#f2ff0d,#cfff30,#afff50,#8dff72,#7aff85,#7fff80,#99ff66,#b7ff48,#9aff65,#9cff63,#b2ff4d,#aeff51,#9cff63,#a3ff5c,#aeff51,#91ff6e,#7dff82,#7aff85,#73ff8c,#68ff97,#70ff8f,#6fff90,#5fffa0,#68ff97,#6bff94,#4dffb2,#42ffbd,#6aff95,#7aff85,#8aff75,#b1ff4e,#b7ff48,#abff54,#98ff67,#89ff76,#9aff65,#acff53,#a3ff5c,#98ff67,#88ff77,#83ff7c,#97ff68,#b4ff4b,#9bff64,#7dff82,#8bff74,#8fff70,#73ff8c,#54ffab,#35ffca,#39ffc6,#71ff8e,#8eff71,#a1ff5e,#aeff51,#abff54,#9bff64,#81ff7e,#87ff78,#b5ff4a,#acff53,#9fff60,#e6ff19,#ffe900,#f3ff0c,#aaff55,#8eff71,#a1ff5e,#98ff67,#7fff80,#52ffad,#1bffe4)}
.c138{background:linear-gradient(90deg,#6aff95,#3cffc3,#69ff96,#beff41,#fff900,#ffc200,#ff9900,#ff7600,#ffbd00,#dcff23,#ccff33,#d6ff29,#dfff20,#ecff13,#daff25,#bcff43,#abff54,#93ff6c,#7bff84,#84ff7b,#9eff61,#bfff40,#9eff61,#87ff78,#a2ff5d,#acff53,#97ff68,#95ff6a,#a2ff5d,#85ff7a,#7aff85,#88ff77,#8cff73,#84ff7b,#7dff82,#78ff87,#68ff97,#66ff99,#6dff92,#55ffaa,#41ffbe,#64ff9b,#82ff7d,#8eff71,#abff54,#b5ff4a,#aeff51,#9fff60,#84ff7b,#84ff7b,#94ff6b,#92ff6d,#98ff67,#96ff69,#91ff6e,#9cff63,#b4ff4b,#9eff61,#72ff8d,#7dff82,#8eff71,#74ff8b,#52ffad,#3affc5,#32ffcd,#60ff9f,#86ff79,#a6ff59,#baff45,#a9ff56,#89ff76,#71ff8e,#7dff82,#b9ff46,#deff21,#e5ff1a,#fff700,#fcff03,#b7ff48,#7eff81,#82ff7d,#b8ff47,#c9ff36,#b1ff4e,#77ff88,#47ffb8)}
.c139{background:linear-gradient(90deg,#b2ff4d,#b2ff4d,#feff01,#ffa000,#ff6400,#ff3c00,#ff3b00,#ff4600,#ff9400,#eaff15,#c1ff3e,#d7ff28,#e5ff1a,#cfff30,#abff54,#a9ff56,#b1ff4e,#a3ff5c,#88ff77,#8fff70,#a6ff59,#c6ff39,#adff52,#7fff80,#8dff72,#a3ff5c,#9aff65,#8dff72,#98ff67,#7dff82,#76ff89,#94ff6b,#a2ff5d,#9fff60,#91ff6e,#7fff80,#73ff8c,#6cff93,#70ff8f,#61ff9e,#4affb5,#63ff9c,#8aff75,#98ff67,#a6ff59,#aeff51,#afff50,#a5ff5a,#85ff7a,#75ff8a,#7fff80,#7eff81,#8fff70,#9dff62,#9bff64,#a1ff5e,#b2ff4d,#a2ff5d,#73ff8c,#76ff89,#8dff72,#7aff85,#56ffa9,#42ffbd,#35ffca,#51ffae,#7aff85,#a8ff57,#c6ff39,#acff53,#7eff81,#60ff9f,#76ff89,#c3ff3c,#fff300,#ffe000,#fffa00,#c1ff3e,#74ff8b,#5cffa3,#94ff6b,#f9ff06,#ffd600,#fff600,#b9ff46,#8cff73)}
.c140{background:linear-gradient(90deg,#eeff11,#ffdc00,#ff6d00,#ff0800,#ea0000,#e50000,#ff1400,#ff5600,#ffa600,#e0ff1f,#adff52,#d0ff2f,#e9ff16,#b8ff47,#80ff7f,#93ff6c,#b2ff4d,#b1ff4e,#9aff65,#9fff60,#b0ff4f,#c7ff38,#bbff44,#86ff79,#7dff82,#94ff6b,#a0ff5f,#90ff6f,#91ff6e,#7aff85,#71ff8e,#9bff64,#b3ff4c,#afff50,#a3ff5c,#87ff78,#79ff86,#78ff87,#77ff88,#71ff8e,#59ffa6,#67ff98,#8fff70,#a4ff5b,#a6ff59,#a5ff5a,#abff54,#a9ff56,#8cff73,#71ff8e,#71ff8e,#70ff8f,#84ff7b,#9bff64,#9cff63,#a0ff5f,#acff53,#a2ff5d,#7cff83,#7cff83,#91ff6e,#85ff7a,#60ff9f,#4dffb2,#44ffbb,#4dffb2,#70ff8f,#a9ff56,#d5ff2a,#b8ff47,#7fff80,#5affa5,#75ff8a,#d5ff2a,#ffd500,#ffd200,#dfff20,#7bff84,#3cffc3,#58ffa7,#d5ff2a,#ff9800,#ff6600,#ffa300,#f5ff0a,#ccff33)}
.c141{background:linear-gradient(90deg,#ffe100,#ff7b00,#f50000,#9f0000,#bf0000,#f20000,#ff3f00,#ff9d00,#ffe200,#caff35,#9aff65,#beff41,#e7ff18,#b9ff46,#70ff8f,#7cff83,#a6ff59,#b0ff4f,#a6ff59,#adff52,#baff45,#c3ff3c,#c0ff3f,#93ff6c,#77ff88,#83ff7c,#9cff63,#97ff68,#8dff72,#79ff86,#6cff93,#98ff67,#bbff44,#b4ff4b,#a8ff57,#8cff73,#76ff89,#82ff7d,#84ff7b,#85ff7a,#6eff91,#6bff94,#8dff72,#a8ff57,#a6ff59,#9aff65,#a0ff5f,#a4ff5b,#95ff6a,#7aff85,#6bff94,#69ff96,#7cff83,#94ff6b,#98ff67,#98ff67,#a1ff5e,#9dff62,#80ff7f,#88ff77,#9eff61,#95ff6a,#72ff8d,#5cffa3,#59ffa6,#58ffa7,#6eff91,#a8ff57,#e1ff1e,#caff35,#8dff72,#66ff99,#7eff81,#e7ff18,#ffd400,#fff500,#a6ff59,#3effc1,#22ffdd,#85ff7a,#ffbc00,#ff1e00,#ff1400,#ff7d00,#ffe200,#fff600)}
.c142{background:linear-gradient(90deg,#ffbd00,#ff4400,#ce0000,#9c0000,#f90000,#ff6000,#ffa900,#fffa00,#d5ff2a,#b2ff4d,#8dff72,#a3ff5c,#daff25,#c8ff37,#7bff84,#6dff92,#90ff6f,#a1ff5e,#a3ff5c,#b2ff4d,#bfff40,#bcff43,#bcff43,#9eff61,#7bff84,#77ff88,#8dff72,#96ff69,#8aff75,#78ff87,#67ff98,#8fff70,#bbff44,#b3ff4c,#a0ff5f,#8bff74,#71ff8e,#84ff7b,#91ff6e,#98ff67,#86ff79,#6dff92,#83ff7c,#a1ff5e,#a1ff5e,#8cff73,#8dff72,#96ff69,#96ff69,#85ff7a,#6cff93,#64ff9b,#78ff87,#8cff73,#92ff6d,#91ff6e,#93ff6c,#92ff6d,#7dff82,#8eff71,#adff52,#a9ff56,#8bff74,#6fff90,#6fff90,#6dff92,#75ff8a,#a5ff5a,#e3ff1c,#d9ff26,#9fff60,#81ff7e,#96ff69,#ebff14,#fff200,#caff35,#68ff97,#1cffe3,#3effc1,#e7ff18,#ff4200,#cc0000,#ff0100,#ff8600,#ffcc00,#ffc000)}
.c143{background:linear-gradient(90deg,#ffb700,#ff5700,#ff1300,#ff0900,#ff7800,#fff300,#d7ff28,#adff52,#98ff67,#98ff67,#87ff78,#87ff78,#bfff40,#ceff31,#92ff6d,#6bff94,#7aff85,#8dff72,#94ff6b,#a8ff57,#bbff44,#b4ff4b,#b3ff4c,#a5ff5a,#85ff7a,#75ff8a,#7bff84,#88ff77,#84ff7b,#76ff89,#63ff9c,#82ff7d,#b4ff4b,#afff50,#94ff6b,#83ff7c,#6bff94,#7eff81,#99ff66,#a4ff5b,#9bff64,#71ff8e,#73ff8c,#91ff6e,#94ff6b,#7bff84,#75ff8a,#81ff7e,#8bff74,#89ff76,#6fff90,#5effa1,#71ff8e,#82ff7d,#8aff75,#8fff70,#8aff75,#86ff79,#77ff88,#8bff74,#b6ff49,#bcff43,#a6ff59,#87ff78,#81ff7e,#81ff7e,#81ff7e,#a1ff5e,#d8ff27,#dcff23,#afff50,#9fff60,#b0ff4f,#dbff24,#daff25,#86ff79,#37ffc8,#2cffd3,#9aff65,#ff9900,#ec0000,#cb0000,#ff3100,#ffac00,#ffcb00,#ffab00)}
.c144{background:linear-gradient(90deg,#ffe200,#ffaf00,#ff9f00,#ffb300,#f3ff0c,#88ff77,#68ff97,#65ff9a,#6aff95,#7eff81,#84ff7b,#71ff8e,#98ff67,#bfff40,#9eff61,#71ff8e,#6cff93,#7fff80,#86ff79,#95ff6a,#afff50,#abff54,#a6ff59,#a6ff59,#90ff6f,#7bff84,#6fff90,#73ff8c,#78ff87,#75ff8a,#62ff9d,#76ff89,#a8ff57,#abff54,#8eff71,#7aff85,#67ff98,#76ff89,#9bff64,#a8ff57,#a5ff5a,#78ff87,#65ff9a,#81ff7e,#89ff76,#6dff92,#61ff9e,#6dff92,#7aff85,#81ff7e,#71ff8e,#5cffa3,#67ff98,#76ff89,#80ff7f,#92ff6d,#8dff72,#7fff80,#73ff8c,#88ff77,#baff45,#cbff34,#bfff40,#a1ff5e,#91ff6e,#8eff71,#8dff72,#9fff60,#c6ff39,#d1ff2e,#b6ff49,#b2ff4d,#bdff42,#beff41,#9fff60,#4fffb0,#2cffd3,#75ff8a,#ffe500,#ff3000,#e10000,#ff1f00,#ff9400,#ffee00,#fff400,#ffd100)}
.c145{background:linear-gradient(90deg,#c6ff39,#d3ff2c,#beff41,#93ff6c,#5cffa3,#1cffe3,#15ffea,#30ffcf,#4dffb2,#69ff96,#81ff7e,#69ff96,#6eff91,#9cff63,#99ff66,#76ff89,#67ff98,#7bff84,#84ff7b,#85ff7a,#9eff61,#a3ff5c,#95ff6a,#9cff63,#96ff69,#83ff7c,#6cff93,#61ff9e,#68ff97,#73ff8c,#62ff9d,#6cff93,#99ff66,#a5ff5a,#90ff6f,#79ff86,#65ff9a,#72ff8d,#98ff67,#a7ff58,#a5ff5a,#7fff80,#61ff9e,#79ff86,#86ff79,#6bff94,#58ffa7,#63ff9c,#6cff93,#72ff8d,#70ff8f,#62ff9d,#62ff9d,#6cff93,#76ff89,#92ff6d,#99ff66,#82ff7d,#72ff8d,#88ff77,#bbff44,#d3ff2c,#d0ff2f,#b8ff47,#9fff60,#91ff6e,#92ff6d,#9dff62,#b3ff4c,#bdff42,#b4ff4b,#b1ff4e,#b3ff4c,#9aff65,#6aff95,#3affc5,#5dffa2,#e4ff1b,#ff7700,#ff0e00,#ff2a00,#ffac00,#e0ff1f,#a7ff58,#aeff51,#d2ff2d)}
.c146{background:linear-gradient(90deg,#5affa5,#51ffae,#20ffdf,#00e1ff,#00c7ff,#00c1ff,#00e4ff,#1dffe2,#47ffb8,#63ff9c,#80ff7f,#6fff90,#4fffb0,#71ff8e,#86ff79,#76ff89,#68ff97,#7dff82,#8dff72,#82ff7d,#90ff6f,#9eff61,#89ff76,#89ff76,#92ff6d,#89ff76,#70ff8f,#58ffa7,#59ffa6,#6eff91,#60ff9f,#62ff9d,#89ff76,#99ff66,#92ff6d,#81ff7e,#69ff96,#71ff8e,#92ff6d,#a0ff5f,#9eff61,#85ff7a,#69ff96,#7cff83,#8fff70,#7cff83,#64ff9b,#67ff98,#69ff96,#68ff97,#6dff92,#6bff94,#67ff98,#67ff98,#6fff90,#8dff72,#a3ff5c,#8eff71,#75ff8a,#8bff74,#bfff40,#d7ff28,#d7ff28,#c4ff3b,#a7ff58,#8bff74,#8cff73,#99ff66,#a1ff5e,#a6ff59,#a7ff58,#a2ff5d,#94ff6b,#73ff8c,#4dffb2,#59ffa6,#baff45,#ffb400,#ff4b00,#ff4a00,#ffb800,#a6ff59,#38ffc7,#14ffeb,#2bffd4,#5affa5)}
.c147{background:linear-gradient(90deg,#00eaff,#00d0ff,#008dff,#0051ff,#0059ff,#0090ff,#00e4ff,#3cffc3,#6bff94,#7aff85,#87ff78,#80ff7f,#47ffb8,#4affb5,#6fff90,#70ff8f,#6bff94,#83ff7c,#9cff63,#8fff70,#8dff72,#9eff61,#88ff77,#76ff89,#84ff7b,#8bff74,#75ff8a,#59ffa6,#51ffae,#68ff97,#5bffa4,#55ffaa,#78ff87,#8aff75,#8eff71,#89ff76,#6fff90,#73ff8c,#8dff72,#93ff6c,#93ff6c,#89ff76,#7bff84,#8aff75,#9fff60,#99ff66,#84ff7b,#7dff82,#74ff8b,#69ff96,#6eff91,#74ff8b,#73ff8c,#6dff92,#6eff91,#84ff7b,#9fff60,#98ff67,#7cff83,#89ff76,#c1ff3e,#d6ff29,#d2ff2d,#c1ff3e,#a3ff5c,#7bff84,#79ff86,#8eff71,#90ff6f,#8dff72,#90ff6f,#87ff78,#6bff94,#4effb1,#58ffa7,#a7ff58,#ffe200,#ff8300,#ff7300,#ffd100,#91ff6e,#00edff,#0082ff,#0071ff,#00a1ff,#00dfff)}
.c148{background:linear-gradient(90deg,#0095ff,#006bff,#0029ff,#0016ff,#004bff,#00b0ff,#2bffd4,#a0ff5f,#cdff32,#b7ff48,#9aff65,#8fff70,#55ffaa,#35ffca,#5cffa3,#6aff95,#6bff94,#87ff78,#a7ff58,#a3ff5c,#97ff68,#a2ff5d,#93ff6c,#75ff8a,#73ff8c,#88ff77,#7bff84,#5fffa0,#52ffad,#65ff9a,#58ffa7,#48ffb7,#67ff98,#7bff84,#83ff7c,#86ff79,#72ff8d,#74ff8b,#8aff75,#86ff79,#85ff7a,#8aff75,#8bff74,#9dff62,#afff50,#b6ff49,#adff52,#a1ff5e,#8dff72,#76ff89,#75ff8a,#7cff83,#7fff80,#7aff85,#76ff89,#7eff81,#8fff70,#94ff6b,#80ff7f,#81ff7e,#b6ff49,#cdff32,#c3ff3c,#b0ff4f,#93ff6c,#65ff9a,#5bffa4,#7cff83,#80ff7f,#74ff8b,#74ff8b,#66ff99,#43ffbc,#3bffc4,#82ff7d,#fffe00,#ffa200,#ff9600,#ffdd00,#8cff73,#00dcff,#0047ff,#0000f0,#0000f9,#0040ff,#0080ff)}
.c149{background:linear-gradient(90deg,#007cff,#004fff,#0022ff,#004bff,#00b0ff,#32ffcd,#c3ff3c,#ffc100,#ffb100,#ffff00,#afff50,#97ff68,#6dff92,#38ffc7,#51ffae,#68ff97,#69ff96,#87ff78,#a8ff57,#b2ff4d,#a8ff57,#abff54,#a3ff5c,#8aff75,#74ff8b,#85ff7a,#83ff7c,#68ff97,#5affa5,#66ff99,#5cffa3,#44ffbb,#58ffa7,#6fff90,#79ff86,#7bff84,#6eff91,#71ff8e,#85ff7a,#7eff81,#77ff88,#86ff79,#94ff6b,#a9ff56,#b6ff49,#c4ff3b,#cdff32,#c6ff39,#b0ff4f,#8cff73,#81ff7e,#84ff7b,#86ff79,#88ff77,#86ff79,#7eff81,#7cff83,#82ff7d,#7eff81,#75ff8a,#9eff61,#bbff44,#b0ff4f,#9bff64,#7eff81,#53ffac,#3fffc0,#64ff9b,#72ff8d,#5fffa0,#59ffa6,#48ffb7,#2cffd3,#45ffba,#b3ff4c,#ffc500,#ff9300,#ffda00,#a2ff5d,#04fffb,#005eff,#0000e4,#0000bc,#0000e5,#002dff,#0064ff)}
.c150{background:linear-gradient(90deg,#00aeff,#008eff,#0077ff,#00c4ff,#57ffa8,#eaff15,#ff9000,#ff5400,#ff7e00,#ffe600,#b9ff46,#9bff64,#83ff7c,#4dffb2,#51ffae,#6bff94,#69ff96,#83ff7c,#a2ff5d,#b2ff4d,#b4ff4b,#b6ff49,#b1ff4e,#a8ff57,#8bff74,#89ff76,#8bff74,#74ff8b,#67ff98,#69ff96,#63ff9c,#4effb1,#52ffad,#64ff9b,#73ff8c,#72ff8d,#67ff98,#70ff8f,#7eff81,#79ff86,#71ff8e,#81ff7e,#94ff6b,#a9ff56,#b1ff4e,#beff41,#d7ff28,#dcff23,#ceff31,#a5ff5a,#8eff71,#8cff73,#8bff74,#8eff71,#94ff6b,#88ff77,#70ff8f,#6aff95,#74ff8b,#68ff97,#80ff7f,#a3ff5c,#9eff61,#8aff75,#6eff91,#4affb5,#2effd1,#4cffb3,#67ff98,#53ffac,#45ffba,#36ffc9,#30ffcf,#65ff9a,#d3ff2c,#ffbe00,#ffaf00,#d9ff26,#3fffc0,#00b7ff,#003bff,#0000f0,#0000fa,#0039ff,#0071ff,#0098ff)}
.c151{background:linear-gradient(90deg,#0cfff3,#00fcff,#00f0ff,#3affc5,#deff21,#ff9d00,#ff6500,#ff7e00,#ffc000,#fffd00,#c0ff3f,#a3ff5c,#94ff6b,#68ff97,#5cffa3,#74ff8b,#73ff8c,#83ff7c,#99ff66,#a7ff58,#b1ff4e,#bcff43,#b9ff46,#bdff42,#adff52,#99ff66,#95ff6a,#84ff7b,#77ff88,#6fff90,#68ff97,#5effa1,#59ffa6,#5effa1,#70ff8f,#71ff8e,#66ff99,#77ff88,#7bff84,#75ff8a,#73ff8c,#81ff7e,#91ff6e,#9fff60,#a3ff5c,#a7ff58,#c8ff37,#d9ff26,#d9ff26,#b8ff47,#99ff66,#95ff6a,#8eff71,#8aff75,#96ff69,#94ff6b,#75ff8a,#5bffa4,#65ff9a,#5dffa2,#67ff98,#8cff73,#91ff6e,#82ff7d,#69ff96,#4cffb3,#2effd1,#3bffc4,#5effa1,#55ffaa,#42ffbd,#3affc5,#49ffb6,#88ff77,#deff21,#ffdf00,#ffe100,#a8ff57,#16ffe9,#00b1ff,#0071ff,#005bff,#0081ff,#00c1ff,#00e5ff,#00fcff)}
</style></head><body>

<div class="hm" style="left:36px;top:26px;width:169px;height:150px"><i class="a0"></i><i class="a1"></i><i class="a2"></i><i class="a3"></i><i class="a4"></i><i class="a5"></i><i class="a6"></i><i class="a7"></i><i class="a8"></i><i class="a9"></i><i class="a10"></i><i class="a11"></i><i class="a12"></i><i class="a13"></i><i class="a14"></i><i class="a15"></i><i class="a16"></i><i class="a17"></i><i class="a18"></i><i class="a19"></i><i class="a20"></i><i class="a21"></i><i class="a22"></i><i class="a23"></i><i class="a24"></i><i class="a25"></i><i class="a26"></i><i class="a27"></i><i class="a28"></i><i class="a29"></i><i class="a30"></i><i class="a31"></i><i class="a32"></i><i class="a33"></i><i class="a34"></i><i class="a35"></i><i class="a36"></i><i class="a37"></i><i class="a38"></i><i class="a39"></i><i class="a40"></i><i class="a41"></i><i class="a42"></i><i class="a43"></i><i class="a44"></i><i class="a45"></i><i class="a46"></i><i class="a47"></i><i class="a48"></i><i class="a49"></i><i class="a50"></i><i class="a51"></i><i class="a52"></i><i class="a53"></i><i class="a54"></i><i class="a55"></i><i class="a56"></i><i class="a57"></i><i class="a58"></i><i class="a59"></i><i class="a60"></i><i class="a61"></i><i class="a62"></i><i class="a63"></i><i class="a64"></i><i class="a65"></i><i class="a66"></i><i class="a67"></i><i class="a68"></i><i class="a69"></i><i class="a70"></i><i class="a71"></i><i class="a72"></i><i class="a73"></i><i class="a74"></i><i class="a75"></i><i class="a76"></i><i class="a77"></i><i class="a78"></i><i class="a79"></i><i class="a80"></i><i class="a81"></i><i class="a82"></i><i class="a83"></i><i class="a84"></i><i class="a85"></i><i class="a86"></i><i class="a87"></i><i class="a88"></i><i class="a89"></i><i class="a90"></i><i class="a91"></i><i class="a92"></i><i class="a93"></i><i class="a94"></i><i class="a95"></i><i class="a96"></i><i class="a97"></i><i class="a98"></i><i class="a99"></i><i class="a100"></i><i class="a101"></i><i class="a102"></i><i class="a103"></i><i class="a104"></i><i class="a105"></i><i class="a106"></i><i class="a107"></i><i class="a108"></i><i class="a109"></i><i class="a110"></i><i class="a111"></i><i class="a112"></i><i class="a113"></i><i class="a114"></i><i class="a115"></i><i class="a116"></i><i class="a117"></i><i class="a118"></i><i class="a119"></i><i class="a120"></i><i class="a121"></i><i class="a122"></i><i class="a123"></i><i class="a124"></i><i class="a125"></i><i class="a126"></i><i class="a127"></i><i class="a128"></i><i class="a129"></i><i class="a130"></i><i class="a131"></i><i class="a132"></i><i class="a133"></i><i class="a134"></i><i class="a135"></i><i class="a136"></i><i class="a137"></i><i class="a138"></i><i class="a139"></i><i class="a140"></i><i class="a141"></i><i class="a142"></i><i class="a143"></i><i class="a144"></i><i class="a145"></i><i class="a146"></i><i class="a147"></i><i class="a148"></i><i class="a149"></i></div>
<div class="cb" style="left:210.00px;top:25.50px;width:17.50px;height:150.50px"></div>
<div class="t tk" style="left:262.70px;top:35.30px;font-size:11.50px;transform:translate(-100%,-50%);">0.16</div>
<div class="t tk" style="left:262.70px;top:51.99px;font-size:11.50px;transform:translate(-100%,-50%);">0.12</div>
<div class="t tk" style="left:262.70px;top:68.68px;font-size:11.50px;transform:translate(-100%,-50%);">0.08</div>
<div class="t tk" style="left:262.70px;top:85.37px;font-size:11.50px;transform:translate(-100%,-50%);">0.04</div>
<div class="t tk" style="left:262.70px;top:102.06px;font-size:11.50px;transform:translate(-100%,-50%);">0.00</div>
<div class="t tk" style="left:262.70px;top:118.75px;font-size:11.50px;transform:translate(-100%,-50%);">-0.04</div>
<div class="t tk" style="left:262.70px;top:135.44px;font-size:11.50px;transform:translate(-100%,-50%);">-0.08</div>
<div class="t tk" style="left:262.70px;top:152.13px;font-size:11.50px;transform:translate(-100%,-50%);">-0.12</div>
<div class="t tk" style="left:262.70px;top:168.82px;font-size:11.50px;transform:translate(-100%,-50%);">-0.16</div>
<div class="t tk" style="left:31.70px;top:27.50px;font-size:11.50px;transform:translate(-100%,-50%);">2.0</div>
<div class="t tk" style="left:31.70px;top:65.00px;font-size:11.50px;transform:translate(-100%,-50%);">1.5</div>
<div class="t tk" style="left:31.70px;top:102.50px;font-size:11.50px;transform:translate(-100%,-50%);">1.0</div>
<div class="t tk" style="left:31.70px;top:140.00px;font-size:11.50px;transform:translate(-100%,-50%);">0.5</div>
<div class="t tk" style="left:31.70px;top:177.50px;font-size:11.50px;transform:translate(-100%,-50%);">0.0</div>
<div class="t tk" style="left:36.00px;top:184.80px;font-size:11.50px;transform:translate(-50%,-50%);">0.0</div>
<div class="t tk" style="left:78.25px;top:184.80px;font-size:11.50px;transform:translate(-50%,-50%);">0.5</div>
<div class="t tk" style="left:120.50px;top:184.80px;font-size:11.50px;transform:translate(-50%,-50%);">1.0</div>
<div class="t tk" style="left:162.75px;top:184.80px;font-size:11.50px;transform:translate(-50%,-50%);">1.5</div>
<div class="t tk" style="left:205.00px;top:184.80px;font-size:11.50px;transform:translate(-50%,-50%);">2.0</div>
<div class="tm" style="left:43.95px;top:173.80px;width:1px;height:2.2px"></div>
<div class="tm" style="left:52.40px;top:173.80px;width:1px;height:2.2px"></div>
<div class="tm" style="left:60.85px;top:173.80px;width:1px;height:2.2px"></div>
<div class="tm" style="left:69.30px;top:173.80px;width:1px;height:2.2px"></div>
<div class="tm" style="left:77.75px;top:172.00px;width:1px;height:4.0px"></div>
<div class="tm" style="left:86.20px;top:173.80px;width:1px;height:2.2px"></div>
<div class="tm" style="left:94.65px;top:173.80px;width:1px;height:2.2px"></div>
<div class="tm" style="left:103.10px;top:173.80px;width:1px;height:2.2px"></div>
<div class="tm" style="left:111.55px;top:173.80px;width:1px;height:2.2px"></div>
<div class="tm" style="left:120.00px;top:172.00px;width:1px;height:4.0px"></div>
<div class="tm" style="left:128.45px;top:173.80px;width:1px;height:2.2px"></div>
<div class="tm" style="left:136.90px;top:173.80px;width:1px;height:2.2px"></div>
<div class="tm" style="left:145.35px;top:173.80px;width:1px;height:2.2px"></div>
<div class="tm" style="left:153.80px;top:173.80px;width:1px;height:2.2px"></div>
<div class="tm" style="left:162.25px;top:172.00px;width:1px;height:4.0px"></div>
<div class="tm" style="left:170.70px;top:173.80px;width:1px;height:2.2px"></div>
<div class="tm" style="left:179.15px;top:173.80px;width:1px;height:2.2px"></div>
<div class="tm" style="left:187.60px;top:173.80px;width:1px;height:2.2px"></div>
<div class="tm" style="left:196.05px;top:173.80px;width:1px;height:2.2px"></div>
<div class="tm" style="left:36.00px;top:33.00px;width:2.2px;height:1px"></div>
<div class="tm" style="left:36.00px;top:40.50px;width:2.2px;height:1px"></div>
<div class="tm" style="left:36.00px;top:48.00px;width:2.2px;height:1px"></div>
<div class="tm" style="left:36.00px;top:55.50px;width:2.2px;height:1px"></div>
<div class="tm" style="left:36.00px;top:63.00px;width:4.0px;height:1px"></div>
<div class="tm" style="left:36.00px;top:70.50px;width:2.2px;height:1px"></div>
<div class="tm" style="left:36.00px;top:78.00px;width:2.2px;height:1px"></div>
<div class="tm" style="left:36.00px;top:85.50px;width:2.2px;height:1px"></div>
<div class="tm" style="left:36.00px;top:93.00px;width:2.2px;height:1px"></div>
<div class="tm" style="left:36.00px;top:100.50px;width:4.0px;height:1px"></div>
<div class="tm" style="left:36.00px;top:108.00px;width:2.2px;height:1px"></div>
<div class="tm" style="left:36.00px;top:115.50px;width:2.2px;height:1px"></div>
<div class="tm" style="left:36.00px;top:123.00px;width:2.2px;height:1px"></div>
<div class="tm" style="left:36.00px;top:130.50px;width:2.2px;height:1px"></div>
<div class="tm" style="left:36.00px;top:138.00px;width:4.0px;height:1px"></div>
<div class="tm" style="left:36.00px;top:145.50px;width:2.2px;height:1px"></div>
<div class="tm" style="left:36.00px;top:153.00px;width:2.2px;height:1px"></div>
<div class="tm" style="left:36.00px;top:160.50px;width:2.2px;height:1px"></div>
<div class="tm" style="left:36.00px;top:168.00px;width:2.2px;height:1px"></div>
<div class="ax" style="left:120.50px;top:198.00px;transform:translate(-50%,-50%)"><span style="font-size:11px;position:relative;top:-0.5px">&#981;</span> / &#960;</div>
<div class="ax" style="left:6.50px;top:101.00px;transform:translate(-50%,-50%) rotate(-90deg)">&#952; / &#960;</div>
<div class="hm" style="left:309px;top:25px;width:170px;height:151px"><i class="b0"></i><i class="b1"></i><i class="b2"></i><i class="b3"></i><i class="b4"></i><i class="b5"></i><i class="b6"></i><i class="b7"></i><i class="b8"></i><i class="b9"></i><i class="b10"></i><i class="b11"></i><i class="b12"></i><i class="b13"></i><i class="b14"></i><i class="b15"></i><i class="b16"></i><i class="b17"></i><i class="b18"></i><i class="b19"></i><i class="b20"></i><i class="b21"></i><i class="b22"></i><i class="b23"></i><i class="b24"></i><i class="b25"></i><i class="b26"></i><i class="b27"></i><i class="b28"></i><i class="b29"></i><i class="b30"></i><i class="b31"></i><i class="b32"></i><i class="b33"></i><i class="b34"></i><i class="b35"></i><i class="b36"></i><i class="b37"></i><i class="b38"></i><i class="b39"></i><i class="b40"></i><i class="b41"></i><i class="b42"></i><i class="b43"></i><i class="b44"></i><i class="b45"></i><i class="b46"></i><i class="b47"></i><i class="b48"></i><i class="b49"></i><i class="b50"></i><i class="b51"></i><i class="b52"></i><i class="b53"></i><i class="b54"></i><i class="b55"></i><i class="b56"></i><i class="b57"></i><i class="b58"></i><i class="b59"></i><i class="b60"></i><i class="b61"></i><i class="b62"></i><i class="b63"></i><i class="b64"></i><i class="b65"></i><i class="b66"></i><i class="b67"></i><i class="b68"></i><i class="b69"></i><i class="b70"></i><i class="b71"></i><i class="b72"></i><i class="b73"></i><i class="b74"></i><i class="b75"></i><i class="b76"></i><i class="b77"></i><i class="b78"></i><i class="b79"></i><i class="b80"></i><i class="b81"></i><i class="b82"></i><i class="b83"></i><i class="b84"></i><i class="b85"></i><i class="b86"></i><i class="b87"></i><i class="b88"></i><i class="b89"></i><i class="b90"></i><i class="b91"></i><i class="b92"></i><i class="b93"></i><i class="b94"></i><i class="b95"></i><i class="b96"></i><i class="b97"></i><i class="b98"></i><i class="b99"></i><i class="b100"></i><i class="b101"></i><i class="b102"></i><i class="b103"></i><i class="b104"></i><i class="b105"></i><i class="b106"></i><i class="b107"></i><i class="b108"></i><i class="b109"></i><i class="b110"></i><i class="b111"></i><i class="b112"></i><i class="b113"></i><i class="b114"></i><i class="b115"></i><i class="b116"></i><i class="b117"></i><i class="b118"></i><i class="b119"></i><i class="b120"></i><i class="b121"></i><i class="b122"></i><i class="b123"></i><i class="b124"></i><i class="b125"></i><i class="b126"></i><i class="b127"></i><i class="b128"></i><i class="b129"></i><i class="b130"></i><i class="b131"></i><i class="b132"></i><i class="b133"></i><i class="b134"></i><i class="b135"></i><i class="b136"></i><i class="b137"></i><i class="b138"></i><i class="b139"></i><i class="b140"></i><i class="b141"></i><i class="b142"></i><i class="b143"></i><i class="b144"></i><i class="b145"></i><i class="b146"></i><i class="b147"></i><i class="b148"></i><i class="b149"></i><i class="b150"></i></div>
<div class="cb" style="left:485.00px;top:24.50px;width:16.50px;height:151.50px"></div>
<div class="t tk" style="left:537.60px;top:33.85px;font-size:11.50px;transform:translate(-100%,-50%);">0.20</div>
<div class="t tk" style="left:537.60px;top:50.69px;font-size:11.50px;transform:translate(-100%,-50%);">0.15</div>
<div class="t tk" style="left:537.60px;top:67.53px;font-size:11.50px;transform:translate(-100%,-50%);">0.10</div>
<div class="t tk" style="left:537.60px;top:84.37px;font-size:11.50px;transform:translate(-100%,-50%);">0.05</div>
<div class="t tk" style="left:537.60px;top:101.21px;font-size:11.50px;transform:translate(-100%,-50%);">0.00</div>
<div class="t tk" style="left:537.60px;top:118.05px;font-size:11.50px;transform:translate(-100%,-50%);">-0.05</div>
<div class="t tk" style="left:537.60px;top:134.89px;font-size:11.50px;transform:translate(-100%,-50%);">-0.10</div>
<div class="t tk" style="left:537.60px;top:151.73px;font-size:11.50px;transform:translate(-100%,-50%);">-0.15</div>
<div class="t tk" style="left:537.60px;top:168.57px;font-size:11.50px;transform:translate(-100%,-50%);">-0.20</div>
<div class="t tk" style="left:304.70px;top:26.50px;font-size:11.50px;transform:translate(-100%,-50%);">2.0</div>
<div class="t tk" style="left:304.70px;top:64.25px;font-size:11.50px;transform:translate(-100%,-50%);">1.5</div>
<div class="t tk" style="left:304.70px;top:102.00px;font-size:11.50px;transform:translate(-100%,-50%);">1.0</div>
<div class="t tk" style="left:304.70px;top:139.75px;font-size:11.50px;transform:translate(-100%,-50%);">0.5</div>
<div class="t tk" style="left:304.70px;top:177.50px;font-size:11.50px;transform:translate(-100%,-50%);">0.0</div>
<div class="t tk" style="left:309.00px;top:184.80px;font-size:11.50px;transform:translate(-50%,-50%);">0.0</div>
<div class="t tk" style="left:351.50px;top:184.80px;font-size:11.50px;transform:translate(-50%,-50%);">0.5</div>
<div class="t tk" style="left:394.00px;top:184.80px;font-size:11.50px;transform:translate(-50%,-50%);">1.0</div>
<div class="t tk" style="left:436.50px;top:184.80px;font-size:11.50px;transform:translate(-50%,-50%);">1.5</div>
<div class="t tk" style="left:479.00px;top:184.80px;font-size:11.50px;transform:translate(-50%,-50%);">2.0</div>
<div class="tm" style="left:317.00px;top:173.80px;width:1px;height:2.2px"></div>
<div class="tm" style="left:325.50px;top:173.80px;width:1px;height:2.2px"></div>
<div class="tm" style="left:334.00px;top:173.80px;width:1px;height:2.2px"></div>
<div class="tm" style="left:342.50px;top:173.80px;width:1px;height:2.2px"></div>
<div class="tm" style="left:351.00px;top:172.00px;width:1px;height:4.0px"></div>
<div class="tm" style="left:359.50px;top:173.80px;width:1px;height:2.2px"></div>
<div class="tm" style="left:368.00px;top:173.80px;width:1px;height:2.2px"></div>
<div class="tm" style="left:376.50px;top:173.80px;width:1px;height:2.2px"></div>
<div class="tm" style="left:385.00px;top:173.80px;width:1px;height:2.2px"></div>
<div class="tm" style="left:393.50px;top:172.00px;width:1px;height:4.0px"></div>
<div class="tm" style="left:402.00px;top:173.80px;width:1px;height:2.2px"></div>
<div class="tm" style="left:410.50px;top:173.80px;width:1px;height:2.2px"></div>
<div class="tm" style="left:419.00px;top:173.80px;width:1px;height:2.2px"></div>
<div class="tm" style="left:427.50px;top:173.80px;width:1px;height:2.2px"></div>
<div class="tm" style="left:436.00px;top:172.00px;width:1px;height:4.0px"></div>
<div class="tm" style="left:444.50px;top:173.80px;width:1px;height:2.2px"></div>
<div class="tm" style="left:453.00px;top:173.80px;width:1px;height:2.2px"></div>
<div class="tm" style="left:461.50px;top:173.80px;width:1px;height:2.2px"></div>
<div class="tm" style="left:470.00px;top:173.80px;width:1px;height:2.2px"></div>
<div class="tm" style="left:309.00px;top:32.05px;width:2.2px;height:1px"></div>
<div class="tm" style="left:309.00px;top:39.60px;width:2.2px;height:1px"></div>
<div class="tm" style="left:309.00px;top:47.15px;width:2.2px;height:1px"></div>
<div class="tm" style="left:309.00px;top:54.70px;width:2.2px;height:1px"></div>
<div class="tm" style="left:309.00px;top:62.25px;width:4.0px;height:1px"></div>
<div class="tm" style="left:309.00px;top:69.80px;width:2.2px;height:1px"></div>
<div class="tm" style="left:309.00px;top:77.35px;width:2.2px;height:1px"></div>
<div class="tm" style="left:309.00px;top:84.90px;width:2.2px;height:1px"></div>
<div class="tm" style="left:309.00px;top:92.45px;width:2.2px;height:1px"></div>
<div class="tm" style="left:309.00px;top:100.00px;width:4.0px;height:1px"></div>
<div class="tm" style="left:309.00px;top:107.55px;width:2.2px;height:1px"></div>
<div class="tm" style="left:309.00px;top:115.10px;width:2.2px;height:1px"></div>
<div class="tm" style="left:309.00px;top:122.65px;width:2.2px;height:1px"></div>
<div class="tm" style="left:309.00px;top:130.20px;width:2.2px;height:1px"></div>
<div class="tm" style="left:309.00px;top:137.75px;width:4.0px;height:1px"></div>
<div class="tm" style="left:309.00px;top:145.30px;width:2.2px;height:1px"></div>
<div class="tm" style="left:309.00px;top:152.85px;width:2.2px;height:1px"></div>
<div class="tm" style="left:309.00px;top:160.40px;width:2.2px;height:1px"></div>
<div class="tm" style="left:309.00px;top:167.95px;width:2.2px;height:1px"></div>
<div class="ax" style="left:394.00px;top:198.00px;transform:translate(-50%,-50%)"><span style="font-size:11px;position:relative;top:-0.5px">&#981;</span> / &#960;</div>
<div class="ax" style="left:279.50px;top:100.50px;transform:translate(-50%,-50%) rotate(-90deg)">&#952; / &#960;</div>
<div class="hm" style="left:37px;top:229px;width:170px;height:152px"><i class="c0"></i><i class="c1"></i><i class="c2"></i><i class="c3"></i><i class="c4"></i><i class="c5"></i><i class="c6"></i><i class="c7"></i><i class="c8"></i><i class="c9"></i><i class="c10"></i><i class="c11"></i><i class="c12"></i><i class="c13"></i><i class="c14"></i><i class="c15"></i><i class="c16"></i><i class="c17"></i><i class="c18"></i><i class="c19"></i><i class="c20"></i><i class="c21"></i><i class="c22"></i><i class="c23"></i><i class="c24"></i><i class="c25"></i><i class="c26"></i><i class="c27"></i><i class="c28"></i><i class="c29"></i><i class="c30"></i><i class="c31"></i><i class="c32"></i><i class="c33"></i><i class="c34"></i><i class="c35"></i><i class="c36"></i><i class="c37"></i><i class="c38"></i><i class="c39"></i><i class="c40"></i><i class="c41"></i><i class="c42"></i><i class="c43"></i><i class="c44"></i><i class="c45"></i><i class="c46"></i><i class="c47"></i><i class="c48"></i><i class="c49"></i><i class="c50"></i><i class="c51"></i><i class="c52"></i><i class="c53"></i><i class="c54"></i><i class="c55"></i><i class="c56"></i><i class="c57"></i><i class="c58"></i><i class="c59"></i><i class="c60"></i><i class="c61"></i><i class="c62"></i><i class="c63"></i><i class="c64"></i><i class="c65"></i><i class="c66"></i><i class="c67"></i><i class="c68"></i><i class="c69"></i><i class="c70"></i><i class="c71"></i><i class="c72"></i><i class="c73"></i><i class="c74"></i><i class="c75"></i><i class="c76"></i><i class="c77"></i><i class="c78"></i><i class="c79"></i><i class="c80"></i><i class="c81"></i><i class="c82"></i><i class="c83"></i><i class="c84"></i><i class="c85"></i><i class="c86"></i><i class="c87"></i><i class="c88"></i><i class="c89"></i><i class="c90"></i><i class="c91"></i><i class="c92"></i><i class="c93"></i><i class="c94"></i><i class="c95"></i><i class="c96"></i><i class="c97"></i><i class="c98"></i><i class="c99"></i><i class="c100"></i><i class="c101"></i><i class="c102"></i><i class="c103"></i><i class="c104"></i><i class="c105"></i><i class="c106"></i><i class="c107"></i><i class="c108"></i><i class="c109"></i><i class="c110"></i><i class="c111"></i><i class="c112"></i><i class="c113"></i><i class="c114"></i><i class="c115"></i><i class="c116"></i><i class="c117"></i><i class="c118"></i><i class="c119"></i><i class="c120"></i><i class="c121"></i><i class="c122"></i><i class="c123"></i><i class="c124"></i><i class="c125"></i><i class="c126"></i><i class="c127"></i><i class="c128"></i><i class="c129"></i><i class="c130"></i><i class="c131"></i><i class="c132"></i><i class="c133"></i><i class="c134"></i><i class="c135"></i><i class="c136"></i><i class="c137"></i><i class="c138"></i><i class="c139"></i><i class="c140"></i><i class="c141"></i><i class="c142"></i><i class="c143"></i><i class="c144"></i><i class="c145"></i><i class="c146"></i><i class="c147"></i><i class="c148"></i><i class="c149"></i><i class="c150"></i><i class="c151"></i></div>
<div class="cb" style="left:213.00px;top:229.00px;width:17.00px;height:152.00px"></div>
<div class="t tk" style="left:265.40px;top:239.20px;font-size:11.50px;transform:translate(-100%,-50%);">1.80</div>
<div class="t tk" style="left:265.40px;top:256.07px;font-size:11.50px;transform:translate(-100%,-50%);">1.35</div>
<div class="t tk" style="left:265.40px;top:272.94px;font-size:11.50px;transform:translate(-100%,-50%);">0.90</div>
<div class="t tk" style="left:265.40px;top:289.81px;font-size:11.50px;transform:translate(-100%,-50%);">0.45</div>
<div class="t tk" style="left:265.40px;top:306.68px;font-size:11.50px;transform:translate(-100%,-50%);">0.00</div>
<div class="t tk" style="left:265.40px;top:323.55px;font-size:11.50px;transform:translate(-100%,-50%);">-0.45</div>
<div class="t tk" style="left:265.40px;top:340.42px;font-size:11.50px;transform:translate(-100%,-50%);">-0.90</div>
<div class="t tk" style="left:265.40px;top:357.29px;font-size:11.50px;transform:translate(-100%,-50%);">-1.35</div>
<div class="t tk" style="left:265.40px;top:374.16px;font-size:11.50px;transform:translate(-100%,-50%);">-1.80</div>
<div class="t tk" style="left:32.70px;top:230.50px;font-size:11.50px;transform:translate(-100%,-50%);">2.0</div>
<div class="t tk" style="left:32.70px;top:268.50px;font-size:11.50px;transform:translate(-100%,-50%);">1.5</div>
<div class="t tk" style="left:32.70px;top:306.50px;font-size:11.50px;transform:translate(-100%,-50%);">1.0</div>
<div class="t tk" style="left:32.70px;top:344.50px;font-size:11.50px;transform:translate(-100%,-50%);">0.5</div>
<div class="t tk" style="left:32.70px;top:382.50px;font-size:11.50px;transform:translate(-100%,-50%);">0.0</div>
<div class="t tk" style="left:37.00px;top:389.80px;font-size:11.50px;transform:translate(-50%,-50%);">0.0</div>
<div class="t tk" style="left:79.50px;top:389.80px;font-size:11.50px;transform:translate(-50%,-50%);">0.5</div>
<div class="t tk" style="left:122.00px;top:389.80px;font-size:11.50px;transform:translate(-50%,-50%);">1.0</div>
<div class="t tk" style="left:164.50px;top:389.80px;font-size:11.50px;transform:translate(-50%,-50%);">1.5</div>
<div class="t tk" style="left:207.00px;top:389.80px;font-size:11.50px;transform:translate(-50%,-50%);">2.0</div>
<div class="tm" style="left:45.00px;top:378.80px;width:1px;height:2.2px"></div>
<div class="tm" style="left:53.50px;top:378.80px;width:1px;height:2.2px"></div>
<div class="tm" style="left:62.00px;top:378.80px;width:1px;height:2.2px"></div>
<div class="tm" style="left:70.50px;top:378.80px;width:1px;height:2.2px"></div>
<div class="tm" style="left:79.00px;top:377.00px;width:1px;height:4.0px"></div>
<div class="tm" style="left:87.50px;top:378.80px;width:1px;height:2.2px"></div>
<div class="tm" style="left:96.00px;top:378.80px;width:1px;height:2.2px"></div>
<div class="tm" style="left:104.50px;top:378.80px;width:1px;height:2.2px"></div>
<div class="tm" style="left:113.00px;top:378.80px;width:1px;height:2.2px"></div>
<div class="tm" style="left:121.50px;top:377.00px;width:1px;height:4.0px"></div>
<div class="tm" style="left:130.00px;top:378.80px;width:1px;height:2.2px"></div>
<div class="tm" style="left:138.50px;top:378.80px;width:1px;height:2.2px"></div>
<div class="tm" style="left:147.00px;top:378.80px;width:1px;height:2.2px"></div>
<div class="tm" style="left:155.50px;top:378.80px;width:1px;height:2.2px"></div>
<div class="tm" style="left:164.00px;top:377.00px;width:1px;height:4.0px"></div>
<div class="tm" style="left:172.50px;top:378.80px;width:1px;height:2.2px"></div>
<div class="tm" style="left:181.00px;top:378.80px;width:1px;height:2.2px"></div>
<div class="tm" style="left:189.50px;top:378.80px;width:1px;height:2.2px"></div>
<div class="tm" style="left:198.00px;top:378.80px;width:1px;height:2.2px"></div>
<div class="tm" style="left:37.00px;top:236.10px;width:2.2px;height:1px"></div>
<div class="tm" style="left:37.00px;top:243.70px;width:2.2px;height:1px"></div>
<div class="tm" style="left:37.00px;top:251.30px;width:2.2px;height:1px"></div>
<div class="tm" style="left:37.00px;top:258.90px;width:2.2px;height:1px"></div>
<div class="tm" style="left:37.00px;top:266.50px;width:4.0px;height:1px"></div>
<div class="tm" style="left:37.00px;top:274.10px;width:2.2px;height:1px"></div>
<div class="tm" style="left:37.00px;top:281.70px;width:2.2px;height:1px"></div>
<div class="tm" style="left:37.00px;top:289.30px;width:2.2px;height:1px"></div>
<div class="tm" style="left:37.00px;top:296.90px;width:2.2px;height:1px"></div>
<div class="tm" style="left:37.00px;top:304.50px;width:4.0px;height:1px"></div>
<div class="tm" style="left:37.00px;top:312.10px;width:2.2px;height:1px"></div>
<div class="tm" style="left:37.00px;top:319.70px;width:2.2px;height:1px"></div>
<div class="tm" style="left:37.00px;top:327.30px;width:2.2px;height:1px"></div>
<div class="tm" style="left:37.00px;top:334.90px;width:2.2px;height:1px"></div>
<div class="tm" style="left:37.00px;top:342.50px;width:4.0px;height:1px"></div>
<div class="tm" style="left:37.00px;top:350.10px;width:2.2px;height:1px"></div>
<div class="tm" style="left:37.00px;top:357.70px;width:2.2px;height:1px"></div>
<div class="tm" style="left:37.00px;top:365.30px;width:2.2px;height:1px"></div>
<div class="tm" style="left:37.00px;top:372.90px;width:2.2px;height:1px"></div>
<div class="ax" style="left:122.00px;top:403.00px;transform:translate(-50%,-50%)"><span style="font-size:11px;position:relative;top:-0.5px">&#981;</span> / &#960;</div>
<div class="ax" style="left:7.50px;top:305.00px;transform:translate(-50%,-50%) rotate(-90deg)">&#952; / &#960;</div>
<div class="hm" style="left:309px;top:230px;width:170px;height:151px"><i class="b0"></i><i class="b1"></i><i class="b2"></i><i class="b3"></i><i class="b4"></i><i class="b5"></i><i class="b6"></i><i class="b7"></i><i class="b8"></i><i class="b9"></i><i class="b10"></i><i class="b11"></i><i class="b12"></i><i class="b13"></i><i class="b14"></i><i class="b15"></i><i class="b16"></i><i class="b17"></i><i class="b18"></i><i class="b19"></i><i class="b20"></i><i class="b21"></i><i class="b22"></i><i class="b23"></i><i class="b24"></i><i class="b25"></i><i class="b26"></i><i class="b27"></i><i class="b28"></i><i class="b29"></i><i class="b30"></i><i class="b31"></i><i class="b32"></i><i class="b33"></i><i class="b34"></i><i class="b35"></i><i class="b36"></i><i class="b37"></i><i class="b38"></i><i class="b39"></i><i class="b40"></i><i class="b41"></i><i class="b42"></i><i class="b43"></i><i class="b44"></i><i class="b45"></i><i class="b46"></i><i class="b47"></i><i class="b48"></i><i class="b49"></i><i class="b50"></i><i class="b51"></i><i class="b52"></i><i class="b53"></i><i class="b54"></i><i class="b55"></i><i class="b56"></i><i class="b57"></i><i class="b58"></i><i class="b59"></i><i class="b60"></i><i class="b61"></i><i class="b62"></i><i class="b63"></i><i class="b64"></i><i class="b65"></i><i class="b66"></i><i class="b67"></i><i class="b68"></i><i class="b69"></i><i class="b70"></i><i class="b71"></i><i class="b72"></i><i class="b73"></i><i class="b74"></i><i class="b75"></i><i class="b76"></i><i class="b77"></i><i class="b78"></i><i class="b79"></i><i class="b80"></i><i class="b81"></i><i class="b82"></i><i class="b83"></i><i class="b84"></i><i class="b85"></i><i class="b86"></i><i class="b87"></i><i class="b88"></i><i class="b89"></i><i class="b90"></i><i class="b91"></i><i class="b92"></i><i class="b93"></i><i class="b94"></i><i class="b95"></i><i class="b96"></i><i class="b97"></i><i class="b98"></i><i class="b99"></i><i class="b100"></i><i class="b101"></i><i class="b102"></i><i class="b103"></i><i class="b104"></i><i class="b105"></i><i class="b106"></i><i class="b107"></i><i class="b108"></i><i class="b109"></i><i class="b110"></i><i class="b111"></i><i class="b112"></i><i class="b113"></i><i class="b114"></i><i class="b115"></i><i class="b116"></i><i class="b117"></i><i class="b118"></i><i class="b119"></i><i class="b120"></i><i class="b121"></i><i class="b122"></i><i class="b123"></i><i class="b124"></i><i class="b125"></i><i class="b126"></i><i class="b127"></i><i class="b128"></i><i class="b129"></i><i class="b130"></i><i class="b131"></i><i class="b132"></i><i class="b133"></i><i class="b134"></i><i class="b135"></i><i class="b136"></i><i class="b137"></i><i class="b138"></i><i class="b139"></i><i class="b140"></i><i class="b141"></i><i class="b142"></i><i class="b143"></i><i class="b144"></i><i class="b145"></i><i class="b146"></i><i class="b147"></i><i class="b148"></i><i class="b149"></i><i class="b150"></i></div>
<div class="cb" style="left:485.00px;top:230.00px;width:16.50px;height:151.00px"></div>
<div class="t tk" style="left:537.60px;top:240.45px;font-size:11.50px;transform:translate(-100%,-50%);">0.20</div>
<div class="t tk" style="left:537.60px;top:257.31px;font-size:11.50px;transform:translate(-100%,-50%);">0.15</div>
<div class="t tk" style="left:537.60px;top:274.17px;font-size:11.50px;transform:translate(-100%,-50%);">0.10</div>
<div class="t tk" style="left:537.60px;top:291.03px;font-size:11.50px;transform:translate(-100%,-50%);">0.05</div>
<div class="t tk" style="left:537.60px;top:307.89px;font-size:11.50px;transform:translate(-100%,-50%);">0.00</div>
<div class="t tk" style="left:537.60px;top:324.75px;font-size:11.50px;transform:translate(-100%,-50%);">-0.05</div>
<div class="t tk" style="left:537.60px;top:341.61px;font-size:11.50px;transform:translate(-100%,-50%);">-0.10</div>
<div class="t tk" style="left:537.60px;top:358.47px;font-size:11.50px;transform:translate(-100%,-50%);">-0.15</div>
<div class="t tk" style="left:537.60px;top:375.33px;font-size:11.50px;transform:translate(-100%,-50%);">-0.20</div>
<div class="t tk" style="left:304.70px;top:231.50px;font-size:11.50px;transform:translate(-100%,-50%);">2.0</div>
<div class="t tk" style="left:304.70px;top:269.25px;font-size:11.50px;transform:translate(-100%,-50%);">1.5</div>
<div class="t tk" style="left:304.70px;top:307.00px;font-size:11.50px;transform:translate(-100%,-50%);">1.0</div>
<div class="t tk" style="left:304.70px;top:344.75px;font-size:11.50px;transform:translate(-100%,-50%);">0.5</div>
<div class="t tk" style="left:304.70px;top:382.50px;font-size:11.50px;transform:translate(-100%,-50%);">0.0</div>
<div class="t tk" style="left:309.00px;top:390.60px;font-size:11.50px;transform:translate(-50%,-50%);">0.0</div>
<div class="t tk" style="left:351.50px;top:390.60px;font-size:11.50px;transform:translate(-50%,-50%);">0.5</div>
<div class="t tk" style="left:394.00px;top:390.60px;font-size:11.50px;transform:translate(-50%,-50%);">1.0</div>
<div class="t tk" style="left:436.50px;top:390.60px;font-size:11.50px;transform:translate(-50%,-50%);">1.5</div>
<div class="t tk" style="left:479.00px;top:390.60px;font-size:11.50px;transform:translate(-50%,-50%);">2.0</div>
<div class="tm" style="left:317.00px;top:378.80px;width:1px;height:2.2px"></div>
<div class="tm" style="left:325.50px;top:378.80px;width:1px;height:2.2px"></div>
<div class="tm" style="left:334.00px;top:378.80px;width:1px;height:2.2px"></div>
<div class="tm" style="left:342.50px;top:378.80px;width:1px;height:2.2px"></div>
<div class="tm" style="left:351.00px;top:377.00px;width:1px;height:4.0px"></div>
<div class="tm" style="left:359.50px;top:378.80px;width:1px;height:2.2px"></div>
<div class="tm" style="left:368.00px;top:378.80px;width:1px;height:2.2px"></div>
<div class="tm" style="left:376.50px;top:378.80px;width:1px;height:2.2px"></div>
<div class="tm" style="left:385.00px;top:378.80px;width:1px;height:2.2px"></div>
<div class="tm" style="left:393.50px;top:377.00px;width:1px;height:4.0px"></div>
<div class="tm" style="left:402.00px;top:378.80px;width:1px;height:2.2px"></div>
<div class="tm" style="left:410.50px;top:378.80px;width:1px;height:2.2px"></div>
<div class="tm" style="left:419.00px;top:378.80px;width:1px;height:2.2px"></div>
<div class="tm" style="left:427.50px;top:378.80px;width:1px;height:2.2px"></div>
<div class="tm" style="left:436.00px;top:377.00px;width:1px;height:4.0px"></div>
<div class="tm" style="left:444.50px;top:378.80px;width:1px;height:2.2px"></div>
<div class="tm" style="left:453.00px;top:378.80px;width:1px;height:2.2px"></div>
<div class="tm" style="left:461.50px;top:378.80px;width:1px;height:2.2px"></div>
<div class="tm" style="left:470.00px;top:378.80px;width:1px;height:2.2px"></div>
<div class="tm" style="left:309.00px;top:237.05px;width:2.2px;height:1px"></div>
<div class="tm" style="left:309.00px;top:244.60px;width:2.2px;height:1px"></div>
<div class="tm" style="left:309.00px;top:252.15px;width:2.2px;height:1px"></div>
<div class="tm" style="left:309.00px;top:259.70px;width:2.2px;height:1px"></div>
<div class="tm" style="left:309.00px;top:267.25px;width:4.0px;height:1px"></div>
<div class="tm" style="left:309.00px;top:274.80px;width:2.2px;height:1px"></div>
<div class="tm" style="left:309.00px;top:282.35px;width:2.2px;height:1px"></div>
<div class="tm" style="left:309.00px;top:289.90px;width:2.2px;height:1px"></div>
<div class="tm" style="left:309.00px;top:297.45px;width:2.2px;height:1px"></div>
<div class="tm" style="left:309.00px;top:305.00px;width:4.0px;height:1px"></div>
<div class="tm" style="left:309.00px;top:312.55px;width:2.2px;height:1px"></div>
<div class="tm" style="left:309.00px;top:320.10px;width:2.2px;height:1px"></div>
<div class="tm" style="left:309.00px;top:327.65px;width:2.2px;height:1px"></div>
<div class="tm" style="left:309.00px;top:335.20px;width:2.2px;height:1px"></div>
<div class="tm" style="left:309.00px;top:342.75px;width:4.0px;height:1px"></div>
<div class="tm" style="left:309.00px;top:350.30px;width:2.2px;height:1px"></div>
<div class="tm" style="left:309.00px;top:357.85px;width:2.2px;height:1px"></div>
<div class="tm" style="left:309.00px;top:365.40px;width:2.2px;height:1px"></div>
<div class="tm" style="left:309.00px;top:372.95px;width:2.2px;height:1px"></div>
<div class="ax" style="left:394.00px;top:403.00px;transform:translate(-50%,-50%)"><span style="font-size:11px;position:relative;top:-0.5px">&#981;</span> / &#960;</div>
<div class="ax" style="left:279.50px;top:305.50px;transform:translate(-50%,-50%) rotate(-90deg)">&#952; / &#960;</div>
<div class="t b" style="left:5.80px;top:7.60px;font-size:13.50px;transform:translate(0,-50%);">(a)</div>
<div class="t b" style="left:278.60px;top:6.50px;font-size:13.50px;transform:translate(0,-50%);">(b)</div>
<div class="t b" style="left:6.50px;top:211.20px;font-size:13.50px;transform:translate(0,-50%);">(c)</div>
<div class="t b" style="left:278.60px;top:211.80px;font-size:13.50px;transform:translate(0,-50%);">(d)</div>
<div class="t" style="left:220px;top:2.2px;font-size:14px;"><b>h</b></div>
<div class="t" style="left:228.6px;top:7px;font-size:10.5px;color:#777">&#177;</div>
<div class="t" style="left:238.2px;top:-0.4px;font-size:16.5px;">(</div>
<div class="t" style="left:244.5px;top:2.2px;font-size:14px;"><b>m</b></div>
<div class="t" style="left:256.5px;top:-0.4px;font-size:16.5px;">)</div>
<div class="t" style="left:484px;top:1.5px;font-size:13px;"><b>B</b></div>
<div class="t" style="left:493.3px;top:1.3px;font-size:8px;"><b>approx</b></div>
<div class="t" style="left:494px;top:9.3px;font-size:8.3px;"><b>pmn</b></div>
<div class="t" style="left:519.5px;top:0px;font-size:15.5px;">(</div>
<div class="t" style="left:524.5px;top:1.8px;font-size:13px;"><b>T</b></div>
<div class="t" style="left:535.5px;top:0px;font-size:15.5px;">)</div>
<div class="t" style="left:222.8px;top:207px;font-size:14px;"><b>B</b></div>
<div class="t" style="left:232.7px;top:214px;font-size:8px;"><b>n</b></div>
<div class="t" style="left:240px;top:206.3px;font-size:14.5px;">(</div>
<div class="t" style="left:245.2px;top:207px;font-size:14px;"><b>Gs</b></div>
<div class="t" style="left:261.5px;top:206.3px;font-size:14.5px;">)</div>
<div class="t" style="left:491.6px;top:207.7px;font-size:14px;"><b>B</b></div>
<div class="t" style="left:501.2px;top:214.2px;font-size:8.5px;"><b>pmn</b></div>
<div class="t" style="left:519.3px;top:206.5px;font-size:15.5px;">(</div>
<div class="t" style="left:523.5px;top:207.7px;font-size:14px;"><b>T</b></div>
<div class="t" style="left:534.5px;top:206.5px;font-size:15.5px;">)</div>
</body></html>
